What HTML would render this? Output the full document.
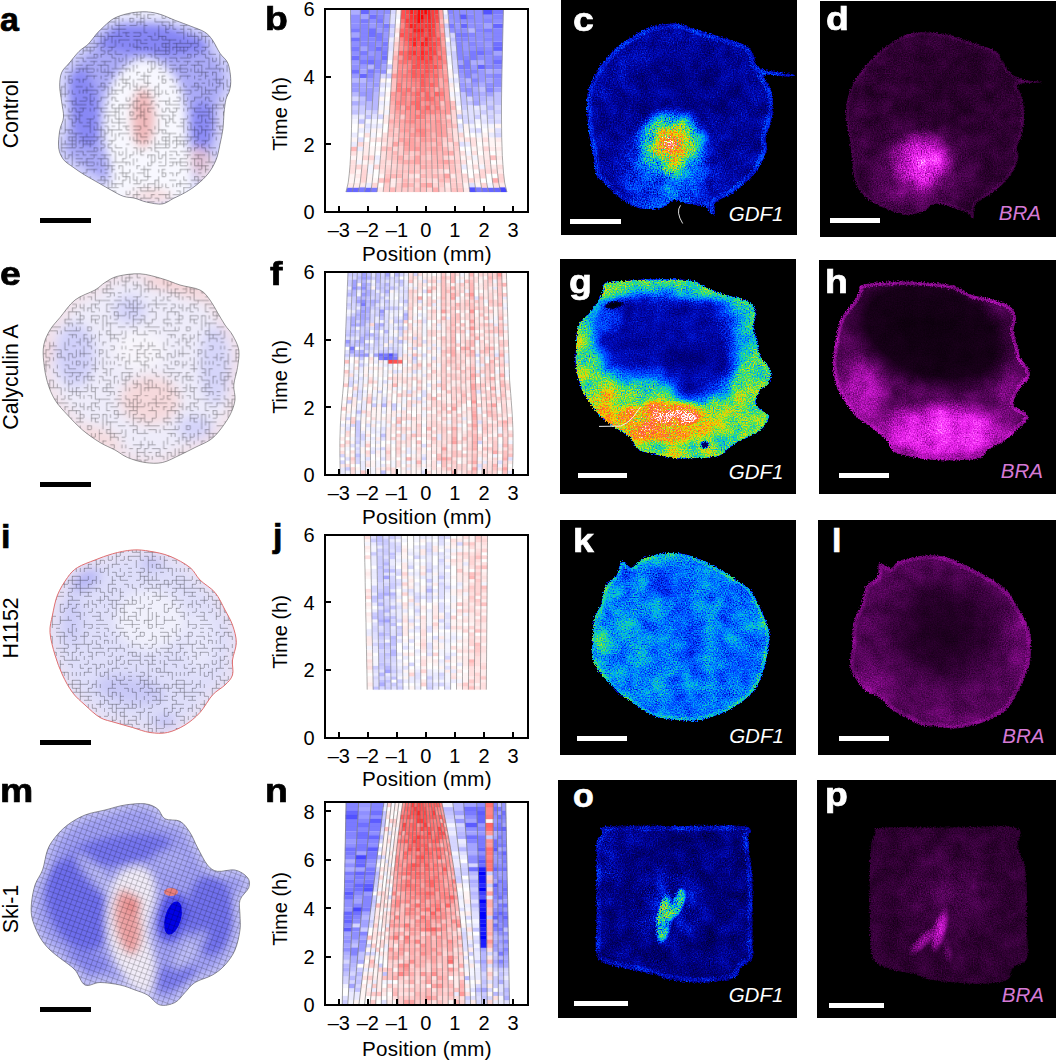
<!DOCTYPE html>
<html><head><meta charset="utf-8"><style>
html,body{margin:0;padding:0;background:#fff;}
body{width:1056px;height:1061px;position:relative;overflow:hidden;font-family:'Liberation Sans', sans-serif;}
</style></head><body>
<svg style="position:absolute;left:0;top:0" width="1056" height="1061" viewBox="0 0 1056 1061"><defs><filter id="f1" x="561" y="0" width="236" height="235" filterUnits="userSpaceOnUse" color-interpolation-filters="sRGB"><feTurbulence type="fractalNoise" baseFrequency="0.75" numOctaves="1" seed="3" result="t1"/><feTurbulence type="fractalNoise" baseFrequency="0.06" numOctaves="2" seed="10" result="t2"/><feDisplacementMap in="SourceGraphic" in2="t1" scale="5" xChannelSelector="R" yChannelSelector="G" result="sg"/><feComposite in="t1" in2="t2" operator="arithmetic" k2="0.65" k3="0.35" result="t"/><feColorMatrix in="t" values="1 0 0 0 0 1 0 0 0 0 1 0 0 0 0 0 0 0 0 1" result="n"/><feComposite in="sg" in2="n" operator="arithmetic" k1="2.4" k2="-0.200" k3="0" k4="0" result="m"/><feComponentTransfer in="m"><feFuncR type="table" tableValues="0 0 0 0 0 0 0 0.1 0.35 0.7 0.95 1 1 0.98 1 1 1"/><feFuncG type="table" tableValues="0 0 0 0.05 0.22 0.45 0.7 0.85 0.9 0.9 0.85 0.65 0.45 0.35 0.5 0.8 1"/><feFuncB type="table" tableValues="0 0.3 0.5 0.75 1 1 0.95 0.6 0.3 0.1 0 0 0.1 0.25 0.5 0.8 1"/><feFuncA type="linear" slope="0" intercept="1"/></feComponentTransfer></filter><clipPath id="c2"><path d="M660.0 25.0C665.3 24.2 672.1 23.1 678.2 23.9C684.3 24.6 689.6 27.4 696.4 29.5C703.2 31.6 712.2 34.3 719.0 36.4C725.8 38.5 732.4 40.1 737.3 42.0C742.2 43.9 745.8 45.2 748.6 47.7C751.4 50.2 753.1 54.1 754.3 56.8C755.4 59.4 753.8 61.4 755.5 63.6C757.2 65.8 758.2 68.2 764.5 70.0C770.8 71.8 789.2 73.4 793.0 74.5C796.8 75.6 791.8 76.4 787.0 76.5C782.2 76.6 767.9 74.1 764.5 75.0C761.1 75.9 765.5 78.4 766.8 81.8C768.1 85.2 771.5 90.2 772.5 95.5C773.5 100.8 773.1 108.3 772.5 113.6C771.9 118.9 770.1 123.1 769.0 127.3C767.9 131.5 766.1 135.2 765.7 138.6C765.3 142.0 767.2 144.3 766.8 147.7C766.4 151.1 765.3 154.8 763.4 159.0C761.5 163.2 758.3 168.9 755.5 172.7C752.7 176.5 750.2 178.4 746.4 181.8C742.6 185.2 737.3 190.2 732.7 193.2C728.1 196.2 722.0 198.1 719.0 200.0C716.0 201.9 715.3 202.2 714.5 204.5C713.7 206.8 714.8 212.6 714.0 214.0C713.2 215.4 711.4 214.2 710.0 213.0C708.6 211.8 709.3 208.4 705.5 206.8C701.7 205.2 692.6 204.5 687.3 203.4C682.0 202.3 677.4 199.4 673.6 200.0C669.8 200.6 668.3 205.3 664.5 206.8C660.7 208.3 655.9 209.0 651.0 209.0C646.1 209.0 640.7 209.1 635.0 206.8C629.3 204.6 621.7 199.3 616.8 195.5C611.9 191.7 608.9 187.4 605.5 184.0C602.1 180.6 598.3 179.2 596.4 175.0C594.5 170.8 595.1 165.4 594.0 159.0C592.9 152.6 590.6 144.0 589.5 136.4C588.4 128.8 587.7 120.4 587.3 113.6C586.9 106.8 586.5 100.8 587.3 95.5C588.0 90.2 589.9 86.3 591.8 81.8C593.7 77.2 596.0 72.4 598.6 68.2C601.2 64.0 604.3 60.6 607.7 56.8C611.1 53.0 614.8 48.9 619.0 45.5C623.2 42.1 628.1 39.2 632.7 36.4C637.3 33.5 641.9 30.3 646.4 28.4C650.9 26.5 654.7 25.8 660.0 25.0Z"/></clipPath><radialGradient id="r3"><stop offset="0" stop-color="#1c1c1c" stop-opacity="0.7"/><stop offset="0.5" stop-color="#1c1c1c" stop-opacity="0.42"/><stop offset="1" stop-color="#1c1c1c" stop-opacity="0"/></radialGradient><radialGradient id="r4"><stop offset="0" stop-color="#1f1f1f" stop-opacity="0.5"/><stop offset="0.5" stop-color="#1f1f1f" stop-opacity="0.3"/><stop offset="1" stop-color="#1f1f1f" stop-opacity="0"/></radialGradient><radialGradient id="r5"><stop offset="0" stop-color="#1f1f1f" stop-opacity="0.6"/><stop offset="0.5" stop-color="#1f1f1f" stop-opacity="0.36"/><stop offset="1" stop-color="#1f1f1f" stop-opacity="0"/></radialGradient><radialGradient id="r6"><stop offset="0" stop-color="#4c4c4c" stop-opacity="1"/><stop offset="0.6" stop-color="#424242" stop-opacity="0.7"/><stop offset="1" stop-color="#333333" stop-opacity="0"/></radialGradient><radialGradient id="r7"><stop offset="0" stop-color="#4c4c4c" stop-opacity="0.7"/><stop offset="0.5" stop-color="#4c4c4c" stop-opacity="0.42"/><stop offset="1" stop-color="#4c4c4c" stop-opacity="0"/></radialGradient><radialGradient id="r8"><stop offset="0" stop-color="#c7c7c7" stop-opacity="1"/><stop offset="0.3" stop-color="#a8a8a8" stop-opacity="1"/><stop offset="0.5" stop-color="#858585" stop-opacity="1"/><stop offset="0.75" stop-color="#616161" stop-opacity="0.8"/><stop offset="1" stop-color="#474747" stop-opacity="0"/></radialGradient></defs><g filter="url(#f1)"><rect x="561" y="0" width="236" height="235" fill="#000"/><path d="M660.0 25.0C665.3 24.2 672.1 23.1 678.2 23.9C684.3 24.6 689.6 27.4 696.4 29.5C703.2 31.6 712.2 34.3 719.0 36.4C725.8 38.5 732.4 40.1 737.3 42.0C742.2 43.9 745.8 45.2 748.6 47.7C751.4 50.2 753.1 54.1 754.3 56.8C755.4 59.4 753.8 61.4 755.5 63.6C757.2 65.8 758.2 68.2 764.5 70.0C770.8 71.8 789.2 73.4 793.0 74.5C796.8 75.6 791.8 76.4 787.0 76.5C782.2 76.6 767.9 74.1 764.5 75.0C761.1 75.9 765.5 78.4 766.8 81.8C768.1 85.2 771.5 90.2 772.5 95.5C773.5 100.8 773.1 108.3 772.5 113.6C771.9 118.9 770.1 123.1 769.0 127.3C767.9 131.5 766.1 135.2 765.7 138.6C765.3 142.0 767.2 144.3 766.8 147.7C766.4 151.1 765.3 154.8 763.4 159.0C761.5 163.2 758.3 168.9 755.5 172.7C752.7 176.5 750.2 178.4 746.4 181.8C742.6 185.2 737.3 190.2 732.7 193.2C728.1 196.2 722.0 198.1 719.0 200.0C716.0 201.9 715.3 202.2 714.5 204.5C713.7 206.8 714.8 212.6 714.0 214.0C713.2 215.4 711.4 214.2 710.0 213.0C708.6 211.8 709.3 208.4 705.5 206.8C701.7 205.2 692.6 204.5 687.3 203.4C682.0 202.3 677.4 199.4 673.6 200.0C669.8 200.6 668.3 205.3 664.5 206.8C660.7 208.3 655.9 209.0 651.0 209.0C646.1 209.0 640.7 209.1 635.0 206.8C629.3 204.6 621.7 199.3 616.8 195.5C611.9 191.7 608.9 187.4 605.5 184.0C602.1 180.6 598.3 179.2 596.4 175.0C594.5 170.8 595.1 165.4 594.0 159.0C592.9 152.6 590.6 144.0 589.5 136.4C588.4 128.8 587.7 120.4 587.3 113.6C586.9 106.8 586.5 100.8 587.3 95.5C588.0 90.2 589.9 86.3 591.8 81.8C593.7 77.2 596.0 72.4 598.6 68.2C601.2 64.0 604.3 60.6 607.7 56.8C611.1 53.0 614.8 48.9 619.0 45.5C623.2 42.1 628.1 39.2 632.7 36.4C637.3 33.5 641.9 30.3 646.4 28.4C650.9 26.5 654.7 25.8 660.0 25.0Z" fill="#282828"/><g clip-path="url(#c2)"><ellipse cx="690" cy="85" rx="80" ry="45" transform="rotate(-10 690 85)" fill="url(#r3)"/><ellipse cx="612" cy="120" rx="20" ry="45" fill="url(#r4)"/><ellipse cx="742" cy="135" rx="20" ry="40" fill="url(#r5)"/><ellipse cx="668" cy="175" rx="60" ry="55" fill="url(#r6)"/><ellipse cx="672" cy="192" rx="30" ry="20" fill="url(#r7)"/><ellipse cx="672" cy="145" rx="40" ry="40" fill="url(#r8)"/><path d="M660.0 25.0C665.3 24.2 672.1 23.1 678.2 23.9C684.3 24.6 689.6 27.4 696.4 29.5C703.2 31.6 712.2 34.3 719.0 36.4C725.8 38.5 732.4 40.1 737.3 42.0C742.2 43.9 745.8 45.2 748.6 47.7C751.4 50.2 753.1 54.1 754.3 56.8C755.4 59.4 753.8 61.4 755.5 63.6C757.2 65.8 758.2 68.2 764.5 70.0C770.8 71.8 789.2 73.4 793.0 74.5C796.8 75.6 791.8 76.4 787.0 76.5C782.2 76.6 767.9 74.1 764.5 75.0C761.1 75.9 765.5 78.4 766.8 81.8C768.1 85.2 771.5 90.2 772.5 95.5C773.5 100.8 773.1 108.3 772.5 113.6C771.9 118.9 770.1 123.1 769.0 127.3C767.9 131.5 766.1 135.2 765.7 138.6C765.3 142.0 767.2 144.3 766.8 147.7C766.4 151.1 765.3 154.8 763.4 159.0C761.5 163.2 758.3 168.9 755.5 172.7C752.7 176.5 750.2 178.4 746.4 181.8C742.6 185.2 737.3 190.2 732.7 193.2C728.1 196.2 722.0 198.1 719.0 200.0C716.0 201.9 715.3 202.2 714.5 204.5C713.7 206.8 714.8 212.6 714.0 214.0C713.2 215.4 711.4 214.2 710.0 213.0C708.6 211.8 709.3 208.4 705.5 206.8C701.7 205.2 692.6 204.5 687.3 203.4C682.0 202.3 677.4 199.4 673.6 200.0C669.8 200.6 668.3 205.3 664.5 206.8C660.7 208.3 655.9 209.0 651.0 209.0C646.1 209.0 640.7 209.1 635.0 206.8C629.3 204.6 621.7 199.3 616.8 195.5C611.9 191.7 608.9 187.4 605.5 184.0C602.1 180.6 598.3 179.2 596.4 175.0C594.5 170.8 595.1 165.4 594.0 159.0C592.9 152.6 590.6 144.0 589.5 136.4C588.4 128.8 587.7 120.4 587.3 113.6C586.9 106.8 586.5 100.8 587.3 95.5C588.0 90.2 589.9 86.3 591.8 81.8C593.7 77.2 596.0 72.4 598.6 68.2C601.2 64.0 604.3 60.6 607.7 56.8C611.1 53.0 614.8 48.9 619.0 45.5C623.2 42.1 628.1 39.2 632.7 36.4C637.3 33.5 641.9 30.3 646.4 28.4C650.9 26.5 654.7 25.8 660.0 25.0Z" fill="none" stroke="#424242" stroke-width="10" stroke-opacity="0.6"/></g></g><defs><filter id="f9" x="820" y="1.5" width="236" height="235.5" filterUnits="userSpaceOnUse" color-interpolation-filters="sRGB"><feTurbulence type="fractalNoise" baseFrequency="0.75" numOctaves="1" seed="4" result="t1"/><feTurbulence type="fractalNoise" baseFrequency="0.06" numOctaves="2" seed="11" result="t2"/><feDisplacementMap in="SourceGraphic" in2="t1" scale="5" xChannelSelector="R" yChannelSelector="G" result="sg"/><feComposite in="t1" in2="t2" operator="arithmetic" k2="0.65" k3="0.35" result="t"/><feColorMatrix in="t" values="1 0 0 0 0 1 0 0 0 0 1 0 0 0 0 0 0 0 0 1" result="n"/><feComposite in="sg" in2="n" operator="arithmetic" k1="2.3" k2="-0.150" k3="0" k4="0" result="m"/><feComponentTransfer in="m"><feFuncR type="table" tableValues="0 0.15 0.32 0.5 0.68 0.84 0.95 1 1 1 1"/><feFuncG type="table" tableValues="0 0 0.02 0.04 0.07 0.11 0.17 0.3 0.5 0.75 1"/><feFuncB type="table" tableValues="0 0.16 0.34 0.52 0.7 0.86 0.96 1 1 1 1"/><feFuncA type="linear" slope="0" intercept="1"/></feComponentTransfer></filter><clipPath id="c10"><path d="M913.0 32.8C921.3 31.7 936.4 32.9 944.7 34.0C953.0 35.1 956.8 37.7 962.8 39.6C968.8 41.5 975.2 43.1 980.9 45.2C986.5 47.3 992.9 49.0 996.7 52.0C1000.5 55.0 1001.2 59.9 1003.5 63.3C1005.8 66.7 1007.3 69.7 1010.3 72.4C1013.3 75.1 1016.3 77.9 1021.6 79.5C1026.9 81.1 1042.0 81.3 1042.0 82.0C1042.0 82.7 1025.8 82.8 1021.6 83.5C1017.4 84.2 1016.8 83.3 1017.0 86.0C1017.2 88.7 1021.6 93.8 1022.7 99.5C1023.9 105.2 1024.1 114.0 1023.9 120.0C1023.7 126.0 1022.8 131.2 1021.6 135.7C1020.5 140.2 1017.6 143.2 1017.0 147.0C1016.4 150.8 1018.9 154.2 1018.2 158.4C1017.5 162.6 1015.1 167.8 1012.6 172.0C1010.1 176.2 1007.3 179.5 1003.5 183.3C999.7 187.1 994.5 191.2 990.0 194.6C985.5 198.0 979.2 199.7 976.4 203.6C973.6 207.5 974.5 216.5 973.0 218.0C971.5 219.5 970.5 214.4 967.3 212.7C964.1 211.0 959.0 209.5 953.7 208.0C948.4 206.5 940.5 203.2 935.6 203.6C930.7 204.0 928.8 208.5 924.3 210.4C919.8 212.3 914.1 215.0 908.5 215.0C902.9 215.0 896.0 212.3 890.4 210.4C884.8 208.5 879.5 206.6 874.6 203.6C869.7 200.6 864.4 196.5 861.0 192.3C857.6 188.2 855.7 184.3 854.2 178.7C852.7 173.0 852.8 164.8 852.0 158.4C851.2 152.0 850.7 147.1 849.7 140.3C848.8 133.5 846.7 124.4 846.3 117.6C845.9 110.8 846.1 105.5 847.4 99.5C848.7 93.5 851.2 87.1 854.2 81.4C857.2 75.8 861.4 70.5 865.5 65.6C869.6 60.7 874.1 56.1 879.0 52.0C883.9 47.9 889.3 43.9 895.0 40.7C900.7 37.5 904.7 33.9 913.0 32.8Z"/></clipPath><radialGradient id="r11"><stop offset="0" stop-color="#161616" stop-opacity="0.6"/><stop offset="0.5" stop-color="#161616" stop-opacity="0.36"/><stop offset="1" stop-color="#161616" stop-opacity="0"/></radialGradient><radialGradient id="r12"><stop offset="0" stop-color="#6b6b6b" stop-opacity="1"/><stop offset="0.5" stop-color="#4c4c4c" stop-opacity="0.6"/><stop offset="1" stop-color="#2e2e2e" stop-opacity="0"/></radialGradient><radialGradient id="r13"><stop offset="0" stop-color="#a8a8a8" stop-opacity="1"/><stop offset="0.5" stop-color="#8a8a8a" stop-opacity="0.8"/><stop offset="1" stop-color="#666666" stop-opacity="0"/></radialGradient><radialGradient id="r14"><stop offset="0" stop-color="#4c4c4c" stop-opacity="0.5"/><stop offset="0.5" stop-color="#4c4c4c" stop-opacity="0.3"/><stop offset="1" stop-color="#4c4c4c" stop-opacity="0"/></radialGradient><radialGradient id="r15"><stop offset="0" stop-color="#333333" stop-opacity="0.5"/><stop offset="0.5" stop-color="#333333" stop-opacity="0.3"/><stop offset="1" stop-color="#333333" stop-opacity="0"/></radialGradient></defs><g filter="url(#f9)"><rect x="820" y="1.5" width="236" height="235.5" fill="#000"/><path d="M913.0 32.8C921.3 31.7 936.4 32.9 944.7 34.0C953.0 35.1 956.8 37.7 962.8 39.6C968.8 41.5 975.2 43.1 980.9 45.2C986.5 47.3 992.9 49.0 996.7 52.0C1000.5 55.0 1001.2 59.9 1003.5 63.3C1005.8 66.7 1007.3 69.7 1010.3 72.4C1013.3 75.1 1016.3 77.9 1021.6 79.5C1026.9 81.1 1042.0 81.3 1042.0 82.0C1042.0 82.7 1025.8 82.8 1021.6 83.5C1017.4 84.2 1016.8 83.3 1017.0 86.0C1017.2 88.7 1021.6 93.8 1022.7 99.5C1023.9 105.2 1024.1 114.0 1023.9 120.0C1023.7 126.0 1022.8 131.2 1021.6 135.7C1020.5 140.2 1017.6 143.2 1017.0 147.0C1016.4 150.8 1018.9 154.2 1018.2 158.4C1017.5 162.6 1015.1 167.8 1012.6 172.0C1010.1 176.2 1007.3 179.5 1003.5 183.3C999.7 187.1 994.5 191.2 990.0 194.6C985.5 198.0 979.2 199.7 976.4 203.6C973.6 207.5 974.5 216.5 973.0 218.0C971.5 219.5 970.5 214.4 967.3 212.7C964.1 211.0 959.0 209.5 953.7 208.0C948.4 206.5 940.5 203.2 935.6 203.6C930.7 204.0 928.8 208.5 924.3 210.4C919.8 212.3 914.1 215.0 908.5 215.0C902.9 215.0 896.0 212.3 890.4 210.4C884.8 208.5 879.5 206.6 874.6 203.6C869.7 200.6 864.4 196.5 861.0 192.3C857.6 188.2 855.7 184.3 854.2 178.7C852.7 173.0 852.8 164.8 852.0 158.4C851.2 152.0 850.7 147.1 849.7 140.3C848.8 133.5 846.7 124.4 846.3 117.6C845.9 110.8 846.1 105.5 847.4 99.5C848.7 93.5 851.2 87.1 854.2 81.4C857.2 75.8 861.4 70.5 865.5 65.6C869.6 60.7 874.1 56.1 879.0 52.0C883.9 47.9 889.3 43.9 895.0 40.7C900.7 37.5 904.7 33.9 913.0 32.8Z" fill="#1f1f1f"/><g clip-path="url(#c10)"><ellipse cx="950" cy="90" rx="70" ry="45" transform="rotate(-20 950 90)" fill="url(#r11)"/><ellipse cx="922" cy="168" rx="62" ry="52" fill="url(#r12)"/><ellipse cx="922" cy="162" rx="34" ry="34" fill="url(#r13)"/><ellipse cx="900" cy="195" rx="40" ry="20" fill="url(#r14)"/><ellipse cx="860" cy="140" rx="12" ry="50" fill="url(#r15)"/><path d="M913.0 32.8C921.3 31.7 936.4 32.9 944.7 34.0C953.0 35.1 956.8 37.7 962.8 39.6C968.8 41.5 975.2 43.1 980.9 45.2C986.5 47.3 992.9 49.0 996.7 52.0C1000.5 55.0 1001.2 59.9 1003.5 63.3C1005.8 66.7 1007.3 69.7 1010.3 72.4C1013.3 75.1 1016.3 77.9 1021.6 79.5C1026.9 81.1 1042.0 81.3 1042.0 82.0C1042.0 82.7 1025.8 82.8 1021.6 83.5C1017.4 84.2 1016.8 83.3 1017.0 86.0C1017.2 88.7 1021.6 93.8 1022.7 99.5C1023.9 105.2 1024.1 114.0 1023.9 120.0C1023.7 126.0 1022.8 131.2 1021.6 135.7C1020.5 140.2 1017.6 143.2 1017.0 147.0C1016.4 150.8 1018.9 154.2 1018.2 158.4C1017.5 162.6 1015.1 167.8 1012.6 172.0C1010.1 176.2 1007.3 179.5 1003.5 183.3C999.7 187.1 994.5 191.2 990.0 194.6C985.5 198.0 979.2 199.7 976.4 203.6C973.6 207.5 974.5 216.5 973.0 218.0C971.5 219.5 970.5 214.4 967.3 212.7C964.1 211.0 959.0 209.5 953.7 208.0C948.4 206.5 940.5 203.2 935.6 203.6C930.7 204.0 928.8 208.5 924.3 210.4C919.8 212.3 914.1 215.0 908.5 215.0C902.9 215.0 896.0 212.3 890.4 210.4C884.8 208.5 879.5 206.6 874.6 203.6C869.7 200.6 864.4 196.5 861.0 192.3C857.6 188.2 855.7 184.3 854.2 178.7C852.7 173.0 852.8 164.8 852.0 158.4C851.2 152.0 850.7 147.1 849.7 140.3C848.8 133.5 846.7 124.4 846.3 117.6C845.9 110.8 846.1 105.5 847.4 99.5C848.7 93.5 851.2 87.1 854.2 81.4C857.2 75.8 861.4 70.5 865.5 65.6C869.6 60.7 874.1 56.1 879.0 52.0C883.9 47.9 889.3 43.9 895.0 40.7C900.7 37.5 904.7 33.9 913.0 32.8Z" fill="none" stroke="#333333" stroke-width="6" stroke-opacity="0.5"/></g></g><defs><filter id="f16" x="560" y="259" width="236" height="235" filterUnits="userSpaceOnUse" color-interpolation-filters="sRGB"><feTurbulence type="fractalNoise" baseFrequency="0.75" numOctaves="1" seed="5" result="t1"/><feTurbulence type="fractalNoise" baseFrequency="0.06" numOctaves="2" seed="12" result="t2"/><feDisplacementMap in="SourceGraphic" in2="t1" scale="5" xChannelSelector="R" yChannelSelector="G" result="sg"/><feComposite in="t1" in2="t2" operator="arithmetic" k2="0.65" k3="0.35" result="t"/><feColorMatrix in="t" values="1 0 0 0 0 1 0 0 0 0 1 0 0 0 0 0 0 0 0 1" result="n"/><feComposite in="sg" in2="n" operator="arithmetic" k1="1.8" k2="0.100" k3="0" k4="0" result="m"/><feComponentTransfer in="m"><feFuncR type="table" tableValues="0 0 0 0 0 0 0 0.1 0.35 0.7 0.95 1 1 0.98 1 1 1"/><feFuncG type="table" tableValues="0 0 0 0.05 0.22 0.45 0.7 0.85 0.9 0.9 0.85 0.65 0.45 0.35 0.5 0.8 1"/><feFuncB type="table" tableValues="0 0.3 0.5 0.75 1 1 0.95 0.6 0.3 0.1 0 0 0.1 0.25 0.5 0.8 1"/><feFuncA type="linear" slope="0" intercept="1"/></feComponentTransfer></filter><clipPath id="c17"><path d="M605.5 283.0C609.7 281.1 619.9 281.3 628.2 280.7C636.5 280.1 644.9 279.6 655.5 279.6C666.1 279.6 683.5 279.4 691.8 280.7C700.1 282.0 700.2 285.2 705.5 287.5C710.8 289.8 717.6 292.5 723.6 294.4C729.6 296.3 736.9 297.1 741.8 299.0C746.7 300.9 750.9 302.7 753.2 305.7C755.5 308.7 755.5 313.6 755.5 317.0C755.5 320.4 752.8 321.6 753.2 326.2C753.6 330.8 756.6 339.5 757.7 344.4C758.8 349.3 758.5 352.3 760.0 355.7C761.5 359.1 764.9 361.8 766.8 364.8C768.7 367.9 771.4 370.6 771.4 374.0C771.4 377.4 768.7 382.7 766.8 385.3C764.9 387.9 761.9 386.8 760.0 389.8C758.1 392.8 754.8 399.7 755.5 403.5C756.2 407.3 762.2 410.2 764.5 412.5C766.8 414.8 769.8 414.0 769.0 417.0C768.2 420.0 764.5 426.9 760.0 430.7C755.5 434.5 746.7 437.1 741.8 439.8C736.9 442.5 734.3 444.0 730.5 446.6C726.7 449.2 724.7 453.8 719.0 455.7C713.3 457.6 704.0 457.6 696.4 458.0C688.8 458.4 681.2 458.8 673.6 458.0C666.0 457.2 657.0 455.0 651.0 453.5C645.0 452.0 640.7 451.7 637.3 449.0C633.9 446.3 633.9 440.9 630.5 437.5C627.1 434.1 621.7 431.9 616.8 428.5C611.9 425.1 605.9 421.9 601.0 417.0C596.1 412.1 590.7 404.3 587.3 399.0C583.9 393.7 582.4 390.6 580.5 385.3C578.6 380.0 576.8 373.1 576.0 367.0C575.2 360.9 575.6 355.8 576.0 349.0C576.4 342.2 576.3 331.9 578.2 326.2C580.1 320.5 584.3 318.6 587.3 314.8C590.3 311.0 593.8 307.3 596.4 303.5C599.0 299.7 601.7 295.4 603.2 292.0C604.7 288.6 601.3 284.9 605.5 283.0Z"/></clipPath><filter id="b18" x="560" y="259" width="236" height="235" filterUnits="userSpaceOnUse"><feGaussianBlur stdDeviation="7"/></filter><radialGradient id="r19"><stop offset="0" stop-color="#212121" stop-opacity="0.8"/><stop offset="0.5" stop-color="#212121" stop-opacity="0.48"/><stop offset="1" stop-color="#212121" stop-opacity="0"/></radialGradient><radialGradient id="r20"><stop offset="0" stop-color="#545454" stop-opacity="0.7"/><stop offset="0.5" stop-color="#545454" stop-opacity="0.42"/><stop offset="1" stop-color="#545454" stop-opacity="0"/></radialGradient><radialGradient id="r21"><stop offset="0" stop-color="#454545" stop-opacity="0.6"/><stop offset="0.5" stop-color="#454545" stop-opacity="0.36"/><stop offset="1" stop-color="#454545" stop-opacity="0"/></radialGradient><radialGradient id="r22"><stop offset="0" stop-color="#404040" stop-opacity="0.5"/><stop offset="0.5" stop-color="#404040" stop-opacity="0.3"/><stop offset="1" stop-color="#404040" stop-opacity="0"/></radialGradient><radialGradient id="r23"><stop offset="0" stop-color="#6b6b6b" stop-opacity="0.6"/><stop offset="0.5" stop-color="#6b6b6b" stop-opacity="0.36"/><stop offset="1" stop-color="#6b6b6b" stop-opacity="0"/></radialGradient><radialGradient id="r24"><stop offset="0" stop-color="#6b6b6b" stop-opacity="0.6"/><stop offset="0.5" stop-color="#6b6b6b" stop-opacity="0.36"/><stop offset="1" stop-color="#6b6b6b" stop-opacity="0"/></radialGradient><radialGradient id="r25"><stop offset="0" stop-color="#858585" stop-opacity="0.6"/><stop offset="0.5" stop-color="#858585" stop-opacity="0.36"/><stop offset="1" stop-color="#858585" stop-opacity="0"/></radialGradient><radialGradient id="r26"><stop offset="0" stop-color="#c7c7c7" stop-opacity="1"/><stop offset="0.7" stop-color="#b8b8b8" stop-opacity="0.9"/><stop offset="1" stop-color="#999999" stop-opacity="0"/></radialGradient><radialGradient id="r27"><stop offset="0" stop-color="#f2f2f2" stop-opacity="1"/><stop offset="0.7" stop-color="#ebebeb" stop-opacity="0.9"/><stop offset="1" stop-color="#e0e0e0" stop-opacity="0"/></radialGradient><radialGradient id="r28"><stop offset="0" stop-color="#adadad" stop-opacity="0.8"/><stop offset="0.5" stop-color="#adadad" stop-opacity="0.48"/><stop offset="1" stop-color="#adadad" stop-opacity="0"/></radialGradient><radialGradient id="r29"><stop offset="0" stop-color="#8c8c8c" stop-opacity="0.6"/><stop offset="0.5" stop-color="#8c8c8c" stop-opacity="0.36"/><stop offset="1" stop-color="#8c8c8c" stop-opacity="0"/></radialGradient><radialGradient id="r30"><stop offset="0" stop-color="#858585" stop-opacity="0.5"/><stop offset="0.5" stop-color="#858585" stop-opacity="0.3"/><stop offset="1" stop-color="#858585" stop-opacity="0"/></radialGradient><radialGradient id="r31"><stop offset="0" stop-color="#000000" stop-opacity="1"/><stop offset="0.7" stop-color="#000000" stop-opacity="0.85"/><stop offset="1" stop-color="#000000" stop-opacity="0"/></radialGradient><radialGradient id="r32"><stop offset="0" stop-color="#000000" stop-opacity="0.9"/><stop offset="0.7" stop-color="#000000" stop-opacity="0.765"/><stop offset="1" stop-color="#000000" stop-opacity="0"/></radialGradient></defs><g filter="url(#f16)"><rect x="560" y="259" width="236" height="235" fill="#000"/><path d="M605.5 283.0C609.7 281.1 619.9 281.3 628.2 280.7C636.5 280.1 644.9 279.6 655.5 279.6C666.1 279.6 683.5 279.4 691.8 280.7C700.1 282.0 700.2 285.2 705.5 287.5C710.8 289.8 717.6 292.5 723.6 294.4C729.6 296.3 736.9 297.1 741.8 299.0C746.7 300.9 750.9 302.7 753.2 305.7C755.5 308.7 755.5 313.6 755.5 317.0C755.5 320.4 752.8 321.6 753.2 326.2C753.6 330.8 756.6 339.5 757.7 344.4C758.8 349.3 758.5 352.3 760.0 355.7C761.5 359.1 764.9 361.8 766.8 364.8C768.7 367.9 771.4 370.6 771.4 374.0C771.4 377.4 768.7 382.7 766.8 385.3C764.9 387.9 761.9 386.8 760.0 389.8C758.1 392.8 754.8 399.7 755.5 403.5C756.2 407.3 762.2 410.2 764.5 412.5C766.8 414.8 769.8 414.0 769.0 417.0C768.2 420.0 764.5 426.9 760.0 430.7C755.5 434.5 746.7 437.1 741.8 439.8C736.9 442.5 734.3 444.0 730.5 446.6C726.7 449.2 724.7 453.8 719.0 455.7C713.3 457.6 704.0 457.6 696.4 458.0C688.8 458.4 681.2 458.8 673.6 458.0C666.0 457.2 657.0 455.0 651.0 453.5C645.0 452.0 640.7 451.7 637.3 449.0C633.9 446.3 633.9 440.9 630.5 437.5C627.1 434.1 621.7 431.9 616.8 428.5C611.9 425.1 605.9 421.9 601.0 417.0C596.1 412.1 590.7 404.3 587.3 399.0C583.9 393.7 582.4 390.6 580.5 385.3C578.6 380.0 576.8 373.1 576.0 367.0C575.2 360.9 575.6 355.8 576.0 349.0C576.4 342.2 576.3 331.9 578.2 326.2C580.1 320.5 584.3 318.6 587.3 314.8C590.3 311.0 593.8 307.3 596.4 303.5C599.0 299.7 601.7 295.4 603.2 292.0C604.7 288.6 601.3 284.9 605.5 283.0Z" fill="#808080"/><g clip-path="url(#c17)"><path d="M600.0 305.0C607.5 297.0 623.3 293.5 640.0 292.0C656.7 290.5 684.2 293.8 700.0 296.0C715.8 298.2 727.0 299.3 735.0 305.0C743.0 310.7 746.8 320.8 748.0 330.0C749.2 339.2 745.8 350.8 742.0 360.0C738.2 369.2 731.2 378.7 725.0 385.0C718.8 391.3 710.8 394.7 705.0 398.0C699.2 401.3 695.0 406.0 690.0 405.0C685.0 404.0 680.0 396.2 675.0 392.0C670.0 387.8 667.5 382.3 660.0 380.0C652.5 377.7 639.2 380.5 630.0 378.0C620.8 375.5 610.8 371.3 605.0 365.0C599.2 358.7 595.8 350.0 595.0 340.0C594.2 330.0 592.5 313.0 600.0 305.0Z" fill="#2b2b2b" fill-opacity="1.0" filter="url(#b18)"/><ellipse cx="690" cy="355" rx="45" ry="28" fill="url(#r19)"/><ellipse cx="612" cy="322" rx="16" ry="14" fill="url(#r20)"/><ellipse cx="725" cy="315" rx="18" ry="12" fill="url(#r21)"/><ellipse cx="650" cy="372" rx="20" ry="10" fill="url(#r22)"/><ellipse cx="740" cy="330" rx="22" ry="40" fill="url(#r23)"/><ellipse cx="700" cy="293" rx="40" ry="10" fill="url(#r24)"/><ellipse cx="612" cy="292" rx="25" ry="8" fill="url(#r25)"/><ellipse cx="662" cy="422" rx="62" ry="25" fill="url(#r26)"/><ellipse cx="677" cy="418" rx="25" ry="9" fill="url(#r27)"/><ellipse cx="600" cy="412" rx="26" ry="30" fill="url(#r28)"/><ellipse cx="680" cy="450" rx="40" ry="8" fill="url(#r29)"/><ellipse cx="750" cy="408" rx="18" ry="34" fill="url(#r30)"/><ellipse cx="614" cy="305" rx="11" ry="4" transform="rotate(-10 614 305)" fill="url(#r31)"/><ellipse cx="705" cy="445" rx="5" ry="4" fill="url(#r32)"/></g></g><defs><filter id="f33" x="819" y="260" width="237" height="234" filterUnits="userSpaceOnUse" color-interpolation-filters="sRGB"><feTurbulence type="fractalNoise" baseFrequency="0.75" numOctaves="1" seed="6" result="t1"/><feTurbulence type="fractalNoise" baseFrequency="0.06" numOctaves="2" seed="13" result="t2"/><feDisplacementMap in="SourceGraphic" in2="t1" scale="5" xChannelSelector="R" yChannelSelector="G" result="sg"/><feComposite in="t1" in2="t2" operator="arithmetic" k2="0.65" k3="0.35" result="t"/><feColorMatrix in="t" values="1 0 0 0 0 1 0 0 0 0 1 0 0 0 0 0 0 0 0 1" result="n"/><feComposite in="sg" in2="n" operator="arithmetic" k1="1.8" k2="0.100" k3="0" k4="0" result="m"/><feComponentTransfer in="m"><feFuncR type="table" tableValues="0 0.15 0.32 0.5 0.68 0.84 0.95 1 1 1 1"/><feFuncG type="table" tableValues="0 0 0.02 0.04 0.07 0.11 0.17 0.3 0.5 0.75 1"/><feFuncB type="table" tableValues="0 0.16 0.34 0.52 0.7 0.86 0.96 1 1 1 1"/><feFuncA type="linear" slope="0" intercept="1"/></feComponentTransfer></filter><clipPath id="c34"><path d="M861.5 285.3C865.7 283.6 874.7 282.5 884.2 281.9C893.7 281.3 906.9 281.3 918.3 281.9C929.7 282.5 943.7 283.2 952.4 285.3C961.1 287.4 964.1 292.1 970.5 294.4C976.9 296.7 984.5 297.1 991.0 299.0C997.5 300.9 1005.0 302.7 1009.2 305.7C1013.4 308.7 1015.2 312.8 1016.0 317.0C1016.8 321.2 1013.3 325.4 1013.7 330.7C1014.1 336.0 1017.2 344.4 1018.3 349.0C1019.4 353.6 1019.0 355.0 1020.5 358.0C1022.0 361.0 1025.9 364.0 1027.4 367.0C1028.9 370.0 1030.4 373.1 1029.6 376.2C1028.8 379.2 1025.1 382.3 1022.8 385.3C1020.5 388.3 1017.5 391.0 1016.0 394.4C1014.5 397.8 1012.2 402.7 1013.7 405.7C1015.2 408.7 1022.7 410.2 1025.0 412.5C1027.3 414.8 1028.9 416.4 1027.4 419.4C1025.9 422.4 1020.2 426.9 1016.0 430.7C1011.8 434.5 1006.9 438.9 1002.4 442.0C997.9 445.1 992.5 446.3 988.7 449.0C984.9 451.7 985.7 456.1 979.6 458.0C973.5 459.9 961.5 460.1 952.4 460.3C943.3 460.5 932.6 459.8 925.0 459.0C917.4 458.2 912.3 457.0 907.0 455.7C901.7 454.4 896.7 453.8 893.3 451.2C889.9 448.6 889.9 443.6 886.5 439.8C883.1 436.0 877.7 432.3 872.8 428.5C867.9 424.7 861.9 421.9 857.0 417.0C852.1 412.1 846.7 404.3 843.3 399.0C839.9 393.7 838.2 390.6 836.5 385.3C834.8 380.0 833.4 373.1 833.0 367.0C832.6 360.9 833.2 355.8 834.2 349.0C835.2 342.2 837.2 331.9 838.7 326.2C840.2 320.5 841.0 318.6 843.3 314.8C845.6 311.0 849.8 307.3 852.4 303.5C855.0 299.7 857.7 295.0 859.2 292.0C860.7 289.0 857.3 287.0 861.5 285.3Z"/></clipPath><radialGradient id="r35"><stop offset="0" stop-color="#0a0a0a" stop-opacity="1"/><stop offset="0.7" stop-color="#0d0d0d" stop-opacity="0.95"/><stop offset="1" stop-color="#141414" stop-opacity="0"/></radialGradient><radialGradient id="r36"><stop offset="0" stop-color="#9e9e9e" stop-opacity="1"/><stop offset="0.6" stop-color="#8f8f8f" stop-opacity="0.85"/><stop offset="1" stop-color="#737373" stop-opacity="0"/></radialGradient><radialGradient id="r37"><stop offset="0" stop-color="#808080" stop-opacity="0.8"/><stop offset="0.5" stop-color="#808080" stop-opacity="0.48"/><stop offset="1" stop-color="#808080" stop-opacity="0"/></radialGradient><radialGradient id="r38"><stop offset="0" stop-color="#6b6b6b" stop-opacity="0.6"/><stop offset="0.5" stop-color="#6b6b6b" stop-opacity="0.36"/><stop offset="1" stop-color="#6b6b6b" stop-opacity="0"/></radialGradient></defs><g filter="url(#f33)"><rect x="819" y="260" width="237" height="234" fill="#000"/><path d="M861.5 285.3C865.7 283.6 874.7 282.5 884.2 281.9C893.7 281.3 906.9 281.3 918.3 281.9C929.7 282.5 943.7 283.2 952.4 285.3C961.1 287.4 964.1 292.1 970.5 294.4C976.9 296.7 984.5 297.1 991.0 299.0C997.5 300.9 1005.0 302.7 1009.2 305.7C1013.4 308.7 1015.2 312.8 1016.0 317.0C1016.8 321.2 1013.3 325.4 1013.7 330.7C1014.1 336.0 1017.2 344.4 1018.3 349.0C1019.4 353.6 1019.0 355.0 1020.5 358.0C1022.0 361.0 1025.9 364.0 1027.4 367.0C1028.9 370.0 1030.4 373.1 1029.6 376.2C1028.8 379.2 1025.1 382.3 1022.8 385.3C1020.5 388.3 1017.5 391.0 1016.0 394.4C1014.5 397.8 1012.2 402.7 1013.7 405.7C1015.2 408.7 1022.7 410.2 1025.0 412.5C1027.3 414.8 1028.9 416.4 1027.4 419.4C1025.9 422.4 1020.2 426.9 1016.0 430.7C1011.8 434.5 1006.9 438.9 1002.4 442.0C997.9 445.1 992.5 446.3 988.7 449.0C984.9 451.7 985.7 456.1 979.6 458.0C973.5 459.9 961.5 460.1 952.4 460.3C943.3 460.5 932.6 459.8 925.0 459.0C917.4 458.2 912.3 457.0 907.0 455.7C901.7 454.4 896.7 453.8 893.3 451.2C889.9 448.6 889.9 443.6 886.5 439.8C883.1 436.0 877.7 432.3 872.8 428.5C867.9 424.7 861.9 421.9 857.0 417.0C852.1 412.1 846.7 404.3 843.3 399.0C839.9 393.7 838.2 390.6 836.5 385.3C834.8 380.0 833.4 373.1 833.0 367.0C832.6 360.9 833.2 355.8 834.2 349.0C835.2 342.2 837.2 331.9 838.7 326.2C840.2 320.5 841.0 318.6 843.3 314.8C845.6 311.0 849.8 307.3 852.4 303.5C855.0 299.7 857.7 295.0 859.2 292.0C860.7 289.0 857.3 287.0 861.5 285.3Z" fill="#333333"/><g clip-path="url(#c34)"><ellipse cx="932" cy="332" rx="95" ry="60" transform="rotate(18 932 332)" fill="url(#r35)"/><ellipse cx="945" cy="432" rx="80" ry="34" fill="url(#r36)"/><ellipse cx="862" cy="395" rx="32" ry="45" fill="url(#r37)"/><ellipse cx="1010" cy="395" rx="16" ry="36" fill="url(#r38)"/><path d="M861.5 285.3C865.7 283.6 874.7 282.5 884.2 281.9C893.7 281.3 906.9 281.3 918.3 281.9C929.7 282.5 943.7 283.2 952.4 285.3C961.1 287.4 964.1 292.1 970.5 294.4C976.9 296.7 984.5 297.1 991.0 299.0C997.5 300.9 1005.0 302.7 1009.2 305.7C1013.4 308.7 1015.2 312.8 1016.0 317.0C1016.8 321.2 1013.3 325.4 1013.7 330.7C1014.1 336.0 1017.2 344.4 1018.3 349.0C1019.4 353.6 1019.0 355.0 1020.5 358.0C1022.0 361.0 1025.9 364.0 1027.4 367.0C1028.9 370.0 1030.4 373.1 1029.6 376.2C1028.8 379.2 1025.1 382.3 1022.8 385.3C1020.5 388.3 1017.5 391.0 1016.0 394.4C1014.5 397.8 1012.2 402.7 1013.7 405.7C1015.2 408.7 1022.7 410.2 1025.0 412.5C1027.3 414.8 1028.9 416.4 1027.4 419.4C1025.9 422.4 1020.2 426.9 1016.0 430.7C1011.8 434.5 1006.9 438.9 1002.4 442.0C997.9 445.1 992.5 446.3 988.7 449.0C984.9 451.7 985.7 456.1 979.6 458.0C973.5 459.9 961.5 460.1 952.4 460.3C943.3 460.5 932.6 459.8 925.0 459.0C917.4 458.2 912.3 457.0 907.0 455.7C901.7 454.4 896.7 453.8 893.3 451.2C889.9 448.6 889.9 443.6 886.5 439.8C883.1 436.0 877.7 432.3 872.8 428.5C867.9 424.7 861.9 421.9 857.0 417.0C852.1 412.1 846.7 404.3 843.3 399.0C839.9 393.7 838.2 390.6 836.5 385.3C834.8 380.0 833.4 373.1 833.0 367.0C832.6 360.9 833.2 355.8 834.2 349.0C835.2 342.2 837.2 331.9 838.7 326.2C840.2 320.5 841.0 318.6 843.3 314.8C845.6 311.0 849.8 307.3 852.4 303.5C855.0 299.7 857.7 295.0 859.2 292.0C860.7 289.0 857.3 287.0 861.5 285.3Z" fill="none" stroke="#6b6b6b" stroke-width="7" stroke-opacity="0.65"/></g></g><defs><filter id="f39" x="560" y="520" width="236" height="235" filterUnits="userSpaceOnUse" color-interpolation-filters="sRGB"><feTurbulence type="fractalNoise" baseFrequency="0.75" numOctaves="1" seed="7" result="t1"/><feTurbulence type="fractalNoise" baseFrequency="0.06" numOctaves="2" seed="14" result="t2"/><feDisplacementMap in="SourceGraphic" in2="t1" scale="5" xChannelSelector="R" yChannelSelector="G" result="sg"/><feComposite in="t1" in2="t2" operator="arithmetic" k2="0.65" k3="0.35" result="t"/><feColorMatrix in="t" values="1 0 0 0 0 1 0 0 0 0 1 0 0 0 0 0 0 0 0 1" result="n"/><feComposite in="sg" in2="n" operator="arithmetic" k1="2.0" k2="0.000" k3="0" k4="0" result="m"/><feComponentTransfer in="m"><feFuncR type="table" tableValues="0 0 0 0 0 0 0 0.1 0.35 0.7 0.95 1 1 0.98 1 1 1"/><feFuncG type="table" tableValues="0 0 0 0.05 0.22 0.45 0.7 0.85 0.9 0.9 0.85 0.65 0.45 0.35 0.5 0.8 1"/><feFuncB type="table" tableValues="0 0.3 0.5 0.75 1 1 0.95 0.6 0.3 0.1 0 0 0.1 0.25 0.5 0.8 1"/><feFuncA type="linear" slope="0" intercept="1"/></feComponentTransfer></filter><clipPath id="c40"><path d="M648.9 556.6C653.4 555.3 660.9 553.6 667.0 553.2C673.1 552.8 679.2 553.1 685.3 554.4C691.4 555.7 697.5 558.6 703.5 561.2C709.5 563.9 716.3 567.3 721.6 570.3C726.9 573.3 730.7 576.4 735.3 579.4C739.9 582.4 745.6 585.1 749.0 588.5C752.4 591.9 753.5 595.6 755.7 599.8C758.0 604.0 760.6 609.3 762.5 613.5C764.4 617.7 765.9 621.0 767.0 624.8C768.1 628.6 769.4 631.3 769.4 636.2C769.4 641.1 768.1 648.4 767.0 654.4C765.9 660.4 764.4 666.8 762.5 672.5C760.6 678.2 758.7 684.0 755.7 688.5C752.7 693.0 748.6 696.4 744.4 699.8C740.2 703.2 735.6 706.4 730.7 709.0C725.8 711.6 720.1 713.8 714.8 715.7C709.5 717.6 704.7 719.5 699.0 720.3C693.3 721.1 686.8 720.7 680.7 720.3C674.6 719.9 667.8 719.1 662.5 718.0C657.2 716.9 653.4 715.8 648.9 713.5C644.4 711.2 639.8 707.4 635.3 704.4C630.8 701.4 626.1 699.1 621.6 695.3C617.1 691.5 612.2 686.1 608.0 681.6C603.8 677.1 599.3 672.5 596.6 668.0C593.9 663.5 592.6 659.7 592.0 654.4C591.4 649.1 592.8 642.3 593.2 636.2C593.6 630.1 593.1 623.3 594.4 618.0C595.7 612.7 599.3 609.7 601.2 604.4C603.1 599.1 603.1 591.1 605.7 586.2C608.3 581.3 614.4 579.0 617.0 574.8C619.6 570.6 619.3 562.3 621.6 561.2C623.9 560.1 627.7 568.0 630.7 568.0C633.7 568.0 636.8 563.1 639.8 561.2C642.8 559.3 644.4 557.9 648.9 556.6Z"/></clipPath><radialGradient id="r41"><stop offset="0" stop-color="#363636" stop-opacity="0.75"/><stop offset="0.5" stop-color="#363636" stop-opacity="0.45"/><stop offset="1" stop-color="#363636" stop-opacity="0"/></radialGradient><radialGradient id="r42"><stop offset="0" stop-color="#383838" stop-opacity="0.65"/><stop offset="0.5" stop-color="#383838" stop-opacity="0.39"/><stop offset="1" stop-color="#383838" stop-opacity="0"/></radialGradient><radialGradient id="r43"><stop offset="0" stop-color="#3b3b3b" stop-opacity="0.6"/><stop offset="0.5" stop-color="#3b3b3b" stop-opacity="0.36"/><stop offset="1" stop-color="#3b3b3b" stop-opacity="0"/></radialGradient><radialGradient id="r44"><stop offset="0" stop-color="#3b3b3b" stop-opacity="0.55"/><stop offset="0.5" stop-color="#3b3b3b" stop-opacity="0.33"/><stop offset="1" stop-color="#3b3b3b" stop-opacity="0"/></radialGradient><radialGradient id="r45"><stop offset="0" stop-color="#404040" stop-opacity="0.5"/><stop offset="0.5" stop-color="#404040" stop-opacity="0.3"/><stop offset="1" stop-color="#404040" stop-opacity="0"/></radialGradient><radialGradient id="r46"><stop offset="0" stop-color="#5e5e5e" stop-opacity="0.7"/><stop offset="0.5" stop-color="#5e5e5e" stop-opacity="0.42"/><stop offset="1" stop-color="#5e5e5e" stop-opacity="0"/></radialGradient><radialGradient id="r47"><stop offset="0" stop-color="#595959" stop-opacity="0.6"/><stop offset="0.5" stop-color="#595959" stop-opacity="0.36"/><stop offset="1" stop-color="#595959" stop-opacity="0"/></radialGradient><radialGradient id="r48"><stop offset="0" stop-color="#7a7a7a" stop-opacity="0.7"/><stop offset="0.5" stop-color="#7a7a7a" stop-opacity="0.42"/><stop offset="1" stop-color="#7a7a7a" stop-opacity="0"/></radialGradient><radialGradient id="r49"><stop offset="0" stop-color="#7a7a7a" stop-opacity="0.6"/><stop offset="0.5" stop-color="#7a7a7a" stop-opacity="0.36"/><stop offset="1" stop-color="#7a7a7a" stop-opacity="0"/></radialGradient></defs><g filter="url(#f39)"><rect x="560" y="520" width="236" height="235" fill="#000"/><path d="M648.9 556.6C653.4 555.3 660.9 553.6 667.0 553.2C673.1 552.8 679.2 553.1 685.3 554.4C691.4 555.7 697.5 558.6 703.5 561.2C709.5 563.9 716.3 567.3 721.6 570.3C726.9 573.3 730.7 576.4 735.3 579.4C739.9 582.4 745.6 585.1 749.0 588.5C752.4 591.9 753.5 595.6 755.7 599.8C758.0 604.0 760.6 609.3 762.5 613.5C764.4 617.7 765.9 621.0 767.0 624.8C768.1 628.6 769.4 631.3 769.4 636.2C769.4 641.1 768.1 648.4 767.0 654.4C765.9 660.4 764.4 666.8 762.5 672.5C760.6 678.2 758.7 684.0 755.7 688.5C752.7 693.0 748.6 696.4 744.4 699.8C740.2 703.2 735.6 706.4 730.7 709.0C725.8 711.6 720.1 713.8 714.8 715.7C709.5 717.6 704.7 719.5 699.0 720.3C693.3 721.1 686.8 720.7 680.7 720.3C674.6 719.9 667.8 719.1 662.5 718.0C657.2 716.9 653.4 715.8 648.9 713.5C644.4 711.2 639.8 707.4 635.3 704.4C630.8 701.4 626.1 699.1 621.6 695.3C617.1 691.5 612.2 686.1 608.0 681.6C603.8 677.1 599.3 672.5 596.6 668.0C593.9 663.5 592.6 659.7 592.0 654.4C591.4 649.1 592.8 642.3 593.2 636.2C593.6 630.1 593.1 623.3 594.4 618.0C595.7 612.7 599.3 609.7 601.2 604.4C603.1 599.1 603.1 591.1 605.7 586.2C608.3 581.3 614.4 579.0 617.0 574.8C619.6 570.6 619.3 562.3 621.6 561.2C623.9 560.1 627.7 568.0 630.7 568.0C633.7 568.0 636.8 563.1 639.8 561.2C642.8 559.3 644.4 557.9 648.9 556.6Z" fill="#525252"/><g clip-path="url(#c40)"><ellipse cx="670" cy="585" rx="30" ry="22" transform="rotate(20 670 585)" fill="url(#r41)"/><ellipse cx="692" cy="640" rx="16" ry="40" transform="rotate(-10 692 640)" fill="url(#r42)"/><ellipse cx="688" cy="700" rx="22" ry="16" fill="url(#r43)"/><ellipse cx="745" cy="665" rx="22" ry="28" fill="url(#r44)"/><ellipse cx="735" cy="600" rx="18" ry="16" fill="url(#r45)"/><ellipse cx="622" cy="640" rx="30" ry="50" fill="url(#r46)"/><ellipse cx="645" cy="700" rx="30" ry="20" fill="url(#r47)"/><ellipse cx="600" cy="640" rx="10" ry="45" fill="url(#r48)"/><ellipse cx="680" cy="556" rx="40" ry="6" fill="url(#r49)"/><path d="M648.9 556.6C653.4 555.3 660.9 553.6 667.0 553.2C673.1 552.8 679.2 553.1 685.3 554.4C691.4 555.7 697.5 558.6 703.5 561.2C709.5 563.9 716.3 567.3 721.6 570.3C726.9 573.3 730.7 576.4 735.3 579.4C739.9 582.4 745.6 585.1 749.0 588.5C752.4 591.9 753.5 595.6 755.7 599.8C758.0 604.0 760.6 609.3 762.5 613.5C764.4 617.7 765.9 621.0 767.0 624.8C768.1 628.6 769.4 631.3 769.4 636.2C769.4 641.1 768.1 648.4 767.0 654.4C765.9 660.4 764.4 666.8 762.5 672.5C760.6 678.2 758.7 684.0 755.7 688.5C752.7 693.0 748.6 696.4 744.4 699.8C740.2 703.2 735.6 706.4 730.7 709.0C725.8 711.6 720.1 713.8 714.8 715.7C709.5 717.6 704.7 719.5 699.0 720.3C693.3 721.1 686.8 720.7 680.7 720.3C674.6 719.9 667.8 719.1 662.5 718.0C657.2 716.9 653.4 715.8 648.9 713.5C644.4 711.2 639.8 707.4 635.3 704.4C630.8 701.4 626.1 699.1 621.6 695.3C617.1 691.5 612.2 686.1 608.0 681.6C603.8 677.1 599.3 672.5 596.6 668.0C593.9 663.5 592.6 659.7 592.0 654.4C591.4 649.1 592.8 642.3 593.2 636.2C593.6 630.1 593.1 623.3 594.4 618.0C595.7 612.7 599.3 609.7 601.2 604.4C603.1 599.1 603.1 591.1 605.7 586.2C608.3 581.3 614.4 579.0 617.0 574.8C619.6 570.6 619.3 562.3 621.6 561.2C623.9 560.1 627.7 568.0 630.7 568.0C633.7 568.0 636.8 563.1 639.8 561.2C642.8 559.3 644.4 557.9 648.9 556.6Z" fill="none" stroke="#737373" stroke-width="6" stroke-opacity="0.6"/></g></g><defs><filter id="f50" x="818" y="520" width="238" height="235" filterUnits="userSpaceOnUse" color-interpolation-filters="sRGB"><feTurbulence type="fractalNoise" baseFrequency="0.75" numOctaves="1" seed="8" result="t1"/><feTurbulence type="fractalNoise" baseFrequency="0.06" numOctaves="2" seed="15" result="t2"/><feDisplacementMap in="SourceGraphic" in2="t1" scale="5" xChannelSelector="R" yChannelSelector="G" result="sg"/><feComposite in="t1" in2="t2" operator="arithmetic" k2="0.65" k3="0.35" result="t"/><feColorMatrix in="t" values="1 0 0 0 0 1 0 0 0 0 1 0 0 0 0 0 0 0 0 1" result="n"/><feComposite in="sg" in2="n" operator="arithmetic" k1="1.8" k2="0.100" k3="0" k4="0" result="m"/><feComponentTransfer in="m"><feFuncR type="table" tableValues="0 0.15 0.32 0.5 0.68 0.84 0.95 1 1 1 1"/><feFuncG type="table" tableValues="0 0 0.02 0.04 0.07 0.11 0.17 0.3 0.5 0.75 1"/><feFuncB type="table" tableValues="0 0.16 0.34 0.52 0.7 0.86 0.96 1 1 1 1"/><feFuncA type="linear" slope="0" intercept="1"/></feComponentTransfer></filter><clipPath id="c51"><path d="M907.0 559.0C911.5 558.0 919.0 555.9 925.0 555.5C931.0 555.1 937.2 555.3 943.3 556.6C949.4 557.9 955.5 560.9 961.5 563.5C967.5 566.1 973.9 569.5 979.6 572.5C985.3 575.5 990.6 578.2 995.5 581.6C1000.4 585.0 1005.8 589.2 1009.2 593.0C1012.6 596.8 1013.7 600.6 1016.0 604.4C1018.3 608.2 1020.5 611.2 1022.8 615.7C1025.1 620.2 1028.3 626.7 1029.6 631.6C1030.9 636.5 1030.8 640.0 1030.8 645.3C1030.8 650.6 1030.9 657.5 1029.6 663.5C1028.3 669.5 1025.1 676.3 1022.8 681.6C1020.5 686.9 1018.6 690.7 1016.0 695.3C1013.4 699.9 1010.8 705.2 1007.0 709.0C1003.2 712.8 998.6 715.4 993.3 718.0C988.0 720.6 981.0 723.1 975.0 724.8C969.0 726.5 963.0 727.8 957.0 728.2C951.0 728.6 944.8 727.6 938.7 727.0C932.6 726.4 925.8 726.3 920.5 724.8C915.2 723.3 911.9 720.6 907.0 718.0C902.1 715.4 895.6 712.4 891.0 709.0C886.4 705.6 883.8 700.5 879.6 697.5C875.4 694.5 870.2 694.1 866.0 690.7C861.8 687.3 857.3 681.5 854.6 677.0C851.9 672.5 850.4 668.8 850.0 663.5C849.6 658.2 851.8 652.1 852.4 645.3C853.0 638.5 852.0 629.3 853.5 622.5C855.0 615.7 859.4 610.4 861.5 604.4C863.6 598.4 863.4 590.8 866.0 586.2C868.6 581.6 875.1 580.8 877.4 577.0C879.7 573.2 877.3 565.0 879.6 563.5C881.9 562.0 888.0 568.4 891.0 568.0C894.0 567.6 895.1 562.7 897.8 561.2C900.5 559.7 902.5 560.0 907.0 559.0Z"/></clipPath><radialGradient id="r52"><stop offset="0" stop-color="#121212" stop-opacity="1"/><stop offset="0.5" stop-color="#171717" stop-opacity="0.8"/><stop offset="1" stop-color="#292929" stop-opacity="0"/></radialGradient><radialGradient id="r53"><stop offset="0" stop-color="#666666" stop-opacity="0.6"/><stop offset="0.5" stop-color="#666666" stop-opacity="0.36"/><stop offset="1" stop-color="#666666" stop-opacity="0"/></radialGradient><radialGradient id="r54"><stop offset="0" stop-color="#525252" stop-opacity="0.5"/><stop offset="0.5" stop-color="#525252" stop-opacity="0.3"/><stop offset="1" stop-color="#525252" stop-opacity="0"/></radialGradient><radialGradient id="r55"><stop offset="0" stop-color="#4c4c4c" stop-opacity="0.5"/><stop offset="0.5" stop-color="#4c4c4c" stop-opacity="0.3"/><stop offset="1" stop-color="#4c4c4c" stop-opacity="0"/></radialGradient></defs><g filter="url(#f50)"><rect x="818" y="520" width="238" height="235" fill="#000"/><path d="M907.0 559.0C911.5 558.0 919.0 555.9 925.0 555.5C931.0 555.1 937.2 555.3 943.3 556.6C949.4 557.9 955.5 560.9 961.5 563.5C967.5 566.1 973.9 569.5 979.6 572.5C985.3 575.5 990.6 578.2 995.5 581.6C1000.4 585.0 1005.8 589.2 1009.2 593.0C1012.6 596.8 1013.7 600.6 1016.0 604.4C1018.3 608.2 1020.5 611.2 1022.8 615.7C1025.1 620.2 1028.3 626.7 1029.6 631.6C1030.9 636.5 1030.8 640.0 1030.8 645.3C1030.8 650.6 1030.9 657.5 1029.6 663.5C1028.3 669.5 1025.1 676.3 1022.8 681.6C1020.5 686.9 1018.6 690.7 1016.0 695.3C1013.4 699.9 1010.8 705.2 1007.0 709.0C1003.2 712.8 998.6 715.4 993.3 718.0C988.0 720.6 981.0 723.1 975.0 724.8C969.0 726.5 963.0 727.8 957.0 728.2C951.0 728.6 944.8 727.6 938.7 727.0C932.6 726.4 925.8 726.3 920.5 724.8C915.2 723.3 911.9 720.6 907.0 718.0C902.1 715.4 895.6 712.4 891.0 709.0C886.4 705.6 883.8 700.5 879.6 697.5C875.4 694.5 870.2 694.1 866.0 690.7C861.8 687.3 857.3 681.5 854.6 677.0C851.9 672.5 850.4 668.8 850.0 663.5C849.6 658.2 851.8 652.1 852.4 645.3C853.0 638.5 852.0 629.3 853.5 622.5C855.0 615.7 859.4 610.4 861.5 604.4C863.6 598.4 863.4 590.8 866.0 586.2C868.6 581.6 875.1 580.8 877.4 577.0C879.7 573.2 877.3 565.0 879.6 563.5C881.9 562.0 888.0 568.4 891.0 568.0C894.0 567.6 895.1 562.7 897.8 561.2C900.5 559.7 902.5 560.0 907.0 559.0Z" fill="#333333"/><g clip-path="url(#c51)"><ellipse cx="945" cy="630" rx="80" ry="72" fill="url(#r52)"/><ellipse cx="870" cy="690" rx="30" ry="30" fill="url(#r53)"/><ellipse cx="1018" cy="640" rx="18" ry="50" fill="url(#r54)"/><ellipse cx="950" cy="718" rx="40" ry="12" fill="url(#r55)"/><path d="M907.0 559.0C911.5 558.0 919.0 555.9 925.0 555.5C931.0 555.1 937.2 555.3 943.3 556.6C949.4 557.9 955.5 560.9 961.5 563.5C967.5 566.1 973.9 569.5 979.6 572.5C985.3 575.5 990.6 578.2 995.5 581.6C1000.4 585.0 1005.8 589.2 1009.2 593.0C1012.6 596.8 1013.7 600.6 1016.0 604.4C1018.3 608.2 1020.5 611.2 1022.8 615.7C1025.1 620.2 1028.3 626.7 1029.6 631.6C1030.9 636.5 1030.8 640.0 1030.8 645.3C1030.8 650.6 1030.9 657.5 1029.6 663.5C1028.3 669.5 1025.1 676.3 1022.8 681.6C1020.5 686.9 1018.6 690.7 1016.0 695.3C1013.4 699.9 1010.8 705.2 1007.0 709.0C1003.2 712.8 998.6 715.4 993.3 718.0C988.0 720.6 981.0 723.1 975.0 724.8C969.0 726.5 963.0 727.8 957.0 728.2C951.0 728.6 944.8 727.6 938.7 727.0C932.6 726.4 925.8 726.3 920.5 724.8C915.2 723.3 911.9 720.6 907.0 718.0C902.1 715.4 895.6 712.4 891.0 709.0C886.4 705.6 883.8 700.5 879.6 697.5C875.4 694.5 870.2 694.1 866.0 690.7C861.8 687.3 857.3 681.5 854.6 677.0C851.9 672.5 850.4 668.8 850.0 663.5C849.6 658.2 851.8 652.1 852.4 645.3C853.0 638.5 852.0 629.3 853.5 622.5C855.0 615.7 859.4 610.4 861.5 604.4C863.6 598.4 863.4 590.8 866.0 586.2C868.6 581.6 875.1 580.8 877.4 577.0C879.7 573.2 877.3 565.0 879.6 563.5C881.9 562.0 888.0 568.4 891.0 568.0C894.0 567.6 895.1 562.7 897.8 561.2C900.5 559.7 902.5 560.0 907.0 559.0Z" fill="none" stroke="#545454" stroke-width="8" stroke-opacity="0.6"/></g></g><defs><filter id="f56" x="558" y="780" width="239" height="238" filterUnits="userSpaceOnUse" color-interpolation-filters="sRGB"><feTurbulence type="fractalNoise" baseFrequency="0.75" numOctaves="1" seed="9" result="t1"/><feTurbulence type="fractalNoise" baseFrequency="0.06" numOctaves="2" seed="16" result="t2"/><feDisplacementMap in="SourceGraphic" in2="t1" scale="5" xChannelSelector="R" yChannelSelector="G" result="sg"/><feComposite in="t1" in2="t2" operator="arithmetic" k2="0.65" k3="0.35" result="t"/><feColorMatrix in="t" values="1 0 0 0 0 1 0 0 0 0 1 0 0 0 0 0 0 0 0 1" result="n"/><feComposite in="sg" in2="n" operator="arithmetic" k1="3.0" k2="-0.500" k3="0" k4="0" result="m"/><feComponentTransfer in="m"><feFuncR type="table" tableValues="0 0 0 0 0 0 0 0.1 0.35 0.7 0.95 1 1 0.98 1 1 1"/><feFuncG type="table" tableValues="0 0 0 0.05 0.22 0.45 0.7 0.85 0.9 0.9 0.85 0.65 0.45 0.35 0.5 0.8 1"/><feFuncB type="table" tableValues="0 0.3 0.5 0.75 1 1 0.95 0.6 0.3 0.1 0 0 0.1 0.25 0.5 0.8 1"/><feFuncA type="linear" slope="0" intercept="1"/></feComponentTransfer></filter><clipPath id="c57"><path d="M606.8 826.5C619.1 825.2 652.9 826.0 676.0 826.0C699.1 826.0 733.5 824.5 745.5 826.5C757.5 828.5 747.0 833.0 747.8 838.0C748.5 843.0 749.2 849.6 750.0 856.6C750.8 863.6 752.0 871.2 752.4 879.7C752.8 888.2 752.4 897.4 752.4 907.4C752.4 917.4 752.4 931.2 752.4 939.7C752.4 948.2 754.3 953.6 752.4 958.2C750.5 962.8 743.5 964.4 740.8 967.5C738.1 970.6 740.1 974.4 736.2 976.7C732.4 979.0 724.6 980.3 717.7 981.3C710.8 982.3 703.1 982.9 694.6 982.5C686.1 982.1 673.4 980.4 666.9 979.0C660.4 977.6 661.2 975.9 655.4 974.4C649.6 972.9 638.0 970.9 632.2 969.8C626.4 968.6 625.3 968.7 620.7 967.5C616.1 966.3 608.5 965.1 604.5 962.8C600.5 960.5 597.8 961.3 596.4 953.6C595.0 945.9 596.4 930.5 596.4 916.6C596.4 902.7 596.4 882.7 596.4 870.4C596.4 858.1 595.4 848.9 596.4 842.7C597.4 836.6 600.5 836.2 602.2 833.5C603.9 830.8 594.5 827.8 606.8 826.5Z"/></clipPath><radialGradient id="r58"><stop offset="0" stop-color="#333333" stop-opacity="0.9"/><stop offset="0.55" stop-color="#292929" stop-opacity="0.6"/><stop offset="0.75" stop-color="#1a1a1a" stop-opacity="0.5"/><stop offset="1" stop-color="#1f1f1f" stop-opacity="0"/></radialGradient><radialGradient id="r59"><stop offset="0" stop-color="#808080" stop-opacity="1"/><stop offset="0.7" stop-color="#757575" stop-opacity="0.9"/><stop offset="1" stop-color="#525252" stop-opacity="0"/></radialGradient><radialGradient id="r60"><stop offset="0" stop-color="#7a7a7a" stop-opacity="1"/><stop offset="0.7" stop-color="#707070" stop-opacity="0.9"/><stop offset="1" stop-color="#4c4c4c" stop-opacity="0"/></radialGradient><radialGradient id="r61"><stop offset="0" stop-color="#333333" stop-opacity="0.5"/><stop offset="0.5" stop-color="#333333" stop-opacity="0.3"/><stop offset="1" stop-color="#333333" stop-opacity="0"/></radialGradient><radialGradient id="r62"><stop offset="0" stop-color="#303030" stop-opacity="0.4"/><stop offset="0.5" stop-color="#303030" stop-opacity="0.24"/><stop offset="1" stop-color="#303030" stop-opacity="0"/></radialGradient></defs><g filter="url(#f56)"><rect x="558" y="780" width="239" height="238" fill="#000"/><path d="M606.8 826.5C619.1 825.2 652.9 826.0 676.0 826.0C699.1 826.0 733.5 824.5 745.5 826.5C757.5 828.5 747.0 833.0 747.8 838.0C748.5 843.0 749.2 849.6 750.0 856.6C750.8 863.6 752.0 871.2 752.4 879.7C752.8 888.2 752.4 897.4 752.4 907.4C752.4 917.4 752.4 931.2 752.4 939.7C752.4 948.2 754.3 953.6 752.4 958.2C750.5 962.8 743.5 964.4 740.8 967.5C738.1 970.6 740.1 974.4 736.2 976.7C732.4 979.0 724.6 980.3 717.7 981.3C710.8 982.3 703.1 982.9 694.6 982.5C686.1 982.1 673.4 980.4 666.9 979.0C660.4 977.6 661.2 975.9 655.4 974.4C649.6 972.9 638.0 970.9 632.2 969.8C626.4 968.6 625.3 968.7 620.7 967.5C616.1 966.3 608.5 965.1 604.5 962.8C600.5 960.5 597.8 961.3 596.4 953.6C595.0 945.9 596.4 930.5 596.4 916.6C596.4 902.7 596.4 882.7 596.4 870.4C596.4 858.1 595.4 848.9 596.4 842.7C597.4 836.6 600.5 836.2 602.2 833.5C603.9 830.8 594.5 827.8 606.8 826.5Z" fill="#1f1f1f"/><g clip-path="url(#c57)"><ellipse cx="670" cy="905" rx="60" ry="65" fill="url(#r58)"/><ellipse cx="665" cy="918" rx="9" ry="28" transform="rotate(10 665 918)" fill="url(#r59)"/><ellipse cx="678" cy="903" rx="7" ry="18" transform="rotate(20 678 903)" fill="url(#r60)"/><ellipse cx="610" cy="870" rx="18" ry="40" fill="url(#r61)"/><ellipse cx="630" cy="835" rx="30" ry="10" fill="url(#r62)"/><path d="M606.8 826.5C619.1 825.2 652.9 826.0 676.0 826.0C699.1 826.0 733.5 824.5 745.5 826.5C757.5 828.5 747.0 833.0 747.8 838.0C748.5 843.0 749.2 849.6 750.0 856.6C750.8 863.6 752.0 871.2 752.4 879.7C752.8 888.2 752.4 897.4 752.4 907.4C752.4 917.4 752.4 931.2 752.4 939.7C752.4 948.2 754.3 953.6 752.4 958.2C750.5 962.8 743.5 964.4 740.8 967.5C738.1 970.6 740.1 974.4 736.2 976.7C732.4 979.0 724.6 980.3 717.7 981.3C710.8 982.3 703.1 982.9 694.6 982.5C686.1 982.1 673.4 980.4 666.9 979.0C660.4 977.6 661.2 975.9 655.4 974.4C649.6 972.9 638.0 970.9 632.2 969.8C626.4 968.6 625.3 968.7 620.7 967.5C616.1 966.3 608.5 965.1 604.5 962.8C600.5 960.5 597.8 961.3 596.4 953.6C595.0 945.9 596.4 930.5 596.4 916.6C596.4 902.7 596.4 882.7 596.4 870.4C596.4 858.1 595.4 848.9 596.4 842.7C597.4 836.6 600.5 836.2 602.2 833.5C603.9 830.8 594.5 827.8 606.8 826.5Z" fill="none" stroke="#383838" stroke-width="10" stroke-opacity="0.6"/></g></g><defs><filter id="f63" x="817" y="780" width="239" height="238" filterUnits="userSpaceOnUse" color-interpolation-filters="sRGB"><feTurbulence type="fractalNoise" baseFrequency="0.75" numOctaves="1" seed="10" result="t1"/><feTurbulence type="fractalNoise" baseFrequency="0.06" numOctaves="2" seed="17" result="t2"/><feDisplacementMap in="SourceGraphic" in2="t1" scale="5" xChannelSelector="R" yChannelSelector="G" result="sg"/><feComposite in="t1" in2="t2" operator="arithmetic" k2="0.65" k3="0.35" result="t"/><feColorMatrix in="t" values="1 0 0 0 0 1 0 0 0 0 1 0 0 0 0 0 0 0 0 1" result="n"/><feComposite in="sg" in2="n" operator="arithmetic" k1="2.2" k2="-0.100" k3="0" k4="0" result="m"/><feComponentTransfer in="m"><feFuncR type="table" tableValues="0 0.15 0.32 0.5 0.68 0.84 0.95 1 1 1 1"/><feFuncG type="table" tableValues="0 0 0.02 0.04 0.07 0.11 0.17 0.3 0.5 0.75 1"/><feFuncB type="table" tableValues="0 0.16 0.34 0.52 0.7 0.86 0.96 1 1 1 1"/><feFuncA type="linear" slope="0" intercept="1"/></feComponentTransfer></filter><clipPath id="c64"><path d="M881.3 827.7C893.4 826.7 925.7 827.5 948.0 827.5C970.3 827.5 1003.7 824.4 1015.3 827.7C1026.9 831.0 1016.1 840.9 1017.6 847.3C1019.1 853.6 1023.0 858.1 1024.6 865.8C1026.1 873.5 1026.5 883.1 1026.9 893.5C1027.3 903.9 1026.9 917.4 1026.9 928.2C1026.9 939.0 1029.2 951.7 1026.9 958.2C1024.6 964.8 1016.1 964.0 1013.0 967.5C1009.9 971.0 1012.6 976.3 1008.4 979.0C1004.2 981.7 996.5 983.0 987.6 983.6C978.8 984.2 965.3 983.3 955.3 982.5C945.3 981.7 934.0 980.4 927.5 979.0C921.0 977.6 921.8 975.9 916.0 974.4C910.2 972.9 899.4 971.7 892.9 969.8C886.4 967.9 880.4 966.3 876.7 962.8C873.0 959.3 872.0 956.7 870.9 949.0C869.8 941.3 870.0 929.7 869.8 916.6C869.6 903.5 869.6 882.3 869.8 870.4C870.0 858.5 869.9 851.1 870.9 845.0C871.9 838.9 873.8 836.4 875.5 833.5C877.2 830.6 869.2 828.7 881.3 827.7Z"/></clipPath><radialGradient id="r65"><stop offset="0" stop-color="#333333" stop-opacity="0.9"/><stop offset="0.6" stop-color="#292929" stop-opacity="0.6"/><stop offset="1" stop-color="#1f1f1f" stop-opacity="0"/></radialGradient><radialGradient id="r66"><stop offset="0" stop-color="#6b6b6b" stop-opacity="1"/><stop offset="0.6" stop-color="#5c5c5c" stop-opacity="0.8"/><stop offset="1" stop-color="#424242" stop-opacity="0"/></radialGradient><radialGradient id="r67"><stop offset="0" stop-color="#616161" stop-opacity="1"/><stop offset="0.6" stop-color="#545454" stop-opacity="0.8"/><stop offset="1" stop-color="#3d3d3d" stop-opacity="0"/></radialGradient><radialGradient id="r68"><stop offset="0" stop-color="#4c4c4c" stop-opacity="0.6"/><stop offset="0.5" stop-color="#4c4c4c" stop-opacity="0.36"/><stop offset="1" stop-color="#4c4c4c" stop-opacity="0"/></radialGradient></defs><g filter="url(#f63)"><rect x="817" y="780" width="239" height="238" fill="#000"/><path d="M881.3 827.7C893.4 826.7 925.7 827.5 948.0 827.5C970.3 827.5 1003.7 824.4 1015.3 827.7C1026.9 831.0 1016.1 840.9 1017.6 847.3C1019.1 853.6 1023.0 858.1 1024.6 865.8C1026.1 873.5 1026.5 883.1 1026.9 893.5C1027.3 903.9 1026.9 917.4 1026.9 928.2C1026.9 939.0 1029.2 951.7 1026.9 958.2C1024.6 964.8 1016.1 964.0 1013.0 967.5C1009.9 971.0 1012.6 976.3 1008.4 979.0C1004.2 981.7 996.5 983.0 987.6 983.6C978.8 984.2 965.3 983.3 955.3 982.5C945.3 981.7 934.0 980.4 927.5 979.0C921.0 977.6 921.8 975.9 916.0 974.4C910.2 972.9 899.4 971.7 892.9 969.8C886.4 967.9 880.4 966.3 876.7 962.8C873.0 959.3 872.0 956.7 870.9 949.0C869.8 941.3 870.0 929.7 869.8 916.6C869.6 903.5 869.6 882.3 869.8 870.4C870.0 858.5 869.9 851.1 870.9 845.0C871.9 838.9 873.8 836.4 875.5 833.5C877.2 830.6 869.2 828.7 881.3 827.7Z" fill="#1f1f1f"/><g clip-path="url(#c64)"><ellipse cx="950" cy="895" rx="62" ry="62" fill="url(#r65)"/><ellipse cx="940" cy="930" rx="8" ry="26" transform="rotate(15 940 930)" fill="url(#r66)"/><ellipse cx="924" cy="940" rx="7" ry="22" transform="rotate(45 924 940)" fill="url(#r67)"/><ellipse cx="948" cy="950" rx="5" ry="16" transform="rotate(-10 948 950)" fill="url(#r68)"/></g></g><path d="M680.5 205.3Q675.5 212 682.7 223.5" fill="none" stroke="#ddd" stroke-width="1"/><path d="M599 426.4L620.7 426.1Q627 424 633.2 417L640.6 407" fill="none" stroke="#eee" stroke-width="1"/><defs><clipPath id="mc69"><path d="M142.8 11.8C148.0 11.8 152.7 12.2 158.2 13.7C163.7 15.1 170.1 18.4 175.6 20.5C181.1 22.6 186.3 24.4 191.1 26.3C195.9 28.2 201.1 29.8 204.6 32.0C208.1 34.2 209.7 36.2 212.3 39.8C214.9 43.3 217.4 49.4 220.0 53.3C222.6 57.2 226.0 58.8 227.8 63.0C229.6 67.2 230.4 73.9 230.7 78.4C231.0 82.9 230.5 86.5 229.7 90.0C228.9 93.5 226.8 95.8 225.9 99.7C225.0 103.6 224.5 108.4 224.0 113.2C223.5 118.0 223.7 123.5 223.0 128.7C222.3 133.9 221.1 139.0 220.0 144.2C218.9 149.3 218.1 154.8 216.2 159.6C214.3 164.4 211.7 169.0 208.5 173.2C205.3 177.4 200.8 181.5 196.9 184.7C193.0 187.9 189.2 190.2 185.3 192.5C181.4 194.8 177.6 196.4 173.7 198.3C169.8 200.2 166.6 203.4 162.1 204.0C157.6 204.6 151.1 203.0 146.6 202.1C142.1 201.2 138.9 199.3 135.0 198.3C131.1 197.3 127.3 197.6 123.4 196.3C119.5 195.0 116.0 192.8 111.8 190.5C107.6 188.2 102.8 185.4 98.3 182.8C93.8 180.2 89.0 177.7 84.8 175.1C80.6 172.5 76.8 169.9 73.2 167.3C69.7 164.7 65.9 162.8 63.5 159.6C61.1 156.4 59.3 152.8 58.7 148.0C58.1 143.2 58.9 135.8 59.7 130.6C60.5 125.4 63.2 121.9 63.5 117.1C63.8 112.3 62.2 106.8 61.6 101.6C61.0 96.4 59.7 91.0 59.7 86.2C59.7 81.4 60.0 76.5 61.6 72.6C63.2 68.7 66.4 66.5 69.3 63.0C72.2 59.5 75.8 54.6 79.0 51.4C82.2 48.2 85.8 46.6 88.7 43.7C91.6 40.8 93.8 36.9 96.4 34.0C99.0 31.1 101.2 28.9 104.1 26.3C107.0 23.7 109.9 20.6 113.8 18.5C117.7 16.4 122.5 14.8 127.3 13.7C132.1 12.6 137.7 11.8 142.8 11.8Z"/></clipPath><filter id="mf71" x="0" y="0" width="260" height="1061" filterUnits="userSpaceOnUse"><feGaussianBlur stdDeviation="5"/></filter><pattern id="mp70" width="93.60" height="93.60" patternUnits="userSpaceOnUse" patternTransform="rotate(0)"><path d="M0.00 0.30h3.60M0.30 3.60v3.60M0.00 14.70h3.60M0.30 14.40v3.60M0.30 21.60v3.60M0.00 29.10h3.60M0.30 32.40v3.60M0.00 36.30h3.60M0.30 39.60v3.60M0.00 43.50h3.60M0.00 47.10h3.60M0.30 46.80v3.60M0.00 54.30h3.60M0.30 54.00v3.60M0.00 57.90h3.60M0.00 61.50h3.60M0.30 61.20v3.60M0.30 68.40v3.60M0.00 75.90h3.60M0.30 75.60v3.60M0.00 90.30h3.60M3.60 7.50h3.60M3.90 7.20v3.60M3.90 10.80v3.60M3.60 14.70h3.60M3.60 21.90h3.60M3.90 28.80v3.60M3.90 32.40v3.60M3.60 36.30h3.60M3.60 43.50h3.60M3.90 43.20v3.60M3.90 54.00v3.60M3.60 65.10h3.60M3.90 68.40v3.60M3.60 86.70h3.60M3.90 90.00v3.60M7.20 3.90h3.60M7.50 3.60v3.60M7.20 14.70h3.60M7.50 14.40v3.60M7.20 18.30h3.60M7.20 29.10h3.60M7.50 32.40v3.60M7.20 36.30h3.60M7.50 36.00v3.60M7.50 39.60v3.60M7.20 43.50h3.60M7.20 47.10h3.60M7.50 46.80v3.60M7.20 50.70h3.60M7.20 54.30h3.60M7.50 54.00v3.60M7.20 61.50h3.60M7.20 65.10h3.60M7.50 64.80v3.60M7.50 68.40v3.60M7.20 72.30h3.60M7.50 75.60v3.60M7.20 83.10h3.60M7.50 82.80v3.60M7.20 86.70h3.60M7.20 90.30h3.60M10.80 3.90h3.60M10.80 11.10h3.60M10.80 14.70h3.60M10.80 18.30h3.60M10.80 21.90h3.60M11.10 21.60v3.60M10.80 29.10h3.60M10.80 32.70h3.60M11.10 36.00v3.60M10.80 39.90h3.60M11.10 39.60v3.60M11.10 43.20v3.60M11.10 50.40v3.60M10.80 61.50h3.60M11.10 61.20v3.60M10.80 65.10h3.60M11.10 68.40v3.60M10.80 72.30h3.60M10.80 75.90h3.60M10.80 79.50h3.60M11.10 82.80v3.60M10.80 86.70h3.60M11.10 86.40v3.60M14.40 0.30h3.60M14.70 0.00v3.60M14.70 7.20v3.60M14.40 18.30h3.60M14.40 21.90h3.60M14.70 21.60v3.60M14.70 25.20v3.60M14.70 32.40v3.60M14.40 36.30h3.60M14.70 36.00v3.60M14.40 47.10h3.60M14.40 50.70h3.60M14.70 50.40v3.60M14.40 54.30h3.60M14.40 61.50h3.60M14.70 64.80v3.60M14.70 68.40v3.60M14.40 72.30h3.60M14.70 72.00v3.60M14.40 83.10h3.60M14.70 86.40v3.60M14.70 90.00v3.60M18.00 0.30h3.60M18.00 3.90h3.60M18.30 3.60v3.60M18.00 11.10h3.60M18.30 10.80v3.60M18.00 14.70h3.60M18.00 18.30h3.60M18.00 21.90h3.60M18.30 25.20v3.60M18.00 29.10h3.60M18.00 32.70h3.60M18.00 36.30h3.60M18.30 36.00v3.60M18.30 39.60v3.60M18.00 47.10h3.60M18.30 46.80v3.60M18.30 54.00v3.60M18.00 57.90h3.60M18.00 68.70h3.60M18.00 72.30h3.60M18.30 72.00v3.60M18.00 75.90h3.60M18.30 75.60v3.60M18.30 86.40v3.60M18.00 90.30h3.60M18.30 90.00v3.60M21.60 0.30h3.60M21.90 3.60v3.60M21.60 7.50h3.60M21.60 14.70h3.60M21.90 14.40v3.60M21.60 18.30h3.60M21.90 18.00v3.60M21.90 21.60v3.60M21.60 25.50h3.60M21.60 29.10h3.60M21.60 36.30h3.60M21.90 39.60v3.60M21.90 43.20v3.60M21.90 50.40v3.60M21.60 54.30h3.60M21.90 57.60v3.60M21.90 61.20v3.60M21.90 64.80v3.60M21.60 68.70h3.60M21.90 79.20v3.60M21.90 82.80v3.60M21.60 90.30h3.60M21.90 90.00v3.60M25.20 11.10h3.60M25.50 10.80v3.60M25.20 14.70h3.60M25.50 14.40v3.60M25.50 18.00v3.60M25.50 21.60v3.60M25.20 25.50h3.60M25.50 25.20v3.60M25.20 29.10h3.60M25.50 28.80v3.60M25.50 32.40v3.60M25.20 36.30h3.60M25.20 39.90h3.60M25.50 39.60v3.60M25.20 54.30h3.60M25.50 57.60v3.60M25.20 61.50h3.60M25.20 68.70h3.60M25.20 72.30h3.60M25.50 72.00v3.60M25.20 79.50h3.60M25.50 82.80v3.60M25.20 90.30h3.60M28.80 11.10h3.60M29.10 10.80v3.60M28.80 14.70h3.60M29.10 18.00v3.60M28.80 25.50h3.60M28.80 29.10h3.60M28.80 32.70h3.60M28.80 39.90h3.60M29.10 43.20v3.60M29.10 57.60v3.60M28.80 65.10h3.60M29.10 64.80v3.60M28.80 68.70h3.60M29.10 72.00v3.60M29.10 75.60v3.60M28.80 79.50h3.60M29.10 79.20v3.60M28.80 83.10h3.60M28.80 86.70h3.60M29.10 86.40v3.60M29.10 90.00v3.60M32.70 3.60v3.60M32.40 7.50h3.60M32.40 11.10h3.60M32.40 14.70h3.60M32.40 32.70h3.60M32.70 32.40v3.60M32.40 36.30h3.60M32.40 39.90h3.60M32.40 50.70h3.60M32.70 54.00v3.60M32.70 57.60v3.60M32.70 61.20v3.60M32.40 68.70h3.60M32.70 68.40v3.60M32.40 79.50h3.60M32.70 79.20v3.60M32.40 83.10h3.60M32.70 82.80v3.60M36.30 3.60v3.60M36.00 11.10h3.60M36.30 10.80v3.60M36.00 18.30h3.60M36.30 18.00v3.60M36.00 21.90h3.60M36.00 25.50h3.60M36.30 43.20v3.60M36.00 61.50h3.60M36.30 61.20v3.60M36.30 68.40v3.60M36.30 75.60v3.60M36.30 82.80v3.60M36.30 86.40v3.60M39.90 0.00v3.60M39.60 7.50h3.60M39.90 7.20v3.60M39.90 10.80v3.60M39.60 14.70h3.60M39.90 18.00v3.60M39.60 25.50h3.60M39.60 32.70h3.60M39.60 36.30h3.60M39.60 39.90h3.60M39.90 43.20v3.60M39.60 47.10h3.60M39.60 54.30h3.60M39.90 57.60v3.60M39.90 64.80v3.60M39.90 68.40v3.60M39.90 79.20v3.60M39.90 82.80v3.60M39.60 86.70h3.60M39.60 90.30h3.60M43.20 0.30h3.60M43.50 3.60v3.60M43.20 7.50h3.60M43.50 7.20v3.60M43.50 10.80v3.60M43.20 14.70h3.60M43.50 14.40v3.60M43.20 21.90h3.60M43.50 21.60v3.60M43.20 32.70h3.60M43.20 36.30h3.60M43.20 39.90h3.60M43.50 39.60v3.60M43.50 43.20v3.60M43.20 47.10h3.60M43.50 46.80v3.60M43.50 54.00v3.60M43.50 57.60v3.60M43.50 64.80v3.60M43.20 72.30h3.60M43.50 72.00v3.60M43.20 79.50h3.60M43.50 82.80v3.60M43.50 86.40v3.60M43.20 90.30h3.60M46.80 0.30h3.60M47.10 0.00v3.60M46.80 3.90h3.60M46.80 11.10h3.60M47.10 10.80v3.60M47.10 14.40v3.60M46.80 18.30h3.60M47.10 18.00v3.60M46.80 21.90h3.60M47.10 21.60v3.60M47.10 32.40v3.60M47.10 39.60v3.60M46.80 43.50h3.60M47.10 46.80v3.60M47.10 54.00v3.60M46.80 57.90h3.60M47.10 57.60v3.60M46.80 61.50h3.60M46.80 75.90h3.60M46.80 79.50h3.60M46.80 86.70h3.60M47.10 86.40v3.60M50.40 0.30h3.60M50.40 3.90h3.60M50.70 7.20v3.60M50.40 11.10h3.60M50.70 14.40v3.60M50.70 18.00v3.60M50.70 21.60v3.60M50.40 25.50h3.60M50.70 25.20v3.60M50.70 28.80v3.60M50.40 32.70h3.60M50.40 39.90h3.60M50.40 43.50h3.60M50.40 47.10h3.60M50.70 46.80v3.60M50.70 54.00v3.60M50.70 72.00v3.60M50.40 75.90h3.60M50.70 75.60v3.60M50.70 79.20v3.60M50.40 83.10h3.60M50.40 86.70h3.60M50.70 90.00v3.60M54.00 0.30h3.60M54.30 0.00v3.60M54.00 3.90h3.60M54.00 11.10h3.60M54.00 14.70h3.60M54.30 14.40v3.60M54.00 18.30h3.60M54.00 36.30h3.60M54.30 46.80v3.60M54.00 54.30h3.60M54.00 61.50h3.60M54.30 61.20v3.60M54.30 68.40v3.60M54.00 72.30h3.60M54.00 75.90h3.60M54.30 75.60v3.60M54.30 79.20v3.60M54.00 83.10h3.60M54.30 82.80v3.60M54.00 90.30h3.60M54.30 90.00v3.60M57.60 3.90h3.60M57.60 7.50h3.60M57.90 7.20v3.60M57.60 14.70h3.60M57.90 36.00v3.60M57.60 39.90h3.60M57.90 46.80v3.60M57.90 54.00v3.60M57.60 61.50h3.60M57.90 61.20v3.60M57.90 64.80v3.60M57.60 68.70h3.60M57.90 68.40v3.60M57.60 90.30h3.60M61.20 0.30h3.60M61.50 0.00v3.60M61.20 11.10h3.60M61.50 18.00v3.60M61.20 21.90h3.60M61.50 32.40v3.60M61.20 39.90h3.60M61.50 43.20v3.60M61.50 46.80v3.60M61.20 50.70h3.60M61.50 50.40v3.60M61.20 54.30h3.60M61.50 54.00v3.60M61.20 57.90h3.60M61.50 61.20v3.60M61.50 64.80v3.60M61.20 86.70h3.60M61.50 86.40v3.60M61.50 90.00v3.60M64.80 0.30h3.60M65.10 0.00v3.60M64.80 7.50h3.60M65.10 10.80v3.60M64.80 21.90h3.60M65.10 25.20v3.60M65.10 28.80v3.60M65.10 32.40v3.60M64.80 36.30h3.60M65.10 36.00v3.60M65.10 46.80v3.60M64.80 50.70h3.60M64.80 54.30h3.60M65.10 57.60v3.60M65.10 61.20v3.60M64.80 65.10h3.60M64.80 68.70h3.60M64.80 72.30h3.60M65.10 75.60v3.60M65.10 82.80v3.60M65.10 86.40v3.60M65.10 90.00v3.60M68.40 7.50h3.60M68.70 14.40v3.60M68.40 18.30h3.60M68.40 21.90h3.60M68.70 21.60v3.60M68.40 25.50h3.60M68.40 36.30h3.60M68.70 36.00v3.60M68.40 39.90h3.60M68.40 43.50h3.60M68.70 43.20v3.60M68.40 47.10h3.60M68.40 50.70h3.60M68.40 54.30h3.60M68.40 61.50h3.60M68.70 61.20v3.60M68.40 72.30h3.60M68.40 75.90h3.60M68.70 75.60v3.60M68.40 79.50h3.60M68.70 79.20v3.60M68.40 83.10h3.60M68.70 90.00v3.60M72.00 0.30h3.60M72.00 7.50h3.60M72.30 7.20v3.60M72.00 11.10h3.60M72.00 14.70h3.60M72.30 14.40v3.60M72.00 21.90h3.60M72.30 25.20v3.60M72.00 29.10h3.60M72.30 28.80v3.60M72.00 32.70h3.60M72.30 36.00v3.60M72.00 39.90h3.60M72.00 43.50h3.60M72.30 43.20v3.60M72.00 47.10h3.60M72.30 46.80v3.60M72.00 50.70h3.60M72.30 50.40v3.60M72.00 54.30h3.60M72.30 57.60v3.60M72.30 61.20v3.60M72.30 64.80v3.60M72.30 68.40v3.60M72.30 79.20v3.60M72.30 90.00v3.60M75.90 3.60v3.60M75.90 7.20v3.60M75.60 11.10h3.60M75.90 14.40v3.60M75.60 18.30h3.60M75.90 21.60v3.60M75.60 25.50h3.60M75.90 25.20v3.60M75.60 39.90h3.60M75.90 39.60v3.60M75.90 43.20v3.60M75.90 46.80v3.60M75.90 50.40v3.60M75.60 57.90h3.60M75.60 61.50h3.60M75.60 65.10h3.60M75.60 68.70h3.60M75.60 72.30h3.60M75.60 79.50h3.60M75.60 86.70h3.60M79.20 7.50h3.60M79.20 11.10h3.60M79.20 14.70h3.60M79.20 18.30h3.60M79.50 18.00v3.60M79.20 21.90h3.60M79.50 21.60v3.60M79.50 25.20v3.60M79.20 29.10h3.60M79.20 39.90h3.60M79.20 43.50h3.60M79.20 47.10h3.60M79.50 46.80v3.60M79.20 54.30h3.60M79.20 57.90h3.60M79.20 65.10h3.60M79.20 68.70h3.60M79.50 68.40v3.60M79.50 79.20v3.60M79.20 86.70h3.60M79.50 90.00v3.60M82.80 3.90h3.60M82.80 7.50h3.60M82.80 11.10h3.60M82.80 14.70h3.60M83.10 14.40v3.60M82.80 32.70h3.60M82.80 43.50h3.60M83.10 43.20v3.60M82.80 47.10h3.60M83.10 46.80v3.60M82.80 50.70h3.60M83.10 50.40v3.60M83.10 57.60v3.60M82.80 61.50h3.60M82.80 68.70h3.60M83.10 68.40v3.60M82.80 79.50h3.60M83.10 79.20v3.60M82.80 90.30h3.60M83.10 90.00v3.60M86.70 3.60v3.60M86.40 25.50h3.60M86.40 29.10h3.60M86.40 32.70h3.60M86.70 39.60v3.60M86.40 43.50h3.60M86.40 47.10h3.60M86.70 46.80v3.60M86.40 50.70h3.60M86.40 57.90h3.60M86.40 65.10h3.60M86.70 64.80v3.60M86.40 68.70h3.60M86.70 68.40v3.60M86.40 72.30h3.60M86.40 75.90h3.60M86.70 75.60v3.60M86.70 86.40v3.60M86.40 90.30h3.60M86.70 90.00v3.60M90.00 0.30h3.60M90.30 0.00v3.60M90.30 3.60v3.60M90.00 7.50h3.60M90.30 7.20v3.60M90.00 11.10h3.60M90.30 14.40v3.60M90.00 25.50h3.60M90.30 25.20v3.60M90.30 28.80v3.60M90.30 32.40v3.60M90.30 36.00v3.60M90.00 43.50h3.60M90.00 47.10h3.60M90.30 46.80v3.60M90.00 50.70h3.60M90.30 50.40v3.60M90.00 57.90h3.60M90.00 61.50h3.60M90.00 65.10h3.60M90.00 68.70h3.60M90.00 72.30h3.60M90.00 75.90h3.60M90.30 82.80v3.60M90.00 86.70h3.60M90.00 90.30h3.60" stroke="#000" stroke-width="0.5" fill="none"/></pattern></defs><path d="M142.8 11.8C148.0 11.8 152.7 12.2 158.2 13.7C163.7 15.1 170.1 18.4 175.6 20.5C181.1 22.6 186.3 24.4 191.1 26.3C195.9 28.2 201.1 29.8 204.6 32.0C208.1 34.2 209.7 36.2 212.3 39.8C214.9 43.3 217.4 49.4 220.0 53.3C222.6 57.2 226.0 58.8 227.8 63.0C229.6 67.2 230.4 73.9 230.7 78.4C231.0 82.9 230.5 86.5 229.7 90.0C228.9 93.5 226.8 95.8 225.9 99.7C225.0 103.6 224.5 108.4 224.0 113.2C223.5 118.0 223.7 123.5 223.0 128.7C222.3 133.9 221.1 139.0 220.0 144.2C218.9 149.3 218.1 154.8 216.2 159.6C214.3 164.4 211.7 169.0 208.5 173.2C205.3 177.4 200.8 181.5 196.9 184.7C193.0 187.9 189.2 190.2 185.3 192.5C181.4 194.8 177.6 196.4 173.7 198.3C169.8 200.2 166.6 203.4 162.1 204.0C157.6 204.6 151.1 203.0 146.6 202.1C142.1 201.2 138.9 199.3 135.0 198.3C131.1 197.3 127.3 197.6 123.4 196.3C119.5 195.0 116.0 192.8 111.8 190.5C107.6 188.2 102.8 185.4 98.3 182.8C93.8 180.2 89.0 177.7 84.8 175.1C80.6 172.5 76.8 169.9 73.2 167.3C69.7 164.7 65.9 162.8 63.5 159.6C61.1 156.4 59.3 152.8 58.7 148.0C58.1 143.2 58.9 135.8 59.7 130.6C60.5 125.4 63.2 121.9 63.5 117.1C63.8 112.3 62.2 106.8 61.6 101.6C61.0 96.4 59.7 91.0 59.7 86.2C59.7 81.4 60.0 76.5 61.6 72.6C63.2 68.7 66.4 66.5 69.3 63.0C72.2 59.5 75.8 54.6 79.0 51.4C82.2 48.2 85.8 46.6 88.7 43.7C91.6 40.8 93.8 36.9 96.4 34.0C99.0 31.1 101.2 28.9 104.1 26.3C107.0 23.7 109.9 20.6 113.8 18.5C117.7 16.4 122.5 14.8 127.3 13.7C132.1 12.6 137.7 11.8 142.8 11.8Z" fill="#aaaaf7"/><g clip-path="url(#mc69)"><g filter="url(#mf71)"><ellipse cx="145" cy="14" rx="70" ry="7" fill="#fcfcff" fill-opacity="0.8"/><path d="M145.0 58.0C151.2 58.3 159.2 61.5 165.0 66.0C170.8 70.5 176.5 77.7 180.0 85.0C183.5 92.3 184.7 100.8 186.0 110.0C187.3 119.2 187.0 130.8 188.0 140.0C189.0 149.2 192.0 155.0 192.0 165.0C192.0 175.0 195.8 193.2 188.0 200.0C180.2 206.8 158.8 206.0 145.0 206.0C131.2 206.0 110.8 206.0 105.0 200.0C99.2 194.0 110.2 180.0 110.0 170.0C109.8 160.0 105.0 150.0 104.0 140.0C103.0 130.0 102.7 119.7 104.0 110.0C105.3 100.3 108.0 89.7 112.0 82.0C116.0 74.3 122.5 68.0 128.0 64.0C133.5 60.0 138.8 57.7 145.0 58.0Z" fill="#fcfcff" fill-opacity="0.95"/><ellipse cx="143" cy="118" rx="12" ry="30" fill="#eea0a0" fill-opacity="0.7"/><ellipse cx="150" cy="198" rx="25" ry="8" fill="#f5c3c3" fill-opacity="0.7"/><ellipse cx="205" cy="168" rx="12" ry="24" transform="rotate(-25 205 168)" fill="#f5c8c8" fill-opacity="0.7"/><ellipse cx="222" cy="120" rx="4" ry="22" fill="#f5e1e1" fill-opacity="0.6"/><ellipse cx="61" cy="110" rx="4" ry="40" fill="#ebebfc" fill-opacity="0.7"/><ellipse cx="150" cy="40" rx="62" ry="16" transform="rotate(3 150 40)" fill="#7d7df5" fill-opacity="0.8"/><ellipse cx="84" cy="108" rx="15" ry="40" transform="rotate(-8 84 108)" fill="#8080f5" fill-opacity="0.8"/><ellipse cx="202" cy="125" rx="13" ry="24" fill="#8282f5" fill-opacity="0.75"/><ellipse cx="95" cy="176" rx="18" ry="8" transform="rotate(25 95 176)" fill="#9696f6" fill-opacity="0.6"/><path d="M142.8 11.8C148.0 11.8 152.7 12.2 158.2 13.7C163.7 15.1 170.1 18.4 175.6 20.5C181.1 22.6 186.3 24.4 191.1 26.3C195.9 28.2 201.1 29.8 204.6 32.0C208.1 34.2 209.7 36.2 212.3 39.8C214.9 43.3 217.4 49.4 220.0 53.3C222.6 57.2 226.0 58.8 227.8 63.0C229.6 67.2 230.4 73.9 230.7 78.4C231.0 82.9 230.5 86.5 229.7 90.0C228.9 93.5 226.8 95.8 225.9 99.7C225.0 103.6 224.5 108.4 224.0 113.2C223.5 118.0 223.7 123.5 223.0 128.7C222.3 133.9 221.1 139.0 220.0 144.2C218.9 149.3 218.1 154.8 216.2 159.6C214.3 164.4 211.7 169.0 208.5 173.2C205.3 177.4 200.8 181.5 196.9 184.7C193.0 187.9 189.2 190.2 185.3 192.5C181.4 194.8 177.6 196.4 173.7 198.3C169.8 200.2 166.6 203.4 162.1 204.0C157.6 204.6 151.1 203.0 146.6 202.1C142.1 201.2 138.9 199.3 135.0 198.3C131.1 197.3 127.3 197.6 123.4 196.3C119.5 195.0 116.0 192.8 111.8 190.5C107.6 188.2 102.8 185.4 98.3 182.8C93.8 180.2 89.0 177.7 84.8 175.1C80.6 172.5 76.8 169.9 73.2 167.3C69.7 164.7 65.9 162.8 63.5 159.6C61.1 156.4 59.3 152.8 58.7 148.0C58.1 143.2 58.9 135.8 59.7 130.6C60.5 125.4 63.2 121.9 63.5 117.1C63.8 112.3 62.2 106.8 61.6 101.6C61.0 96.4 59.7 91.0 59.7 86.2C59.7 81.4 60.0 76.5 61.6 72.6C63.2 68.7 66.4 66.5 69.3 63.0C72.2 59.5 75.8 54.6 79.0 51.4C82.2 48.2 85.8 46.6 88.7 43.7C91.6 40.8 93.8 36.9 96.4 34.0C99.0 31.1 101.2 28.9 104.1 26.3C107.0 23.7 109.9 20.6 113.8 18.5C117.7 16.4 122.5 14.8 127.3 13.7C132.1 12.6 137.7 11.8 142.8 11.8Z" fill="none" stroke="#f5f5ff" stroke-opacity="0.6" stroke-width="12"/></g><rect x="0" y="0" width="260" height="1061" fill="url(#mp70)" opacity="0.62"/></g><path d="M142.8 11.8C148.0 11.8 152.7 12.2 158.2 13.7C163.7 15.1 170.1 18.4 175.6 20.5C181.1 22.6 186.3 24.4 191.1 26.3C195.9 28.2 201.1 29.8 204.6 32.0C208.1 34.2 209.7 36.2 212.3 39.8C214.9 43.3 217.4 49.4 220.0 53.3C222.6 57.2 226.0 58.8 227.8 63.0C229.6 67.2 230.4 73.9 230.7 78.4C231.0 82.9 230.5 86.5 229.7 90.0C228.9 93.5 226.8 95.8 225.9 99.7C225.0 103.6 224.5 108.4 224.0 113.2C223.5 118.0 223.7 123.5 223.0 128.7C222.3 133.9 221.1 139.0 220.0 144.2C218.9 149.3 218.1 154.8 216.2 159.6C214.3 164.4 211.7 169.0 208.5 173.2C205.3 177.4 200.8 181.5 196.9 184.7C193.0 187.9 189.2 190.2 185.3 192.5C181.4 194.8 177.6 196.4 173.7 198.3C169.8 200.2 166.6 203.4 162.1 204.0C157.6 204.6 151.1 203.0 146.6 202.1C142.1 201.2 138.9 199.3 135.0 198.3C131.1 197.3 127.3 197.6 123.4 196.3C119.5 195.0 116.0 192.8 111.8 190.5C107.6 188.2 102.8 185.4 98.3 182.8C93.8 180.2 89.0 177.7 84.8 175.1C80.6 172.5 76.8 169.9 73.2 167.3C69.7 164.7 65.9 162.8 63.5 159.6C61.1 156.4 59.3 152.8 58.7 148.0C58.1 143.2 58.9 135.8 59.7 130.6C60.5 125.4 63.2 121.9 63.5 117.1C63.8 112.3 62.2 106.8 61.6 101.6C61.0 96.4 59.7 91.0 59.7 86.2C59.7 81.4 60.0 76.5 61.6 72.6C63.2 68.7 66.4 66.5 69.3 63.0C72.2 59.5 75.8 54.6 79.0 51.4C82.2 48.2 85.8 46.6 88.7 43.7C91.6 40.8 93.8 36.9 96.4 34.0C99.0 31.1 101.2 28.9 104.1 26.3C107.0 23.7 109.9 20.6 113.8 18.5C117.7 16.4 122.5 14.8 127.3 13.7C132.1 12.6 137.7 11.8 142.8 11.8Z" fill="none" stroke="#555" stroke-width="0.6"/><defs><clipPath id="mc72"><path d="M117.5 276.3C123.3 274.9 132.5 273.4 140.0 273.8C147.5 274.2 155.8 276.9 162.5 278.8C169.2 280.7 173.8 283.1 180.0 285.0C186.2 286.9 195.0 287.5 200.0 290.0C205.0 292.5 207.1 296.2 210.0 300.0C212.9 303.8 215.0 308.3 217.5 312.5C220.0 316.7 222.5 321.2 225.0 325.0C227.5 328.8 230.2 330.8 232.5 335.0C234.8 339.2 238.0 344.6 238.8 350.0C239.6 355.4 238.3 361.7 237.5 367.5C236.7 373.3 234.2 379.6 233.8 385.0C233.4 390.4 235.6 395.0 235.0 400.0C234.4 405.0 232.5 410.0 230.0 415.0C227.5 420.0 223.3 425.8 220.0 430.0C216.7 434.2 214.2 437.1 210.0 440.0C205.8 442.9 200.0 445.0 195.0 447.5C190.0 450.0 185.4 452.5 180.0 455.0C174.6 457.5 168.3 461.2 162.5 462.5C156.7 463.8 150.8 463.3 145.0 462.5C139.2 461.7 132.5 459.6 127.5 457.5C122.5 455.4 119.6 452.5 115.0 450.0C110.4 447.5 105.4 445.8 100.0 442.5C94.6 439.2 87.9 434.6 82.5 430.0C77.1 425.4 72.1 420.0 67.5 415.0C62.9 410.0 58.3 405.4 55.0 400.0C51.7 394.6 49.4 388.8 47.5 382.5C45.6 376.2 44.4 368.8 43.8 362.5C43.1 356.2 42.7 350.4 43.8 345.0C44.8 339.6 47.3 334.6 50.0 330.0C52.7 325.4 55.8 322.5 60.0 317.5C64.2 312.5 69.2 304.6 75.0 300.0C80.8 295.4 90.0 292.9 95.0 290.0C100.0 287.1 101.2 284.8 105.0 282.5C108.8 280.2 111.7 277.8 117.5 276.3Z"/></clipPath><filter id="mf74" x="0" y="0" width="260" height="1061" filterUnits="userSpaceOnUse"><feGaussianBlur stdDeviation="6"/></filter><pattern id="mp73" width="98.80" height="98.80" patternUnits="userSpaceOnUse" patternTransform="rotate(0)"><path d="M0.00 4.10h3.80M0.30 3.80v3.80M0.30 11.40v3.80M0.30 19.00v3.80M0.30 34.20v3.80M0.00 38.30h3.80M0.30 38.00v3.80M0.30 41.80v3.80M0.00 53.50h3.80M0.30 53.20v3.80M0.00 57.30h3.80M0.30 57.00v3.80M0.30 64.60v3.80M0.00 80.10h3.80M0.30 83.60v3.80M3.80 4.10h3.80M3.80 19.30h3.80M4.10 19.00v3.80M4.10 22.80v3.80M4.10 26.60v3.80M4.10 30.40v3.80M3.80 45.90h3.80M4.10 45.60v3.80M4.10 53.20v3.80M4.10 60.80v3.80M4.10 64.60v3.80M4.10 68.40v3.80M3.80 72.50h3.80M3.80 76.30h3.80M4.10 79.80v3.80M3.80 83.90h3.80M3.80 91.50h3.80M4.10 91.20v3.80M3.80 95.30h3.80M7.60 0.30h3.80M7.60 4.10h3.80M7.60 7.90h3.80M7.90 7.60v3.80M7.90 11.40v3.80M7.60 15.50h3.80M7.90 19.00v3.80M7.90 22.80v3.80M7.60 26.90h3.80M7.90 26.60v3.80M7.60 34.50h3.80M7.90 34.20v3.80M7.60 38.30h3.80M7.90 53.20v3.80M7.90 57.00v3.80M7.60 61.10h3.80M7.90 64.60v3.80M7.90 72.20v3.80M7.90 76.00v3.80M7.60 83.90h3.80M7.60 87.70h3.80M7.90 87.40v3.80M7.60 91.50h3.80M7.90 91.20v3.80M7.60 95.30h3.80M11.40 7.90h3.80M11.40 11.70h3.80M11.70 19.00v3.80M11.40 26.90h3.80M11.70 26.60v3.80M11.70 30.40v3.80M11.70 34.20v3.80M11.40 38.30h3.80M11.70 38.00v3.80M11.40 42.10h3.80M11.70 41.80v3.80M11.40 49.70h3.80M11.40 53.50h3.80M11.70 64.60v3.80M11.40 72.50h3.80M11.70 72.20v3.80M11.70 76.00v3.80M11.70 83.60v3.80M11.70 87.40v3.80M11.40 91.50h3.80M11.40 95.30h3.80M11.70 95.00v3.80M15.20 4.10h3.80M15.20 11.70h3.80M15.20 15.50h3.80M15.50 15.20v3.80M15.20 19.30h3.80M15.20 23.10h3.80M15.20 26.90h3.80M15.20 38.30h3.80M15.50 38.00v3.80M15.20 42.10h3.80M15.50 49.40v3.80M15.20 61.10h3.80M15.50 64.60v3.80M15.20 80.10h3.80M15.50 79.80v3.80M15.50 83.60v3.80M15.50 95.00v3.80M19.00 0.30h3.80M19.00 4.10h3.80M19.00 7.90h3.80M19.30 7.60v3.80M19.30 15.20v3.80M19.00 19.30h3.80M19.30 19.00v3.80M19.00 30.70h3.80M19.00 38.30h3.80M19.30 41.80v3.80M19.30 57.00v3.80M19.30 60.80v3.80M19.00 68.70h3.80M19.30 83.60v3.80M19.00 95.30h3.80M22.80 7.90h3.80M22.80 19.30h3.80M22.80 30.70h3.80M23.10 34.20v3.80M22.80 42.10h3.80M22.80 45.90h3.80M23.10 49.40v3.80M22.80 57.30h3.80M22.80 61.10h3.80M23.10 60.80v3.80M22.80 76.30h3.80M23.10 76.00v3.80M23.10 79.80v3.80M22.80 83.90h3.80M22.80 87.70h3.80M26.90 0.00v3.80M26.60 4.10h3.80M26.90 7.60v3.80M26.60 11.70h3.80M26.90 15.20v3.80M26.60 26.90h3.80M26.90 34.20v3.80M26.90 38.00v3.80M26.90 49.40v3.80M26.60 64.90h3.80M26.90 64.60v3.80M26.90 68.40v3.80M26.60 72.50h3.80M26.60 76.30h3.80M26.60 80.10h3.80M26.90 79.80v3.80M26.60 83.90h3.80M26.90 83.60v3.80M26.90 87.40v3.80M26.90 91.20v3.80M30.70 3.80v3.80M30.40 7.90h3.80M30.70 7.60v3.80M30.40 11.70h3.80M30.40 15.50h3.80M30.70 15.20v3.80M30.70 19.00v3.80M30.40 30.70h3.80M30.40 53.50h3.80M30.70 57.00v3.80M30.70 60.80v3.80M30.70 64.60v3.80M30.40 72.50h3.80M30.40 76.30h3.80M30.70 76.00v3.80M30.40 80.10h3.80M30.70 79.80v3.80M30.70 91.20v3.80M34.20 0.30h3.80M34.20 4.10h3.80M34.50 3.80v3.80M34.50 7.60v3.80M34.20 11.70h3.80M34.50 11.40v3.80M34.20 15.50h3.80M34.20 19.30h3.80M34.50 19.00v3.80M34.20 23.10h3.80M34.50 22.80v3.80M34.50 26.60v3.80M34.20 30.70h3.80M34.20 34.50h3.80M34.50 34.20v3.80M34.50 41.80v3.80M34.20 49.70h3.80M34.20 64.90h3.80M34.50 83.60v3.80M34.20 87.70h3.80M34.20 91.50h3.80M38.00 0.30h3.80M38.30 0.00v3.80M38.30 3.80v3.80M38.00 7.90h3.80M38.30 7.60v3.80M38.00 11.70h3.80M38.30 11.40v3.80M38.30 15.20v3.80M38.00 23.10h3.80M38.00 26.90h3.80M38.30 30.40v3.80M38.30 34.20v3.80M38.00 38.30h3.80M38.00 49.70h3.80M38.00 53.50h3.80M38.30 53.20v3.80M38.00 57.30h3.80M38.30 57.00v3.80M38.00 61.10h3.80M38.30 60.80v3.80M38.00 64.90h3.80M38.30 76.00v3.80M38.00 80.10h3.80M38.30 83.60v3.80M38.00 87.70h3.80M38.30 87.40v3.80M42.10 3.80v3.80M41.80 11.70h3.80M41.80 19.30h3.80M41.80 23.10h3.80M42.10 22.80v3.80M41.80 38.30h3.80M42.10 45.60v3.80M41.80 49.70h3.80M42.10 49.40v3.80M41.80 57.30h3.80M42.10 64.60v3.80M41.80 68.70h3.80M42.10 72.20v3.80M42.10 87.40v3.80M42.10 91.20v3.80M42.10 95.00v3.80M45.60 0.30h3.80M45.90 7.60v3.80M45.90 19.00v3.80M45.90 22.80v3.80M45.60 26.90h3.80M45.60 30.70h3.80M45.90 34.20v3.80M45.60 38.30h3.80M45.90 41.80v3.80M45.60 53.50h3.80M45.90 53.20v3.80M45.90 57.00v3.80M45.60 61.10h3.80M45.60 64.90h3.80M45.90 64.60v3.80M45.60 68.70h3.80M45.90 68.40v3.80M45.90 72.20v3.80M45.90 79.80v3.80M45.90 83.60v3.80M45.60 87.70h3.80M45.60 91.50h3.80M45.90 91.20v3.80M49.40 7.90h3.80M49.70 7.60v3.80M49.40 15.50h3.80M49.40 26.90h3.80M49.70 26.60v3.80M49.40 30.70h3.80M49.40 34.50h3.80M49.70 45.60v3.80M49.40 49.70h3.80M49.70 49.40v3.80M49.40 57.30h3.80M49.70 60.80v3.80M49.70 68.40v3.80M49.40 83.90h3.80M49.70 83.60v3.80M49.70 87.40v3.80M49.40 91.50h3.80M49.70 91.20v3.80M53.20 4.10h3.80M53.20 7.90h3.80M53.50 11.40v3.80M53.20 15.50h3.80M53.20 23.10h3.80M53.50 22.80v3.80M53.20 30.70h3.80M53.20 34.50h3.80M53.50 45.60v3.80M53.20 49.70h3.80M53.20 53.50h3.80M53.50 60.80v3.80M53.50 72.20v3.80M53.20 76.30h3.80M53.50 83.60v3.80M53.50 87.40v3.80M53.20 91.50h3.80M57.30 0.00v3.80M57.30 3.80v3.80M57.00 7.90h3.80M57.30 7.60v3.80M57.00 11.70h3.80M57.30 15.20v3.80M57.30 19.00v3.80M57.00 30.70h3.80M57.30 34.20v3.80M57.00 53.50h3.80M57.00 57.30h3.80M57.30 57.00v3.80M57.00 61.10h3.80M57.30 68.40v3.80M57.30 76.00v3.80M57.00 80.10h3.80M57.30 87.40v3.80M57.00 91.50h3.80M60.80 4.10h3.80M60.80 7.90h3.80M61.10 34.20v3.80M61.10 53.20v3.80M61.10 57.00v3.80M60.80 61.10h3.80M61.10 91.20v3.80M61.10 95.00v3.80M64.90 0.00v3.80M64.60 7.90h3.80M64.60 11.70h3.80M64.90 11.40v3.80M64.60 23.10h3.80M64.90 22.80v3.80M64.60 26.90h3.80M64.90 30.40v3.80M64.60 34.50h3.80M64.90 45.60v3.80M64.90 49.40v3.80M64.60 53.50h3.80M64.90 60.80v3.80M64.60 68.70h3.80M64.90 72.20v3.80M64.60 76.30h3.80M64.90 79.80v3.80M64.90 83.60v3.80M64.90 91.20v3.80M68.40 0.30h3.80M68.70 0.00v3.80M68.40 4.10h3.80M68.40 15.50h3.80M68.70 15.20v3.80M68.70 19.00v3.80M68.40 23.10h3.80M68.40 26.90h3.80M68.70 26.60v3.80M68.40 34.50h3.80M68.40 38.30h3.80M68.70 41.80v3.80M68.70 45.60v3.80M68.40 57.30h3.80M68.70 57.00v3.80M68.70 60.80v3.80M68.70 68.40v3.80M68.40 72.50h3.80M68.40 76.30h3.80M68.40 80.10h3.80M68.70 83.60v3.80M68.40 87.70h3.80M68.70 87.40v3.80M68.70 91.20v3.80M68.40 95.30h3.80M72.20 7.90h3.80M72.20 11.70h3.80M72.50 11.40v3.80M72.20 15.50h3.80M72.50 26.60v3.80M72.20 34.50h3.80M72.20 38.30h3.80M72.50 38.00v3.80M72.20 49.70h3.80M72.50 57.00v3.80M72.20 61.10h3.80M72.50 64.60v3.80M72.20 72.50h3.80M72.20 76.30h3.80M72.50 76.00v3.80M72.50 83.60v3.80M72.50 91.20v3.80M72.20 95.30h3.80M72.50 95.00v3.80M76.00 0.30h3.80M76.30 7.60v3.80M76.00 15.50h3.80M76.30 15.20v3.80M76.00 23.10h3.80M76.00 26.90h3.80M76.30 30.40v3.80M76.00 34.50h3.80M76.30 38.00v3.80M76.00 45.90h3.80M76.30 53.20v3.80M76.30 57.00v3.80M76.00 64.90h3.80M76.30 64.60v3.80M76.00 68.70h3.80M76.00 76.30h3.80M76.00 80.10h3.80M76.30 79.80v3.80M76.00 83.90h3.80M76.00 91.50h3.80M76.30 91.20v3.80M76.00 95.30h3.80M76.30 95.00v3.80M80.10 0.00v3.80M80.10 7.60v3.80M79.80 11.70h3.80M80.10 15.20v3.80M79.80 19.30h3.80M80.10 19.00v3.80M79.80 23.10h3.80M80.10 22.80v3.80M79.80 26.90h3.80M80.10 30.40v3.80M80.10 41.80v3.80M80.10 45.60v3.80M80.10 53.20v3.80M79.80 57.30h3.80M80.10 57.00v3.80M80.10 64.60v3.80M79.80 76.30h3.80M80.10 76.00v3.80M79.80 95.30h3.80M80.10 95.00v3.80M83.90 0.00v3.80M83.90 7.60v3.80M83.90 11.40v3.80M83.90 19.00v3.80M83.60 38.30h3.80M83.90 38.00v3.80M83.60 42.10h3.80M83.90 41.80v3.80M83.90 49.40v3.80M83.90 53.20v3.80M83.60 57.30h3.80M83.90 57.00v3.80M83.90 64.60v3.80M83.60 68.70h3.80M83.90 68.40v3.80M83.60 80.10h3.80M83.90 79.80v3.80M83.90 83.60v3.80M83.60 91.50h3.80M83.60 95.30h3.80M87.40 0.30h3.80M87.40 11.70h3.80M87.70 11.40v3.80M87.40 30.70h3.80M87.70 30.40v3.80M87.40 34.50h3.80M87.70 41.80v3.80M87.40 45.90h3.80M87.70 45.60v3.80M87.40 49.70h3.80M87.40 57.30h3.80M87.70 64.60v3.80M87.40 76.30h3.80M87.70 76.00v3.80M87.40 80.10h3.80M87.70 79.80v3.80M87.40 83.90h3.80M87.70 87.40v3.80M87.70 91.20v3.80M91.50 0.00v3.80M91.20 7.90h3.80M91.50 7.60v3.80M91.50 11.40v3.80M91.20 15.50h3.80M91.20 19.30h3.80M91.50 19.00v3.80M91.20 23.10h3.80M91.50 22.80v3.80M91.50 30.40v3.80M91.50 38.00v3.80M91.20 42.10h3.80M91.50 41.80v3.80M91.50 49.40v3.80M91.50 60.80v3.80M91.20 68.70h3.80M91.20 72.50h3.80M91.20 80.10h3.80M91.50 79.80v3.80M91.20 83.90h3.80M91.50 87.40v3.80M91.20 91.50h3.80M91.50 91.20v3.80M91.20 95.30h3.80M95.30 0.00v3.80M95.00 4.10h3.80M95.00 7.90h3.80M95.30 7.60v3.80M95.00 11.70h3.80M95.00 19.30h3.80M95.00 23.10h3.80M95.30 22.80v3.80M95.00 26.90h3.80M95.30 38.00v3.80M95.30 45.60v3.80M95.30 53.20v3.80M95.30 60.80v3.80M95.30 64.60v3.80M95.30 68.40v3.80M95.00 72.50h3.80M95.30 72.20v3.80M95.00 91.50h3.80M95.30 91.20v3.80M95.30 95.00v3.80" stroke="#000" stroke-width="0.5" fill="none"/></pattern></defs><path d="M117.5 276.3C123.3 274.9 132.5 273.4 140.0 273.8C147.5 274.2 155.8 276.9 162.5 278.8C169.2 280.7 173.8 283.1 180.0 285.0C186.2 286.9 195.0 287.5 200.0 290.0C205.0 292.5 207.1 296.2 210.0 300.0C212.9 303.8 215.0 308.3 217.5 312.5C220.0 316.7 222.5 321.2 225.0 325.0C227.5 328.8 230.2 330.8 232.5 335.0C234.8 339.2 238.0 344.6 238.8 350.0C239.6 355.4 238.3 361.7 237.5 367.5C236.7 373.3 234.2 379.6 233.8 385.0C233.4 390.4 235.6 395.0 235.0 400.0C234.4 405.0 232.5 410.0 230.0 415.0C227.5 420.0 223.3 425.8 220.0 430.0C216.7 434.2 214.2 437.1 210.0 440.0C205.8 442.9 200.0 445.0 195.0 447.5C190.0 450.0 185.4 452.5 180.0 455.0C174.6 457.5 168.3 461.2 162.5 462.5C156.7 463.8 150.8 463.3 145.0 462.5C139.2 461.7 132.5 459.6 127.5 457.5C122.5 455.4 119.6 452.5 115.0 450.0C110.4 447.5 105.4 445.8 100.0 442.5C94.6 439.2 87.9 434.6 82.5 430.0C77.1 425.4 72.1 420.0 67.5 415.0C62.9 410.0 58.3 405.4 55.0 400.0C51.7 394.6 49.4 388.8 47.5 382.5C45.6 376.2 44.4 368.8 43.8 362.5C43.1 356.2 42.7 350.4 43.8 345.0C44.8 339.6 47.3 334.6 50.0 330.0C52.7 325.4 55.8 322.5 60.0 317.5C64.2 312.5 69.2 304.6 75.0 300.0C80.8 295.4 90.0 292.9 95.0 290.0C100.0 287.1 101.2 284.8 105.0 282.5C108.8 280.2 111.7 277.8 117.5 276.3Z" fill="#eeecfa"/><g clip-path="url(#mc72)"><g filter="url(#mf74)"><ellipse cx="75" cy="355" rx="20" ry="32" fill="#cdcdfa" fill-opacity="0.9"/><ellipse cx="130" cy="310" rx="16" ry="14" fill="#cdcdfa" fill-opacity="0.8"/><ellipse cx="215" cy="365" rx="15" ry="40" fill="#d0d0fa" fill-opacity="0.8"/><ellipse cx="195" cy="428" rx="18" ry="12" fill="#cdcdfa" fill-opacity="0.8"/><ellipse cx="165" cy="282" rx="20" ry="7" fill="#f6cdcd" fill-opacity="0.8"/><ellipse cx="150" cy="400" rx="30" ry="24" fill="#f8d4d4" fill-opacity="0.8"/><ellipse cx="100" cy="437" rx="22" ry="9" transform="rotate(20 100 437)" fill="#f8d7d7" fill-opacity="0.7"/><ellipse cx="48" cy="350" rx="5" ry="14" fill="#f8d2d2" fill-opacity="0.7"/><ellipse cx="140" cy="350" rx="25" ry="20" fill="#fcfafc" fill-opacity="0.7"/><ellipse cx="185" cy="288" rx="30" ry="8" transform="rotate(20 185 288)" fill="#f6cdcd" fill-opacity="0.7"/><path d="M117.5 276.3C123.3 274.9 132.5 273.4 140.0 273.8C147.5 274.2 155.8 276.9 162.5 278.8C169.2 280.7 173.8 283.1 180.0 285.0C186.2 286.9 195.0 287.5 200.0 290.0C205.0 292.5 207.1 296.2 210.0 300.0C212.9 303.8 215.0 308.3 217.5 312.5C220.0 316.7 222.5 321.2 225.0 325.0C227.5 328.8 230.2 330.8 232.5 335.0C234.8 339.2 238.0 344.6 238.8 350.0C239.6 355.4 238.3 361.7 237.5 367.5C236.7 373.3 234.2 379.6 233.8 385.0C233.4 390.4 235.6 395.0 235.0 400.0C234.4 405.0 232.5 410.0 230.0 415.0C227.5 420.0 223.3 425.8 220.0 430.0C216.7 434.2 214.2 437.1 210.0 440.0C205.8 442.9 200.0 445.0 195.0 447.5C190.0 450.0 185.4 452.5 180.0 455.0C174.6 457.5 168.3 461.2 162.5 462.5C156.7 463.8 150.8 463.3 145.0 462.5C139.2 461.7 132.5 459.6 127.5 457.5C122.5 455.4 119.6 452.5 115.0 450.0C110.4 447.5 105.4 445.8 100.0 442.5C94.6 439.2 87.9 434.6 82.5 430.0C77.1 425.4 72.1 420.0 67.5 415.0C62.9 410.0 58.3 405.4 55.0 400.0C51.7 394.6 49.4 388.8 47.5 382.5C45.6 376.2 44.4 368.8 43.8 362.5C43.1 356.2 42.7 350.4 43.8 345.0C44.8 339.6 47.3 334.6 50.0 330.0C52.7 325.4 55.8 322.5 60.0 317.5C64.2 312.5 69.2 304.6 75.0 300.0C80.8 295.4 90.0 292.9 95.0 290.0C100.0 287.1 101.2 284.8 105.0 282.5C108.8 280.2 111.7 277.8 117.5 276.3Z" fill="none" stroke="#f7d4d4" stroke-opacity="0.55" stroke-width="9"/></g><rect x="0" y="0" width="260" height="1061" fill="url(#mp73)" opacity="0.6"/></g><path d="M117.5 276.3C123.3 274.9 132.5 273.4 140.0 273.8C147.5 274.2 155.8 276.9 162.5 278.8C169.2 280.7 173.8 283.1 180.0 285.0C186.2 286.9 195.0 287.5 200.0 290.0C205.0 292.5 207.1 296.2 210.0 300.0C212.9 303.8 215.0 308.3 217.5 312.5C220.0 316.7 222.5 321.2 225.0 325.0C227.5 328.8 230.2 330.8 232.5 335.0C234.8 339.2 238.0 344.6 238.8 350.0C239.6 355.4 238.3 361.7 237.5 367.5C236.7 373.3 234.2 379.6 233.8 385.0C233.4 390.4 235.6 395.0 235.0 400.0C234.4 405.0 232.5 410.0 230.0 415.0C227.5 420.0 223.3 425.8 220.0 430.0C216.7 434.2 214.2 437.1 210.0 440.0C205.8 442.9 200.0 445.0 195.0 447.5C190.0 450.0 185.4 452.5 180.0 455.0C174.6 457.5 168.3 461.2 162.5 462.5C156.7 463.8 150.8 463.3 145.0 462.5C139.2 461.7 132.5 459.6 127.5 457.5C122.5 455.4 119.6 452.5 115.0 450.0C110.4 447.5 105.4 445.8 100.0 442.5C94.6 439.2 87.9 434.6 82.5 430.0C77.1 425.4 72.1 420.0 67.5 415.0C62.9 410.0 58.3 405.4 55.0 400.0C51.7 394.6 49.4 388.8 47.5 382.5C45.6 376.2 44.4 368.8 43.8 362.5C43.1 356.2 42.7 350.4 43.8 345.0C44.8 339.6 47.3 334.6 50.0 330.0C52.7 325.4 55.8 322.5 60.0 317.5C64.2 312.5 69.2 304.6 75.0 300.0C80.8 295.4 90.0 292.9 95.0 290.0C100.0 287.1 101.2 284.8 105.0 282.5C108.8 280.2 111.7 277.8 117.5 276.3Z" fill="none" stroke="#555" stroke-width="0.6"/><defs><clipPath id="mc75"><path d="M132.5 550.0C138.8 549.6 143.8 550.2 150.0 551.3C156.2 552.3 163.3 553.6 170.0 556.3C176.7 559.0 185.0 563.5 190.0 567.5C195.0 571.5 195.8 575.8 200.0 580.0C204.2 584.2 210.8 587.5 215.0 592.5C219.2 597.5 222.1 604.6 225.0 610.0C227.9 615.4 230.6 619.6 232.5 625.0C234.4 630.4 236.3 636.7 236.3 642.5C236.3 648.3 233.1 654.6 232.5 660.0C231.9 665.4 233.8 670.8 232.5 675.0C231.2 679.2 228.3 681.7 225.0 685.0C221.7 688.3 216.7 690.4 212.5 695.0C208.3 699.6 204.6 707.5 200.0 712.5C195.4 717.5 190.4 721.7 185.0 725.0C179.6 728.3 173.3 731.2 167.5 732.5C161.7 733.8 155.8 733.3 150.0 732.5C144.2 731.7 138.3 729.2 132.5 727.5C126.7 725.8 120.4 724.2 115.0 722.5C109.6 720.8 105.0 720.4 100.0 717.5C95.0 714.6 89.6 709.2 85.0 705.0C80.4 700.8 76.2 697.5 72.5 692.5C68.8 687.5 65.4 681.2 62.5 675.0C59.6 668.8 57.1 662.1 55.0 655.0C52.9 647.9 50.4 639.2 50.0 632.5C49.6 625.8 51.2 621.2 52.5 615.0C53.8 608.8 55.0 601.2 57.5 595.0C60.0 588.8 64.2 582.1 67.5 577.5C70.8 572.9 72.9 570.4 77.5 567.5C82.1 564.6 89.2 562.3 95.0 560.0C100.8 557.7 106.2 555.5 112.5 553.8C118.8 552.1 126.2 550.4 132.5 550.0Z"/></clipPath><filter id="mf77" x="0" y="0" width="260" height="1061" filterUnits="userSpaceOnUse"><feGaussianBlur stdDeviation="6"/></filter><pattern id="mp76" width="104.00" height="104.00" patternUnits="userSpaceOnUse" patternTransform="rotate(0)"><path d="M0.00 0.30h4.00M0.00 4.30h4.00M0.30 8.00v4.00M0.00 12.30h4.00M0.00 16.30h4.00M0.30 16.00v4.00M0.30 28.00v4.00M0.30 40.00v4.00M0.00 48.30h4.00M0.30 48.00v4.00M0.30 72.00v4.00M0.00 76.30h4.00M0.30 76.00v4.00M0.30 84.00v4.00M0.00 92.30h4.00M4.30 4.00v4.00M4.30 16.00v4.00M4.00 24.30h4.00M4.30 24.00v4.00M4.00 32.30h4.00M4.30 36.00v4.00M4.00 40.30h4.00M4.30 44.00v4.00M4.30 48.00v4.00M4.30 52.00v4.00M4.00 64.30h4.00M4.30 64.00v4.00M4.30 68.00v4.00M4.00 72.30h4.00M4.30 76.00v4.00M4.00 80.30h4.00M4.00 84.30h4.00M4.30 88.00v4.00M8.00 8.30h4.00M8.30 8.00v4.00M8.30 16.00v4.00M8.00 24.30h4.00M8.30 28.00v4.00M8.30 36.00v4.00M8.00 44.30h4.00M8.30 44.00v4.00M8.00 52.30h4.00M8.30 56.00v4.00M8.00 60.30h4.00M8.30 60.00v4.00M8.00 64.30h4.00M8.00 68.30h4.00M8.30 68.00v4.00M8.30 72.00v4.00M8.00 80.30h4.00M8.30 80.00v4.00M8.30 84.00v4.00M8.00 88.30h4.00M8.30 92.00v4.00M8.00 96.30h4.00M8.30 96.00v4.00M12.30 0.00v4.00M12.00 4.30h4.00M12.00 12.30h4.00M12.30 12.00v4.00M12.30 16.00v4.00M12.00 24.30h4.00M12.30 24.00v4.00M12.30 32.00v4.00M12.00 36.30h4.00M12.30 36.00v4.00M12.30 40.00v4.00M12.00 44.30h4.00M12.30 52.00v4.00M12.00 56.30h4.00M12.30 68.00v4.00M12.00 80.30h4.00M12.30 80.00v4.00M12.00 84.30h4.00M12.30 84.00v4.00M12.30 88.00v4.00M12.30 92.00v4.00M16.00 4.30h4.00M16.00 8.30h4.00M16.30 8.00v4.00M16.30 20.00v4.00M16.00 24.30h4.00M16.00 32.30h4.00M16.30 32.00v4.00M16.00 40.30h4.00M16.30 48.00v4.00M16.00 56.30h4.00M16.30 56.00v4.00M16.00 60.30h4.00M16.30 68.00v4.00M16.00 72.30h4.00M16.30 72.00v4.00M16.00 76.30h4.00M16.30 76.00v4.00M16.00 84.30h4.00M16.00 88.30h4.00M16.30 88.00v4.00M16.00 92.30h4.00M16.30 96.00v4.00M16.00 100.30h4.00M16.30 100.00v4.00M20.00 0.30h4.00M20.00 8.30h4.00M20.30 8.00v4.00M20.00 12.30h4.00M20.30 24.00v4.00M20.30 36.00v4.00M20.00 44.30h4.00M20.30 52.00v4.00M20.00 60.30h4.00M20.00 64.30h4.00M20.00 80.30h4.00M20.00 84.30h4.00M20.30 84.00v4.00M20.30 88.00v4.00M20.00 92.30h4.00M20.30 92.00v4.00M20.30 96.00v4.00M20.00 100.30h4.00M24.00 0.30h4.00M24.30 12.00v4.00M24.30 20.00v4.00M24.00 28.30h4.00M24.30 28.00v4.00M24.00 36.30h4.00M24.30 36.00v4.00M24.00 40.30h4.00M24.00 48.30h4.00M24.00 52.30h4.00M24.00 56.30h4.00M24.30 64.00v4.00M24.30 80.00v4.00M24.00 84.30h4.00M24.00 96.30h4.00M24.30 96.00v4.00M24.00 100.30h4.00M28.00 0.30h4.00M28.30 0.00v4.00M28.00 8.30h4.00M28.30 16.00v4.00M28.00 20.30h4.00M28.30 20.00v4.00M28.00 28.30h4.00M28.30 28.00v4.00M28.00 32.30h4.00M28.00 36.30h4.00M28.30 64.00v4.00M28.00 68.30h4.00M28.30 76.00v4.00M28.00 80.30h4.00M28.30 80.00v4.00M28.00 84.30h4.00M28.00 92.30h4.00M28.00 96.30h4.00M28.30 100.00v4.00M32.00 0.30h4.00M32.00 4.30h4.00M32.30 4.00v4.00M32.00 12.30h4.00M32.30 12.00v4.00M32.00 20.30h4.00M32.30 28.00v4.00M32.00 32.30h4.00M32.00 36.30h4.00M32.30 40.00v4.00M32.30 44.00v4.00M32.00 52.30h4.00M32.00 60.30h4.00M32.30 68.00v4.00M32.30 72.00v4.00M32.30 80.00v4.00M32.00 88.30h4.00M32.30 92.00v4.00M32.30 96.00v4.00M32.00 100.30h4.00M36.00 8.30h4.00M36.30 8.00v4.00M36.00 12.30h4.00M36.30 20.00v4.00M36.00 24.30h4.00M36.30 28.00v4.00M36.30 32.00v4.00M36.30 36.00v4.00M36.00 40.30h4.00M36.00 48.30h4.00M36.00 52.30h4.00M36.30 52.00v4.00M36.00 56.30h4.00M36.30 56.00v4.00M36.00 64.30h4.00M36.30 64.00v4.00M36.30 76.00v4.00M36.30 80.00v4.00M36.00 88.30h4.00M36.30 88.00v4.00M36.30 92.00v4.00M40.30 8.00v4.00M40.00 20.30h4.00M40.00 32.30h4.00M40.00 36.30h4.00M40.30 48.00v4.00M40.00 56.30h4.00M40.30 56.00v4.00M40.00 60.30h4.00M40.30 60.00v4.00M40.00 68.30h4.00M40.30 72.00v4.00M40.30 84.00v4.00M40.00 100.30h4.00M40.30 100.00v4.00M44.00 0.30h4.00M44.30 0.00v4.00M44.00 4.30h4.00M44.00 16.30h4.00M44.00 24.30h4.00M44.30 28.00v4.00M44.00 32.30h4.00M44.30 36.00v4.00M44.00 40.30h4.00M44.30 40.00v4.00M44.30 44.00v4.00M44.30 48.00v4.00M44.00 52.30h4.00M44.30 52.00v4.00M44.30 56.00v4.00M44.00 60.30h4.00M44.30 60.00v4.00M44.00 64.30h4.00M44.00 68.30h4.00M44.30 68.00v4.00M44.30 76.00v4.00M44.00 84.30h4.00M44.00 88.30h4.00M44.30 88.00v4.00M44.30 92.00v4.00M44.30 96.00v4.00M44.00 100.30h4.00M44.30 100.00v4.00M48.30 0.00v4.00M48.30 8.00v4.00M48.00 12.30h4.00M48.30 12.00v4.00M48.00 20.30h4.00M48.30 20.00v4.00M48.30 28.00v4.00M48.00 32.30h4.00M48.30 32.00v4.00M48.00 36.30h4.00M48.30 36.00v4.00M48.00 40.30h4.00M48.30 44.00v4.00M48.30 56.00v4.00M48.00 60.30h4.00M48.30 64.00v4.00M48.00 68.30h4.00M48.00 72.30h4.00M48.00 76.30h4.00M48.30 80.00v4.00M48.30 92.00v4.00M48.30 96.00v4.00M52.00 0.30h4.00M52.30 0.00v4.00M52.30 12.00v4.00M52.30 16.00v4.00M52.30 24.00v4.00M52.00 28.30h4.00M52.00 44.30h4.00M52.30 44.00v4.00M52.00 48.30h4.00M52.30 52.00v4.00M52.30 56.00v4.00M52.00 60.30h4.00M52.00 64.30h4.00M52.30 64.00v4.00M52.00 68.30h4.00M52.30 72.00v4.00M52.00 76.30h4.00M52.00 80.30h4.00M52.30 92.00v4.00M52.00 96.30h4.00M52.30 96.00v4.00M52.30 100.00v4.00M56.00 0.30h4.00M56.00 4.30h4.00M56.00 8.30h4.00M56.00 12.30h4.00M56.00 24.30h4.00M56.30 28.00v4.00M56.30 36.00v4.00M56.30 44.00v4.00M56.00 48.30h4.00M56.00 52.30h4.00M56.00 64.30h4.00M56.30 64.00v4.00M56.30 68.00v4.00M56.30 72.00v4.00M56.00 76.30h4.00M56.30 76.00v4.00M60.00 8.30h4.00M60.00 12.30h4.00M60.30 12.00v4.00M60.30 16.00v4.00M60.00 24.30h4.00M60.00 28.30h4.00M60.00 32.30h4.00M60.30 36.00v4.00M60.00 40.30h4.00M60.30 40.00v4.00M60.30 44.00v4.00M60.00 48.30h4.00M60.00 60.30h4.00M60.30 60.00v4.00M60.00 64.30h4.00M60.00 72.30h4.00M60.00 76.30h4.00M60.00 84.30h4.00M60.30 84.00v4.00M60.30 88.00v4.00M60.00 92.30h4.00M60.30 96.00v4.00M60.00 100.30h4.00M60.30 100.00v4.00M64.30 8.00v4.00M64.00 12.30h4.00M64.30 12.00v4.00M64.30 16.00v4.00M64.00 20.30h4.00M64.00 24.30h4.00M64.30 24.00v4.00M64.00 28.30h4.00M64.30 32.00v4.00M64.00 36.30h4.00M64.00 48.30h4.00M64.30 48.00v4.00M64.30 60.00v4.00M64.00 64.30h4.00M64.30 64.00v4.00M64.00 88.30h4.00M64.30 88.00v4.00M64.00 100.30h4.00M68.30 4.00v4.00M68.00 8.30h4.00M68.30 20.00v4.00M68.30 28.00v4.00M68.00 36.30h4.00M68.00 40.30h4.00M68.30 48.00v4.00M68.30 52.00v4.00M68.00 60.30h4.00M68.30 60.00v4.00M68.00 68.30h4.00M68.00 72.30h4.00M68.30 72.00v4.00M68.00 76.30h4.00M68.00 80.30h4.00M68.30 80.00v4.00M68.00 84.30h4.00M68.30 84.00v4.00M68.30 96.00v4.00M68.00 100.30h4.00M72.00 0.30h4.00M72.30 0.00v4.00M72.30 4.00v4.00M72.30 8.00v4.00M72.00 12.30h4.00M72.00 16.30h4.00M72.00 20.30h4.00M72.00 28.30h4.00M72.30 28.00v4.00M72.30 32.00v4.00M72.00 36.30h4.00M72.30 40.00v4.00M72.30 48.00v4.00M72.00 56.30h4.00M72.30 56.00v4.00M72.00 60.30h4.00M72.30 60.00v4.00M72.00 64.30h4.00M72.00 68.30h4.00M72.30 68.00v4.00M72.30 76.00v4.00M72.00 80.30h4.00M72.00 88.30h4.00M72.30 88.00v4.00M72.00 92.30h4.00M76.30 4.00v4.00M76.30 12.00v4.00M76.00 20.30h4.00M76.30 20.00v4.00M76.00 24.30h4.00M76.30 24.00v4.00M76.30 32.00v4.00M76.00 36.30h4.00M76.30 48.00v4.00M76.00 56.30h4.00M76.00 60.30h4.00M76.00 64.30h4.00M76.30 64.00v4.00M76.00 68.30h4.00M76.00 80.30h4.00M76.00 84.30h4.00M76.30 84.00v4.00M76.00 92.30h4.00M76.00 96.30h4.00M80.00 12.30h4.00M80.00 20.30h4.00M80.00 28.30h4.00M80.30 28.00v4.00M80.30 40.00v4.00M80.00 44.30h4.00M80.30 48.00v4.00M80.30 56.00v4.00M80.00 60.30h4.00M80.30 60.00v4.00M80.30 64.00v4.00M80.00 68.30h4.00M80.30 68.00v4.00M80.00 72.30h4.00M80.30 72.00v4.00M80.30 92.00v4.00M80.30 96.00v4.00M84.00 0.30h4.00M84.30 0.00v4.00M84.00 8.30h4.00M84.30 8.00v4.00M84.00 12.30h4.00M84.30 12.00v4.00M84.30 16.00v4.00M84.00 20.30h4.00M84.30 32.00v4.00M84.00 40.30h4.00M84.00 48.30h4.00M84.30 48.00v4.00M84.00 60.30h4.00M84.00 68.30h4.00M84.00 72.30h4.00M84.00 76.30h4.00M84.00 84.30h4.00M84.30 84.00v4.00M84.30 92.00v4.00M84.30 100.00v4.00M88.00 0.30h4.00M88.00 4.30h4.00M88.30 8.00v4.00M88.00 20.30h4.00M88.30 20.00v4.00M88.30 24.00v4.00M88.00 28.30h4.00M88.00 32.30h4.00M88.30 36.00v4.00M88.00 44.30h4.00M88.30 44.00v4.00M88.00 48.30h4.00M88.30 56.00v4.00M88.00 64.30h4.00M88.30 64.00v4.00M88.00 68.30h4.00M88.00 72.30h4.00M88.30 72.00v4.00M88.00 76.30h4.00M88.30 80.00v4.00M88.30 84.00v4.00M88.00 92.30h4.00M92.30 0.00v4.00M92.00 12.30h4.00M92.30 16.00v4.00M92.00 24.30h4.00M92.30 28.00v4.00M92.30 32.00v4.00M92.00 40.30h4.00M92.00 60.30h4.00M92.30 60.00v4.00M92.00 68.30h4.00M92.30 80.00v4.00M92.00 84.30h4.00M92.30 88.00v4.00M92.00 96.30h4.00M96.00 0.30h4.00M96.00 4.30h4.00M96.00 8.30h4.00M96.00 12.30h4.00M96.30 16.00v4.00M96.00 20.30h4.00M96.00 24.30h4.00M96.00 28.30h4.00M96.30 28.00v4.00M96.30 40.00v4.00M96.00 44.30h4.00M96.30 44.00v4.00M96.30 48.00v4.00M96.30 56.00v4.00M96.30 60.00v4.00M96.00 68.30h4.00M96.30 68.00v4.00M96.00 80.30h4.00M96.30 84.00v4.00M96.00 92.30h4.00M96.00 96.30h4.00M96.00 100.30h4.00M100.00 0.30h4.00M100.30 12.00v4.00M100.30 20.00v4.00M100.00 24.30h4.00M100.00 28.30h4.00M100.00 40.30h4.00M100.30 40.00v4.00M100.30 48.00v4.00M100.00 52.30h4.00M100.30 60.00v4.00M100.30 68.00v4.00M100.00 72.30h4.00M100.30 76.00v4.00M100.00 80.30h4.00M100.30 80.00v4.00M100.30 92.00v4.00M100.30 96.00v4.00M100.00 100.30h4.00" stroke="#000" stroke-width="0.5" fill="none"/></pattern></defs><path d="M132.5 550.0C138.8 549.6 143.8 550.2 150.0 551.3C156.2 552.3 163.3 553.6 170.0 556.3C176.7 559.0 185.0 563.5 190.0 567.5C195.0 571.5 195.8 575.8 200.0 580.0C204.2 584.2 210.8 587.5 215.0 592.5C219.2 597.5 222.1 604.6 225.0 610.0C227.9 615.4 230.6 619.6 232.5 625.0C234.4 630.4 236.3 636.7 236.3 642.5C236.3 648.3 233.1 654.6 232.5 660.0C231.9 665.4 233.8 670.8 232.5 675.0C231.2 679.2 228.3 681.7 225.0 685.0C221.7 688.3 216.7 690.4 212.5 695.0C208.3 699.6 204.6 707.5 200.0 712.5C195.4 717.5 190.4 721.7 185.0 725.0C179.6 728.3 173.3 731.2 167.5 732.5C161.7 733.8 155.8 733.3 150.0 732.5C144.2 731.7 138.3 729.2 132.5 727.5C126.7 725.8 120.4 724.2 115.0 722.5C109.6 720.8 105.0 720.4 100.0 717.5C95.0 714.6 89.6 709.2 85.0 705.0C80.4 700.8 76.2 697.5 72.5 692.5C68.8 687.5 65.4 681.2 62.5 675.0C59.6 668.8 57.1 662.1 55.0 655.0C52.9 647.9 50.4 639.2 50.0 632.5C49.6 625.8 51.2 621.2 52.5 615.0C53.8 608.8 55.0 601.2 57.5 595.0C60.0 588.8 64.2 582.1 67.5 577.5C70.8 572.9 72.9 570.4 77.5 567.5C82.1 564.6 89.2 562.3 95.0 560.0C100.8 557.7 106.2 555.5 112.5 553.8C118.8 552.1 126.2 550.4 132.5 550.0Z" fill="#dedefa"/><g clip-path="url(#mc75)"><g filter="url(#mf77)"><ellipse cx="85" cy="580" rx="16" ry="9" transform="rotate(-30 85 580)" fill="#afaff5" fill-opacity="0.9"/><ellipse cx="152" cy="563" rx="11" ry="7" fill="#b9b9f5" fill-opacity="0.8"/><ellipse cx="130" cy="690" rx="35" ry="14" transform="rotate(10 130 690)" fill="#c3c3f6" fill-opacity="0.8"/><ellipse cx="165" cy="722" rx="11" ry="7" fill="#b9b9f5" fill-opacity="0.8"/><ellipse cx="72" cy="620" rx="10" ry="25" fill="#c8c8f8" fill-opacity="0.8"/><ellipse cx="150" cy="620" rx="35" ry="30" fill="#f5f5fd" fill-opacity="0.8"/><ellipse cx="200" cy="640" rx="15" ry="30" fill="#ebebfc" fill-opacity="0.7"/><path d="M132.5 550.0C138.8 549.6 143.8 550.2 150.0 551.3C156.2 552.3 163.3 553.6 170.0 556.3C176.7 559.0 185.0 563.5 190.0 567.5C195.0 571.5 195.8 575.8 200.0 580.0C204.2 584.2 210.8 587.5 215.0 592.5C219.2 597.5 222.1 604.6 225.0 610.0C227.9 615.4 230.6 619.6 232.5 625.0C234.4 630.4 236.3 636.7 236.3 642.5C236.3 648.3 233.1 654.6 232.5 660.0C231.9 665.4 233.8 670.8 232.5 675.0C231.2 679.2 228.3 681.7 225.0 685.0C221.7 688.3 216.7 690.4 212.5 695.0C208.3 699.6 204.6 707.5 200.0 712.5C195.4 717.5 190.4 721.7 185.0 725.0C179.6 728.3 173.3 731.2 167.5 732.5C161.7 733.8 155.8 733.3 150.0 732.5C144.2 731.7 138.3 729.2 132.5 727.5C126.7 725.8 120.4 724.2 115.0 722.5C109.6 720.8 105.0 720.4 100.0 717.5C95.0 714.6 89.6 709.2 85.0 705.0C80.4 700.8 76.2 697.5 72.5 692.5C68.8 687.5 65.4 681.2 62.5 675.0C59.6 668.8 57.1 662.1 55.0 655.0C52.9 647.9 50.4 639.2 50.0 632.5C49.6 625.8 51.2 621.2 52.5 615.0C53.8 608.8 55.0 601.2 57.5 595.0C60.0 588.8 64.2 582.1 67.5 577.5C70.8 572.9 72.9 570.4 77.5 567.5C82.1 564.6 89.2 562.3 95.0 560.0C100.8 557.7 106.2 555.5 112.5 553.8C118.8 552.1 126.2 550.4 132.5 550.0Z" fill="none" stroke="#f8e6eb" stroke-opacity="0.8" stroke-width="6"/></g><rect x="0" y="0" width="260" height="1061" fill="url(#mp76)" opacity="0.58"/></g><path d="M132.5 550.0C138.8 549.6 143.8 550.2 150.0 551.3C156.2 552.3 163.3 553.6 170.0 556.3C176.7 559.0 185.0 563.5 190.0 567.5C195.0 571.5 195.8 575.8 200.0 580.0C204.2 584.2 210.8 587.5 215.0 592.5C219.2 597.5 222.1 604.6 225.0 610.0C227.9 615.4 230.6 619.6 232.5 625.0C234.4 630.4 236.3 636.7 236.3 642.5C236.3 648.3 233.1 654.6 232.5 660.0C231.9 665.4 233.8 670.8 232.5 675.0C231.2 679.2 228.3 681.7 225.0 685.0C221.7 688.3 216.7 690.4 212.5 695.0C208.3 699.6 204.6 707.5 200.0 712.5C195.4 717.5 190.4 721.7 185.0 725.0C179.6 728.3 173.3 731.2 167.5 732.5C161.7 733.8 155.8 733.3 150.0 732.5C144.2 731.7 138.3 729.2 132.5 727.5C126.7 725.8 120.4 724.2 115.0 722.5C109.6 720.8 105.0 720.4 100.0 717.5C95.0 714.6 89.6 709.2 85.0 705.0C80.4 700.8 76.2 697.5 72.5 692.5C68.8 687.5 65.4 681.2 62.5 675.0C59.6 668.8 57.1 662.1 55.0 655.0C52.9 647.9 50.4 639.2 50.0 632.5C49.6 625.8 51.2 621.2 52.5 615.0C53.8 608.8 55.0 601.2 57.5 595.0C60.0 588.8 64.2 582.1 67.5 577.5C70.8 572.9 72.9 570.4 77.5 567.5C82.1 564.6 89.2 562.3 95.0 560.0C100.8 557.7 106.2 555.5 112.5 553.8C118.8 552.1 126.2 550.4 132.5 550.0Z" fill="none" stroke="#e07070" stroke-width="1.0"/><defs><clipPath id="mc78"><path d="M145.0 803.8C150.4 804.4 154.2 806.3 157.5 808.8C160.8 811.3 161.2 816.7 165.0 818.8C168.8 820.9 175.8 819.0 180.0 821.3C184.2 823.6 187.1 828.1 190.0 832.5C192.9 836.9 194.6 842.1 197.5 847.5C200.4 852.9 204.2 861.0 207.5 865.0C210.8 869.0 212.9 870.5 217.5 871.3C222.1 872.1 230.0 869.0 235.0 870.0C240.0 871.0 245.2 874.6 247.5 877.5C249.8 880.4 250.1 883.8 248.8 887.5C247.6 891.2 241.5 895.4 240.0 900.0C238.5 904.6 240.0 910.0 240.0 915.0C240.0 920.0 240.8 924.2 240.0 930.0C239.2 935.8 237.5 944.2 235.0 950.0C232.5 955.8 228.8 960.8 225.0 965.0C221.2 969.2 217.5 972.1 212.5 975.0C207.5 977.9 199.6 979.6 195.0 982.5C190.4 985.4 188.3 989.2 185.0 992.5C181.7 995.8 179.2 1000.4 175.0 1002.5C170.8 1004.6 164.6 1006.2 160.0 1005.0C155.4 1003.8 151.7 997.5 147.5 995.0C143.3 992.5 139.6 991.7 135.0 990.0C130.4 988.3 125.8 986.2 120.0 985.0C114.2 983.8 105.8 982.5 100.0 982.5C94.2 982.5 89.2 987.1 85.0 985.0C80.8 982.9 78.8 974.2 75.0 970.0C71.2 965.8 66.7 963.3 62.5 960.0C58.3 956.7 53.8 953.8 50.0 950.0C46.2 946.2 42.9 942.5 40.0 937.5C37.1 932.5 34.0 925.4 32.5 920.0C31.1 914.6 30.9 910.8 31.3 905.0C31.7 899.2 33.1 890.8 35.0 885.0C36.9 879.2 40.4 875.8 42.5 870.0C44.6 864.2 45.4 855.4 47.5 850.0C49.6 844.6 51.7 841.7 55.0 837.5C58.3 833.3 62.5 828.8 67.5 825.0C72.5 821.2 78.8 817.5 85.0 815.0C91.2 812.5 98.3 811.7 105.0 810.0C111.7 808.3 118.3 806.0 125.0 805.0C131.7 804.0 139.6 803.2 145.0 803.8Z"/></clipPath><filter id="mf80" x="0" y="0" width="260" height="1061" filterUnits="userSpaceOnUse"><feGaussianBlur stdDeviation="4"/></filter><pattern id="mp79" width="5.0" height="5.0" patternUnits="userSpaceOnUse" patternTransform="rotate(20)"><path d="M0 0.2H5.0M0.2 0V5.0" stroke="#000" stroke-width="0.45" fill="none"/></pattern></defs><path d="M145.0 803.8C150.4 804.4 154.2 806.3 157.5 808.8C160.8 811.3 161.2 816.7 165.0 818.8C168.8 820.9 175.8 819.0 180.0 821.3C184.2 823.6 187.1 828.1 190.0 832.5C192.9 836.9 194.6 842.1 197.5 847.5C200.4 852.9 204.2 861.0 207.5 865.0C210.8 869.0 212.9 870.5 217.5 871.3C222.1 872.1 230.0 869.0 235.0 870.0C240.0 871.0 245.2 874.6 247.5 877.5C249.8 880.4 250.1 883.8 248.8 887.5C247.6 891.2 241.5 895.4 240.0 900.0C238.5 904.6 240.0 910.0 240.0 915.0C240.0 920.0 240.8 924.2 240.0 930.0C239.2 935.8 237.5 944.2 235.0 950.0C232.5 955.8 228.8 960.8 225.0 965.0C221.2 969.2 217.5 972.1 212.5 975.0C207.5 977.9 199.6 979.6 195.0 982.5C190.4 985.4 188.3 989.2 185.0 992.5C181.7 995.8 179.2 1000.4 175.0 1002.5C170.8 1004.6 164.6 1006.2 160.0 1005.0C155.4 1003.8 151.7 997.5 147.5 995.0C143.3 992.5 139.6 991.7 135.0 990.0C130.4 988.3 125.8 986.2 120.0 985.0C114.2 983.8 105.8 982.5 100.0 982.5C94.2 982.5 89.2 987.1 85.0 985.0C80.8 982.9 78.8 974.2 75.0 970.0C71.2 965.8 66.7 963.3 62.5 960.0C58.3 956.7 53.8 953.8 50.0 950.0C46.2 946.2 42.9 942.5 40.0 937.5C37.1 932.5 34.0 925.4 32.5 920.0C31.1 914.6 30.9 910.8 31.3 905.0C31.7 899.2 33.1 890.8 35.0 885.0C36.9 879.2 40.4 875.8 42.5 870.0C44.6 864.2 45.4 855.4 47.5 850.0C49.6 844.6 51.7 841.7 55.0 837.5C58.3 833.3 62.5 828.8 67.5 825.0C72.5 821.2 78.8 817.5 85.0 815.0C91.2 812.5 98.3 811.7 105.0 810.0C111.7 808.3 118.3 806.0 125.0 805.0C131.7 804.0 139.6 803.2 145.0 803.8Z" fill="#a0a0f5"/><g clip-path="url(#mc78)"><g filter="url(#mf80)"><ellipse cx="78" cy="905" rx="30" ry="48" transform="rotate(-20 78 905)" fill="#6464ec" fill-opacity="0.85"/><ellipse cx="120" cy="850" rx="52" ry="15" transform="rotate(-8 120 850)" fill="#6969ee" fill-opacity="0.8"/><ellipse cx="210" cy="915" rx="24" ry="40" fill="#6969ec" fill-opacity="0.85"/><ellipse cx="170" cy="978" rx="28" ry="12" transform="rotate(-10 170 978)" fill="#7373ee" fill-opacity="0.8"/><ellipse cx="85" cy="962" rx="24" ry="10" transform="rotate(10 85 962)" fill="#7d7df0" fill-opacity="0.75"/><ellipse cx="170" cy="860" rx="18" ry="12" fill="#afaff6" fill-opacity="0.6"/><path d="M118.0 874.0C123.0 868.7 132.3 866.0 138.0 866.0C143.7 866.0 149.0 869.2 152.0 874.0C155.0 878.8 156.3 885.7 156.0 895.0C155.7 904.3 150.0 918.3 150.0 930.0C150.0 941.7 155.7 954.7 156.0 965.0C156.3 975.3 155.0 987.8 152.0 992.0C149.0 996.2 143.7 994.0 138.0 990.0C132.3 986.0 123.2 977.2 118.0 968.0C112.8 958.8 108.7 946.7 107.0 935.0C105.3 923.3 106.2 908.2 108.0 898.0C109.8 887.8 113.0 879.3 118.0 874.0Z" fill="#faf4f8" fill-opacity="0.9"/><ellipse cx="128" cy="922" rx="13" ry="33" transform="rotate(-8 128 922)" fill="#ec9494" fill-opacity="0.85"/><ellipse cx="134" cy="905" rx="7" ry="10" fill="#e68282" fill-opacity="0.8"/><ellipse cx="172" cy="917" rx="15" ry="25" transform="rotate(10 172 917)" fill="#4646ee" fill-opacity="0.85"/><ellipse cx="95" cy="875" rx="8" ry="30" transform="rotate(-40 95 875)" fill="#d2d2fa" fill-opacity="0.6"/><ellipse cx="190" cy="950" rx="8" ry="25" transform="rotate(40 190 950)" fill="#d2d2fa" fill-opacity="0.6"/><path d="M145.0 803.8C150.4 804.4 154.2 806.3 157.5 808.8C160.8 811.3 161.2 816.7 165.0 818.8C168.8 820.9 175.8 819.0 180.0 821.3C184.2 823.6 187.1 828.1 190.0 832.5C192.9 836.9 194.6 842.1 197.5 847.5C200.4 852.9 204.2 861.0 207.5 865.0C210.8 869.0 212.9 870.5 217.5 871.3C222.1 872.1 230.0 869.0 235.0 870.0C240.0 871.0 245.2 874.6 247.5 877.5C249.8 880.4 250.1 883.8 248.8 887.5C247.6 891.2 241.5 895.4 240.0 900.0C238.5 904.6 240.0 910.0 240.0 915.0C240.0 920.0 240.8 924.2 240.0 930.0C239.2 935.8 237.5 944.2 235.0 950.0C232.5 955.8 228.8 960.8 225.0 965.0C221.2 969.2 217.5 972.1 212.5 975.0C207.5 977.9 199.6 979.6 195.0 982.5C190.4 985.4 188.3 989.2 185.0 992.5C181.7 995.8 179.2 1000.4 175.0 1002.5C170.8 1004.6 164.6 1006.2 160.0 1005.0C155.4 1003.8 151.7 997.5 147.5 995.0C143.3 992.5 139.6 991.7 135.0 990.0C130.4 988.3 125.8 986.2 120.0 985.0C114.2 983.8 105.8 982.5 100.0 982.5C94.2 982.5 89.2 987.1 85.0 985.0C80.8 982.9 78.8 974.2 75.0 970.0C71.2 965.8 66.7 963.3 62.5 960.0C58.3 956.7 53.8 953.8 50.0 950.0C46.2 946.2 42.9 942.5 40.0 937.5C37.1 932.5 34.0 925.4 32.5 920.0C31.1 914.6 30.9 910.8 31.3 905.0C31.7 899.2 33.1 890.8 35.0 885.0C36.9 879.2 40.4 875.8 42.5 870.0C44.6 864.2 45.4 855.4 47.5 850.0C49.6 844.6 51.7 841.7 55.0 837.5C58.3 833.3 62.5 828.8 67.5 825.0C72.5 821.2 78.8 817.5 85.0 815.0C91.2 812.5 98.3 811.7 105.0 810.0C111.7 808.3 118.3 806.0 125.0 805.0C131.7 804.0 139.6 803.2 145.0 803.8Z" fill="none" stroke="#eeecfc" stroke-opacity="0.55" stroke-width="9"/></g><ellipse cx="173" cy="918" rx="8" ry="17" transform="rotate(15 173 918)" fill="#0000e6"/><ellipse cx="171" cy="892" rx="7" ry="4" fill="#e88080"/><rect x="0" y="0" width="260" height="1061" fill="url(#mp79)" opacity="0.6"/></g><path d="M145.0 803.8C150.4 804.4 154.2 806.3 157.5 808.8C160.8 811.3 161.2 816.7 165.0 818.8C168.8 820.9 175.8 819.0 180.0 821.3C184.2 823.6 187.1 828.1 190.0 832.5C192.9 836.9 194.6 842.1 197.5 847.5C200.4 852.9 204.2 861.0 207.5 865.0C210.8 869.0 212.9 870.5 217.5 871.3C222.1 872.1 230.0 869.0 235.0 870.0C240.0 871.0 245.2 874.6 247.5 877.5C249.8 880.4 250.1 883.8 248.8 887.5C247.6 891.2 241.5 895.4 240.0 900.0C238.5 904.6 240.0 910.0 240.0 915.0C240.0 920.0 240.8 924.2 240.0 930.0C239.2 935.8 237.5 944.2 235.0 950.0C232.5 955.8 228.8 960.8 225.0 965.0C221.2 969.2 217.5 972.1 212.5 975.0C207.5 977.9 199.6 979.6 195.0 982.5C190.4 985.4 188.3 989.2 185.0 992.5C181.7 995.8 179.2 1000.4 175.0 1002.5C170.8 1004.6 164.6 1006.2 160.0 1005.0C155.4 1003.8 151.7 997.5 147.5 995.0C143.3 992.5 139.6 991.7 135.0 990.0C130.4 988.3 125.8 986.2 120.0 985.0C114.2 983.8 105.8 982.5 100.0 982.5C94.2 982.5 89.2 987.1 85.0 985.0C80.8 982.9 78.8 974.2 75.0 970.0C71.2 965.8 66.7 963.3 62.5 960.0C58.3 956.7 53.8 953.8 50.0 950.0C46.2 946.2 42.9 942.5 40.0 937.5C37.1 932.5 34.0 925.4 32.5 920.0C31.1 914.6 30.9 910.8 31.3 905.0C31.7 899.2 33.1 890.8 35.0 885.0C36.9 879.2 40.4 875.8 42.5 870.0C44.6 864.2 45.4 855.4 47.5 850.0C49.6 844.6 51.7 841.7 55.0 837.5C58.3 833.3 62.5 828.8 67.5 825.0C72.5 821.2 78.8 817.5 85.0 815.0C91.2 812.5 98.3 811.7 105.0 810.0C111.7 808.3 118.3 806.0 125.0 805.0C131.7 804.0 139.6 803.2 145.0 803.8Z" fill="none" stroke="#555" stroke-width="0.6"/></svg><div style="position:absolute;left:0px;top:2.2px;font:bold 34px 'Liberation Sans', sans-serif;line-height:1;color:#000;-webkit-text-stroke:0.7px #000;white-space:nowrap">a</div><div style="position:absolute;left:264.5px;top:0.7px;font:bold 34px 'Liberation Sans', sans-serif;line-height:1;color:#000;-webkit-text-stroke:0.7px #000;transform:scaleX(1.1);transform-origin:0 0;white-space:nowrap">b</div><div style="position:absolute;left:573px;top:1.9px;font:bold 34px 'Liberation Sans', sans-serif;line-height:1;color:#fff;-webkit-text-stroke:0.7px #fff;transform:scaleX(1.1);transform-origin:0 0;white-space:nowrap">c</div><div style="position:absolute;left:826px;top:0.7px;font:bold 34px 'Liberation Sans', sans-serif;line-height:1;color:#fff;-webkit-text-stroke:0.7px #fff;transform:scaleX(1.1);transform-origin:0 0;white-space:nowrap">d</div><div style="position:absolute;left:0px;top:256.2px;font:bold 34px 'Liberation Sans', sans-serif;line-height:1;color:#000;-webkit-text-stroke:0.7px #000;transform:scaleX(1.1);transform-origin:0 0;white-space:nowrap">e</div><div style="position:absolute;left:270px;top:255.7px;font:bold 34px 'Liberation Sans', sans-serif;line-height:1;color:#000;-webkit-text-stroke:0.7px #000;transform:scaleX(1.1);transform-origin:0 0;white-space:nowrap">f</div><div style="position:absolute;left:569px;top:264.2px;font:bold 34px 'Liberation Sans', sans-serif;line-height:1;color:#fff;-webkit-text-stroke:0.7px #fff;transform:scaleX(1.1);transform-origin:0 0;white-space:nowrap">g</div><div style="position:absolute;left:825px;top:264.2px;font:bold 34px 'Liberation Sans', sans-serif;line-height:1;color:#fff;-webkit-text-stroke:0.7px #fff;transform:scaleX(1.1);transform-origin:0 0;white-space:nowrap">h</div><div style="position:absolute;left:1px;top:518.7px;font:bold 34px 'Liberation Sans', sans-serif;line-height:1;color:#000;-webkit-text-stroke:0.7px #000;white-space:nowrap">i</div><div style="position:absolute;left:273px;top:518.2px;font:bold 34px 'Liberation Sans', sans-serif;line-height:1;color:#000;-webkit-text-stroke:0.7px #000;white-space:nowrap">j</div><div style="position:absolute;left:573px;top:523.2px;font:bold 34px 'Liberation Sans', sans-serif;line-height:1;color:#fff;-webkit-text-stroke:0.7px #fff;transform:scaleX(1.1);transform-origin:0 0;white-space:nowrap">k</div><div style="position:absolute;left:832px;top:523.2px;font:bold 34px 'Liberation Sans', sans-serif;line-height:1;color:#fff;-webkit-text-stroke:0.7px #fff;white-space:nowrap">l</div><div style="position:absolute;left:0px;top:773.2px;font:bold 34px 'Liberation Sans', sans-serif;line-height:1;color:#000;-webkit-text-stroke:0.7px #000;transform:scaleX(1.1);transform-origin:0 0;white-space:nowrap">m</div><div style="position:absolute;left:264.5px;top:773.2px;font:bold 34px 'Liberation Sans', sans-serif;line-height:1;color:#000;-webkit-text-stroke:0.7px #000;transform:scaleX(1.1);transform-origin:0 0;white-space:nowrap">n</div><div style="position:absolute;left:573px;top:778.2px;font:bold 34px 'Liberation Sans', sans-serif;line-height:1;color:#fff;-webkit-text-stroke:0.7px #fff;white-space:nowrap">o</div><div style="position:absolute;left:825px;top:777.2px;font:bold 34px 'Liberation Sans', sans-serif;line-height:1;color:#fff;-webkit-text-stroke:0.7px #fff;transform:scaleX(1.1);transform-origin:0 0;white-space:nowrap">p</div><div style="position:absolute;left:18.8px;top:114.3px;transform-origin:0 0;transform:rotate(-90deg) translate(-50%,0);font:21.3px 'Liberation Sans', sans-serif;line-height:1;white-space:nowrap;color:#000"><span style="position:relative;top:-18.0px">Control</span></div><div style="position:absolute;left:18.8px;top:376.9px;transform-origin:0 0;transform:rotate(-90deg) translate(-50%,0);font:21.3px 'Liberation Sans', sans-serif;line-height:1;white-space:nowrap;color:#000"><span style="position:relative;top:-18.0px">Calyculin A</span></div><div style="position:absolute;left:18.8px;top:627.5px;transform-origin:0 0;transform:rotate(-90deg) translate(-50%,0);font:21.3px 'Liberation Sans', sans-serif;line-height:1;white-space:nowrap;color:#000"><span style="position:relative;top:-18.0px">H1152</span></div><div style="position:absolute;left:18.8px;top:908.5px;transform-origin:0 0;transform:rotate(-90deg) translate(-50%,0);font:21.3px 'Liberation Sans', sans-serif;line-height:1;white-space:nowrap;color:#000"><span style="position:relative;top:-18.0px">Ski-1</span></div><div style="position:absolute;left:40px;top:217.5px;width:51px;height:5.0px;background:#000;"></div><div style="position:absolute;left:40px;top:482px;width:51px;height:5px;background:#000;"></div><div style="position:absolute;left:40px;top:740px;width:51px;height:5px;background:#000;"></div><div style="position:absolute;left:40px;top:1007px;width:51px;height:5px;background:#000;"></div><div style="position:absolute;left:570px;top:218.6px;width:51px;height:5.0px;background:#fff;"></div><div style="position:absolute;left:830px;top:218px;width:50px;height:5px;background:#fff;"></div><div style="position:absolute;left:578px;top:473px;width:49px;height:5px;background:#fff;"></div><div style="position:absolute;left:839px;top:473px;width:50px;height:5px;background:#fff;"></div><div style="position:absolute;left:577px;top:736px;width:50px;height:5px;background:#fff;"></div><div style="position:absolute;left:839px;top:736px;width:50px;height:5px;background:#fff;"></div><div style="position:absolute;left:574px;top:1001px;width:54px;height:4.600000000000023px;background:#fff;"></div><div style="position:absolute;left:829.3px;top:1003px;width:54.700000000000045px;height:5px;background:#fff;"></div><div style="position:absolute;right:272.5px;top:204.2px;font:italic 20.5px 'Liberation Sans', sans-serif;line-height:1;color:#fff;white-space:nowrap">GDF1</div><div style="position:absolute;right:15.0px;top:203.2px;font:italic 20.5px 'Liberation Sans', sans-serif;line-height:1;color:#d57ad5;white-space:nowrap">BRA</div><div style="position:absolute;right:272.5px;top:461.6px;font:italic 20.5px 'Liberation Sans', sans-serif;line-height:1;color:#fff;white-space:nowrap">GDF1</div><div style="position:absolute;right:13.0px;top:461.1px;font:italic 20.5px 'Liberation Sans', sans-serif;line-height:1;color:#d57ad5;white-space:nowrap">BRA</div><div style="position:absolute;right:272.2px;top:725.6px;font:italic 20.5px 'Liberation Sans', sans-serif;line-height:1;color:#fff;white-space:nowrap">GDF1</div><div style="position:absolute;right:11.6px;top:725.6px;font:italic 20.5px 'Liberation Sans', sans-serif;line-height:1;color:#d57ad5;white-space:nowrap">BRA</div><div style="position:absolute;right:272.7px;top:985.2px;font:italic 20.5px 'Liberation Sans', sans-serif;line-height:1;color:#fff;white-space:nowrap">GDF1</div><div style="position:absolute;right:12.0px;top:985.0px;font:italic 20.5px 'Liberation Sans', sans-serif;line-height:1;color:#d57ad5;white-space:nowrap">BRA</div><svg style="position:absolute;left:0;top:0" width="1056" height="1061" viewBox="0 0 1056 1061"><path fill="#6666ff" stroke="#6666ff" stroke-width="0.3" d="M346 191.9h6.2l1.3 -4.5h-6zM352.2 191.9h6.2l1.1 -4.5h-6zM359.5 78.2h7.4l.2 -4.5h-7.5zM360.3 14.5h8.8l.2 -4.5h-8.9zM364.6 191.9h6.2l.8 -4.5h-6zM460.9 28.2h6.8l-.3 -4.5h-6.8zM488.4 191.9h6.2l-1.1 -4.5h-6zM477.6 69.1h7.5l-.2 -4.5h-7.6zM494.5 191.9h6.2l-1.3 -4.5h-6zM493 50.9h9.4l.1 -4.5h-9.6zM492.7 28.2h10.2l.1 -4.5h-10.4z"/><path fill="#ffebeb" stroke="#ffebeb" stroke-width="0.3" d="M347.5 187.4h6l.7 -4.5h-5.9zM353.5 187.4h6l.7 -4.5h-6zM354.8 178.3h5.9l.5 -4.5h-5.9zM359.5 187.4h6l.6 -4.5h-6zM362.8 155.5h6l.4 -4.5h-6zM363.2 151h6l.4 -4.5h-6zM363.5 146.4h6l.3 -4.5h-6.1zM368 164.6h5.9l.4 -4.5h-5.9zM369.9 141.9h5.9l.3 -4.5h-6zM377 191.9h6.2l.5 -4.5h-6.1zM381.3 146.4h5.7l.3 -4.5h-5.7zM383 123.7h5.7l.3 -4.5h-5.7zM383.3 119.1h5.7l.3 -4.5h-5.7zM389.8 187.4h6.1l.3 -4.5h-6zM390.1 182.8h6l.3 -4.5h-6zM414.3 178.3h6l0 -4.5h-5.9zM444.8 187.4h6.1l-.3 -4.5h-6zM443.9 173.7h5.9l-.3 -4.5h-5.9zM450.2 178.3h6l-.4 -4.5h-5.9zM448.9 87.3h5.3l-.4 -4.5h-5.3zM444 23.6h5l-.4 -4.5h-5zM463.6 191.9h6.2l-.6 -4.5h-6.1zM458.9 141.9h5.8l-.4 -4.5h-5.7zM456.5 114.6h5.7l-.4 -4.5h-5.6zM466.3 160.1h5.9l-.4 -4.5h-5.9zM474.7 182.8h6l-.6 -4.5h-6zM478.6 164.6h6l-.4 -4.5h-6zM478.2 160.1h6l-.4 -4.5h-6zM484.2 160.1h6.1l-.4 -4.5h-6.1zM483.7 155.5h6.1l-.4 -4.5h-6.2zM491.1 169.2h6l-.4 -4.5h-6.1zM489.5 151h6.3l-.3 -4.5h-6.3zM499.4 187.4h6l-.8 -4.5h-6zM497.6 173.7h6l-.4 -4.5h-6.1zM496.4 160.1h6.2l-.2 -4.5h-6.3zM495.8 151h6.4l-.2 -4.5h-6.5zM495.2 141.9h6.6l-.1 -4.5h-6.7z"/><path fill="#fff5f5" stroke="#fff5f5" stroke-width="0.3" d="M348.2 182.8h5.9l.6 -4.5h-5.9zM348.8 178.3h5.9l.5 -4.5h-6zM350.4 160.1h6.1l.3 -4.5h-6.1zM351.2 141.9h6.4l.2 -4.5h-6.5zM354.2 182.8h6l.6 -4.5h-5.9zM355.3 173.7h5.9l.5 -4.5h-6zM356.4 160.1h6l.4 -4.5h-6.1zM356.8 155.5h6.1l.3 -4.5h-6.1zM358.2 128.2h6.4l.2 -4.5h-6.5zM362.1 164.6h5.9l.4 -4.5h-6zM366.1 182.8h6l.5 -4.5h-6zM366.7 178.3h6l.5 -4.5h-5.9zM368.8 155.5h5.9l.4 -4.5h-5.9zM369.2 151h5.9l.4 -4.5h-5.9zM370.5 132.8h6l.3 -4.5h-6zM372.1 182.8h6l.4 -4.5h-6zM375.1 151h5.8l.4 -4.5h-5.8zM376.5 132.8h5.8l.3 -4.5h-5.8zM377.8 114.6h5.9l.3 -4.5h-5.9zM378.7 101h5.9l.3 -4.5h-5.9zM379.9 82.8h6l.3 -4.5h-6zM378.6 178.3h6l.4 -4.5h-5.9zM384 110h5.6l.3 -4.5h-5.6zM384.9 96.4h5.6l.3 -4.5h-5.6zM394.4 37.3h5.1l.3 -4.5h-5.1zM395 28.2h5.1l.3 -4.5h-5.1zM395.9 14.5h5l.3 -4.5h-5zM450 101h5.4l-.4 -4.5h-5.4zM449.3 91.9h5.3l-.4 -4.5h-5.3zM448.2 78.2h5.3l-.4 -4.5h-5.2zM447.8 73.7h5.2l-.4 -4.5h-5.2zM463.1 187.4h6.1l-.5 -4.5h-6zM460.5 160.1h5.8l-.4 -4.5h-5.8zM467.2 169.2h5.9l-.5 -4.5h-5.9zM463.8 132.8h5.9l-.4 -4.5h-5.9zM463.4 128.2h5.9l-.4 -4.5h-5.9zM475.2 187.4h6.1l-.6 -4.5h-6zM472.7 164.6h5.9l-.5 -4.5h-5.9zM471.3 151h6l-.4 -4.5h-6zM477.3 151h6l-.4 -4.5h-6.1zM476.4 141.9h6.1l-.4 -4.5h-6.1zM482.9 146.4h6.2l-.3 -4.5h-6.3zM482.2 137.3h6.3l-.3 -4.5h-6.4zM489.1 146.4h6.3l-.2 -4.5h-6.4zM488.8 141.9h6.4l-.2 -4.5h-6.5zM488.2 132.8h6.6l-.2 -4.5h-6.7zM496.7 164.6h6.1l-.3 -4.5h-6.2zM496.1 155.5h6.3l-.2 -4.5h-6.4zM495.5 146.4h6.5l-.1 -4.5h-6.6zM494.6 128.2h6.9l0 -4.5h-7.1z"/><path fill="#ffe0e0" stroke="#ffe0e0" stroke-width="0.3" d="M349.3 173.7h6l.4 -4.5h-6zM349.7 169.2h6l.4 -4.5h-6zM350.1 164.6h6l.4 -4.5h-6.1zM350.6 155.5h6.1l.3 -4.5h-6.2zM361.7 169.2h5.9l.4 -4.5h-5.9zM364.1 137.3h6.1l.3 -4.5h-6.2zM375.8 141.9h5.8l.3 -4.5h-5.8zM379 173.7h5.9l.4 -4.5h-5.9zM380.2 160.1h5.8l.3 -4.5h-5.8zM380.6 155.5h5.8l.3 -4.5h-5.8zM382 137.3h5.7l.3 -4.5h-5.7zM385.6 164.6h5.8l.3 -4.5h-5.8zM394.1 41.8h5.1l.3 -4.5h-5.1zM394.7 32.7h5.1l.3 -4.5h-5.1zM408.4 178.3h6l.1 -4.5h-5.9zM432.4 182.8h6l-.2 -4.5h-6zM445 191.9h6.2l-.4 -4.5h-6.1zM448.9 160.1h5.8l-.4 -4.5h-5.7zM447.9 146.4h5.6l-.4 -4.5h-5.6zM453.2 141.9h5.7l-.4 -4.5h-5.6zM452.8 137.3h5.6l-.4 -4.5h-5.6zM452.5 132.8h5.6l-.4 -4.5h-5.6zM462.6 182.8h6l-.5 -4.5h-6zM460.9 164.6h5.9l-.4 -4.5h-5.8zM460.1 155.5h5.8l-.4 -4.5h-5.8zM464.6 141.9h5.9l-.4 -4.5h-5.9zM474.1 178.3h6l-.5 -4.5h-6zM473.2 169.2h6l-.5 -4.5h-5.9zM471.8 155.5h5.9l-.4 -4.5h-6zM470.9 146.4h6l-.4 -4.5h-6zM470.5 141.9h6l-.4 -4.5h-6zM485.1 169.2h6l-.4 -4.5h-6zM484.6 164.6h6l-.4 -4.5h-6.1zM482.6 141.9h6.3l-.3 -4.5h-6.3zM493.4 187.4h6l-.7 -4.5h-6zM497.1 169.2h6.1l-.3 -4.5h-6.1z"/><path fill="#ffb8b8" stroke="#ffb8b8" stroke-width="0.3" d="M350.9 151h6.2l.3 -4.5h-6.3zM386.7 151h5.7l.3 -4.5h-5.7zM388 132.8h5.6l.3 -4.5h-5.6zM389.3 114.6h5.5l.3 -4.5h-5.4zM389.6 110h5.4l.3 -4.5h-5.4zM389.4 191.9h6.2l.3 -4.5h-6.1zM390.5 178.3h6l.3 -4.5h-5.9zM392.1 155.5h5.7l.3 -4.5h-5.7zM393.9 128.2h5.4l.3 -4.5h-5.4zM396.4 178.3h6l.2 -4.5h-5.9zM397.3 164.6h5.8l.2 -4.5h-5.7zM398.8 137.3h5.5l.2 -4.5h-5.4zM402.2 182.8h6l.1 -4.5h-6zM403.5 155.5h5.6l.1 -4.5h-5.6zM408.1 187.4h6.1l.1 -4.5h-6zM408.5 173.7h5.9l.1 -4.5h-5.8zM415 141.9h5.4l0 -4.5h-5.3zM420.3 178.3h6l-.1 -4.5h-5.9zM420.3 164.6h5.8l-.1 -4.5h-5.7zM426.2 169.2h5.8l-.1 -4.5h-5.8zM426.1 164.6h5.8l-.1 -4.5h-5.7zM425.8 146.4h5.5l-.1 -4.5h-5.4zM432.3 178.3h6l-.2 -4.5h-5.9zM432 169.2h5.8l-.2 -4.5h-5.8zM431.9 164.6h5.8l-.2 -4.5h-5.7zM431.7 160.1h5.7l-.2 -4.5h-5.6zM431 137.3h5.4l-.2 -4.5h-5.3zM438.4 182.8h6l-.3 -4.5h-6zM437.8 169.2h5.8l-.3 -4.5h-5.8zM437.4 160.1h5.7l-.3 -4.5h-5.7zM437.2 155.5h5.7l-.3 -4.5h-5.6zM442.6 151h5.6l-.3 -4.5h-5.6zM449.2 164.6h5.8l-.4 -4.5h-5.8zM447.6 141.9h5.6l-.4 -4.5h-5.5zM446.7 128.2h5.5l-.4 -4.5h-5.4zM439.5 23.6h4.5l-.4 -4.5h-4.5zM450.7 110h5.4l-.4 -4.5h-5.4z"/><path fill="#ebebff" stroke="#ebebff" stroke-width="0.3" d="M351 146.4h6.3l.2 -4.5h-6.4zM351.3 137.3h6.5l.2 -4.5h-6.6zM351.7 119.1h6.9l.1 -4.5h-7zM357.1 151h6.1l.3 -4.5h-6.2zM358 132.8h6.3l.3 -4.5h-6.4zM358.5 119.1h6.6l.2 -4.5h-6.6zM364.4 132.8h6.2l.3 -4.5h-6.2zM365.5 187.4h6l.5 -4.5h-6zM370.8 128.2h6l.3 -4.5h-6zM374.3 160.1h5.9l.4 -4.5h-5.8zM376.8 128.2h5.8l.3 -4.5h-5.8zM378.4 105.5h5.9l.3 -4.5h-5.9zM385.5 87.3h5.6l.3 -4.5h-5.6zM387.3 60h5.6l.3 -4.5h-5.6zM387.6 55.5h5.6l.3 -4.5h-5.6zM388.5 41.8h5.6l.3 -4.5h-5.6zM448.6 82.8h5.3l-.4 -4.5h-5.3zM446.1 50.9h5.1l-.4 -4.5h-5.1zM461.3 169.2h5.9l-.5 -4.5h-5.9zM458.1 132.8h5.7l-.4 -4.5h-5.7zM455.7 105.5h5.6l-.4 -4.5h-5.6zM455 96.4h5.6l-.4 -4.5h-5.6zM465 146.4h5.9l-.4 -4.5h-5.9zM473.8 110h6.4l-.3 -4.5h-6.5zM480.8 119.1h6.6l-.2 -4.5h-6.7zM488.5 137.3h6.5l-.2 -4.5h-6.6z"/><path fill="#f5f5ff" stroke="#f5f5ff" stroke-width="0.3" d="M351.6 123.7h6.8l.2 -4.5h-6.9zM356.1 164.6h6l.4 -4.5h-6zM364.9 123.7h6.3l.3 -4.5h-6.3zM367.1 173.7h5.9l.4 -4.5h-5.9zM367.6 169.2h5.9l.4 -4.5h-5.9zM370.2 137.3h6l.3 -4.5h-6zM371.1 123.7h6l.3 -4.5h-6.1zM373.9 164.6h5.9l.4 -4.5h-5.9zM378.1 110h5.9l.3 -4.5h-5.9zM379.3 91.9h5.9l.3 -4.5h-5.9zM383.6 114.6h5.7l.3 -4.5h-5.6zM384.3 105.5h5.6l.3 -4.5h-5.6zM386.4 73.7h5.6l.3 -4.5h-5.6zM395.6 19.1h5.1l.3 -4.5h-5zM449.6 96.4h5.4l-.4 -4.5h-5.3zM447.1 64.6h5.2l-.4 -4.5h-5.2zM446.8 60h5.2l-.4 -4.5h-5.1zM443.3 14.5h4.9l-.4 -4.5h-4.9zM455.4 101h5.6l-.4 -4.5h-5.6zM454.2 87.3h5.6l-.4 -4.5h-5.6zM453.5 78.2h5.6l-.4 -4.5h-5.6zM465.9 155.5h5.9l-.4 -4.5h-5.9zM472.2 160.1h5.9l-.4 -4.5h-5.9zM469.2 128.2h6l-.4 -4.5h-6.1zM479.1 169.2h6l-.5 -4.5h-6zM476 137.3h6.1l-.4 -4.5h-6.2zM474.9 123.7h6.3l-.3 -4.5h-6.3zM487.4 187.4h6l-.7 -4.5h-6zM481.5 128.2h6.4l-.3 -4.5h-6.5zM487.9 128.2h6.7l-.2 -4.5h-6.8z"/><path fill="#c2c2ff" stroke="#c2c2ff" stroke-width="0.3" d="M351.7 114.6h7l.1 -4.5h-7.1zM358.4 123.7h6.5l.2 -4.5h-6.6zM359.1 101h6.9l.2 -4.5h-7zM365.1 119.1h6.3l.3 -4.5h-6.4zM389.4 28.2h5.6l.3 -4.5h-5.6zM450.5 41.8h5.5l-.4 -4.5h-5.5zM461.4 105.5h5.9l-.4 -4.5h-5.9zM461 101h5.9l-.4 -4.5h-5.9zM460.6 96.4h5.9l-.4 -4.5h-5.9zM467.3 105.5h6.2l-.4 -4.5h-6.2zM479.9 105.5h6.8l-.2 -4.5h-6.9zM479 91.9h7.1l-.2 -4.5h-7.1zM486.5 101h7.3l-.1 -4.5h-7.4zM493.9 105.5h7.6l0 -4.5h-7.7zM493.8 101h7.7l0 -4.5h-7.9zM493.7 96.4h7.9l.1 -4.5h-8z"/><path fill="#ccccff" stroke="#ccccff" stroke-width="0.3" d="M351.7 110h7.1l.1 -4.5h-7.2zM358.7 114.6h6.6l.2 -4.5h-6.7zM358.8 110h6.7l.2 -4.5h-6.8zM371.7 114.6h6.1l.3 -4.5h-6.1zM386.1 78.2h5.6l.3 -4.5h-5.6zM386.7 69.1h5.6l.3 -4.5h-5.6zM388.8 37.3h5.6l.3 -4.5h-5.6zM444.3 28.2h5l-.4 -4.5h-5zM456.9 119.1h5.7l-.4 -4.5h-5.7zM452 60h5.6l-.4 -4.5h-5.5zM451.6 55.5h5.5l-.4 -4.5h-5.5zM461.8 110h5.9l-.4 -4.5h-5.9zM474.5 119.1h6.3l-.3 -4.5h-6.4zM480.5 114.6h6.7l-.2 -4.5h-6.7zM487.4 119.1h6.9l-.1 -4.5h-7zM486.7 105.5h7.2l-.1 -4.5h-7.3zM494.1 114.6h7.3l0 -4.5h-7.5z"/><path fill="#adadff" stroke="#adadff" stroke-width="0.3" d="M351.7 105.5h7.2l.1 -4.5h-7.3zM350.5 14.5h9.8l.1 -4.5h-9.9zM373 91.9h6.3l.3 -4.5h-6.3zM473.1 101h6.5l-.3 -4.5h-6.6zM472.4 91.9h6.6l-.3 -4.5h-6.7zM470.3 64.6h7l-.3 -4.5h-7.1zM479.3 96.4h7l-.2 -4.5h-7.1zM478.7 87.3h7.1l-.2 -4.5h-7.2zM477.3 64.6h7.6l-.2 -4.5h-7.7zM485.3 73.7h8l-.1 -4.5h-8.1z"/><path fill="#d6d6ff" stroke="#d6d6ff" stroke-width="0.3" d="M351.7 101h7.3l.1 -4.5h-7.4zM365.3 114.6h6.4l.3 -4.5h-6.4zM377.5 119.1h5.8l.3 -4.5h-5.9zM380.1 78.2h6l.3 -4.5h-6zM389.1 32.7h5.6l.3 -4.5h-5.6zM390.3 14.5h5.6l.3 -4.5h-5.6zM453.1 73.7h5.6l-.4 -4.5h-5.6zM452.7 69.1h5.6l-.4 -4.5h-5.6zM452.3 64.6h5.6l-.4 -4.5h-5.6zM450.8 46.4h5.5l-.4 -4.5h-5.5zM450.1 37.3h5.5l-.4 -4.5h-5.5zM463 123.7h5.9l-.4 -4.5h-5.9zM462.6 119.1h5.9l-.4 -4.5h-5.9zM468.8 123.7h6.1l-.4 -4.5h-6.1zM466.9 101h6.2l-.4 -4.5h-6.2zM475.7 132.8h6.2l-.3 -4.5h-6.2zM487.7 123.7h6.8l-.2 -4.5h-6.9zM487.2 114.6h7l-.1 -4.5h-7.1zM495 137.3h6.7l-.1 -4.5h-6.8zM494.4 123.7h7.1l0 -4.5h-7.2zM494 110h7.5l0 -4.5h-7.6z"/><path fill="#b8b8ff" stroke="#b8b8ff" stroke-width="0.3" d="M351.7 96.4h7.4l.1 -4.5h-7.6zM351.6 82.8h7.8l.1 -4.5h-7.9zM358.9 105.5h6.8l.2 -4.5h-6.9zM359.4 82.8h7.3l.2 -4.5h-7.4zM365.5 110h6.4l.3 -4.5h-6.5zM365.8 105.5h6.5l.3 -4.5h-6.5zM367.2 69.1h7l.2 -4.5h-7.1zM372 110h6.1l.3 -4.5h-6.2zM372.2 105.5h6.2l.3 -4.5h-6.2zM372.5 101h6.2l.3 -4.5h-6.2zM372.8 96.4h6.2l.3 -4.5h-6.3zM465.4 82.8h6.3l-.3 -4.5h-6.4zM468 32.7h7.4l-.3 -4.5h-7.5zM479.6 101h6.9l-.2 -4.5h-7zM486.9 110h7.1l-.1 -4.5h-7.2z"/><path fill="#9999ff" stroke="#9999ff" stroke-width="0.3" d="M351.7 91.9h7.6l.1 -4.5h-7.7zM351.7 87.3h7.7l.1 -4.5h-7.8zM351.6 78.2h7.9l.1 -4.5h-8.1zM351.4 64.6h8.3l.1 -4.5h-8.5zM359.2 96.4h7l.2 -4.5h-7.1zM359.7 69.1h7.6l.2 -4.5h-7.7zM366 101h6.5l.3 -4.5h-6.6zM366.2 96.4h6.6l.3 -4.5h-6.7zM366.3 91.9h6.7l.3 -4.5h-6.7zM366.7 82.8h6.8l.2 -4.5h-6.9zM367.7 55.5h7.2l.2 -4.5h-7.3zM368.7 28.2h7.6l.2 -4.5h-7.7zM373.3 87.3h6.3l.3 -4.5h-6.4zM376.1 32.7h6.8l.3 -4.5h-6.9zM382.7 37.3h6.2l.3 -4.5h-6.2zM449 23.6h5.5l-.4 -4.5h-5.5zM460.2 91.9h5.9l-.4 -4.5h-5.9zM459.8 87.3h5.9l-.4 -4.5h-5.9zM459 78.2h5.9l-.4 -4.5h-6zM454.9 28.2h6.1l-.4 -4.5h-6.1zM466.5 96.4h6.2l-.3 -4.5h-6.3zM462.8 50.9h6.6l-.3 -4.5h-6.6zM462.4 46.4h6.6l-.3 -4.5h-6.6zM472 87.3h6.7l-.3 -4.5h-6.8zM470.7 69.1h6.9l-.3 -4.5h-7zM478.4 82.8h7.2l-.2 -4.5h-7.3zM478.1 78.2h7.3l-.2 -4.5h-7.4zM477.9 73.7h7.4l-.2 -4.5h-7.5zM484.2 46.4h8.7l0 -4.5h-8.8z"/><path fill="#7070ff" stroke="#7070ff" stroke-width="0.3" d="M351.5 73.7h8.1l.1 -4.5h-8.2zM351.3 60h8.5l.1 -4.5h-8.6zM351 41.8h9l.1 -4.5h-9.1zM367.4 64.6h7.1l.2 -4.5h-7.1zM368.4 37.3h7.5l.2 -4.5h-7.6zM368.5 32.7h7.6l.2 -4.5h-7.6zM369 19.1h7.8l.2 -4.5h-7.9zM375.2 50.9h6.7l.3 -4.5h-6.7zM381.3 60h6.1l.3 -4.5h-6.1zM482.2 191.9h6.2l-1 -4.5h-6.1zM476.8 55.5h7.8l-.2 -4.5h-7.9zM493.1 64.6h8.9l.1 -4.5h-9.1zM492.9 46.4h9.6l.1 -4.5h-9.7z"/><path fill="#8f8fff" stroke="#8f8fff" stroke-width="0.3" d="M351.5 69.1h8.2l.1 -4.5h-8.3zM351.3 55.5h8.6l.1 -4.5h-8.7zM351.1 46.4h8.9l.1 -4.5h-9zM350.8 28.2h9.4l.1 -4.5h-9.5zM350.7 23.6h9.5l.1 -4.5h-9.7zM350.6 19.1h9.7l.1 -4.5h-9.8zM359.8 60h7.8l.2 -4.5h-7.9zM368.8 23.6h7.7l.2 -4.5h-7.8zM369.1 14.5h7.9l.2 -4.5h-7.9zM374 73.7h6.4l.3 -4.5h-6.5zM374.7 60h6.6l.3 -4.5h-6.6zM374.9 55.5h6.6l.3 -4.5h-6.7zM375.4 46.4h6.7l.3 -4.5h-6.8zM376.3 28.2h6.9l.3 -4.5h-6.9zM377 14.5h7l.3 -4.5h-7.1zM380.4 73.7h6l.3 -4.5h-6zM381 64.6h6l.3 -4.5h-6.1zM382.4 41.8h6.1l.3 -4.5h-6.2zM382.9 32.7h6.2l.3 -4.5h-6.2zM384 14.5h6.3l.3 -4.5h-6.3zM449.7 32.7h5.5l-.4 -4.5h-5.5zM448.6 19.1h5.5l-.4 -4.5h-5.5zM458.7 73.7h6l-.4 -4.5h-6zM455.2 32.7h6.1l-.4 -4.5h-6.1zM454.5 23.6h6.1l-.4 -4.5h-6.1zM454.1 19.1h6.1l-.4 -4.5h-6.1zM453.7 14.5h6.1l-.4 -4.5h-6.2zM466.1 91.9h6.3l-.3 -4.5h-6.3zM463.1 55.5h6.5l-.3 -4.5h-6.6zM461.3 32.7h6.7l-.3 -4.5h-6.8zM460.6 23.6h6.8l-.3 -4.5h-6.8zM459.8 14.5h6.9l-.3 -4.5h-6.9zM469.3 50.9h7.2l-.3 -4.5h-7.2zM468.7 41.8h7.3l-.3 -4.5h-7.4zM467.7 28.2h7.5l-.3 -4.5h-7.6zM467.4 23.6h7.6l-.3 -4.5h-7.6zM466.7 14.5h7.7l-.3 -4.5h-7.8zM477.1 60h7.7l-.2 -4.5h-7.8zM476.3 46.4h8l-.2 -4.5h-8zM476 41.8h8l-.2 -4.5h-8.1zM475.7 37.3h8.1l-.2 -4.5h-8.2zM475.2 28.2h8.3l-.2 -4.5h-8.4zM474.9 23.6h8.4l-.2 -4.5h-8.5zM474.7 19.1h8.5l-.2 -4.5h-8.6zM474.4 14.5h8.6l-.2 -4.5h-8.7zM485.9 87.3h7.6l-.1 -4.5h-7.8zM485.5 78.2h7.9l-.1 -4.5h-8zM484.9 64.6h8.2l-.1 -4.5h-8.4zM484.7 60h8.4l-.1 -4.5h-8.5zM484.4 50.9h8.6l0 -4.5h-8.7zM483.9 37.3h9l0 -4.5h-9.1zM483.2 19.1h9.5l0 -4.5h-9.6zM493.5 87.3h8.2l.1 -4.5h-8.3zM493.4 82.8h8.3l.1 -4.5h-8.5zM492.7 23.6h10.4l.1 -4.5h-10.5z"/><path fill="#7a7aff" stroke="#7a7aff" stroke-width="0.3" d="M351.2 50.9h8.7l.1 -4.5h-8.9zM350.9 32.7h9.3l.1 -4.5h-9.4zM359.7 64.6h7.7l.2 -4.5h-7.8zM359.9 55.5h7.9l.2 -4.5h-8zM360.2 23.6h8.6l.2 -4.5h-8.7zM358.4 191.9h6.2l.9 -4.5h-6zM367.1 73.7h6.9l.2 -4.5h-7zM375.6 41.8h6.8l.3 -4.5h-6.8zM375.9 37.3h6.8l.3 -4.5h-6.8zM376.5 23.6h6.9l.3 -4.5h-7zM370.8 191.9h6.2l.6 -4.5h-6.1zM381.5 55.5h6.1l.3 -4.5h-6.1zM382.1 46.4h6.1l.3 -4.5h-6.1zM383.2 28.2h6.2l.3 -4.5h-6.2zM449.3 28.2h5.5l-.4 -4.5h-5.5zM458.3 69.1h6l-.4 -4.5h-6zM455.6 37.3h6.1l-.4 -4.5h-6.1zM476 191.9h6.2l-.9 -4.5h-6.1zM464.2 69.1h6.4l-.3 -4.5h-6.5zM463.9 64.6h6.5l-.3 -4.5h-6.5zM461.7 37.3h6.7l-.3 -4.5h-6.7zM470 60h7.1l-.3 -4.5h-7.1zM469.7 55.5h7.1l-.3 -4.5h-7.2zM483.7 32.7h9.1l0 -4.5h-9.2zM492.6 14.5h10.7l.1 -4.5h-10.8z"/><path fill="#a3a3ff" stroke="#a3a3ff" stroke-width="0.3" d="M351 37.3h9.1l.1 -4.5h-9.3zM359.3 91.9h7.1l.2 -4.5h-7.2zM359.4 87.3h7.2l.2 -4.5h-7.3zM359.6 73.7h7.5l.2 -4.5h-7.6zM359.9 50.9h8l.2 -4.5h-8.1zM360.3 19.1h8.7l.2 -4.5h-8.8zM366.5 87.3h6.7l.2 -4.5h-6.8zM373.5 82.8h6.4l.3 -4.5h-6.4zM373.8 78.2h6.4l.3 -4.5h-6.4zM380.7 69.1h6l.3 -4.5h-6zM383.5 23.6h6.2l.3 -4.5h-6.3zM383.8 19.1h6.3l.3 -4.5h-6.3zM459.4 82.8h5.9l-.4 -4.5h-5.9zM457.9 64.6h6l-.4 -4.5h-6zM465.7 87.3h6.3l-.3 -4.5h-6.3zM473.4 105.5h6.5l-.3 -4.5h-6.5zM472.7 96.4h6.6l-.3 -4.5h-6.6zM471.3 78.2h6.8l-.3 -4.5h-6.9zM486.3 96.4h7.4l-.1 -4.5h-7.5zM485.7 82.8h7.8l-.1 -4.5h-7.9zM483.5 28.2h9.2l0 -4.5h-9.3zM493.6 91.9h8l.1 -4.5h-8.2zM493.3 73.7h8.6l.1 -4.5h-8.8zM493 55.5h9.3l.1 -4.5h-9.4z"/><path fill="#ffd6d6" stroke="#ffd6d6" stroke-width="0.3" d="M355.7 169.2h6l.4 -4.5h-6zM357.3 146.4h6.2l.3 -4.5h-6.2zM360.2 182.8h6l.5 -4.5h-5.9zM360.7 178.3h5.9l.5 -4.5h-5.9zM361.2 173.7h5.9l.5 -4.5h-5.9zM362.5 160.1h6l.4 -4.5h-6zM368.4 160.1h5.9l.4 -4.5h-5.9zM371.6 187.4h6.1l.5 -4.5h-6zM373.5 169.2h5.9l.4 -4.5h-5.9zM379.4 169.2h5.9l.4 -4.5h-5.8zM379.8 164.6h5.8l.4 -4.5h-5.8zM381.6 141.9h5.7l.3 -4.5h-5.7zM385.3 169.2h5.9l.3 -4.5h-5.8zM387 146.4h5.7l.3 -4.5h-5.6zM387.4 141.9h5.6l.3 -4.5h-5.6zM393.5 50.9h5.2l.3 -4.5h-5.2zM391.1 169.2h5.9l.3 -4.5h-5.8zM392.4 151h5.7l.3 -4.5h-5.6zM396.2 182.8h6l.2 -4.5h-6zM414.2 187.4h6.1l0 -4.5h-6zM426.5 191.9h6.2l-.1 -4.5h-6.1zM426.4 182.8h6l-.1 -4.5h-6zM432.5 187.4h6.1l-.2 -4.5h-6zM438.9 191.9h6.2l-.3 -4.5h-6.1zM438 173.7h5.9l-.3 -4.5h-5.8zM443.1 160.1h5.7l-.3 -4.5h-5.7zM442.4 146.4h5.6l-.3 -4.5h-5.5zM448.2 151h5.7l-.4 -4.5h-5.6zM446 119.1h5.4l-.4 -4.5h-5.3zM456.6 182.8h6l-.4 -4.5h-6zM456.2 178.3h6l-.4 -4.5h-5.9zM455.4 169.2h5.9l-.4 -4.5h-5.8zM454.7 160.1h5.8l-.4 -4.5h-5.8zM454.3 155.5h5.8l-.4 -4.5h-5.7zM451.7 123.7h5.5l-.4 -4.5h-5.5zM451.4 119.1h5.5l-.4 -4.5h-5.5zM451 114.6h5.5l-.4 -4.5h-5.4zM462.2 178.3h6l-.5 -4.5h-5.9zM458.5 137.3h5.7l-.4 -4.5h-5.7zM468.6 182.8h6l-.5 -4.5h-6zM481.3 187.4h6.1l-.7 -4.5h-6zM480.1 178.3h6l-.5 -4.5h-6zM479.6 173.7h6l-.5 -4.5h-6zM485.6 173.7h6l-.5 -4.5h-6zM483.3 151h6.2l-.3 -4.5h-6.2zM491.6 173.7h6l-.4 -4.5h-6zM498.7 182.8h6l-.6 -4.5h-6zM498.1 178.3h6l-.5 -4.5h-6z"/><path fill="#e0e0ff" stroke="#e0e0ff" stroke-width="0.3" d="M357.6 141.9h6.2l.3 -4.5h-6.3zM364.6 128.2h6.2l.3 -4.5h-6.3zM371.4 119.1h6.1l.3 -4.5h-6.1zM379 96.4h5.9l.3 -4.5h-5.9zM379.6 87.3h5.9l.3 -4.5h-6zM387.9 50.9h5.6l.3 -4.5h-5.6zM388.2 46.4h5.6l.3 -4.5h-5.6zM389.7 23.6h5.6l.3 -4.5h-5.6zM390 19.1h5.6l.3 -4.5h-5.6zM446.4 55.5h5.1l-.4 -4.5h-5.1zM445.7 46.4h5.1l-.4 -4.5h-5.1zM445 37.3h5l-.4 -4.5h-5zM444.7 32.7h5l-.4 -4.5h-5zM443.6 19.1h5l-.4 -4.5h-4.9zM459.3 146.4h5.8l-.4 -4.5h-5.8zM457.7 128.2h5.7l-.4 -4.5h-5.7zM453.8 82.8h5.6l-.4 -4.5h-5.6zM451.2 50.9h5.5l-.4 -4.5h-5.5zM469.2 187.4h6.1l-.6 -4.5h-6zM462.2 114.6h5.9l-.4 -4.5h-5.9zM469.6 132.8h6l-.4 -4.5h-6zM468.4 119.1h6.1l-.4 -4.5h-6.1zM468 114.6h6.1l-.4 -4.5h-6.1zM467.6 110h6.1l-.4 -4.5h-6.2zM474.1 114.6h6.4l-.3 -4.5h-6.4zM481.2 123.7h6.5l-.3 -4.5h-6.6zM480.2 110h6.7l-.2 -4.5h-6.8zM494.8 132.8h6.8l-.1 -4.5h-6.9zM494.3 119.1h7.2l0 -4.5h-7.3z"/><path fill="#8585ff" stroke="#8585ff" stroke-width="0.3" d="M360 46.4h8.1l.2 -4.5h-8.2zM360 41.8h8.2l.2 -4.5h-8.3zM360.1 37.3h8.3l.2 -4.5h-8.4zM360.1 32.7h8.4l.2 -4.5h-8.5zM360.2 28.2h8.5l.2 -4.5h-8.6zM366.9 78.2h6.9l.2 -4.5h-6.9zM367.6 60h7.1l.2 -4.5h-7.2zM367.9 50.9h7.3l.2 -4.5h-7.4zM368 46.4h7.4l.2 -4.5h-7.4zM368.2 41.8h7.4l.2 -4.5h-7.5zM374.2 69.1h6.5l.3 -4.5h-6.5zM374.5 64.6h6.5l.3 -4.5h-6.6zM376.8 19.1h7l.3 -4.5h-7zM381.8 50.9h6.1l.3 -4.5h-6.1zM448.2 14.5h5.5l-.4 -4.5h-5.5zM457.5 60h6l-.4 -4.5h-6zM457.1 55.5h6l-.4 -4.5h-6zM456.8 50.9h6l-.4 -4.5h-6zM456.4 46.4h6l-.4 -4.5h-6zM456 41.8h6l-.4 -4.5h-6.1zM465 78.2h6.4l-.3 -4.5h-6.4zM464.6 73.7h6.4l-.3 -4.5h-6.4zM463.5 60h6.5l-.3 -4.5h-6.5zM462 41.8h6.6l-.3 -4.5h-6.7zM471.7 82.8h6.8l-.3 -4.5h-6.8zM471 73.7h6.9l-.3 -4.5h-6.9zM469 46.4h7.2l-.3 -4.5h-7.3zM468.4 37.3h7.4l-.3 -4.5h-7.4zM467 19.1h7.6l-.3 -4.5h-7.7zM476.5 50.9h7.9l-.2 -4.5h-8zM475.5 32.7h8.2l-.2 -4.5h-8.3zM486.1 91.9h7.5l-.1 -4.5h-7.6zM485.1 69.1h8.1l-.1 -4.5h-8.2zM484.6 55.5h8.5l-.1 -4.5h-8.6zM484 41.8h8.8l0 -4.5h-9zM483.4 23.6h9.3l0 -4.5h-9.5zM493.3 78.2h8.5l.1 -4.5h-8.6zM493.2 69.1h8.8l.1 -4.5h-8.9zM493.1 60h9.1l.1 -4.5h-9.3zM492.9 41.8h9.7l.1 -4.5h-9.9zM492.8 37.3h9.9l.1 -4.5h-10zM492.8 32.7h10l.1 -4.5h-10.2zM492.6 19.1h10.5l.1 -4.5h-10.7z"/><path fill="#ffc2c2" stroke="#ffc2c2" stroke-width="0.3" d="M378.1 182.8h6l.4 -4.5h-6zM380.9 151h5.8l.3 -4.5h-5.7zM384.5 178.3h6l.3 -4.5h-5.9zM387.7 137.3h5.6l.3 -4.5h-5.6zM388.3 128.2h5.6l.3 -4.5h-5.5zM390.8 91.9h5.4l.3 -4.5h-5.3zM391.1 87.3h5.3l.3 -4.5h-5.3zM391.4 82.8h5.3l.3 -4.5h-5.3zM392 73.7h5.3l.3 -4.5h-5.3zM392.3 69.1h5.3l.3 -4.5h-5.2zM392.6 64.6h5.2l.3 -4.5h-5.2zM393.2 55.5h5.2l.3 -4.5h-5.2zM391.8 160.1h5.7l.3 -4.5h-5.7zM393.3 137.3h5.5l.3 -4.5h-5.5zM396.7 173.7h5.9l.2 -4.5h-5.8zM398.3 146.4h5.6l.2 -4.5h-5.5zM402.6 173.7h5.9l.1 -4.5h-5.8zM408.7 169.2h5.8l.1 -4.5h-5.8zM409 160.1h5.7l.1 -4.5h-5.6zM414.1 191.9h6.2l0 -4.5h-6.1zM414.3 182.8h6l0 -4.5h-6zM414.4 173.7h5.9l0 -4.5h-5.8zM414.7 155.5h5.6l0 -4.5h-5.5zM420.3 191.9h6.2l-.1 -4.5h-6.1zM420.3 160.1h5.7l-.1 -4.5h-5.6zM426.3 178.3h6l-.1 -4.5h-5.9zM426.2 173.7h5.9l-.1 -4.5h-5.8zM426 155.5h5.6l-.1 -4.5h-5.6zM431.3 146.4h5.5l-.2 -4.5h-5.4zM438.2 178.3h6l-.3 -4.5h-5.9zM444.5 182.8h6l-.3 -4.5h-6zM443.7 169.2h5.9l-.3 -4.5h-5.8zM440 105.5h5.1l-.3 -4.5h-5zM451.2 191.9h6.2l-.4 -4.5h-6.1zM449.9 173.7h5.9l-.4 -4.5h-5.9zM449.5 169.2h5.9l-.4 -4.5h-5.8zM447.3 137.3h5.5l-.4 -4.5h-5.5zM457.4 191.9h6.2l-.5 -4.5h-6.1zM453.6 146.4h5.7l-.4 -4.5h-5.7zM452.1 128.2h5.6l-.4 -4.5h-5.5zM450.3 105.5h5.4l-.4 -4.5h-5.4zM490.2 160.1h6.1l-.3 -4.5h-6.2z"/><path fill="#ffcccc" stroke="#ffcccc" stroke-width="0.3" d="M383.2 191.9h6.2l.4 -4.5h-6.1zM383.7 187.4h6.1l.4 -4.5h-6zM384.9 173.7h5.9l.3 -4.5h-5.9zM386 160.1h5.8l.3 -4.5h-5.7zM386.3 155.5h5.7l.3 -4.5h-5.7zM389 119.1h5.5l.3 -4.5h-5.5zM393.8 46.4h5.2l.3 -4.5h-5.1zM390.8 173.7h5.9l.3 -4.5h-5.9zM391.5 164.6h5.8l.3 -4.5h-5.7zM393 141.9h5.6l.3 -4.5h-5.5zM393.6 132.8h5.5l.3 -4.5h-5.4zM395.5 191.9h6.2l.2 -4.5h-6.1zM395.9 187.4h6.1l.2 -4.5h-6zM397 169.2h5.8l.2 -4.5h-5.8zM397.8 155.5h5.7l.2 -4.5h-5.6zM398 151h5.6l.2 -4.5h-5.6zM399.8 119.1h5.2l.2 -4.5h-5.2zM401.7 191.9h6.2l.2 -4.5h-6.1zM402.4 178.3h6l.1 -4.5h-5.9zM402.8 169.2h5.8l.1 -4.5h-5.8zM403.2 160.1h5.7l.1 -4.5h-5.6zM407.9 191.9h6.2l.1 -4.5h-6.1zM408.2 182.8h6l.1 -4.5h-6zM409.1 155.5h5.6l.1 -4.5h-5.6zM414.5 169.2h5.8l0 -4.5h-5.8zM420.3 182.8h6l-.1 -4.5h-6zM420.3 173.7h5.9l-.1 -4.5h-5.8zM426 160.1h5.7l-.1 -4.5h-5.6zM432.1 173.7h5.9l-.2 -4.5h-5.8zM438.6 187.4h6.1l-.3 -4.5h-6zM442.1 141.9h5.5l-.3 -4.5h-5.5zM450.9 187.4h6.1l-.4 -4.5h-6zM450.5 182.8h6l-.4 -4.5h-6zM447 132.8h5.5l-.4 -4.5h-5.5zM457 187.4h6.1l-.5 -4.5h-6zM455.8 173.7h5.9l-.4 -4.5h-5.9zM455 164.6h5.8l-.4 -4.5h-5.8zM453.9 151h5.7l-.4 -4.5h-5.7z"/><path fill="#ffadad" stroke="#ffadad" stroke-width="0.3" d="M384.1 182.8h6l.3 -4.5h-6zM388.7 123.7h5.5l.3 -4.5h-5.5zM389.9 105.5h5.4l.3 -4.5h-5.4zM392.9 60h5.2l.3 -4.5h-5.2zM394.2 123.7h5.4l.3 -4.5h-5.4zM394.5 119.1h5.4l.3 -4.5h-5.3zM397.5 160.1h5.7l.2 -4.5h-5.7zM399.3 128.2h5.3l.2 -4.5h-5.3zM400.3 110h5.1l.2 -4.5h-5.1zM402 187.4h6.1l.1 -4.5h-6zM403 164.6h5.8l.1 -4.5h-5.7zM404.3 137.3h5.4l.1 -4.5h-5.3zM408.8 164.6h5.8l.1 -4.5h-5.7zM409.8 132.8h5.3l.1 -4.5h-5.2zM414.9 146.4h5.5l0 -4.5h-5.4zM420.3 187.4h6.1l-.1 -4.5h-6zM420.3 169.2h5.8l-.1 -4.5h-5.8zM420.3 155.5h5.6l-.1 -4.5h-5.5zM420.4 151h5.5l-.1 -4.5h-5.5zM420.4 146.4h5.5l-.1 -4.5h-5.4zM425.9 151h5.6l-.1 -4.5h-5.5zM425.6 128.2h5.2l-.1 -4.5h-5.1zM432.7 191.9h6.2l-.2 -4.5h-6.1zM431.6 155.5h5.6l-.2 -4.5h-5.6zM430.5 119.1h5.1l-.2 -4.5h-5zM437.6 164.6h5.8l-.3 -4.5h-5.7zM437 151h5.6l-.3 -4.5h-5.5zM436.6 141.9h5.5l-.3 -4.5h-5.4zM434.4 91.9h4.8l-.3 -4.5h-4.7zM442.9 155.5h5.7l-.3 -4.5h-5.6zM441 123.7h5.3l-.3 -4.5h-5.3zM440.8 119.1h5.3l-.3 -4.5h-5.2zM440.2 110h5.1l-.3 -4.5h-5.1zM438.9 87.3h4.9l-.3 -4.5h-4.8zM438.7 82.8h4.8l-.3 -4.5h-4.8zM448.6 155.5h5.7l-.4 -4.5h-5.7zM446.3 123.7h5.4l-.4 -4.5h-5.4zM440.1 32.7h4.6l-.4 -4.5h-4.6zM492.7 182.8h6l-.6 -4.5h-6z"/><path fill="#ffa3a3" stroke="#ffa3a3" stroke-width="0.3" d="M390.2 101h5.4l.3 -4.5h-5.4zM392.7 146.4h5.6l.3 -4.5h-5.6zM394.8 114.6h5.3l.3 -4.5h-5.3zM398.6 141.9h5.5l.2 -4.5h-5.5zM399.1 132.8h5.4l.2 -4.5h-5.3zM399.6 123.7h5.3l.2 -4.5h-5.2zM403.7 151h5.6l.1 -4.5h-5.5zM404.1 141.9h5.5l.1 -4.5h-5.4zM404.7 128.2h5.3l.1 -4.5h-5.2zM409.2 151h5.6l.1 -4.5h-5.5zM409.4 146.4h5.5l.1 -4.5h-5.4zM409.5 141.9h5.4l.1 -4.5h-5.4zM410 128.2h5.2l.1 -4.5h-5.2zM414.6 164.6h5.8l0 -4.5h-5.7zM414.7 160.1h5.7l0 -4.5h-5.6zM426.4 187.4h6.1l-.1 -4.5h-6zM425.8 141.9h5.4l-.1 -4.5h-5.3zM425.7 137.3h5.3l-.1 -4.5h-5.3zM425.4 119.1h5.1l-.1 -4.5h-5zM431.5 151h5.6l-.2 -4.5h-5.5zM431.2 141.9h5.4l-.2 -4.5h-5.4zM430.9 132.8h5.3l-.2 -4.5h-5.2zM430.8 128.2h5.2l-.2 -4.5h-5.2zM430.6 123.7h5.2l-.2 -4.5h-5.1zM436.8 146.4h5.5l-.3 -4.5h-5.5zM435.6 119.1h5.2l-.3 -4.5h-5.1zM444.2 178.3h6l-.3 -4.5h-5.9zM443.4 164.6h5.8l-.3 -4.5h-5.7zM441.8 137.3h5.5l-.3 -4.5h-5.4zM441.6 132.8h5.4l-.3 -4.5h-5.4zM441.3 128.2h5.4l-.3 -4.5h-5.3zM444.8 101h5.2l-.4 -4.5h-5.2zM444.4 96.4h5.2l-.4 -4.5h-5.1zM444.1 91.9h5.1l-.4 -4.5h-5.1zM443.8 87.3h5.1l-.4 -4.5h-5zM442.9 73.7h5l-.4 -4.5h-4.9zM442.6 69.1h4.9l-.4 -4.5h-4.9zM441 46.4h4.7l-.4 -4.5h-4.7zM439.1 19.1h4.5l-.4 -4.5h-4.5zM438.8 14.5h4.5l-.4 -4.5h-4.4z"/><path fill="#ff9999" stroke="#ff9999" stroke-width="0.3" d="M390.5 96.4h5.4l.3 -4.5h-5.4zM391.7 78.2h5.3l.3 -4.5h-5.3zM395.6 101h5.2l.2 -4.5h-5.2zM395.9 96.4h5.2l.2 -4.5h-5.1zM398.2 60h4.9l.2 -4.5h-4.9zM398.7 50.9h4.8l.2 -4.5h-4.8zM400.1 114.6h5.2l.2 -4.5h-5.1zM401.6 87.3h4.9l.2 -4.5h-4.9zM403.9 146.4h5.5l.1 -4.5h-5.5zM404.5 132.8h5.3l.1 -4.5h-5.3zM405.1 119.1h5.2l.1 -4.5h-5.1zM405.3 114.6h5.1l.1 -4.5h-5zM405.9 101h4.9l.1 -4.5h-4.9zM409.7 137.3h5.4l.1 -4.5h-5.3zM411.1 91.9h4.7l.1 -4.5h-4.6zM414.8 151h5.5l0 -4.5h-5.5zM415 137.3h5.3l0 -4.5h-5.3zM415.2 128.2h5.2l0 -4.5h-5.1zM415.3 123.7h5.1l0 -4.5h-5.1zM415.4 114.6h5l0 -4.5h-4.9zM420.4 141.9h5.4l-.1 -4.5h-5.3zM420.4 128.2h5.2l-.1 -4.5h-5.1zM420.4 123.7h5.1l-.1 -4.5h-5zM420.4 105.5h4.8l-.1 -4.5h-4.8zM425.6 132.8h5.3l-.1 -4.5h-5.2zM425.5 123.7h5.1l-.1 -4.5h-5.1zM430.2 110h5l-.2 -4.5h-4.9zM436.4 137.3h5.4l-.3 -4.5h-5.3zM436.2 132.8h5.3l-.3 -4.5h-5.3zM436 128.2h5.3l-.3 -4.5h-5.2zM440.5 114.6h5.2l-.3 -4.5h-5.1zM445.7 114.6h5.3l-.4 -4.5h-5.3zM445.4 110h5.3l-.4 -4.5h-5.2zM445.1 105.5h5.2l-.4 -4.5h-5.2zM443.2 78.2h5l-.4 -4.5h-5zM440.7 41.8h4.7l-.4 -4.5h-4.7zM439.8 28.2h4.6l-.4 -4.5h-4.5z"/><path fill="#ff8f8f" stroke="#ff8f8f" stroke-width="0.3" d="M395.1 110h5.3l.2 -4.5h-5.2zM396.8 82.8h5.1l.2 -4.5h-5zM397.6 69.1h5l.2 -4.5h-4.9zM399 46.4h4.8l.2 -4.5h-4.8zM401.8 82.8h4.9l.2 -4.5h-4.8zM402.3 73.7h4.8l.2 -4.5h-4.7zM402.6 69.1h4.7l.2 -4.5h-4.7zM404.9 123.7h5.2l.1 -4.5h-5.2zM405.7 105.5h5l.1 -4.5h-4.9zM406.1 96.4h4.9l.1 -4.5h-4.8zM406.5 87.3h4.7l.1 -4.5h-4.7zM410.2 119.1h5.1l.1 -4.5h-5zM410.4 114.6h5l.1 -4.5h-5zM410.5 110h5l.1 -4.5h-4.9zM410.8 101h4.8l.1 -4.5h-4.8zM420.4 96.4h4.7l-.1 -4.5h-4.6zM425.3 105.5h4.9l-.1 -4.5h-4.8zM429.8 96.4h4.8l-.2 -4.5h-4.7zM435.8 123.7h5.2l-.3 -4.5h-5.2zM435.4 114.6h5.1l-.3 -4.5h-5zM434.8 101h4.9l-.3 -4.5h-4.9zM439.7 101h5l-.3 -4.5h-5zM439.2 91.9h4.9l-.3 -4.5h-4.9zM438.4 78.2h4.8l-.3 -4.5h-4.7zM438.1 73.7h4.7l-.3 -4.5h-4.7zM443.5 82.8h5l-.4 -4.5h-5zM441.9 60h4.8l-.4 -4.5h-4.8zM441.3 50.9h4.8l-.4 -4.5h-4.7zM440.4 37.3h4.7l-.4 -4.5h-4.6z"/><path fill="#ff8585" stroke="#ff8585" stroke-width="0.3" d="M395.3 105.5h5.2l.2 -4.5h-5.2zM397 78.2h5l.2 -4.5h-5zM397.3 73.7h5l.2 -4.5h-5zM399.3 41.8h4.8l.2 -4.5h-4.7zM400.1 28.2h4.6l.2 -4.5h-4.6zM400.6 105.5h5.1l.2 -4.5h-5zM400.8 101h5l.2 -4.5h-5zM401.3 91.9h5l.2 -4.5h-4.9zM403.5 50.9h4.5l.2 -4.5h-4.5zM406.7 82.8h4.7l.1 -4.5h-4.6zM407.3 69.1h4.5l.1 -4.5h-4.5zM410.1 123.7h5.2l.1 -4.5h-5.1zM411.2 87.3h4.6l.1 -4.5h-4.6zM415.1 132.8h5.3l0 -4.5h-5.2zM415.9 87.3h4.6l0 -4.5h-4.5zM420.4 137.3h5.3l-.1 -4.5h-5.3zM420.4 132.8h5.3l-.1 -4.5h-5.2zM420.4 119.1h5l-.1 -4.5h-5zM420.4 110h4.9l-.1 -4.5h-4.8zM425.4 114.6h5l-.1 -4.5h-4.9zM430.4 114.6h5l-.2 -4.5h-5zM430.1 105.5h4.9l-.2 -4.5h-4.8zM429.7 91.9h4.7l-.2 -4.5h-4.6zM429.4 82.8h4.6l-.2 -4.5h-4.5zM435 105.5h5l-.3 -4.5h-4.9zM437.1 55.5h4.5l-.3 -4.5h-4.5zM442.3 64.6h4.9l-.4 -4.5h-4.8zM441.6 55.5h4.8l-.4 -4.5h-4.8z"/><path fill="#ff7a7a" stroke="#ff7a7a" stroke-width="0.3" d="M396.2 91.9h5.1l.2 -4.5h-5.1zM396.5 87.3h5.1l.2 -4.5h-5.1zM397.9 64.6h4.9l.2 -4.5h-4.9zM401.1 96.4h5l.2 -4.5h-5zM402.1 78.2h4.8l.2 -4.5h-4.8zM405.5 110h5l.1 -4.5h-5zM406.9 78.2h4.6l.1 -4.5h-4.6zM407.5 64.6h4.5l.1 -4.5h-4.4zM410.9 96.4h4.8l.1 -4.5h-4.7zM411.4 82.8h4.6l.1 -4.5h-4.5zM415.3 119.1h5.1l0 -4.5h-5zM415.8 91.9h4.6l0 -4.5h-4.6zM415.9 82.8h4.5l0 -4.5h-4.4zM420.4 114.6h5l-.1 -4.5h-4.9zM420.4 101h4.8l-.1 -4.5h-4.7zM425.1 91.9h4.6l-.1 -4.5h-4.6zM435.2 110h5l-.3 -4.5h-5zM434.2 87.3h4.7l-.3 -4.5h-4.7zM434 82.8h4.7l-.3 -4.5h-4.6zM433.6 73.7h4.6l-.3 -4.5h-4.5zM439.5 96.4h5l-.3 -4.5h-4.9zM437.6 64.6h4.6l-.3 -4.5h-4.6zM436.1 37.3h4.3l-.3 -4.5h-4.3z"/><path fill="#ff6666" stroke="#ff6666" stroke-width="0.3" d="M398.4 55.5h4.9l.2 -4.5h-4.8zM399.8 32.7h4.7l.2 -4.5h-4.6zM403.1 60h4.6l.2 -4.5h-4.6zM403.3 55.5h4.6l.2 -4.5h-4.5zM415.5 110h4.9l0 -4.5h-4.9zM415.6 105.5h4.9l0 -4.5h-4.8zM415.7 96.4h4.7l0 -4.5h-4.6zM416 78.2h4.4l0 -4.5h-4.4zM416.1 73.7h4.4l0 -4.5h-4.3zM420.4 91.9h4.6l-.1 -4.5h-4.6zM420.5 73.7h4.3l-.1 -4.5h-4.3zM425.3 110h4.9l-.1 -4.5h-4.9zM425.2 101h4.8l-.1 -4.5h-4.7zM425.1 96.4h4.7l-.1 -4.5h-4.6zM429.6 87.3h4.6l-.2 -4.5h-4.6zM429.2 73.7h4.4l-.2 -4.5h-4.4zM434.6 96.4h4.9l-.3 -4.5h-4.8zM433.8 78.2h4.6l-.3 -4.5h-4.6z"/><path fill="#ff5252" stroke="#ff5252" stroke-width="0.3" d="M399.6 37.3h4.7l.2 -4.5h-4.7zM400.7 19.1h4.6l.2 -4.5h-4.5zM401 14.5h4.5l.2 -4.5h-4.5zM404.8 28.2h4.3l.2 -4.5h-4.2zM405.3 19.1h4.2l.2 -4.5h-4.1zM407.7 60h4.4l.1 -4.5h-4.3zM408.3 46.4h4.2l.1 -4.5h-4.2zM411.8 69.1h4.4l.1 -4.5h-4.3zM416.2 69.1h4.3l0 -4.5h-4.2zM416.2 64.6h4.2l0 -4.5h-4.2zM416.4 55.5h4.1l0 -4.5h-4zM416.5 46.4h3.9l0 -4.5h-3.9zM420.5 78.2h4.4l-.1 -4.5h-4.3zM420.5 64.6h4.2l-.1 -4.5h-4.1zM420.5 41.8h3.8l-.1 -4.5h-3.8zM424.8 73.7h4.4l-.1 -4.5h-4.3zM424.7 69.1h4.3l-.1 -4.5h-4.2zM424.6 60h4.1l-.1 -4.5h-4.1zM424.3 37.3h3.8l-.1 -4.5h-3.7zM428.9 64.6h4.3l-.2 -4.5h-4.2zM433.4 69.1h4.5l-.3 -4.5h-4.4zM432.6 50.9h4.3l-.3 -4.5h-4.2zM436.3 41.8h4.4l-.3 -4.5h-4.3zM435.3 23.6h4.2l-.3 -4.5h-4.1z"/><path fill="#ff7070" stroke="#ff7070" stroke-width="0.3" d="M400.4 23.6h4.6l.2 -4.5h-4.6zM402.8 64.6h4.7l.2 -4.5h-4.6zM403.8 46.4h4.5l.2 -4.5h-4.4zM406.3 91.9h4.8l.1 -4.5h-4.7zM407.1 73.7h4.6l.1 -4.5h-4.5zM410.7 105.5h4.9l.1 -4.5h-4.8zM415.6 101h4.8l0 -4.5h-4.7zM425 87.3h4.6l-.1 -4.5h-4.5zM424.9 82.8h4.5l-.1 -4.5h-4.4zM430 101h4.8l-.2 -4.5h-4.8zM429.3 78.2h4.5l-.2 -4.5h-4.4zM433.2 64.6h4.4l-.3 -4.5h-4.4zM433 60h4.4l-.3 -4.5h-4.3zM437.9 69.1h4.7l-.3 -4.5h-4.6zM436.8 50.9h4.5l-.3 -4.5h-4.4zM435.8 32.7h4.3l-.3 -4.5h-4.2zM435.5 28.2h4.2l-.3 -4.5h-4.2z"/><path fill="#ff5c5c" stroke="#ff5c5c" stroke-width="0.3" d="M404 41.8h4.4l.2 -4.5h-4.4zM404.3 37.3h4.4l.2 -4.5h-4.3zM404.5 32.7h4.3l.2 -4.5h-4.3zM408.1 50.9h4.3l.1 -4.5h-4.2zM408.9 32.7h4.1l.1 -4.5h-4zM411.5 78.2h4.5l.1 -4.5h-4.4zM411.6 73.7h4.4l.1 -4.5h-4.4zM411.9 64.6h4.3l.1 -4.5h-4.3zM412.1 60h4.3l.1 -4.5h-4.2zM412.4 50.9h4.1l.1 -4.5h-4.1zM416.5 50.9h4l0 -4.5h-3.9zM420.4 87.3h4.6l-.1 -4.5h-4.5zM420.4 82.8h4.5l-.1 -4.5h-4.4zM420.5 69.1h4.3l-.1 -4.5h-4.2zM424.9 78.2h4.4l-.1 -4.5h-4.4zM424.5 50.9h4l-.1 -4.5h-3.9zM429 69.1h4.4l-.2 -4.5h-4.3zM432.2 41.8h4.1l-.3 -4.5h-4.1zM437.4 60h4.6l-.3 -4.5h-4.5zM436.6 46.4h4.4l-.3 -4.5h-4.4z"/><path fill="#ff3d3d" stroke="#ff3d3d" stroke-width="0.3" d="M405 23.6h4.2l.2 -4.5h-4.2zM408.5 41.8h4.2l.1 -4.5h-4.1zM409.2 23.6h3.9l.1 -4.5h-3.9zM416.6 41.8h3.9l0 -4.5h-3.8zM416.7 37.3h3.8l0 -4.5h-3.7zM416.9 28.2h3.7l0 -4.5h-3.6zM420.5 50.9h4l-.1 -4.5h-3.9zM420.5 37.3h3.8l-.1 -4.5h-3.7zM420.5 28.2h3.6l-.1 -4.5h-3.6zM424.5 55.5h4.1l-.1 -4.5h-4zM424.1 23.6h3.6l-.1 -4.5h-3.5zM428.8 60h4.2l-.2 -4.5h-4.2zM428.5 50.9h4.1l-.2 -4.5h-4zM428.2 41.8h4l-.2 -4.5h-3.9zM431.6 28.2h4l-.3 -4.5h-3.9zM431.4 23.6h3.9l-.3 -4.5h-3.8zM431.2 19.1h3.8l-.3 -4.5h-3.8zM431 14.5h3.8l-.3 -4.5h-3.7zM434.8 14.5h4.1l-.3 -4.5h-4z"/><path fill="#ff4747" stroke="#ff4747" stroke-width="0.3" d="M405.5 14.5h4.1l.2 -4.5h-4.1zM407.9 55.5h4.3l.1 -4.5h-4.3zM408.7 37.3h4.1l.1 -4.5h-4.1zM412.8 37.3h3.9l.1 -4.5h-3.9zM416.3 60h4.2l0 -4.5h-4.1zM424.7 64.6h4.2l-.1 -4.5h-4.1zM424.2 32.7h3.7l-.1 -4.5h-3.7zM428.6 55.5h4.2l-.2 -4.5h-4.1zM428.3 46.4h4l-.2 -4.5h-4zM432.8 55.5h4.3l-.3 -4.5h-4.3zM432.4 46.4h4.2l-.3 -4.5h-4.1zM432 37.3h4.1l-.3 -4.5h-4zM431.8 32.7h4l-.3 -4.5h-4zM435 19.1h4.1l-.3 -4.5h-4.1z"/><path fill="#ff1f1f" stroke="#ff1f1f" stroke-width="0.3" d="M409.1 28.2h4l.1 -4.5h-3.9zM409.6 14.5h3.8l.1 -4.5h-3.8zM412.5 46.4h4.1l.1 -4.5h-4zM412.9 32.7h3.9l.1 -4.5h-3.8zM416.8 32.7h3.7l0 -4.5h-3.7zM420.5 46.4h3.9l-.1 -4.5h-3.8zM420.5 32.7h3.7l-.1 -4.5h-3.6zM424.3 41.8h3.9l-.1 -4.5h-3.8zM427.5 19.1h3.6l-.2 -4.5h-3.6zM427.4 14.5h3.6l-.2 -4.5h-3.5z"/><path fill="#ff3333" stroke="#ff3333" stroke-width="0.3" d="M409.4 19.1h3.9l.1 -4.5h-3.8zM412.2 55.5h4.2l.1 -4.5h-4.1zM413.2 23.6h3.7l.1 -4.5h-3.7zM413.5 14.5h3.6l.1 -4.5h-3.5zM420.5 60h4.1l-.1 -4.5h-4.1zM424.1 28.2h3.7l-.1 -4.5h-3.6zM424 19.1h3.5l-.1 -4.5h-3.4zM428.1 37.3h3.9l-.2 -4.5h-3.8zM427.8 28.2h3.8l-.2 -4.5h-3.7z"/><path fill="#ff2929" stroke="#ff2929" stroke-width="0.3" d="M412.6 41.8h4l.1 -4.5h-3.9zM413.1 28.2h3.8l.1 -4.5h-3.7zM413.3 19.1h3.7l.1 -4.5h-3.6zM420.5 55.5h4.1l-.1 -4.5h-4zM420.5 23.6h3.6l-.1 -4.5h-3.5zM424.4 46.4h3.9l-.1 -4.5h-3.9zM427.9 32.7h3.8l-.2 -4.5h-3.8zM427.7 23.6h3.7l-.2 -4.5h-3.6z"/><path fill="#ff0a0a" stroke="#ff0a0a" stroke-width="0.3" d="M416.9 23.6h3.6l0 -4.5h-3.5zM417 19.1h3.5l0 -4.5h-3.5zM417.1 14.5h3.5l0 -4.5h-3.4z"/><path fill="#ff0000" stroke="#ff0000" stroke-width="0.3" d="M420.5 19.1h3.5l-.1 -4.5h-3.4zM424 14.5h3.4l-.1 -4.5h-3.4z"/><path fill="#ff1414" stroke="#ff1414" stroke-width="0.3" d="M420.5 14.5h3.4l-.1 -4.5h-3.3z"/><path fill="#5252ff" stroke="#5252ff" stroke-width="0.3" d="M469.8 191.9h6.2l-.7 -4.5h-6.1zM483 14.5h9.6l0 -4.5h-9.7z"/><path fill="#5c5cff" stroke="#5c5cff" stroke-width="0.3" d="M460.2 19.1h6.8l-.3 -4.5h-6.9z"/><path fill="#4747ff" stroke="#4747ff" stroke-width="0.3" d="M500.7 191.9h6.2l-1.5 -4.5h-6z"/><path fill="none" stroke="#8a8a8a" stroke-width="0.7" d="M346.0 191.9L348.2 182.8L349.3 173.7L350.1 164.6L350.6 155.5L351.0 146.4L351.3 137.3L351.5 128.2L351.7 119.1L351.7 110.0L351.7 101.0L351.7 91.9L351.6 82.8L351.5 73.7L351.4 64.6L351.3 55.5L351.1 46.4L351.0 37.3L350.8 28.2L350.6 19.1L350.5 10.0M352.2 191.9L354.2 182.8L355.3 173.7L356.1 164.6L356.8 155.5L357.3 146.4L357.8 137.3L358.2 128.2L358.5 119.1L358.8 110.0L359.1 101.0L359.3 91.9L359.4 82.8L359.6 73.7L359.7 64.6L359.9 55.5L360.0 46.4L360.1 37.3L360.2 28.2L360.3 19.1L360.4 10.0M358.4 191.9L360.2 182.8L361.2 173.7L362.1 164.6L362.8 155.5L363.5 146.4L364.1 137.3L364.6 128.2L365.1 119.1L365.5 110.0L366.0 101.0L366.3 91.9L366.7 82.8L367.1 73.7L367.4 64.6L367.7 55.5L368.0 46.4L368.4 37.3L368.7 28.2L369.0 19.1L369.3 10.0M364.6 191.9L366.1 182.8L367.1 173.7L368.0 164.6L368.8 155.5L369.5 146.4L370.2 137.3L370.8 128.2L371.4 119.1L372.0 110.0L372.5 101.0L373.0 91.9L373.5 82.8L374.0 73.7L374.5 64.6L374.9 55.5L375.4 46.4L375.9 37.3L376.3 28.2L376.8 19.1L377.2 10.0M370.8 191.9L372.1 182.8L373.1 173.7L373.9 164.6L374.7 155.5L375.4 146.4L376.2 137.3L376.8 128.2L377.5 119.1L378.1 110.0L378.7 101.0L379.3 91.9L379.9 82.8L380.4 73.7L381.0 64.6L381.5 55.5L382.1 46.4L382.7 37.3L383.2 28.2L383.8 19.1L384.3 10.0M377.0 191.9L378.1 182.8L379.0 173.7L379.8 164.6L380.6 155.5L381.3 146.4L382.0 137.3L382.7 128.2L383.3 119.1L384.0 110.0L384.6 101.0L385.2 91.9L385.8 82.8L386.4 73.7L387.0 64.6L387.6 55.5L388.2 46.4L388.8 37.3L389.4 28.2L390.0 19.1L390.6 10.0M383.2 191.9L384.1 182.8L384.9 173.7L385.6 164.6L386.3 155.5L387.0 146.4L387.7 137.3L388.3 128.2L389.0 119.1L389.6 110.0L390.2 101.0L390.8 91.9L391.4 82.8L392.0 73.7L392.6 64.6L393.2 55.5L393.8 46.4L394.4 37.3L395.0 28.2L395.6 19.1L396.2 10.0M389.4 191.9L390.1 182.8L390.8 173.7L391.5 164.6L392.1 155.5L392.7 146.4L393.3 137.3L393.9 128.2L394.5 119.1L395.1 110.0L395.6 101.0L396.2 91.9L396.8 82.8L397.3 73.7L397.9 64.6L398.4 55.5L399.0 46.4L399.6 37.3L400.1 28.2L400.7 19.1L401.2 10.0M395.5 191.9L396.2 182.8L396.7 173.7L397.3 164.6L397.8 155.5L398.3 146.4L398.8 137.3L399.3 128.2L399.8 119.1L400.3 110.0L400.8 101.0L401.3 91.9L401.8 82.8L402.3 73.7L402.8 64.6L403.3 55.5L403.8 46.4L404.3 37.3L404.8 28.2L405.3 19.1L405.7 10.0M401.7 191.9L402.2 182.8L402.6 173.7L403.0 164.6L403.5 155.5L403.9 146.4L404.3 137.3L404.7 128.2L405.1 119.1L405.5 110.0L405.9 101.0L406.3 91.9L406.7 82.8L407.1 73.7L407.5 64.6L407.9 55.5L408.3 46.4L408.7 37.3L409.1 28.2L409.4 19.1L409.8 10.0M407.9 191.9L408.2 182.8L408.5 173.7L408.8 164.6L409.1 155.5L409.4 146.4L409.7 137.3L410.0 128.2L410.2 119.1L410.5 110.0L410.8 101.0L411.1 91.9L411.4 82.8L411.6 73.7L411.9 64.6L412.2 55.5L412.5 46.4L412.8 37.3L413.1 28.2L413.3 19.1L413.6 10.0M414.1 191.9L414.3 182.8L414.4 173.7L414.6 164.6L414.7 155.5L414.9 146.4L415.0 137.3L415.2 128.2L415.3 119.1L415.5 110.0L415.6 101.0L415.8 91.9L415.9 82.8L416.1 73.7L416.2 64.6L416.4 55.5L416.5 46.4L416.7 37.3L416.9 28.2L417.0 19.1L417.2 10.0M420.3 191.9L420.3 182.8L420.3 173.7L420.3 164.6L420.3 155.5L420.4 146.4L420.4 137.3L420.4 128.2L420.4 119.1L420.4 110.0L420.4 101.0L420.4 91.9L420.4 82.8L420.5 73.7L420.5 64.6L420.5 55.5L420.5 46.4L420.5 37.3L420.5 28.2L420.5 19.1L420.5 10.0M426.5 191.9L426.4 182.8L426.2 173.7L426.1 164.6L426.0 155.5L425.8 146.4L425.7 137.3L425.6 128.2L425.4 119.1L425.3 110.0L425.2 101.0L425.1 91.9L424.9 82.8L424.8 73.7L424.7 64.6L424.5 55.5L424.4 46.4L424.3 37.3L424.1 28.2L424.0 19.1L423.9 10.0M432.7 191.9L432.4 182.8L432.1 173.7L431.9 164.6L431.6 155.5L431.3 146.4L431.0 137.3L430.8 128.2L430.5 119.1L430.2 110.0L430.0 101.0L429.7 91.9L429.4 82.8L429.2 73.7L428.9 64.6L428.6 55.5L428.3 46.4L428.1 37.3L427.8 28.2L427.5 19.1L427.3 10.0M438.9 191.9L438.4 182.8L438.0 173.7L437.6 164.6L437.2 155.5L436.8 146.4L436.4 137.3L436.0 128.2L435.6 119.1L435.2 110.0L434.8 101.0L434.4 91.9L434.0 82.8L433.6 73.7L433.2 64.6L432.8 55.5L432.4 46.4L432.0 37.3L431.6 28.2L431.2 19.1L430.8 10.0M445.0 191.9L444.5 182.8L443.9 173.7L443.4 164.6L442.9 155.5L442.4 146.4L441.8 137.3L441.3 128.2L440.8 119.1L440.2 110.0L439.7 101.0L439.2 91.9L438.7 82.8L438.1 73.7L437.6 64.6L437.1 55.5L436.6 46.4L436.1 37.3L435.5 28.2L435.0 19.1L434.5 10.0M451.2 191.9L450.5 182.8L449.9 173.7L449.2 164.6L448.6 155.5L447.9 146.4L447.3 137.3L446.7 128.2L446.0 119.1L445.4 110.0L444.8 101.0L444.1 91.9L443.5 82.8L442.9 73.7L442.3 64.6L441.6 55.5L441.0 46.4L440.4 37.3L439.8 28.2L439.1 19.1L438.5 10.0M457.4 191.9L456.6 182.8L455.8 173.7L455.0 164.6L454.3 155.5L453.6 146.4L452.8 137.3L452.1 128.2L451.4 119.1L450.7 110.0L450.0 101.0L449.3 91.9L448.6 82.8L447.8 73.7L447.1 64.6L446.4 55.5L445.7 46.4L445.0 37.3L444.3 28.2L443.6 19.1L442.9 10.0M463.6 191.9L462.6 182.8L461.7 173.7L460.9 164.6L460.1 155.5L459.3 146.4L458.5 137.3L457.7 128.2L456.9 119.1L456.1 110.0L455.4 101.0L454.6 91.9L453.8 82.8L453.1 73.7L452.3 64.6L451.6 55.5L450.8 46.4L450.1 37.3L449.3 28.2L448.6 19.1L447.8 10.0M469.8 191.9L468.6 182.8L467.7 173.7L466.8 164.6L465.9 155.5L465.0 146.4L464.2 137.3L463.4 128.2L462.6 119.1L461.8 110.0L461.0 101.0L460.2 91.9L459.4 82.8L458.7 73.7L457.9 64.6L457.1 55.5L456.4 46.4L455.6 37.3L454.9 28.2L454.1 19.1L453.3 10.0M476.0 191.9L474.7 182.8L473.6 173.7L472.7 164.6L471.8 155.5L470.9 146.4L470.1 137.3L469.2 128.2L468.4 119.1L467.6 110.0L466.9 101.0L466.1 91.9L465.4 82.8L464.6 73.7L463.9 64.6L463.1 55.5L462.4 46.4L461.7 37.3L460.9 28.2L460.2 19.1L459.5 10.0M482.2 191.9L480.7 182.8L479.6 173.7L478.6 164.6L477.7 155.5L476.9 146.4L476.0 137.3L475.3 128.2L474.5 119.1L473.8 110.0L473.1 101.0L472.4 91.9L471.7 82.8L471.0 73.7L470.3 64.6L469.7 55.5L469.0 46.4L468.4 37.3L467.7 28.2L467.0 19.1L466.4 10.0M488.4 191.9L486.7 182.8L485.6 173.7L484.6 164.6L483.7 155.5L482.9 146.4L482.2 137.3L481.5 128.2L480.8 119.1L480.2 110.0L479.6 101.0L479.0 91.9L478.4 82.8L477.9 73.7L477.3 64.6L476.8 55.5L476.3 46.4L475.7 37.3L475.2 28.2L474.7 19.1L474.1 10.0M494.5 191.9L492.7 182.8L491.6 173.7L490.7 164.6L489.9 155.5L489.1 146.4L488.5 137.3L487.9 128.2L487.4 119.1L486.9 110.0L486.5 101.0L486.1 91.9L485.7 82.8L485.3 73.7L484.9 64.6L484.6 55.5L484.2 46.4L483.9 37.3L483.5 28.2L483.2 19.1L482.8 10.0M500.7 191.9L498.7 182.8L497.6 173.7L496.7 164.6L496.1 155.5L495.5 146.4L495.0 137.3L494.6 128.2L494.3 119.1L494.0 110.0L493.8 101.0L493.6 91.9L493.4 82.8L493.3 73.7L493.1 64.6L493.0 55.5L492.9 46.4L492.8 37.3L492.7 28.2L492.6 19.1L492.6 10.0M506.9 191.9L504.7 182.8L503.6 173.7L502.9 164.6L502.3 155.5L502.0 146.4L501.7 137.3L501.6 128.2L501.5 119.1L501.5 110.0L501.5 101.0L501.6 91.9L501.7 82.8L501.9 73.7L502.1 64.6L502.3 55.5L502.5 46.4L502.7 37.3L502.9 28.2L503.2 19.1L503.4 10.0"/><path fill="#ebebff" stroke="#ebebff" stroke-width="0.3" d="M340.2 474h5.1l-.1 -3.4h-5.1zM340.2 470.6h5.1l-.1 -3.3h-5.1zM340.3 427.1h5.1l.1 -3.4h-5.1zM344.6 360.1h4.8l.1 -3.4h-4.8zM346.3 316.5h4.7l.1 -3.3h-4.7zM347.3 289.8h4.7l.1 -3.4h-4.7zM345.4 427.1h5.1l.1 -3.4h-5.1zM349 373.5h4.9l.1 -3.4h-4.9zM351.2 313.2h4.7l.1 -3.4h-4.7zM352.6 393.6h4.9l.3 -3.4h-4.9zM353.7 376.9h4.9l.1 -3.4h-4.9zM355 340h4.8l.1 -3.4h-4.8zM356 309.9h4.7l.1 -3.4h-4.7zM356.6 293.1h4.7l.1 -3.4h-4.7zM355.2 447.2h5.1l0 -3.3h-5.1zM355.9 417.1h5l.2 -3.4h-5zM356.3 410.4h5l.2 -3.4h-5zM356.5 407h5l.2 -3.4h-5zM357.8 390.2h4.9l.3 -3.4h-4.9zM358 386.9h4.9l.3 -3.3h-4.9zM358.3 383.6h4.9l.1 -3.4h-4.9zM358.7 373.5h4.9l.1 -3.4h-4.9zM358.8 370.1h4.9l.1 -3.3h-4.8zM359 363.4h4.8l.1 -3.3h-4.8zM360.4 470.6h5.1l0 -3.3h-5.1zM360.4 467.3h5.1l0 -3.4h-5.1zM360.3 463.9h5.1l0 -3.3h-5.1zM360.2 447.2h5.1l0 -3.3h-5.1zM360.3 443.9h5.1l0 -3.4h-5.1zM360.4 433.8h5.1l.1 -3.4h-5.1zM361.3 410.4h5l.2 -3.4h-5zM361.5 407h5l.2 -3.4h-5zM361.7 403.6h5l.2 -3.3h-5zM362.4 393.6h4.9l.2 -3.4h-4.9zM363.7 366.8h4.8l.1 -3.4h-4.8zM370.9 286.4h4.7l.1 -3.4h-4.7zM370.4 450.6h5.1l0 -3.4h-5.1zM370.5 440.5h5.1l0 -3.4h-5.1zM370.6 433.8h5.1l.1 -3.4h-5.1zM370.6 430.4h5.1l.1 -3.3h-5.1zM373.5 363.4h4.8l.1 -3.3h-4.8zM374.6 323.2h4.8l.1 -3.4h-4.8zM374.7 319.9h4.8l.1 -3.4h-4.7zM375.4 293.1h4.7l.1 -3.4h-4.7zM375.5 450.6h5.1l0 -3.4h-5.1zM375.5 443.9h5.1l0 -3.4h-5.1zM375.7 433.8h5.1l.1 -3.4h-5.1zM375.9 423.8h5.1l.1 -3.4h-5.1zM379 336.6h4.8l.1 -3.4h-4.8zM379.8 306.5h4.7l.1 -3.4h-4.7zM380 296.5h4.7l.1 -3.4h-4.7zM380.7 467.3h5.1l0 -3.4h-5.1zM380.7 433.8h5.1l.1 -3.4h-5.1zM381.3 413.7h5l.1 -3.3h-5zM383.1 366.8h4.8l.1 -3.4h-4.8zM384.3 313.2h4.7l.1 -3.4h-4.7zM384.6 299.8h4.7l.1 -3.3h-4.7zM388 366.8h4.8l.1 -3.4h-4.8zM388.7 330h4.8l.1 -3.4h-4.8zM388.8 326.6h4.8l.1 -3.4h-4.8zM388.9 319.9h4.8l.1 -3.4h-4.7zM389.1 313.2h4.7l.1 -3.4h-4.7zM389.2 306.5h4.7l.1 -3.4h-4.7zM389.3 303.1h4.7l.1 -3.4h-4.7zM393.8 316.5h4.7l.1 -3.3h-4.7zM393.8 313.2h4.7l.1 -3.4h-4.7zM393.9 306.5h4.7l.1 -3.4h-4.7zM394 303.1h4.7l.1 -3.4h-4.7zM394.2 293.1h4.7l.1 -3.4h-4.7zM394.3 286.4h4.7l.1 -3.4h-4.7zM396.1 427.1h5.1l.1 -3.4h-5.1zM397.6 373.5h4.9l0 -3.4h-4.9zM398 346.7h4.8l0 -3.3h-4.8zM398.5 319.9h4.8l0 -3.4h-4.7zM398.8 296.5h4.7l0 -3.4h-4.7zM398.9 289.8h4.7l0 -3.4h-4.7zM401 440.5h5.1l0 -3.4h-5.1zM401.1 437.1h5.1l0 -3.3h-5.1zM401.5 410.4h5l.1 -3.4h-5zM402.9 343.4h4.8l0 -3.4h-4.8zM403.7 286.4h4.7l0 -3.4h-4.7zM403.7 283h4.7l0 -3.3h-4.7zM403.8 276.4h4.7l0 -3.4h-4.7zM406.1 470.6h5.1l0 -3.3h-5.1zM406.1 453.9h5.1l0 -3.3h-5.1zM406.1 450.6h5.1l0 -3.4h-5.1zM407.5 356.8h4.8l0 -3.4h-4.8zM411.3 433.8h5.1l0 -3.4h-5.1zM411.6 407h5l0 -3.4h-5zM411.7 400.3h5l0 -3.4h-5zM413 289.8h4.7l0 -3.4h-4.7zM417.5 316.5h4.7l0 -3.3h-4.7zM421.3 457.2h5.1l0 -3.4h-5.1zM421.6 403.6h5l0 -3.3h-5zM421.9 376.9h4.9l0 -3.4h-4.9zM422.2 319.9h4.8l0 -3.4h-4.7zM426.7 386.9h4.9l0 -3.3h-4.9zM426.9 350.1h4.8l0 -3.4h-4.8zM431.7 346.7h4.8l0 -3.3h-4.8zM431.8 306.5h4.7l0 -3.4h-4.7zM436.5 463.9h5.1l0 -3.3h-5.1zM436.7 440.5h5.1l0 -3.4h-5.1zM436.7 437.1h5.1l0 -3.3h-5.1zM436.5 383.6h4.9l0 -3.4h-4.9zM436.5 350.1h4.8l0 -3.4h-4.8zM436.5 326.6h4.8l0 -3.4h-4.8zM436.5 283h4.7l0 -3.3h-4.7zM446 319.9h4.8l0 -3.4h-4.7zM462 420.4h5.1l-.1 -3.3h-5zM477.1 470.6h5.1l.1 -3.3h-5.1zM475.4 373.5h4.9l-.1 -3.4h-4.9zM475.2 363.4h4.8l-.1 -3.3h-4.8zM482.3 463.9h5.1l.1 -3.3h-5.1zM480.1 366.8h4.8l-.1 -3.4h-4.8zM493.7 326.6h4.8l-.1 -3.4h-4.8zM492.8 289.8h4.7l-.1 -3.4h-4.7zM507.4 474h5.1l.1 -3.4h-5.1zM504.3 363.4h4.8l-.1 -3.3h-4.8zM502.8 309.9h4.7l-.1 -3.4h-4.7zM502.5 299.8h4.7l-.1 -3.3h-4.7z"/><path fill="#ffebeb" stroke="#ffebeb" stroke-width="0.3" d="M340.1 467.3h5.1l-.1 -3.4h-5.1zM339.9 440.5h5.1l.1 -3.4h-5.1zM340.6 420.4h5.1l.2 -3.3h-5zM344 376.9h4.9l.1 -3.4h-4.9zM345 447.2h5.1l0 -3.3h-5.1zM346.1 413.7h5l.2 -3.3h-5zM351.5 407h5l.2 -3.4h-5zM351.8 403.6h5l.2 -3.3h-5zM352 400.3h5l.2 -3.4h-5zM362 400.3h5l.2 -3.4h-5zM362.9 386.9h4.9l.2 -3.3h-4.9zM363.4 376.9h4.9l.1 -3.4h-4.9zM365.6 474h5.1l0 -3.4h-5.1zM365.4 463.9h5.1l0 -3.3h-5.1zM365.4 443.9h5.1l0 -3.4h-5.1zM365.8 423.8h5.1l.1 -3.4h-5.1zM368.5 370.1h4.9l.1 -3.3h-4.8zM368.7 363.4h4.8l.1 -3.3h-4.8zM370.7 427.1h5.1l.1 -3.4h-5.1zM371.4 410.4h5l.2 -3.4h-5zM372.5 390.2h4.9l.2 -3.4h-4.9zM373.4 370.1h4.9l.1 -3.3h-4.8zM375.7 470.6h5.1l0 -3.3h-5.1zM375.5 453.9h5.1l0 -3.3h-5.1zM375.6 440.5h5.1l0 -3.4h-5.1zM376.6 407h5l.1 -3.4h-5zM378.2 370.1h4.9l.1 -3.3h-4.8zM378.4 363.4h4.8l.1 -3.3h-4.8zM380.7 470.6h5.1l0 -3.3h-5.1zM381.1 420.4h5.1l.1 -3.3h-5zM385.8 467.3h5.1l0 -3.4h-5.1zM385.7 447.2h5.1l0 -3.3h-5.1zM385.8 440.5h5.1l0 -3.4h-5.1zM385.8 437.1h5.1l0 -3.3h-5.1zM385.8 433.8h5.1l.1 -3.4h-5.1zM385.9 430.4h5.1l.1 -3.3h-5.1zM386.1 420.4h5.1l.1 -3.3h-5zM386.2 417.1h5l.1 -3.4h-5zM386.6 407h5l.1 -3.4h-5zM387 396.9h5l.1 -3.3h-4.9zM387.3 390.2h4.9l.1 -3.4h-4.9zM387.5 386.9h4.9l.1 -3.3h-4.9zM387.9 373.5h4.9l.1 -3.4h-4.9zM388.5 343.4h4.8l.1 -3.4h-4.8zM390.9 433.8h5.1l0 -3.4h-5.1zM391 430.4h5.1l.1 -3.3h-5.1zM391.3 417.1h5l.1 -3.4h-5zM391.4 413.7h5l.1 -3.3h-5zM392.1 393.6h4.9l.1 -3.4h-4.9zM392.7 376.9h4.9l.1 -3.4h-4.9zM395.9 440.5h5.1l0 -3.4h-5.1zM396.4 413.7h5l.1 -3.3h-5zM396.7 403.6h5l.1 -3.3h-5zM397.4 383.6h4.9l.1 -3.4h-4.9zM397.5 376.9h4.9l0 -3.4h-4.9zM398.1 340h4.8l0 -3.4h-4.8zM401 470.6h5.1l0 -3.3h-5.1zM401 453.9h5.1l0 -3.3h-5.1zM401.4 417.1h5l.1 -3.4h-5zM402.4 373.5h4.9l0 -3.4h-4.9zM402.5 370.1h4.9l0 -3.3h-4.8zM402.6 360.1h4.8l0 -3.4h-4.8zM403 336.6h4.8l0 -3.4h-4.8zM406.1 474h5.1l0 -3.4h-5.1zM406.5 410.4h5l.1 -3.4h-5zM407 390.2h4.9l.1 -3.4h-4.9zM407.2 383.6h4.9l0 -3.4h-4.9zM407.3 373.5h4.9l0 -3.4h-4.9zM407.5 360.1h4.8l0 -3.4h-4.8zM407.7 343.4h4.8l0 -3.4h-4.8zM407.8 333.3h4.8l0 -3.3h-4.8zM408.3 289.8h4.7l0 -3.4h-4.7zM411.1 460.6h5.1l0 -3.4h-5.1zM411.2 440.5h5.1l0 -3.4h-5.1zM411.3 430.4h5.1l0 -3.3h-5.1zM411.3 427.1h5.1l0 -3.4h-5.1zM411.4 423.8h5.1l0 -3.4h-5.1zM411.8 396.9h5l0 -3.3h-4.9zM412.6 333.3h4.8l0 -3.3h-4.8zM412.7 323.2h4.8l0 -3.4h-4.8zM412.9 306.5h4.7l0 -3.4h-4.7zM413 296.5h4.7l0 -3.4h-4.7zM416.2 470.6h5.1l0 -3.3h-5.1zM416.2 457.2h5.1l0 -3.4h-5.1zM416.3 447.2h5.1l0 -3.3h-5.1zM416.4 423.8h5.1l0 -3.4h-5.1zM416.8 393.6h4.9l0 -3.4h-4.9zM416.9 386.9h4.9l0 -3.3h-4.9zM417 380.2h4.9l0 -3.3h-4.9zM417.1 363.4h4.8l0 -3.3h-4.8zM417.4 333.3h4.8l0 -3.3h-4.8zM417.4 326.6h4.8l0 -3.4h-4.8zM417.7 293.1h4.7l0 -3.4h-4.7zM417.8 283h4.7l0 -3.3h-4.7zM421.4 437.1h5.1l0 -3.3h-5.1zM422.3 306.5h4.7l0 -3.4h-4.7zM422.4 286.4h4.7l0 -3.4h-4.7zM422.5 279.7h4.7l0 -3.4h-4.7zM426.4 467.3h5.1l0 -3.4h-5.1zM426.4 460.6h5.1l0 -3.4h-5.1zM426.4 457.2h5.1l0 -3.4h-5.1zM426.4 453.9h5.1l0 -3.3h-5.1zM426.5 433.8h5.1l0 -3.4h-5.1zM426.6 420.4h5.1l0 -3.3h-5zM426.6 407h5l0 -3.4h-5zM426.8 370.1h4.9l0 -3.3h-4.8zM426.9 346.7h4.8l0 -3.3h-4.8zM426.9 340h4.8l0 -3.4h-4.8zM427 316.5h4.7l0 -3.3h-4.7zM427.1 279.7h4.7l0 -3.4h-4.7zM431.5 460.6h5.1l0 -3.4h-5.1zM431.5 450.6h5.1l0 -3.4h-5.1zM431.5 447.2h5.1l0 -3.3h-5.1zM431.6 410.4h5l0 -3.4h-5zM431.6 380.2h4.9l0 -3.3h-4.9zM431.6 376.9h4.9l0 -3.4h-4.9zM431.6 370.1h4.9l0 -3.3h-4.8zM431.7 343.4h4.8l0 -3.4h-4.8zM431.7 330h4.8l0 -3.4h-4.8zM431.8 309.9h4.7l0 -3.4h-4.7zM431.8 293.1h4.7l0 -3.4h-4.7zM431.8 286.4h4.7l0 -3.4h-4.7zM436.5 474h5.1l0 -3.4h-5.1zM436.5 470.6h5.1l0 -3.3h-5.1zM436.6 453.9h5.1l0 -3.3h-5.1zM436.6 450.6h5.1l0 -3.4h-5.1zM436.6 410.4h5l0 -3.4h-5zM436.5 373.5h4.9l0 -3.4h-4.9zM436.5 363.4h4.8l0 -3.3h-4.8zM436.5 360.1h4.8l0 -3.4h-4.8zM436.5 299.8h4.7l0 -3.3h-4.7zM436.5 286.4h4.7l0 -3.4h-4.7zM436.5 279.7h4.7l0 -3.4h-4.7zM441.5 474h5.1l0 -3.4h-5.1zM441.7 423.8h5.1l0 -3.4h-5.1zM441.7 417.1h5l0 -3.4h-5zM441.6 400.3h5l-.1 -3.4h-5zM441.5 393.6h4.9l-.1 -3.4h-4.9zM441.3 333.3h4.8l0 -3.3h-4.8zM441.3 330h4.8l0 -3.4h-4.8zM441.3 326.6h4.8l0 -3.4h-4.8zM441.2 316.5h4.7l0 -3.3h-4.7zM446.6 474h5.1l0 -3.4h-5.1zM446.7 467.3h5.1l0 -3.4h-5.1zM446.8 457.2h5.1l0 -3.4h-5.1zM446.8 450.6h5.1l0 -3.4h-5.1zM446.8 427.1h5.1l0 -3.4h-5.1zM446.8 420.4h5.1l0 -3.3h-5zM446.3 386.9h4.9l-.1 -3.3h-4.9zM446.2 380.2h4.9l0 -3.3h-4.9zM446.2 373.5h4.9l0 -3.4h-4.9zM446.1 346.7h4.8l0 -3.3h-4.8zM446 309.9h4.7l0 -3.4h-4.7zM451.2 386.9h4.9l-.1 -3.3h-4.9zM451.1 383.6h4.9l0 -3.4h-4.9zM456.7 474h5.1l.1 -3.4h-5.1zM457 433.8h5.1l0 -3.4h-5.1zM456.9 420.4h5.1l-.1 -3.3h-5zM456.4 396.9h5l-.1 -3.3h-4.9zM456 383.6h4.9l-.1 -3.4h-4.9zM455.9 373.5h4.9l0 -3.4h-4.9zM455.8 353.4h4.8l0 -3.3h-4.8zM461.9 463.9h5.1l0 -3.3h-5.1zM462 460.6h5.1l0 -3.4h-5.1zM462.1 433.8h5.1l0 -3.4h-5.1zM462 423.8h5.1l-.1 -3.4h-5.1zM461.9 417.1h5l-.1 -3.4h-5zM461 386.9h4.9l-.1 -3.3h-4.9zM460.8 370.1h4.9l0 -3.3h-4.8zM460.5 346.7h4.8l0 -3.3h-4.8zM460.4 330h4.8l0 -3.4h-4.8zM460.1 299.8h4.7l0 -3.3h-4.7zM459.9 279.7h4.7l0 -3.4h-4.7zM466.9 470.6h5.1l.1 -3.3h-5.1zM467.2 430.4h5.1l0 -3.3h-5.1zM467 420.4h5.1l-.1 -3.3h-5zM466.9 417.1h5l-.1 -3.4h-5zM466.9 413.7h5l-.1 -3.3h-5zM465.9 386.9h4.9l-.2 -3.3h-4.9zM465.8 383.6h4.9l-.1 -3.4h-4.9zM465.6 366.8h4.8l0 -3.4h-4.8zM465.5 360.1h4.8l0 -3.4h-4.8zM465.3 340h4.8l0 -3.4h-4.8zM464.8 299.8h4.7l0 -3.3h-4.7zM464.6 286.4h4.7l0 -3.4h-4.7zM470.2 350.1h4.8l-.1 -3.4h-4.8zM477.2 463.9h5.1l.1 -3.3h-5.1zM477.3 457.2h5.1l0 -3.4h-5.1zM477.3 427.1h5.1l-.1 -3.4h-5.1zM476.4 400.3h5l-.2 -3.4h-5zM475 350.1h4.8l-.1 -3.4h-4.8zM474.6 323.2h4.8l-.1 -3.4h-4.8zM474.3 306.5h4.7l-.1 -3.4h-4.7zM474 289.8h4.7l-.1 -3.4h-4.7zM482.3 460.6h5.1l.1 -3.4h-5.1zM482.4 453.9h5.1l0 -3.3h-5.1zM482.5 447.2h5.1l0 -3.3h-5.1zM481.8 410.4h5l-.2 -3.4h-5zM479.9 356.8h4.8l-.1 -3.4h-4.8zM479.3 323.2h4.8l-.1 -3.4h-4.8zM479.3 319.9h4.8l-.1 -3.4h-4.7zM478.7 289.8h4.7l-.1 -3.4h-4.7zM478.7 286.4h4.7l-.1 -3.4h-4.7zM478.5 279.7h4.7l-.1 -3.4h-4.7zM487.4 460.6h5.1l.1 -3.4h-5.1zM487.2 420.4h5.1l-.1 -3.3h-5zM486.5 403.6h5l-.2 -3.3h-5zM484.4 336.6h4.8l-.1 -3.4h-4.8zM483.6 296.5h4.7l-.1 -3.4h-4.7zM483.5 293.1h4.7l-.1 -3.4h-4.7zM492.6 433.8h5.1l-.1 -3.4h-5.1zM492.4 423.8h5.1l-.1 -3.4h-5.1zM489.4 346.7h4.8l-.1 -3.3h-4.8zM489.2 336.6h4.8l-.1 -3.4h-4.8zM488.8 319.9h4.8l-.1 -3.4h-4.7zM488.7 316.5h4.7l-.1 -3.3h-4.7zM488.1 289.8h4.7l-.1 -3.4h-4.7zM495.6 390.2h4.9l-.3 -3.4h-4.9zM495 380.2h4.9l-.1 -3.3h-4.9zM494.9 376.9h4.9l-.1 -3.4h-4.9zM494.3 350.1h4.8l-.1 -3.4h-4.8zM494.1 343.4h4.8l-.1 -3.4h-4.8zM494 340h4.8l-.1 -3.4h-4.8zM493 296.5h4.7l-.1 -3.4h-4.7zM492.7 286.4h4.7l-.1 -3.4h-4.7zM502.4 420.4h5.1l-.2 -3.3h-5zM507.7 463.9h5.1l.1 -3.3h-5.1zM507.7 427.1h5.1l-.1 -3.4h-5.1zM507.1 413.7h5l-.2 -3.3h-5zM506.9 410.4h5l-.2 -3.4h-5zM504.9 383.6h4.9l-.2 -3.4h-4.9zM504.4 366.8h4.8l-.1 -3.4h-4.8zM504 353.4h4.8l-.1 -3.3h-4.8zM503 316.5h4.7l-.1 -3.3h-4.7zM501.9 279.7h4.7l-.1 -3.4h-4.7zM501.8 276.4h4.7l-.1 -3.4h-4.7z"/><path fill="#d6d6ff" stroke="#d6d6ff" stroke-width="0.3" d="M340 463.9h5.1l-.1 -3.3h-5.1zM339.9 457.2h5.1l0 -3.4h-5.1zM345.8 330h4.8l.1 -3.4h-4.8zM345.9 326.6h4.8l.1 -3.4h-4.8zM346 323.2h4.8l.1 -3.4h-4.8zM346.5 309.9h4.7l.1 -3.4h-4.7zM347.7 279.7h4.7l.1 -3.4h-4.7zM345.7 420.4h5.1l.2 -3.3h-5zM348.2 386.9h4.9l.3 -3.3h-4.9zM348.5 383.6h4.9l.2 -3.4h-4.9zM351.3 309.9h4.7l.1 -3.4h-4.7zM351.4 306.5h4.7l.1 -3.4h-4.7zM352.4 279.7h4.7l.1 -3.4h-4.7zM350.4 427.1h5.1l.1 -3.4h-5.1zM355.1 336.6h4.8l.1 -3.4h-4.8zM355.5 323.2h4.8l.1 -3.4h-4.8zM355.3 463.9h5.1l0 -3.3h-5.1zM355.2 460.6h5.1l0 -3.4h-5.1zM355.2 450.6h5.1l0 -3.4h-5.1zM355.2 440.5h5.1l0 -3.4h-5.1zM357.5 393.6h4.9l.2 -3.4h-4.9zM360.3 440.5h5.1l0 -3.4h-5.1zM360.3 437.1h5.1l.1 -3.3h-5.1zM365 326.6h4.8l.1 -3.4h-4.8zM369.1 350.1h4.8l.1 -3.4h-4.8zM369.8 323.2h4.8l.1 -3.4h-4.8zM369.9 319.9h4.8l.1 -3.4h-4.7zM370 316.5h4.7l.1 -3.3h-4.7zM370.5 299.8h4.7l.1 -3.3h-4.7zM373.9 350.1h4.8l.1 -3.4h-4.8zM374.3 333.3h4.8l.1 -3.3h-4.8zM374.9 313.2h4.7l.1 -3.4h-4.7zM377.3 393.6h4.9l.2 -3.4h-4.9zM378.8 346.7h4.8l.1 -3.3h-4.8zM378.9 340h4.8l.1 -3.4h-4.8zM379.2 330h4.8l.1 -3.4h-4.8zM379.7 309.9h4.7l.1 -3.4h-4.7zM380.3 283h4.7l.1 -3.3h-4.7zM380.5 276.4h4.7l.1 -3.4h-4.7zM380.6 450.6h5.1l0 -3.4h-5.1zM383.5 350.1h4.8l.1 -3.4h-4.8zM383.7 343.4h4.8l.1 -3.4h-4.8zM383.7 340h4.8l.1 -3.4h-4.8zM384.1 323.2h4.8l.1 -3.4h-4.8zM384.5 306.5h4.7l.1 -3.4h-4.7zM389.8 279.7h4.7l.1 -3.4h-4.7zM391.5 410.4h5l.1 -3.4h-5zM393.1 350.1h4.8l.1 -3.4h-4.8zM393.3 343.4h4.8l.1 -3.4h-4.8zM393.3 340h4.8l.1 -3.4h-4.8zM393.7 319.9h4.8l.1 -3.4h-4.7zM394.2 289.8h4.7l.1 -3.4h-4.7zM394.4 279.7h4.7l.1 -3.4h-4.7zM398.2 336.6h4.8l0 -3.4h-4.8zM398.2 333.3h4.8l0 -3.3h-4.8zM399.2 276.4h4.7l0 -3.4h-4.7zM403.3 313.2h4.7l0 -3.4h-4.7zM403.6 293.1h4.7l0 -3.4h-4.7zM412.4 350.1h4.8l0 -3.4h-4.8zM412.5 340h4.8l0 -3.4h-4.8zM413.2 276.4h4.7l0 -3.4h-4.7zM421.3 460.6h5.1l0 -3.4h-5.1zM477.4 443.9h5.1l0 -3.4h-5.1zM475.1 356.8h4.8l-.1 -3.4h-4.8z"/><path fill="#ffe0e0" stroke="#ffe0e0" stroke-width="0.3" d="M339.9 453.9h5.1l0 -3.3h-5.1zM345.2 467.3h5.1l-.1 -3.4h-5.1zM345.1 437.1h5.1l.1 -3.3h-5.1zM348.8 376.9h4.9l.1 -3.4h-4.9zM350.4 474h5.1l-.1 -3.4h-5.1zM350.2 463.9h5.1l0 -3.3h-5.1zM350.1 453.9h5.1l0 -3.3h-5.1zM353.9 370.1h4.9l.1 -3.3h-4.8zM354.2 363.4h4.8l.1 -3.3h-4.8zM365.5 467.3h5.1l0 -3.4h-5.1zM365.4 457.2h5.1l0 -3.4h-5.1zM365.4 437.1h5.1l.1 -3.3h-5.1zM366 417.1h5l.1 -3.4h-5zM366.2 413.7h5l.2 -3.3h-5zM367.2 396.9h5l.2 -3.3h-4.9zM368.2 380.2h4.9l.1 -3.3h-4.9zM368.8 360.1h4.8l.1 -3.4h-4.8zM371 420.4h5.1l.1 -3.3h-5zM373 383.6h4.9l.1 -3.4h-4.9zM385.7 460.6h5.1l0 -3.4h-5.1zM385.7 457.2h5.1l0 -3.4h-5.1zM385.7 450.6h5.1l0 -3.4h-5.1zM386 423.8h5.1l.1 -3.4h-5.1zM386.7 403.6h5l.1 -3.3h-5zM390.9 474h5.1l0 -3.4h-5.1zM390.9 470.6h5.1l0 -3.3h-5.1zM391 427.1h5.1l.1 -3.4h-5.1zM392.5 383.6h4.9l.1 -3.4h-4.9zM395.9 467.3h5.1l0 -3.4h-5.1zM395.9 463.9h5.1l0 -3.3h-5.1zM395.9 457.2h5.1l0 -3.4h-5.1zM395.9 447.2h5.1l0 -3.3h-5.1zM397.5 380.2h4.9l0 -3.3h-4.9zM397.8 360.1h4.8l0 -3.4h-4.8zM401 443.9h5.1l0 -3.4h-5.1zM401.1 433.8h5.1l0 -3.4h-5.1zM401.4 413.7h5l.1 -3.3h-5zM401.9 396.9h5l.1 -3.3h-4.9zM402 393.6h4.9l.1 -3.4h-4.9zM402.3 380.2h4.9l0 -3.3h-4.9zM402.7 356.8h4.8l0 -3.4h-4.8zM406.1 467.3h5.1l0 -3.4h-5.1zM406.1 447.2h5.1l0 -3.3h-5.1zM406.1 443.9h5.1l0 -3.4h-5.1zM406.1 437.1h5.1l0 -3.3h-5.1zM406.4 417.1h5l0 -3.4h-5zM407.1 386.9h4.9l.1 -3.3h-4.9zM407.2 380.2h4.9l0 -3.3h-4.9zM407.3 370.1h4.9l0 -3.3h-4.8zM407.4 363.4h4.8l0 -3.3h-4.8zM407.6 350.1h4.8l0 -3.4h-4.8zM407.7 340h4.8l0 -3.4h-4.8zM408 316.5h4.7l0 -3.3h-4.7zM408 313.2h4.7l0 -3.4h-4.7zM408.2 303.1h4.7l0 -3.4h-4.7zM408.5 276.4h4.7l0 -3.4h-4.7zM411.7 403.6h5l0 -3.3h-5zM411.9 393.6h4.9l0 -3.4h-4.9zM412.2 370.1h4.9l0 -3.3h-4.8zM412.2 366.8h4.8l0 -3.4h-4.8zM412.4 346.7h4.8l0 -3.3h-4.8zM412.5 336.6h4.8l0 -3.4h-4.8zM412.9 303.1h4.7l0 -3.4h-4.7zM412.9 299.8h4.7l0 -3.3h-4.7zM413.1 279.7h4.7l0 -3.4h-4.7zM416.2 467.3h5.1l0 -3.4h-5.1zM416.2 460.6h5.1l0 -3.4h-5.1zM416.2 453.9h5.1l0 -3.3h-5.1zM416.5 420.4h5.1l0 -3.3h-5zM416.5 417.1h5l0 -3.4h-5zM417.1 370.1h4.9l0 -3.3h-4.8zM417.2 356.8h4.8l0 -3.4h-4.8zM417.3 343.4h4.8l0 -3.4h-4.8zM417.3 336.6h4.8l0 -3.4h-4.8zM417.4 330h4.8l0 -3.4h-4.8zM417.7 289.8h4.7l0 -3.4h-4.7zM417.7 286.4h4.7l0 -3.4h-4.7zM417.8 276.4h4.7l0 -3.4h-4.7zM421.6 410.4h5l0 -3.4h-5zM426.3 474h5.1l0 -3.4h-5.1zM426.5 440.5h5.1l0 -3.4h-5.1zM426.5 427.1h5.1l0 -3.4h-5.1zM426.6 423.8h5.1l0 -3.4h-5.1zM426.6 417.1h5l0 -3.4h-5zM426.7 380.2h4.9l0 -3.3h-4.9zM426.8 353.4h4.8l0 -3.3h-4.8zM426.9 343.4h4.8l0 -3.4h-4.8zM427 319.9h4.8l0 -3.4h-4.7zM427 313.2h4.7l0 -3.4h-4.7zM431.4 470.6h5.1l0 -3.3h-5.1zM431.4 467.3h5.1l0 -3.4h-5.1zM431.5 463.9h5.1l0 -3.3h-5.1zM431.5 453.9h5.1l0 -3.3h-5.1zM431.6 420.4h5.1l0 -3.3h-5zM431.6 417.1h5l0 -3.4h-5zM431.6 390.2h4.9l0 -3.4h-4.9zM431.6 386.9h4.9l0 -3.3h-4.9zM431.6 363.4h4.8l0 -3.3h-4.8zM431.7 350.1h4.8l0 -3.4h-4.8zM431.7 326.6h4.8l0 -3.4h-4.8zM431.7 319.9h4.8l0 -3.4h-4.7zM431.7 316.5h4.7l0 -3.3h-4.7zM431.8 279.7h4.7l0 -3.4h-4.7zM436.6 447.2h5.1l0 -3.3h-5.1zM436.7 443.9h5.1l0 -3.4h-5.1zM436.7 433.8h5.1l0 -3.4h-5.1zM436.7 423.8h5.1l0 -3.4h-5.1zM436.7 417.1h5l0 -3.4h-5zM436.5 376.9h4.9l0 -3.4h-4.9zM436.5 340h4.8l0 -3.4h-4.8zM436.5 333.3h4.8l0 -3.3h-4.8zM436.5 323.2h4.8l0 -3.4h-4.8zM441.7 443.9h5.1l0 -3.4h-5.1zM441.8 427.1h5.1l0 -3.4h-5.1zM441.7 413.7h5l0 -3.3h-5zM441.6 403.6h5l-.1 -3.3h-5zM441.5 396.9h5l-.1 -3.3h-4.9zM441.3 360.1h4.8l0 -3.4h-4.8zM441.3 350.1h4.8l0 -3.4h-4.8zM441.2 323.2h4.8l0 -3.4h-4.8zM446.8 453.9h5.1l0 -3.3h-5.1zM446.8 440.5h5.1l0 -3.4h-5.1zM446.9 437.1h5.1l0 -3.3h-5.1zM446.1 340h4.8l0 -3.4h-4.8zM446.1 336.6h4.8l0 -3.4h-4.8zM446 326.6h4.8l0 -3.4h-4.8zM446 323.2h4.8l0 -3.4h-4.8zM445.9 303.1h4.7l0 -3.4h-4.7zM445.9 299.8h4.7l0 -3.3h-4.7zM445.9 296.5h4.7l0 -3.4h-4.7zM445.9 286.4h4.7l0 -3.4h-4.7zM451.8 460.6h5.1l0 -3.4h-5.1zM451.8 417.1h5l-.1 -3.4h-5zM451.8 413.7h5l-.1 -3.3h-5zM451.6 403.6h5l-.1 -3.3h-5zM451.1 373.5h4.9l0 -3.4h-4.9zM450.6 303.1h4.7l0 -3.4h-4.7zM457 430.4h5.1l0 -3.3h-5.1zM456.5 400.3h5l-.1 -3.4h-5zM456.1 386.9h4.9l-.1 -3.3h-4.9zM455.8 363.4h4.8l0 -3.3h-4.8zM455.3 289.8h4.7l0 -3.4h-4.7zM455.2 286.4h4.7l0 -3.4h-4.7zM455.2 276.4h4.7l0 -3.4h-4.7zM461.8 474h5.1l.1 -3.4h-5.1zM462.1 443.9h5.1l0 -3.4h-5.1zM462.1 437.1h5.1l0 -3.3h-5.1zM461.8 413.7h5l-.1 -3.3h-5zM461.1 390.2h4.9l-.1 -3.4h-4.9zM460.8 376.9h4.9l0 -3.4h-4.9zM460.7 366.8h4.8l0 -3.4h-4.8zM460.7 360.1h4.8l0 -3.4h-4.8zM460.6 356.8h4.8l0 -3.4h-4.8zM460.5 340h4.8l0 -3.4h-4.8zM460.4 336.6h4.8l0 -3.4h-4.8zM460.3 319.9h4.8l0 -3.4h-4.7zM460.2 313.2h4.7l0 -3.4h-4.7zM460.1 303.1h4.7l0 -3.4h-4.7zM460 289.8h4.7l0 -3.4h-4.7zM467.1 460.6h5.1l0 -3.4h-5.1zM467.1 453.9h5.1l0 -3.3h-5.1zM467.2 440.5h5.1l0 -3.4h-5.1zM466.2 393.6h4.9l-.1 -3.4h-4.9zM466.1 390.2h4.9l-.2 -3.4h-4.9zM465.7 376.9h4.9l0 -3.4h-4.9zM465.7 373.5h4.9l0 -3.4h-4.9zM465.1 330h4.8l0 -3.4h-4.8zM464.7 289.8h4.7l0 -3.4h-4.7zM477.3 453.9h5.1l0 -3.3h-5.1zM477.4 437.1h5.1l0 -3.3h-5.1zM477.1 420.4h5.1l-.1 -3.3h-5zM477 417.1h5l-.1 -3.4h-5zM474.8 336.6h4.8l-.1 -3.4h-4.8zM474.6 326.6h4.8l-.1 -3.4h-4.8zM474.5 319.9h4.8l-.1 -3.4h-4.7zM473.9 283h4.7l-.1 -3.3h-4.7zM473.9 279.7h4.7l-.1 -3.4h-4.7zM482.2 467.3h5.1l.1 -3.4h-5.1zM482.5 443.9h5.1l0 -3.4h-5.1zM482.5 437.1h5.1l0 -3.3h-5.1zM482.2 420.4h5.1l-.1 -3.3h-5zM481.7 407h5l-.2 -3.4h-5zM481.5 403.6h5l-.2 -3.3h-5zM480.8 390.2h4.9l-.2 -3.4h-4.9zM480.5 383.6h4.9l-.1 -3.4h-4.9zM480.4 380.2h4.9l-.1 -3.3h-4.9zM480.2 370.1h4.9l-.1 -3.3h-4.8zM479.8 350.1h4.8l-.1 -3.4h-4.8zM479.8 346.7h4.8l-.1 -3.3h-4.8zM479.5 330h4.8l-.1 -3.4h-4.8zM479.2 313.2h4.7l-.1 -3.4h-4.7zM478.9 296.5h4.7l-.1 -3.4h-4.7zM487.2 470.6h5.1l.1 -3.3h-5.1zM487.3 467.3h5.1l.1 -3.4h-5.1zM487.3 463.9h5.1l.1 -3.3h-5.1zM487.5 453.9h5.1l0 -3.3h-5.1zM487.6 443.9h5.1l0 -3.4h-5.1zM487.5 430.4h5.1l-.1 -3.3h-5.1zM485.6 386.9h4.9l-.2 -3.3h-4.9zM484.8 356.8h4.8l-.1 -3.4h-4.8zM484.2 330h4.8l-.1 -3.4h-4.8zM483.6 299.8h4.7l-.1 -3.3h-4.7zM483.2 276.4h4.7l-.1 -3.4h-4.7zM492.4 463.9h5.1l.1 -3.3h-5.1zM492.6 430.4h5.1l-.1 -3.3h-5.1zM491.5 403.6h5l-.2 -3.3h-5zM491.3 400.3h5l-.2 -3.4h-5zM490.9 393.6h4.9l-.2 -3.4h-4.9zM490.5 386.9h4.9l-.2 -3.3h-4.9zM489.7 360.1h4.8l-.1 -3.4h-4.8zM489.5 353.4h4.8l-.1 -3.3h-4.8zM489.2 340h4.8l-.1 -3.4h-4.8zM489 330h4.8l-.1 -3.4h-4.8zM488.2 293.1h4.7l-.1 -3.4h-4.7zM497.3 470.6h5.1l.1 -3.3h-5.1zM497.7 453.9h5.1l0 -3.3h-5.1zM496.5 403.6h5l-.2 -3.3h-5zM492.9 293.1h4.7l-.1 -3.4h-4.7zM502.8 450.6h5.1l0 -3.4h-5.1zM502.8 437.1h5.1l0 -3.3h-5.1zM502.3 417.1h5l-.2 -3.4h-5zM501.5 403.6h5l-.2 -3.3h-5zM499.9 380.2h4.9l-.1 -3.3h-4.9zM499.6 370.1h4.9l-.1 -3.3h-4.8zM499.3 360.1h4.8l-.1 -3.4h-4.8zM499.1 350.1h4.8l-.1 -3.4h-4.8zM498.4 323.2h4.8l-.1 -3.4h-4.8zM498 309.9h4.7l-.1 -3.4h-4.7zM507.9 453.9h5.1l0 -3.3h-5.1zM507.9 433.8h5.1l-.1 -3.4h-5.1zM506.2 400.3h5l-.3 -3.4h-5zM503.4 333.3h4.8l-.1 -3.3h-4.8zM503.2 326.6h4.8l-.1 -3.4h-4.8z"/><path fill="#fff5f5" stroke="#fff5f5" stroke-width="0.3" d="M339.9 450.6h5.1l0 -3.4h-5.1zM340.2 430.4h5.1l.1 -3.3h-5.1zM340.8 417.1h5l.2 -3.4h-5zM341.5 407h5l.3 -3.4h-5zM342.1 400.3h5l.3 -3.4h-5zM343.7 383.6h4.9l.2 -3.4h-4.9zM343.8 380.2h4.9l.1 -3.3h-4.9zM345 457.2h5.1l0 -3.4h-5.1zM345.5 423.8h5.1l.2 -3.4h-5.1zM346.3 410.4h5l.2 -3.4h-5zM346.5 407h5l.2 -3.4h-5zM347.6 393.6h4.9l.3 -3.4h-4.9zM350.1 457.2h5.1l0 -3.4h-5.1zM350.1 443.9h5.1l0 -3.4h-5.1zM350.2 437.1h5.1l.1 -3.3h-5.1zM350.3 430.4h5.1l.1 -3.3h-5.1zM351.3 410.4h5l.2 -3.4h-5zM353.1 386.9h4.9l.3 -3.3h-4.9zM354.3 360.1h4.8l.1 -3.4h-4.8zM356.8 286.4h4.7l.1 -3.4h-4.7zM355.4 470.6h5.1l0 -3.3h-5.1zM360.3 453.9h5.1l0 -3.3h-5.1zM360.2 450.6h5.1l0 -3.4h-5.1zM360.5 430.4h5.1l.1 -3.3h-5.1zM360.7 423.8h5.1l.1 -3.4h-5.1zM360.8 420.4h5.1l.1 -3.3h-5zM363.5 373.5h4.9l.1 -3.4h-4.9zM363.6 370.1h4.9l.1 -3.3h-4.8zM365.5 433.8h5.1l.1 -3.4h-5.1zM366.4 410.4h5l.2 -3.4h-5zM366.5 407h5l.2 -3.4h-5zM367.4 393.6h4.9l.2 -3.4h-4.9zM367.8 386.9h4.9l.2 -3.3h-4.9zM368.3 376.9h4.9l.1 -3.4h-4.9zM370.8 289.8h4.7l.1 -3.4h-4.7zM370.5 467.3h5.1l0 -3.4h-5.1zM370.5 463.9h5.1l0 -3.3h-5.1zM371.1 417.1h5l.1 -3.4h-5zM371.2 413.7h5l.1 -3.3h-5zM375.7 474h5.1l0 -3.4h-5.1zM375.5 457.2h5.1l0 -3.4h-5.1zM375.5 447.2h5.1l0 -3.3h-5.1zM376 420.4h5.1l.1 -3.3h-5zM376.1 417.1h5l.1 -3.4h-5zM376.3 413.7h5l.1 -3.3h-5zM376.4 410.4h5l.1 -3.4h-5zM376.9 400.3h5l.2 -3.4h-5zM377.1 396.9h5l.2 -3.3h-4.9zM377.5 390.2h4.9l.2 -3.4h-4.9zM378 376.9h4.9l.1 -3.4h-4.9zM378.1 373.5h4.9l.1 -3.4h-4.9zM382.6 386.9h4.9l.2 -3.3h-4.9zM383.6 346.7h4.8l.1 -3.3h-4.8zM385.8 474h5.1l0 -3.4h-5.1zM386.3 413.7h5l.1 -3.3h-5zM386.4 410.4h5l.1 -3.4h-5zM386.8 400.3h5l.1 -3.4h-5zM388.9 323.2h4.8l.1 -3.4h-4.8zM389.5 293.1h4.7l.1 -3.4h-4.7zM390.8 460.6h5.1l0 -3.4h-5.1zM390.8 450.6h5.1l0 -3.4h-5.1zM392.8 370.1h4.9l.1 -3.3h-4.8zM393.5 333.3h4.8l.1 -3.3h-4.8zM396.8 400.3h5l.1 -3.4h-5zM397.3 386.9h4.9l.1 -3.3h-4.9zM397.7 366.8h4.8l0 -3.4h-4.8zM401 474h5.1l0 -3.4h-5.1zM401 460.6h5.1l0 -3.4h-5.1zM401 447.2h5.1l0 -3.3h-5.1zM401.2 427.1h5.1l0 -3.4h-5.1zM401.6 407h5l.1 -3.4h-5zM402.2 386.9h4.9l.1 -3.3h-4.9zM402.4 376.9h4.9l0 -3.4h-4.9zM406.2 433.8h5.1l0 -3.4h-5.1zM406.2 427.1h5.1l0 -3.4h-5.1zM407.6 353.4h4.8l0 -3.3h-4.8zM411.1 474h5.1l0 -3.4h-5.1zM411.1 470.6h5.1l0 -3.3h-5.1zM411.1 467.3h5.1l0 -3.4h-5.1zM411.1 457.2h5.1l0 -3.4h-5.1zM411.2 450.6h5.1l0 -3.4h-5.1zM411.2 443.9h5.1l0 -3.4h-5.1zM411.5 410.4h5l0 -3.4h-5zM412.1 376.9h4.9l0 -3.4h-4.9zM412.4 353.4h4.8l0 -3.3h-4.8zM412.6 330h4.8l0 -3.4h-4.8zM412.7 316.5h4.7l0 -3.3h-4.7zM413.1 286.4h4.7l0 -3.4h-4.7zM413.1 283h4.7l0 -3.3h-4.7zM416.2 474h5.1l0 -3.4h-5.1zM416.5 413.7h5l0 -3.3h-5zM416.6 410.4h5l0 -3.4h-5zM416.6 407h5l0 -3.4h-5zM417 376.9h4.9l0 -3.4h-4.9zM417.6 306.5h4.7l0 -3.4h-4.7zM421.3 467.3h5.1l0 -3.4h-5.1zM421.3 453.9h5.1l0 -3.3h-5.1zM421.3 450.6h5.1l0 -3.4h-5.1zM421.5 420.4h5.1l0 -3.3h-5zM421.7 400.3h5l0 -3.4h-5zM421.8 390.2h4.9l0 -3.4h-4.9zM421.8 383.6h4.9l0 -3.4h-4.9zM421.9 380.2h4.9l0 -3.3h-4.9zM421.9 373.5h4.9l0 -3.4h-4.9zM422.1 346.7h4.8l0 -3.3h-4.8zM422.3 303.1h4.7l0 -3.4h-4.7zM422.5 276.4h4.7l0 -3.4h-4.7zM426.4 470.6h5.1l0 -3.3h-5.1zM426.4 463.9h5.1l0 -3.3h-5.1zM426.5 443.9h5.1l0 -3.4h-5.1zM426.6 403.6h5l0 -3.3h-5zM426.7 393.6h4.9l0 -3.4h-4.9zM426.8 363.4h4.8l0 -3.3h-4.8zM426.8 360.1h4.8l0 -3.4h-4.8zM426.9 330h4.8l0 -3.4h-4.8zM427.2 276.4h4.7l0 -3.4h-4.7zM431.4 474h5.1l0 -3.4h-5.1zM431.6 437.1h5.1l0 -3.3h-5.1zM431.6 430.4h5.1l0 -3.3h-5.1zM431.6 413.7h5l0 -3.3h-5zM431.6 393.6h4.9l0 -3.4h-4.9zM431.6 383.6h4.9l0 -3.4h-4.9zM431.6 366.8h4.8l0 -3.4h-4.8zM431.7 356.8h4.8l0 -3.4h-4.8zM431.7 353.4h4.8l0 -3.3h-4.8zM431.8 296.5h4.7l0 -3.4h-4.7zM436.7 420.4h5.1l0 -3.3h-5zM436.5 380.2h4.9l0 -3.3h-4.9zM436.5 370.1h4.9l0 -3.3h-4.8zM436.5 356.8h4.8l0 -3.4h-4.8zM436.5 346.7h4.8l0 -3.3h-4.8zM436.5 343.4h4.8l0 -3.4h-4.8zM436.5 336.6h4.8l0 -3.4h-4.8zM436.5 313.2h4.7l0 -3.4h-4.7zM436.5 306.5h4.7l0 -3.4h-4.7zM436.5 293.1h4.7l0 -3.4h-4.7zM436.5 289.8h4.7l0 -3.4h-4.7zM436.5 276.4h4.7l0 -3.4h-4.7zM441.3 336.6h4.8l0 -3.4h-4.8zM446.8 447.2h5.1l0 -3.3h-5.1zM446.6 403.6h5l-.1 -3.3h-5zM446.5 400.3h5l-.1 -3.4h-5zM446.5 396.9h5l-.1 -3.3h-4.9zM446.4 390.2h4.9l-.1 -3.4h-4.9zM446.1 356.8h4.8l0 -3.4h-4.8zM446 316.5h4.7l0 -3.3h-4.7zM445.9 283h4.7l0 -3.3h-4.7zM445.8 276.4h4.7l0 -3.4h-4.7zM450.5 286.4h4.7l0 -3.4h-4.7zM456.9 460.6h5.1l0 -3.4h-5.1zM457 440.5h5.1l0 -3.4h-5.1zM457 437.1h5.1l0 -3.3h-5.1zM456.7 410.4h5l-.1 -3.4h-5zM455.6 326.6h4.8l0 -3.4h-4.8zM455.4 303.1h4.7l0 -3.4h-4.7zM455.2 279.7h4.7l0 -3.4h-4.7zM462.1 447.2h5.1l0 -3.3h-5.1zM462.1 430.4h5.1l0 -3.3h-5.1zM461.8 410.4h5l-.1 -3.4h-5zM461.7 407h5l-.1 -3.4h-5zM460.2 316.5h4.7l0 -3.3h-4.7zM467 467.3h5.1l.1 -3.4h-5.1zM466.3 396.9h5l-.1 -3.3h-4.9zM465.5 363.4h4.8l0 -3.3h-4.8zM465.1 326.6h4.8l0 -3.4h-4.8zM465.1 323.2h4.8l0 -3.4h-4.8zM464.9 313.2h4.7l0 -3.4h-4.7zM464.5 279.7h4.7l0 -3.4h-4.7zM464.5 276.4h4.7l0 -3.4h-4.7zM477 474h5.1l.1 -3.4h-5.1zM477.4 450.6h5.1l0 -3.4h-5.1zM476.2 396.9h5l-.2 -3.3h-4.9zM475.3 370.1h4.9l-.1 -3.3h-4.8zM474.5 316.5h4.7l-.1 -3.3h-4.7zM474 286.4h4.7l-.1 -3.4h-4.7zM473.8 276.4h4.7l-.1 -3.4h-4.7zM482.5 440.5h5.1l0 -3.4h-5.1zM481.2 396.9h5l-.2 -3.3h-4.9zM479.6 340h4.8l-.1 -3.4h-4.8zM479.5 333.3h4.8l-.1 -3.3h-4.8zM478.6 283h4.7l-.1 -3.3h-4.7zM487.5 457.2h5.1l.1 -3.4h-5.1zM487.6 447.2h5.1l0 -3.3h-5.1zM487.6 437.1h5.1l0 -3.3h-5.1zM487.3 423.8h5.1l-.1 -3.4h-5.1zM484.5 343.4h4.8l-.1 -3.4h-4.8zM484.1 323.2h4.8l-.1 -3.4h-4.8zM484 316.5h4.7l-.1 -3.3h-4.7zM483.2 279.7h4.7l-.1 -3.4h-4.7zM492.7 437.1h5.1l0 -3.3h-5.1zM490 376.9h4.9l-.1 -3.4h-4.9zM488.6 309.9h4.7l-.1 -3.4h-4.7zM497.6 460.6h5.1l.1 -3.4h-5.1zM497.7 450.6h5.1l0 -3.4h-5.1zM497.4 420.4h5.1l-.1 -3.3h-5zM497.1 413.7h5l-.2 -3.3h-5zM496.7 407h5l-.2 -3.4h-5zM496.1 396.9h5l-.2 -3.3h-4.9zM495.4 386.9h4.9l-.3 -3.3h-4.9zM494.6 363.4h4.8l-.1 -3.3h-4.8zM493.6 323.2h4.8l-.1 -3.4h-4.8zM493.5 316.5h4.7l-.1 -3.3h-4.7zM493.4 313.2h4.7l-.1 -3.4h-4.7zM493.3 309.9h4.7l-.1 -3.4h-4.7zM493.1 299.8h4.7l-.1 -3.3h-4.7zM498.8 340h4.8l-.1 -3.4h-4.8zM507.5 470.6h5.1l.1 -3.3h-5.1zM507.9 440.5h5.1l0 -3.4h-5.1zM506.7 407h5l-.2 -3.4h-5zM506.5 403.6h5l-.3 -3.3h-5zM506 396.9h5l-.3 -3.3h-4.9zM505.7 393.6h4.9l-.3 -3.4h-4.9zM503.6 340h4.8l-.1 -3.4h-4.8zM503.5 336.6h4.8l-.1 -3.4h-4.8zM502.9 313.2h4.7l-.1 -3.4h-4.7zM502.6 303.1h4.7l-.1 -3.4h-4.7zM502.2 289.8h4.7l-.1 -3.4h-4.7zM502 283h4.7l-.1 -3.3h-4.7z"/><path fill="#ffd6d6" stroke="#ffd6d6" stroke-width="0.3" d="M339.9 447.2h5.1l0 -3.3h-5.1zM345 443.9h5.1l0 -3.4h-5.1zM345.2 433.8h5.1l.1 -3.4h-5.1zM347 400.3h5l.3 -3.4h-5zM350.3 470.6h5.1l-.1 -3.3h-5.1zM350.7 420.4h5.1l.2 -3.3h-5zM352.8 390.2h4.9l.3 -3.4h-4.9zM361.2 413.7h5l.2 -3.3h-5zM365.3 453.9h5.1l0 -3.3h-5.1zM369.7 326.6h4.8l.1 -3.4h-4.8zM385.8 470.6h5.1l0 -3.3h-5.1zM387.7 380.2h4.9l.1 -3.3h-4.9zM390.8 440.5h5.1l0 -3.4h-5.1zM392.6 380.2h4.9l.1 -3.3h-4.9zM395.9 453.9h5.1l0 -3.3h-5.1zM395.9 443.9h5.1l0 -3.4h-5.1zM396 430.4h5.1l0 -3.3h-5.1zM401.1 430.4h5.1l0 -3.3h-5.1zM401.3 420.4h5.1l.1 -3.3h-5zM402.3 383.6h4.9l.1 -3.4h-4.9zM402.9 340h4.8l0 -3.4h-4.8zM403 333.3h4.8l0 -3.3h-4.8zM406.1 440.5h5.1l0 -3.4h-5.1zM406.2 430.4h5.1l0 -3.3h-5.1zM406.3 420.4h5.1l0 -3.3h-5zM406.6 407h5l.1 -3.4h-5zM406.7 403.6h5l.1 -3.3h-5zM407.8 330h4.8l0 -3.4h-4.8zM407.9 326.6h4.8l0 -3.4h-4.8zM408 319.9h4.8l0 -3.4h-4.7zM408.1 306.5h4.7l0 -3.4h-4.7zM408.2 299.8h4.7l0 -3.3h-4.7zM408.2 296.5h4.7l0 -3.4h-4.7zM408.5 279.7h4.7l0 -3.4h-4.7zM411.4 420.4h5.1l0 -3.3h-5zM412.1 380.2h4.9l0 -3.3h-4.9zM412.5 343.4h4.8l0 -3.4h-4.8zM413 293.1h4.7l0 -3.4h-4.7zM416.3 450.6h5.1l0 -3.4h-5.1zM416.3 433.8h5.1l0 -3.4h-5.1zM416.4 430.4h5.1l0 -3.3h-5.1zM416.7 403.6h5l0 -3.3h-5zM417.3 340h4.8l0 -3.4h-4.8zM417.4 323.2h4.8l0 -3.4h-4.8zM417.6 309.9h4.7l0 -3.4h-4.7zM426.5 447.2h5.1l0 -3.3h-5.1zM426.5 437.1h5.1l0 -3.3h-5.1zM426.6 410.4h5l0 -3.4h-5zM426.6 400.3h5l0 -3.4h-5zM426.7 396.9h5l0 -3.3h-4.9zM426.7 376.9h4.9l0 -3.4h-4.9zM426.9 336.6h4.8l0 -3.4h-4.8zM426.9 333.3h4.8l0 -3.3h-4.8zM427 303.1h4.7l0 -3.4h-4.7zM427.1 299.8h4.7l0 -3.3h-4.7zM427.1 289.8h4.7l0 -3.4h-4.7zM427.1 283h4.7l0 -3.3h-4.7zM431.6 443.9h5.1l0 -3.4h-5.1zM431.6 433.8h5.1l0 -3.4h-5.1zM431.6 427.1h5.1l0 -3.4h-5.1zM431.6 423.8h5.1l0 -3.4h-5.1zM431.6 407h5l0 -3.4h-5zM431.6 403.6h5l0 -3.3h-5zM431.7 336.6h4.8l0 -3.4h-4.8zM431.7 333.3h4.8l0 -3.3h-4.8zM431.8 303.1h4.7l0 -3.4h-4.7zM436.7 430.4h5.1l0 -3.3h-5.1zM436.7 427.1h5.1l0 -3.4h-5.1zM436.6 407h5l0 -3.4h-5zM436.6 403.6h5l0 -3.3h-5zM436.6 396.9h5l0 -3.3h-4.9zM441.6 470.6h5.1l0 -3.3h-5.1zM441.7 457.2h5.1l0 -3.4h-5.1zM441.7 447.2h5.1l0 -3.3h-5.1zM441.8 440.5h5.1l0 -3.4h-5.1zM441.8 437.1h5.1l0 -3.3h-5.1zM441.3 376.9h4.9l0 -3.4h-4.9zM441.3 363.4h4.8l0 -3.3h-4.8zM441.3 346.7h4.8l0 -3.3h-4.8zM446.7 463.9h5.1l0 -3.3h-5.1zM446.8 443.9h5.1l0 -3.4h-5.1zM446.8 430.4h5.1l0 -3.3h-5.1zM446.6 407h5l-.1 -3.4h-5zM446.3 383.6h4.9l0 -3.4h-4.9zM446.2 366.8h4.8l0 -3.4h-4.8zM446.2 360.1h4.8l0 -3.4h-4.8zM446.1 343.4h4.8l0 -3.4h-4.8zM446 333.3h4.8l0 -3.3h-4.8zM446 313.2h4.7l0 -3.4h-4.7zM445.9 306.5h4.7l0 -3.4h-4.7zM445.9 289.8h4.7l0 -3.4h-4.7zM445.8 279.7h4.7l0 -3.4h-4.7zM451.7 470.6h5.1l0 -3.3h-5.1zM451.7 467.3h5.1l0 -3.4h-5.1zM451.9 450.6h5.1l0 -3.4h-5.1zM451.9 447.2h5.1l0 -3.3h-5.1zM451.9 427.1h5.1l0 -3.4h-5.1zM451.5 396.9h5l-.1 -3.3h-4.9zM451.4 393.6h4.9l-.1 -3.4h-4.9zM451 366.8h4.8l0 -3.4h-4.8zM450.7 313.2h4.7l0 -3.4h-4.7zM450.7 306.5h4.7l0 -3.4h-4.7zM450.6 293.1h4.7l0 -3.4h-4.7zM456.8 470.6h5.1l0 -3.3h-5.1zM456.8 467.3h5.1l0 -3.4h-5.1zM457 453.9h5.1l0 -3.3h-5.1zM457 443.9h5.1l0 -3.4h-5.1zM456.9 423.8h5.1l-.1 -3.4h-5.1zM456.7 407h5l-.1 -3.4h-5zM456 376.9h4.9l0 -3.4h-4.9zM455.8 360.1h4.8l0 -3.4h-4.8zM455.8 356.8h4.8l0 -3.4h-4.8zM455.6 333.3h4.8l0 -3.3h-4.8zM455.3 293.1h4.7l0 -3.4h-4.7zM461.8 470.6h5.1l.1 -3.3h-5.1zM461.9 467.3h5.1l.1 -3.4h-5.1zM462.1 450.6h5.1l0 -3.4h-5.1zM460.9 380.2h4.9l0 -3.3h-4.9zM460.5 343.4h4.8l0 -3.4h-4.8zM460.2 309.9h4.7l0 -3.4h-4.7zM460.1 306.5h4.7l0 -3.4h-4.7zM460 293.1h4.7l0 -3.4h-4.7zM467.1 457.2h5.1l0 -3.4h-5.1zM467.2 447.2h5.1l0 -3.3h-5.1zM467.2 443.9h5.1l0 -3.4h-5.1zM466.8 410.4h5l-.1 -3.4h-5zM466.4 400.3h5l-.1 -3.4h-5zM465.4 353.4h4.8l0 -3.3h-4.8zM465 319.9h4.8l0 -3.4h-4.7zM465 316.5h4.7l0 -3.3h-4.7zM464.9 309.9h4.7l0 -3.4h-4.7zM472 467.3h5.1l.1 -3.4h-5.1zM472.2 453.9h5.1l0 -3.3h-5.1zM470.4 363.4h4.8l-.1 -3.3h-4.8zM470.3 360.1h4.8l-.1 -3.4h-4.8zM470 340h4.8l-.1 -3.4h-4.8zM469.5 303.1h4.7l-.1 -3.4h-4.7zM469.2 279.7h4.7l-.1 -3.4h-4.7zM475.9 390.2h4.9l-.2 -3.4h-4.9zM474.7 330h4.8l-.1 -3.4h-4.8zM482 474h5.1l.1 -3.4h-5.1zM482.1 470.6h5.1l.1 -3.3h-5.1zM482.4 457.2h5.1l0 -3.4h-5.1zM482.3 423.8h5.1l-.1 -3.4h-5.1zM482 413.7h5l-.1 -3.3h-5zM480.1 363.4h4.8l-.1 -3.3h-4.8zM480 360.1h4.8l-.1 -3.4h-4.8zM479.7 343.4h4.8l-.1 -3.4h-4.8zM479.6 336.6h4.8l-.1 -3.4h-4.8zM479 306.5h4.7l-.1 -3.4h-4.7zM479 303.1h4.7l-.1 -3.4h-4.7zM478.5 276.4h4.7l-.1 -3.4h-4.7zM487.1 474h5.1l.1 -3.4h-5.1zM487.6 440.5h5.1l0 -3.4h-5.1zM487.5 433.8h5.1l-.1 -3.4h-5.1zM486.9 410.4h5l-.2 -3.4h-5zM486.2 396.9h5l-.2 -3.3h-4.9zM486 393.6h4.9l-.2 -3.4h-4.9zM485.3 383.6h4.9l-.1 -3.4h-4.9zM485.2 376.9h4.9l-.1 -3.4h-4.9zM485.1 373.5h4.9l-.1 -3.4h-4.9zM484.6 346.7h4.8l-.1 -3.3h-4.8zM484.4 340h4.8l-.1 -3.4h-4.8zM483.9 313.2h4.7l-.1 -3.4h-4.7zM483.8 309.9h4.7l-.1 -3.4h-4.7zM483.4 289.8h4.7l-.1 -3.4h-4.7zM483.4 286.4h4.7l-.1 -3.4h-4.7zM483.3 283h4.7l-.1 -3.3h-4.7zM492.2 474h5.1l.1 -3.4h-5.1zM492.5 460.6h5.1l.1 -3.4h-5.1zM492.7 440.5h5.1l0 -3.4h-5.1zM492.5 427.1h5.1l-.1 -3.4h-5.1zM491.9 410.4h5l-.2 -3.4h-5zM490.2 383.6h4.9l-.1 -3.4h-4.9zM489.3 343.4h4.8l-.1 -3.4h-4.8zM488.3 299.8h4.7l-.1 -3.3h-4.7zM488.3 296.5h4.7l-.1 -3.4h-4.7zM488 286.4h4.7l-.1 -3.4h-4.7zM497.6 427.1h5.1l-.1 -3.4h-5.1zM497.2 417.1h5l-.2 -3.4h-5zM494.7 366.8h4.8l-.1 -3.4h-4.8zM493.2 306.5h4.7l-.1 -3.4h-4.7zM493.1 303.1h4.7l-.1 -3.4h-4.7zM492.6 279.7h4.7l-.1 -3.4h-4.7zM492.5 276.4h4.7l-.1 -3.4h-4.7zM502.6 463.9h5.1l.1 -3.3h-5.1zM502.8 433.8h5.1l-.1 -3.4h-5.1zM502.1 413.7h5l-.2 -3.3h-5zM501.9 410.4h5l-.2 -3.4h-5zM501.7 407h5l-.2 -3.4h-5zM501.3 400.3h5l-.3 -3.4h-5zM500.5 390.2h4.9l-.3 -3.4h-4.9zM499.7 373.5h4.9l-.1 -3.4h-4.9zM499.4 363.4h4.8l-.1 -3.3h-4.8zM498.1 313.2h4.7l-.1 -3.4h-4.7zM507.9 447.2h5.1l0 -3.3h-5.1zM507.6 423.8h5.1l-.1 -3.4h-5.1zM507.5 420.4h5.1l-.2 -3.3h-5zM505.5 390.2h4.9l-.3 -3.4h-4.9zM505.2 386.9h4.9l-.3 -3.3h-4.9zM503.8 346.7h4.8l-.1 -3.3h-4.8zM503.7 343.4h4.8l-.1 -3.4h-4.8z"/><path fill="#f5f5ff" stroke="#f5f5ff" stroke-width="0.3" d="M340.1 433.8h5.1l.1 -3.4h-5.1zM344.4 366.8h4.8l.1 -3.4h-4.8zM346.4 313.2h4.7l.1 -3.4h-4.7zM345.3 474h5.1l-.1 -3.4h-5.1zM345 450.6h5.1l0 -3.4h-5.1zM345.9 417.1h5l.2 -3.4h-5zM349.1 370.1h4.9l.1 -3.3h-4.8zM349.2 366.8h4.8l.1 -3.4h-4.8zM350.1 440.5h5.1l.1 -3.4h-5.1zM351.1 413.7h5l.2 -3.3h-5zM353.6 380.2h4.9l.1 -3.3h-4.9zM353.8 373.5h4.9l.1 -3.4h-4.9zM355.3 330h4.8l.1 -3.4h-4.8zM356.5 296.5h4.7l.1 -3.4h-4.7zM355.4 474h5.1l-.1 -3.4h-5.1zM355.8 420.4h5.1l.2 -3.3h-5zM358.6 376.9h4.9l.1 -3.4h-4.9zM360.3 460.6h5.1l0 -3.4h-5.1zM360.3 457.2h5.1l0 -3.4h-5.1zM361 417.1h5l.2 -3.4h-5zM362.2 396.9h5l.2 -3.3h-4.9zM363.2 383.6h4.9l.1 -3.4h-4.9zM363.3 380.2h4.9l.1 -3.3h-4.9zM364.5 343.4h4.8l.1 -3.4h-4.8zM365.5 470.6h5.1l0 -3.3h-5.1zM365.4 440.5h5.1l0 -3.4h-5.1zM365.6 430.4h5.1l.1 -3.3h-5.1zM368.4 373.5h4.9l.1 -3.4h-4.9zM368.9 356.8h4.8l.1 -3.4h-4.8zM371 283h4.7l.1 -3.3h-4.7zM370.6 474h5.1l0 -3.4h-5.1zM370.6 470.6h5.1l0 -3.3h-5.1zM370.4 443.9h5.1l0 -3.4h-5.1zM370.8 423.8h5.1l.1 -3.4h-5.1zM371.7 403.6h5l.2 -3.3h-5zM372.1 396.9h5l.2 -3.3h-4.9zM372.3 393.6h4.9l.2 -3.4h-4.9zM373.1 380.2h4.9l.1 -3.3h-4.9zM373.6 360.1h4.8l.1 -3.4h-4.8zM375.6 467.3h5.1l0 -3.4h-5.1zM375.6 463.9h5.1l0 -3.3h-5.1zM375.6 437.1h5.1l0 -3.3h-5.1zM375.7 430.4h5.1l.1 -3.3h-5.1zM376.7 403.6h5l.2 -3.3h-5zM377.7 386.9h4.9l.2 -3.3h-4.9zM377.9 383.6h4.9l.1 -3.4h-4.9zM378.3 366.8h4.8l.1 -3.4h-4.8zM379.4 323.2h4.8l.1 -3.4h-4.8zM380.6 457.2h5.1l0 -3.4h-5.1zM380.6 453.9h5.1l0 -3.3h-5.1zM380.9 427.1h5.1l.1 -3.4h-5.1zM381 423.8h5.1l.1 -3.4h-5.1zM381.4 410.4h5l.1 -3.4h-5zM382 396.9h5l.2 -3.3h-4.9zM382.4 390.2h4.9l.2 -3.4h-4.9zM382.9 376.9h4.9l.1 -3.4h-4.9zM383 373.5h4.9l.1 -3.4h-4.9zM383.2 363.4h4.8l.1 -3.3h-4.8zM386 427.1h5.1l.1 -3.4h-5.1zM387.6 383.6h4.9l.1 -3.4h-4.9zM387.9 370.1h4.9l.1 -3.3h-4.8zM388.6 336.6h4.8l.1 -3.4h-4.8zM388.7 333.3h4.8l.1 -3.3h-4.8zM389 316.5h4.7l.1 -3.3h-4.7zM389.4 299.8h4.7l.1 -3.3h-4.7zM389.4 296.5h4.7l.1 -3.4h-4.7zM389.8 276.4h4.7l.1 -3.4h-4.7zM390.8 467.3h5.1l0 -3.4h-5.1zM390.8 463.9h5.1l0 -3.3h-5.1zM390.8 443.9h5.1l0 -3.4h-5.1zM391.2 420.4h5.1l.1 -3.3h-5zM392.2 390.2h4.9l.1 -3.4h-4.9zM393.4 336.6h4.8l.1 -3.4h-4.8zM393.6 326.6h4.8l.1 -3.4h-4.8zM394.1 296.5h4.7l.1 -3.4h-4.7zM396.3 417.1h5l.1 -3.4h-5zM396.6 407h5l.1 -3.4h-5zM397.1 390.2h4.9l.1 -3.4h-4.9zM398.6 313.2h4.7l0 -3.4h-4.7zM401 463.9h5.1l0 -3.3h-5.1zM401 457.2h5.1l0 -3.4h-5.1zM401.7 403.6h5l.1 -3.3h-5zM401.8 400.3h5l.1 -3.4h-5zM402.5 366.8h4.8l0 -3.4h-4.8zM402.7 353.4h4.8l0 -3.3h-4.8zM403.3 309.9h4.7l0 -3.4h-4.7zM403.8 279.7h4.7l0 -3.4h-4.7zM406.1 463.9h5.1l0 -3.3h-5.1zM406.3 423.8h5.1l0 -3.4h-5.1zM407.3 376.9h4.9l0 -3.4h-4.9zM407.6 346.7h4.8l0 -3.3h-4.8zM408.4 286.4h4.7l0 -3.4h-4.7zM411.1 463.9h5.1l0 -3.3h-5.1zM411.2 453.9h5.1l0 -3.3h-5.1zM411.9 390.2h4.9l0 -3.4h-4.9zM412.6 326.6h4.8l0 -3.4h-4.8zM412.7 319.9h4.8l0 -3.4h-4.7zM417 373.5h4.9l0 -3.4h-4.9zM417.2 353.4h4.8l0 -3.3h-4.8zM417.8 279.7h4.7l0 -3.4h-4.7zM421.3 470.6h5.1l0 -3.3h-5.1zM421.3 463.9h5.1l0 -3.3h-5.1zM421.5 427.1h5.1l0 -3.4h-5.1zM421.5 417.1h5l0 -3.4h-5zM421.6 413.7h5l0 -3.3h-5zM421.6 407h5l0 -3.4h-5zM421.9 370.1h4.9l0 -3.3h-4.8zM422 360.1h4.8l0 -3.4h-4.8zM422.1 336.6h4.8l0 -3.4h-4.8zM422.1 333.3h4.8l0 -3.3h-4.8zM422.2 330h4.8l0 -3.4h-4.8zM422.2 326.6h4.8l0 -3.4h-4.8zM422.2 316.5h4.7l0 -3.3h-4.7zM422.3 309.9h4.7l0 -3.4h-4.7zM436.5 390.2h4.9l0 -3.4h-4.9zM436.5 366.8h4.8l0 -3.4h-4.8zM436.5 353.4h4.8l0 -3.3h-4.8zM436.5 330h4.8l0 -3.4h-4.8zM436.5 309.9h4.7l0 -3.4h-4.7zM436.5 303.1h4.7l0 -3.4h-4.7zM446.8 423.8h5.1l0 -3.4h-5.1zM457 427.1h5.1l0 -3.4h-5.1zM455.7 343.4h4.8l0 -3.4h-4.8zM455.3 299.8h4.7l0 -3.3h-4.7zM455.2 283h4.7l0 -3.3h-4.7zM459.9 283h4.7l0 -3.3h-4.7zM459.8 276.4h4.7l0 -3.4h-4.7zM465.2 333.3h4.8l0 -3.3h-4.8zM464.7 293.1h4.7l0 -3.4h-4.7zM477.2 460.6h5.1l.1 -3.4h-5.1zM477.3 430.4h5.1l-.1 -3.3h-5.1zM476.9 413.7h5l-.1 -3.3h-5zM476.8 410.4h5l-.1 -3.4h-5zM475.3 366.8h4.8l-.1 -3.4h-4.8zM475.1 353.4h4.8l-.1 -3.3h-4.8zM474.9 343.4h4.8l-.1 -3.4h-4.8zM480.3 376.9h4.9l-.1 -3.4h-4.9zM484.8 360.1h4.8l-.1 -3.4h-4.8zM483.7 303.1h4.7l-.1 -3.4h-4.7zM492.5 457.2h5.1l.1 -3.4h-5.1zM488.9 323.2h4.8l-.1 -3.4h-4.8zM497.4 467.3h5.1l.1 -3.4h-5.1zM497.8 447.2h5.1l0 -3.3h-5.1zM497.7 433.8h5.1l-.1 -3.4h-5.1zM497.6 430.4h5.1l-.1 -3.3h-5.1zM495.8 393.6h4.9l-.3 -3.4h-4.9zM494.8 373.5h4.9l-.1 -3.4h-4.9zM494.3 353.4h4.8l-.1 -3.3h-4.8zM493.9 336.6h4.8l-.1 -3.4h-4.8zM493.5 319.9h4.8l-.1 -3.4h-4.7zM492.6 283h4.7l-.1 -3.3h-4.7zM508 443.9h5.1l0 -3.4h-5.1zM504.6 376.9h4.9l-.1 -3.4h-4.9zM504.6 373.5h4.9l-.1 -3.4h-4.9zM504.2 360.1h4.8l-.1 -3.4h-4.8zM504.1 356.8h4.8l-.1 -3.4h-4.8zM503.3 330h4.8l-.1 -3.4h-4.8zM503.1 323.2h4.8l-.1 -3.4h-4.8zM502.7 306.5h4.7l-.1 -3.4h-4.7z"/><path fill="#ffcccc" stroke="#ffcccc" stroke-width="0.3" d="M341.3 410.4h5l.2 -3.4h-5zM343.3 386.9h4.9l.3 -3.3h-4.9zM344.1 373.5h4.9l.1 -3.4h-4.9zM350.1 460.6h5.1l0 -3.4h-5.1zM350.6 423.8h5.1l.1 -3.4h-5.1zM360.5 474h5.1l0 -3.4h-5.1zM365.3 447.2h5.1l0 -3.3h-5.1zM366.9 400.3h5l.2 -3.4h-5zM368.1 383.6h4.9l.1 -3.4h-4.9zM385.7 453.9h5.1l0 -3.3h-5.1zM395.9 450.6h5.1l0 -3.4h-5.1zM396 437.1h5.1l0 -3.3h-5.1zM396.2 420.4h5.1l.1 -3.3h-5zM396.9 396.9h5l.1 -3.3h-4.9zM403.2 323.2h4.8l0 -3.4h-4.8zM406.8 396.9h5l.1 -3.3h-4.9zM408.1 309.9h4.7l0 -3.4h-4.7zM408.3 293.1h4.7l0 -3.4h-4.7zM416.3 437.1h5.1l0 -3.3h-5.1zM416.4 427.1h5.1l0 -3.4h-5.1zM416.8 390.2h4.9l0 -3.4h-4.9zM416.9 383.6h4.9l0 -3.4h-4.9zM417.2 346.7h4.8l0 -3.3h-4.8zM426.8 366.8h4.8l0 -3.4h-4.8zM427 306.5h4.7l0 -3.4h-4.7zM431.6 373.5h4.9l0 -3.4h-4.9zM431.7 313.2h4.7l0 -3.4h-4.7zM431.8 283h4.7l0 -3.3h-4.7zM436.7 413.7h5l0 -3.3h-5zM436.5 386.9h4.9l0 -3.3h-4.9zM441.7 453.9h5.1l0 -3.3h-5.1zM441.8 433.8h5.1l0 -3.4h-5.1zM441.8 430.4h5.1l0 -3.3h-5.1zM441.7 420.4h5.1l0 -3.3h-5zM441.6 407h5l0 -3.4h-5zM441.4 383.6h4.9l0 -3.4h-4.9zM441.4 380.2h4.9l0 -3.3h-4.9zM441.3 373.5h4.9l0 -3.4h-4.9zM441.3 370.1h4.9l0 -3.3h-4.8zM441.3 366.8h4.8l0 -3.4h-4.8zM441.3 356.8h4.8l0 -3.4h-4.8zM441.3 343.4h4.8l0 -3.4h-4.8zM441.2 309.9h4.7l0 -3.4h-4.7zM441.2 303.1h4.7l0 -3.4h-4.7zM441.2 276.4h4.7l0 -3.4h-4.7zM446.2 376.9h4.9l0 -3.4h-4.9zM446.1 350.1h4.8l0 -3.4h-4.8zM446 330h4.8l0 -3.4h-4.8zM451.8 463.9h5.1l0 -3.3h-5.1zM451.9 423.8h5.1l0 -3.4h-5.1zM451.8 420.4h5.1l0 -3.3h-5zM451.5 400.3h5l-.1 -3.4h-5zM451.3 390.2h4.9l-.1 -3.4h-4.9zM451.1 380.2h4.9l0 -3.3h-4.9zM451.1 376.9h4.9l0 -3.4h-4.9zM451 370.1h4.9l0 -3.3h-4.8zM451 360.1h4.8l0 -3.4h-4.8zM450.9 346.7h4.8l0 -3.3h-4.8zM450.8 330h4.8l0 -3.4h-4.8zM450.7 316.5h4.7l0 -3.3h-4.7zM456.9 457.2h5.1l0 -3.4h-5.1zM456.9 417.1h5l-.1 -3.4h-5zM456.6 403.6h5l-.1 -3.3h-5zM456.3 393.6h4.9l-.1 -3.4h-4.9zM456.2 390.2h4.9l-.1 -3.4h-4.9zM456 380.2h4.9l0 -3.3h-4.9zM455.9 366.8h4.8l0 -3.4h-4.8zM455.7 346.7h4.8l0 -3.3h-4.8zM455.6 330h4.8l0 -3.4h-4.8zM455.5 323.2h4.8l0 -3.4h-4.8zM455.4 309.9h4.7l0 -3.4h-4.7zM455.3 296.5h4.7l0 -3.4h-4.7zM462 457.2h5.1l0 -3.4h-5.1zM461.6 403.6h5l-.1 -3.3h-5zM461.5 400.3h5l-.1 -3.4h-5zM461.3 393.6h4.9l-.1 -3.4h-4.9zM460.9 383.6h4.9l-.1 -3.4h-4.9zM460.7 363.4h4.8l0 -3.3h-4.8zM460.6 353.4h4.8l0 -3.3h-4.8zM459.9 286.4h4.7l0 -3.4h-4.7zM466.9 474h5.1l.1 -3.4h-5.1zM467 463.9h5.1l.1 -3.3h-5.1zM467.2 450.6h5.1l0 -3.4h-5.1zM467.2 437.1h5.1l0 -3.3h-5.1zM467.2 433.8h5.1l0 -3.4h-5.1zM467.1 427.1h5.1l-.1 -3.4h-5.1zM465.7 380.2h4.9l0 -3.3h-4.9zM465.6 370.1h4.9l0 -3.3h-4.8zM465.3 346.7h4.8l0 -3.3h-4.8zM465.3 343.4h4.8l0 -3.4h-4.8zM464.8 303.1h4.7l0 -3.4h-4.7zM464.7 296.5h4.7l0 -3.4h-4.7zM472.3 433.8h5.1l0 -3.4h-5.1zM471.7 407h5l-.1 -3.4h-5zM470.4 366.8h4.8l-.1 -3.4h-4.8zM470 333.3h4.8l-.1 -3.3h-4.8zM469.9 326.6h4.8l-.1 -3.4h-4.8zM469.8 319.9h4.8l-.1 -3.4h-4.7zM469.7 316.5h4.7l-.1 -3.3h-4.7zM477.4 440.5h5.1l0 -3.4h-5.1zM476.7 407h5l-.2 -3.4h-5zM475.7 386.9h4.9l-.2 -3.3h-4.9zM475.4 376.9h4.9l-.1 -3.4h-4.9zM474.4 309.9h4.7l-.1 -3.4h-4.7zM474.3 303.1h4.7l-.1 -3.4h-4.7zM482.4 433.8h5.1l0 -3.4h-5.1zM482.3 427.1h5.1l-.1 -3.4h-5.1zM481.4 400.3h5l-.2 -3.4h-5zM481 393.6h4.9l-.2 -3.4h-4.9zM480.2 373.5h4.9l-.1 -3.4h-4.9zM479.4 326.6h4.8l-.1 -3.4h-4.8zM479.1 309.9h4.7l-.1 -3.4h-4.7zM487.5 450.6h5.1l0 -3.4h-5.1zM487.4 427.1h5.1l-.1 -3.4h-5.1zM486.3 400.3h5l-.2 -3.4h-5zM485.2 380.2h4.9l-.1 -3.3h-4.9zM485 370.1h4.9l-.1 -3.3h-4.8zM484.3 333.3h4.8l-.1 -3.3h-4.8zM492.6 450.6h5.1l0 -3.4h-5.1zM492.7 447.2h5.1l0 -3.3h-5.1zM492.7 443.9h5.1l0 -3.4h-5.1zM492.3 420.4h5.1l-.1 -3.3h-5zM492 413.7h5l-.2 -3.3h-5zM489.9 370.1h4.9l-.1 -3.3h-4.8zM489.8 366.8h4.8l-.1 -3.4h-4.8zM489.6 356.8h4.8l-.1 -3.4h-4.8zM488.9 326.6h4.8l-.1 -3.4h-4.8zM488.6 313.2h4.7l-.1 -3.4h-4.7zM488.5 306.5h4.7l-.1 -3.4h-4.7zM488 283h4.7l-.1 -3.3h-4.7zM487.8 276.4h4.7l-.1 -3.4h-4.7zM497.5 423.8h5.1l-.1 -3.4h-5.1zM496.3 400.3h5l-.2 -3.4h-5zM494.5 360.1h4.8l-.1 -3.4h-4.8zM493.9 333.3h4.8l-.1 -3.3h-4.8zM493.8 330h4.8l-.1 -3.4h-4.8zM502.5 467.3h5.1l.1 -3.4h-5.1zM502.9 443.9h5.1l0 -3.4h-5.1zM502.9 440.5h5.1l0 -3.4h-5.1zM502.7 430.4h5.1l-.1 -3.3h-5.1zM500.8 393.6h4.9l-.3 -3.4h-4.9zM499.2 353.4h4.8l-.1 -3.3h-4.8zM498.9 343.4h4.8l-.1 -3.4h-4.8zM498.7 336.6h4.8l-.1 -3.4h-4.8zM498.6 330h4.8l-.1 -3.4h-4.8zM498.2 316.5h4.7l-.1 -3.3h-4.7zM497.9 303.1h4.7l-.1 -3.4h-4.7zM497.8 299.8h4.7l-.1 -3.3h-4.7zM497.6 293.1h4.7l-.1 -3.4h-4.7zM497.5 289.8h4.7l-.1 -3.4h-4.7zM497.3 283h4.7l-.1 -3.3h-4.7zM507.9 450.6h5.1l0 -3.4h-5.1zM507.9 437.1h5.1l-.1 -3.3h-5.1zM502.4 296.5h4.7l-.1 -3.4h-4.7z"/><path fill="#ffc2c2" stroke="#ffc2c2" stroke-width="0.3" d="M344.5 363.4h4.8l.1 -3.3h-4.8zM366.7 403.6h5l.2 -3.3h-5zM408.4 283h4.7l0 -3.3h-4.7zM411.2 437.1h5.1l0 -3.3h-5.1zM412.3 356.8h4.8l0 -3.4h-4.8zM416.3 443.9h5.1l0 -3.4h-5.1zM417.1 366.8h4.8l0 -3.4h-4.8zM431.6 440.5h5.1l0 -3.4h-5.1zM431.8 289.8h4.7l0 -3.4h-4.7zM436.6 457.2h5.1l0 -3.4h-5.1zM441.6 467.3h5.1l0 -3.4h-5.1zM441.6 463.9h5.1l0 -3.3h-5.1zM441.7 410.4h5l0 -3.4h-5zM441.5 390.2h4.9l-.1 -3.4h-4.9zM441.4 386.9h4.9l-.1 -3.3h-4.9zM441.3 353.4h4.8l0 -3.3h-4.8zM441.3 340h4.8l0 -3.4h-4.8zM441.2 306.5h4.7l0 -3.4h-4.7zM441.2 296.5h4.7l0 -3.4h-4.7zM441.2 293.1h4.7l0 -3.4h-4.7zM441.2 289.8h4.7l0 -3.4h-4.7zM441.2 286.4h4.7l0 -3.4h-4.7zM441.2 283h4.7l0 -3.3h-4.7zM446.6 470.6h5.1l0 -3.3h-5.1zM446.7 413.7h5l-.1 -3.3h-5zM446.4 393.6h4.9l-.1 -3.4h-4.9zM446.2 363.4h4.8l0 -3.3h-4.8zM446.1 353.4h4.8l0 -3.3h-4.8zM445.9 293.1h4.7l0 -3.4h-4.7zM451.8 457.2h5.1l0 -3.4h-5.1zM451.9 453.9h5.1l0 -3.3h-5.1zM451.9 437.1h5.1l0 -3.3h-5.1zM451.9 433.8h5.1l0 -3.4h-5.1zM451.7 407h5l-.1 -3.4h-5zM451 363.4h4.8l0 -3.3h-4.8zM450.8 336.6h4.8l0 -3.4h-4.8zM450.8 323.2h4.8l0 -3.4h-4.8zM450.7 319.9h4.8l0 -3.4h-4.7zM450.7 309.9h4.7l0 -3.4h-4.7zM450.5 276.4h4.7l0 -3.4h-4.7zM455.9 370.1h4.9l0 -3.3h-4.8zM455.5 319.9h4.8l0 -3.4h-4.7zM455.5 316.5h4.7l0 -3.3h-4.7zM462.1 440.5h5.1l0 -3.4h-5.1zM460.8 373.5h4.9l0 -3.4h-4.9zM460.4 333.3h4.8l0 -3.3h-4.8zM460.3 326.6h4.8l0 -3.4h-4.8zM465.5 356.8h4.8l0 -3.4h-4.8zM464.9 306.5h4.7l0 -3.4h-4.7zM464.6 283h4.7l0 -3.3h-4.7zM471.9 474h5.1l.1 -3.4h-5.1zM472.1 460.6h5.1l.1 -3.4h-5.1zM472.2 457.2h5.1l0 -3.4h-5.1zM470.7 383.6h4.9l-.1 -3.4h-4.9zM470.5 373.5h4.9l-.1 -3.4h-4.9zM469.6 309.9h4.7l-.1 -3.4h-4.7zM469.6 306.5h4.7l-.1 -3.4h-4.7zM469.2 283h4.7l-.1 -3.3h-4.7zM482.5 450.6h5.1l0 -3.4h-5.1zM482.4 430.4h5.1l-.1 -3.3h-5.1zM480.6 386.9h4.9l-.2 -3.3h-4.9zM479.9 353.4h4.8l-.1 -3.3h-4.8zM479.2 316.5h4.7l-.1 -3.3h-4.7zM478.9 299.8h4.7l-.1 -3.3h-4.7zM487.1 417.1h5l-.1 -3.4h-5zM486.7 407h5l-.2 -3.4h-5zM485 366.8h4.8l-.1 -3.4h-4.8zM484.7 353.4h4.8l-.1 -3.3h-4.8zM484.2 326.6h4.8l-.1 -3.4h-4.8zM484 319.9h4.8l-.1 -3.4h-4.7zM492.3 470.6h5.1l.1 -3.3h-5.1zM492.2 417.1h5l-.2 -3.4h-5zM491.1 396.9h5l-.2 -3.3h-4.9zM490 373.5h4.9l-.1 -3.4h-4.9zM489.1 333.3h4.8l-.1 -3.3h-4.8zM488.4 303.1h4.7l-.1 -3.4h-4.7zM497.7 437.1h5.1l0 -3.3h-5.1zM502.3 474h5.1l.1 -3.4h-5.1zM502.7 457.2h5.1l.1 -3.4h-5.1zM502.8 453.9h5.1l0 -3.3h-5.1zM502.6 427.1h5.1l-.1 -3.4h-5.1zM501 396.9h5l-.3 -3.3h-4.9zM500 383.6h4.9l-.1 -3.4h-4.9zM499.5 366.8h4.8l-.1 -3.4h-4.8zM499 346.7h4.8l-.1 -3.3h-4.8zM498.5 326.6h4.8l-.1 -3.4h-4.8zM497.7 296.5h4.7l-.1 -3.4h-4.7zM497.4 286.4h4.7l-.1 -3.4h-4.7zM507.8 457.2h5.1l.1 -3.4h-5.1z"/><path fill="#ccccff" stroke="#ccccff" stroke-width="0.3" d="M344.7 356.8h4.8l.1 -3.4h-4.8zM345.6 333.3h4.8l.1 -3.3h-4.8zM346.2 319.9h4.8l.1 -3.4h-4.7zM346.7 306.5h4.7l.1 -3.4h-4.7zM347.2 293.1h4.7l.1 -3.4h-4.7zM347.4 286.4h4.7l.1 -3.4h-4.7zM347.6 283h4.7l.1 -3.3h-4.7zM347.8 276.4h4.7l.1 -3.4h-4.7zM345.2 470.6h5.1l-.1 -3.3h-5.1zM346.8 403.6h5l.3 -3.3h-5zM349.6 356.8h4.8l.1 -3.4h-4.8zM350.1 343.4h4.8l.1 -3.4h-4.8zM350.5 330h4.8l.1 -3.4h-4.8zM351 316.5h4.7l.1 -3.3h-4.7zM351.5 303.1h4.7l.1 -3.4h-4.7zM351.6 299.8h4.7l.1 -3.3h-4.7zM352.5 276.4h4.7l.1 -3.4h-4.7zM355.2 333.3h4.8l.1 -3.3h-4.8zM356.1 306.5h4.7l.1 -3.4h-4.7zM356.9 283h4.7l.1 -3.3h-4.7zM357.2 276.4h4.7l.1 -3.4h-4.7zM355.2 443.9h5.1l0 -3.4h-5.1zM355.3 437.1h5.1l.1 -3.3h-5.1zM355.3 433.8h5.1l.1 -3.4h-5.1zM355.4 430.4h5.1l.1 -3.3h-5.1zM355.5 427.1h5.1l.1 -3.4h-5.1zM355.6 423.8h5.1l.1 -3.4h-5.1zM358.9 366.8h4.8l.1 -3.4h-4.8zM359.1 360.1h4.8l.1 -3.4h-4.8zM360 333.3h4.8l.1 -3.3h-4.8zM360.1 330h4.8l.1 -3.4h-4.8zM364.9 330h4.8l.1 -3.4h-4.8zM370.2 309.9h4.7l.1 -3.4h-4.7zM370.6 296.5h4.7l.1 -3.4h-4.7zM370.7 293.1h4.7l.1 -3.4h-4.7zM371.1 279.7h4.7l.1 -3.4h-4.7zM371.6 407h5l.2 -3.4h-5zM374 346.7h4.8l.1 -3.3h-4.8zM374.1 343.4h4.8l.1 -3.4h-4.8zM374.8 316.5h4.7l.1 -3.3h-4.7zM374.9 309.9h4.7l.1 -3.4h-4.7zM375.2 299.8h4.7l.1 -3.3h-4.7zM375.3 296.5h4.7l.1 -3.4h-4.7zM375.6 286.4h4.7l.1 -3.4h-4.7zM378.6 353.4h4.8l.1 -3.3h-4.8zM379.9 299.8h4.7l.1 -3.3h-4.7zM380.1 293.1h4.7l.1 -3.4h-4.7zM380.2 286.4h4.7l.1 -3.4h-4.7zM380.4 279.7h4.7l.1 -3.4h-4.7zM383.4 353.4h4.8l.1 -3.3h-4.8zM384.7 296.5h4.7l.1 -3.4h-4.7zM384.9 289.8h4.7l.1 -3.4h-4.7zM388.3 350.1h4.8l.1 -3.4h-4.8zM389.1 309.9h4.7l.1 -3.4h-4.7zM391.6 407h5l.1 -3.4h-5zM393.1 353.4h4.8l.1 -3.3h-4.8zM393.6 323.2h4.8l.1 -3.4h-4.8zM393.9 309.9h4.7l.1 -3.4h-4.7zM394.4 283h4.7l.1 -3.3h-4.7zM398.4 323.2h4.8l0 -3.4h-4.8zM399 286.4h4.7l0 -3.4h-4.7zM412.3 360.1h4.8l0 -3.4h-4.8z"/><path fill="#e0e0ff" stroke="#e0e0ff" stroke-width="0.3" d="M344.9 353.4h4.8l.1 -3.3h-4.8zM345.4 340h4.8l.1 -3.4h-4.8zM346.8 303.1h4.7l.1 -3.4h-4.7zM346.9 299.8h4.7l.1 -3.3h-4.7zM345.1 460.6h5.1l0 -3.4h-5.1zM345.2 430.4h5.1l.1 -3.3h-5.1zM348.7 380.2h4.9l.1 -3.3h-4.9zM350.2 340h4.8l.1 -3.4h-4.8zM350.1 447.2h5.1l0 -3.3h-5.1zM352.3 396.9h5l.3 -3.3h-4.9zM353.4 383.6h4.9l.2 -3.4h-4.9zM355.2 453.9h5.1l0 -3.3h-5.1zM357 400.3h5l.2 -3.4h-5zM357.2 396.9h5l.2 -3.3h-4.9zM358.5 380.2h4.9l.1 -3.3h-4.9zM359.4 350.1h4.8l.1 -3.4h-4.8zM364.2 353.4h4.8l.1 -3.3h-4.8zM366.3 283h4.7l.1 -3.3h-4.7zM365.4 460.6h5.1l0 -3.4h-5.1zM365.7 427.1h5.1l.1 -3.4h-5.1zM369 353.4h4.8l.1 -3.3h-4.8zM369.2 346.7h4.8l.1 -3.3h-4.8zM369.4 340h4.8l.1 -3.4h-4.8zM369.6 330h4.8l.1 -3.4h-4.8zM370.1 313.2h4.7l.1 -3.4h-4.7zM371.2 276.4h4.7l.1 -3.4h-4.7zM370.4 453.9h5.1l0 -3.3h-5.1zM371.9 400.3h5l.2 -3.4h-5zM373.8 353.4h4.8l.1 -3.3h-4.8zM375 306.5h4.7l.1 -3.4h-4.7zM378.7 350.1h4.8l.1 -3.4h-4.8zM378.9 343.4h4.8l.1 -3.4h-4.8zM379.8 303.1h4.7l.1 -3.4h-4.7zM380.6 460.6h5.1l0 -3.4h-5.1zM380.7 440.5h5.1l0 -3.4h-5.1zM380.8 430.4h5.1l.1 -3.3h-5.1zM381.7 403.6h5l.1 -3.3h-5zM381.9 400.3h5l.1 -3.4h-5zM382.7 383.6h4.9l.1 -3.4h-4.9zM383.8 336.6h4.8l.1 -3.4h-4.8zM384 330h4.8l.1 -3.4h-4.8zM384 326.6h4.8l.1 -3.4h-4.8zM384.2 319.9h4.8l.1 -3.4h-4.7zM384.3 316.5h4.7l.1 -3.3h-4.7zM385 283h4.7l.1 -3.3h-4.7zM388.3 353.4h4.8l.1 -3.3h-4.8zM388.4 346.7h4.8l.1 -3.3h-4.8zM388.5 340h4.8l.1 -3.4h-4.8zM389.6 286.4h4.7l.1 -3.4h-4.7zM389.7 283h4.7l.1 -3.3h-4.7zM392.7 373.5h4.9l.1 -3.4h-4.9zM393.2 346.7h4.8l.1 -3.3h-4.8zM393.5 330h4.8l.1 -3.4h-4.8zM397.9 356.8h4.8l0 -3.4h-4.8zM397.9 353.4h4.8l0 -3.3h-4.8zM398 350.1h4.8l0 -3.4h-4.8zM398.3 326.6h4.8l0 -3.4h-4.8zM398.6 309.9h4.7l0 -3.4h-4.7zM398.7 303.1h4.7l0 -3.4h-4.7zM398.8 299.8h4.7l0 -3.3h-4.7zM398.9 293.1h4.7l0 -3.4h-4.7zM403.1 330h4.8l0 -3.4h-4.8zM403.4 306.5h4.7l0 -3.4h-4.7zM403.5 299.8h4.7l0 -3.3h-4.7zM403.5 296.5h4.7l0 -3.4h-4.7zM403.6 289.8h4.7l0 -3.4h-4.7zM406.9 393.6h4.9l.1 -3.4h-4.9zM412.2 373.5h4.9l0 -3.4h-4.9zM412.3 363.4h4.8l0 -3.3h-4.8zM416.7 400.3h5l0 -3.4h-5zM417.6 303.1h4.7l0 -3.4h-4.7zM421.3 474h5.1l0 -3.4h-5.1zM421.4 447.2h5.1l0 -3.3h-5.1zM421.7 396.9h5l0 -3.3h-4.9zM421.7 393.6h4.9l0 -3.4h-4.9zM422 356.8h4.8l0 -3.4h-4.8zM422.1 343.4h4.8l0 -3.4h-4.8zM422.2 323.2h4.8l0 -3.4h-4.8zM422.4 293.1h4.7l0 -3.4h-4.7zM422.5 283h4.7l0 -3.3h-4.7zM431.6 360.1h4.8l0 -3.4h-4.8zM477.1 467.3h5.1l.1 -3.4h-5.1zM477.2 423.8h5.1l-.1 -3.4h-5.1zM476.1 393.6h4.9l-.2 -3.4h-4.9zM474.2 299.8h4.7l-.1 -3.3h-4.7zM497.5 463.9h5.1l.1 -3.3h-5.1zM494.4 356.8h4.8l-.1 -3.4h-4.8zM507.7 460.6h5.1l.1 -3.4h-5.1z"/><path fill="#b8b8ff" stroke="#b8b8ff" stroke-width="0.3" d="M345.1 346.7h4.8l.1 -3.3h-4.8zM347.1 296.5h4.7l.1 -3.4h-4.7zM350.4 333.3h4.8l.1 -3.3h-4.8zM351.8 296.5h4.7l.1 -3.4h-4.7zM351.9 293.1h4.7l.1 -3.4h-4.7zM354.9 343.4h4.8l.1 -3.4h-4.8zM355.7 319.9h4.8l.1 -3.4h-4.7zM356.4 299.8h4.7l.1 -3.3h-4.7zM356.7 289.8h4.7l.1 -3.4h-4.7zM357 279.7h4.7l.1 -3.4h-4.7zM361.1 299.8h4.7l.1 -3.3h-4.7zM361.3 293.1h4.7l.1 -3.4h-4.7zM361.6 283h4.7l.1 -3.3h-4.7zM364.4 346.7h4.8l.1 -3.3h-4.8zM365.3 316.5h4.7l.1 -3.3h-4.7zM365.7 303.1h4.7l.1 -3.4h-4.7zM366.2 286.4h4.7l.1 -3.4h-4.7zM369.5 336.6h4.8l.1 -3.4h-4.8zM370.3 306.5h4.7l.1 -3.4h-4.7zM374.2 340h4.8l.1 -3.4h-4.8zM374.4 330h4.8l.1 -3.4h-4.8zM374.5 326.6h4.8l.1 -3.4h-4.8zM375.1 303.1h4.7l.1 -3.4h-4.7zM375.7 283h4.7l.1 -3.3h-4.7zM375.7 279.7h4.7l.1 -3.4h-4.7zM375.8 276.4h4.7l.1 -3.4h-4.7zM381.6 407h5l.1 -3.4h-5zM383.9 333.3h4.8l.1 -3.3h-4.8zM384.9 286.4h4.7l.1 -3.4h-4.7zM394.5 276.4h4.7l.1 -3.4h-4.7zM403.2 319.9h4.8l0 -3.4h-4.7z"/><path fill="#9999ff" stroke="#9999ff" stroke-width="0.3" d="M345.3 343.4h4.8l.1 -3.4h-4.8zM359.2 356.8h4.8l.1 -3.4h-4.8zM360.6 313.2h4.7l.1 -3.4h-4.7zM361.2 296.5h4.7l.1 -3.4h-4.7zM361.7 279.7h4.7l.1 -3.4h-4.7zM364.1 356.8h4.8l.1 -3.4h-4.8zM379.6 313.2h4.7l.1 -3.4h-4.7z"/><path fill="#c2c2ff" stroke="#c2c2ff" stroke-width="0.3" d="M345.5 336.6h4.8l.1 -3.4h-4.8zM349.9 346.7h4.8l.1 -3.3h-4.8zM350.3 336.6h4.8l.1 -3.4h-4.8zM354.5 353.4h4.8l.1 -3.3h-4.8zM354.7 346.7h4.8l.1 -3.3h-4.8zM355.9 313.2h4.7l.1 -3.4h-4.7zM355.2 457.2h5.1l0 -3.4h-5.1zM356.1 413.7h5l.2 -3.3h-5zM359.5 346.7h4.8l.1 -3.3h-4.8zM359.9 336.6h4.8l.1 -3.4h-4.8zM364.3 350.1h4.8l.1 -3.4h-4.8zM364.6 340h4.8l.1 -3.4h-4.8zM364.8 333.3h4.8l.1 -3.3h-4.8zM365.1 323.2h4.8l.1 -3.4h-4.8zM365.6 306.5h4.7l.1 -3.4h-4.7zM365.8 299.8h4.7l.1 -3.3h-4.7zM366.1 289.8h4.7l.1 -3.4h-4.7zM366.5 276.4h4.7l.1 -3.4h-4.7zM374.2 336.6h4.8l.1 -3.4h-4.8zM375.5 289.8h4.7l.1 -3.4h-4.7zM379.4 319.9h4.8l.1 -3.4h-4.7zM380.2 289.8h4.7l.1 -3.4h-4.7zM380.8 474h5.1l0 -3.4h-5.1zM380.7 437.1h5.1l0 -3.3h-5.1zM384.4 309.9h4.7l.1 -3.4h-4.7zM384.6 303.1h4.7l.1 -3.4h-4.7zM385.1 279.7h4.7l.1 -3.4h-4.7zM389.6 289.8h4.7l.1 -3.4h-4.7zM398.1 343.4h4.8l0 -3.4h-4.8zM398.3 330h4.8l0 -3.4h-4.8zM399.1 283h4.7l0 -3.3h-4.7zM403.4 303.1h4.7l0 -3.4h-4.7z"/><path fill="#a3a3ff" stroke="#a3a3ff" stroke-width="0.3" d="M349.7 353.4h4.8l.1 -3.3h-4.8zM350.7 326.6h4.8l.1 -3.4h-4.8zM352.1 286.4h4.7l.1 -3.4h-4.7zM352.3 283h4.7l.1 -3.3h-4.7zM356.2 303.1h4.7l.1 -3.4h-4.7zM360.4 319.9h4.8l.1 -3.4h-4.7zM360.5 316.5h4.7l.1 -3.3h-4.7zM361.5 286.4h4.7l.1 -3.4h-4.7zM361.8 276.4h4.7l.1 -3.4h-4.7zM373.7 356.8h4.8l.1 -3.4h-4.8zM385.2 276.4h4.7l.1 -3.4h-4.7z"/><path fill="#7a7aff" stroke="#7a7aff" stroke-width="0.3" d="M349.8 350.1h4.8l.1 -3.4h-4.8zM360.9 306.5h4.7l.1 -3.4h-4.7zM383.4 356.8h4.8l.1 -3.4h-4.8zM393 360.1h4.8l.1 -3.4h-4.8z"/><path fill="#adadff" stroke="#adadff" stroke-width="0.3" d="M350.8 323.2h4.8l.1 -3.4h-4.8zM350.9 319.9h4.8l.1 -3.4h-4.7zM354.4 356.8h4.8l.1 -3.4h-4.8zM355.4 326.6h4.8l.1 -3.4h-4.8zM355.8 316.5h4.7l.1 -3.3h-4.7zM359.3 353.4h4.8l.1 -3.3h-4.8zM359.7 343.4h4.8l.1 -3.4h-4.8zM359.8 340h4.8l.1 -3.4h-4.8zM360.2 326.6h4.8l.1 -3.4h-4.8zM360.3 323.2h4.8l.1 -3.4h-4.8zM360.7 309.9h4.7l.1 -3.4h-4.7zM364.7 336.6h4.8l.1 -3.4h-4.8zM365.2 319.9h4.8l.1 -3.4h-4.7zM365.4 313.2h4.7l.1 -3.4h-4.7zM365.5 309.9h4.7l.1 -3.4h-4.7zM365.9 296.5h4.7l.1 -3.4h-4.7zM366 293.1h4.7l.1 -3.4h-4.7zM366.4 279.7h4.7l.1 -3.4h-4.7zM370.4 303.1h4.7l.1 -3.4h-4.7zM379.3 326.6h4.8l.1 -3.4h-4.8zM379.5 316.5h4.7l.1 -3.3h-4.7zM384.8 293.1h4.7l.1 -3.4h-4.7zM403.3 316.5h4.7l0 -3.3h-4.7z"/><path fill="#8f8fff" stroke="#8f8fff" stroke-width="0.3" d="M352 289.8h4.7l.1 -3.4h-4.7zM361 303.1h4.7l.1 -3.4h-4.7zM361.4 289.8h4.7l.1 -3.4h-4.7zM393 356.8h4.8l.1 -3.4h-4.8z"/><path fill="#8585ff" stroke="#8585ff" stroke-width="0.3" d="M378.5 360.1h4.8l.1 -3.4h-4.8z"/><path fill="#7070ff" stroke="#7070ff" stroke-width="0.3" d="M378.5 356.8h4.8l.1 -3.4h-4.8z"/><path fill="#6666ff" stroke="#6666ff" stroke-width="0.3" d="M383.3 360.1h4.8l.1 -3.4h-4.8zM388.1 360.1h4.8l.1 -3.4h-4.8z"/><path fill="#ff4747" stroke="#ff4747" stroke-width="0.3" d="M388.1 363.4h4.8l.1 -3.3h-4.8z"/><path fill="#5252ff" stroke="#5252ff" stroke-width="0.3" d="M388.2 356.8h4.8l.1 -3.4h-4.8z"/><path fill="#ffb8b8" stroke="#ffb8b8" stroke-width="0.3" d="M392.4 386.9h4.9l.1 -3.3h-4.9zM396.2 423.8h5.1l.1 -3.4h-5.1zM406.1 460.6h5.1l0 -3.4h-5.1zM416.2 463.9h5.1l0 -3.3h-5.1zM426.5 430.4h5.1l0 -3.3h-5.1zM431.6 400.3h5l0 -3.4h-5zM436.6 460.6h5.1l0 -3.4h-5.1zM441.2 319.9h4.8l0 -3.4h-4.7zM441.2 299.8h4.7l0 -3.3h-4.7zM441.2 279.7h4.7l0 -3.4h-4.7zM446.7 460.6h5.1l0 -3.4h-5.1zM450.9 350.1h4.8l0 -3.4h-4.8zM450.9 343.4h4.8l0 -3.4h-4.8zM450.9 340h4.8l0 -3.4h-4.8zM450.8 333.3h4.8l0 -3.3h-4.8zM450.8 326.6h4.8l0 -3.4h-4.8zM450.5 283h4.7l0 -3.3h-4.7zM450.5 279.7h4.7l0 -3.4h-4.7zM455.4 306.5h4.7l0 -3.4h-4.7zM461.4 396.9h5l-.1 -3.3h-4.9zM472.3 447.2h5.1l0 -3.3h-5.1zM472.3 440.5h5.1l0 -3.4h-5.1zM472.3 437.1h5.1l0 -3.3h-5.1zM472.2 430.4h5.1l-.1 -3.3h-5.1zM472.1 423.8h5.1l-.1 -3.4h-5.1zM471.8 410.4h5l-.1 -3.4h-5zM471.4 400.3h5l-.2 -3.4h-5zM471.3 396.9h5l-.2 -3.3h-4.9zM471.1 393.6h4.9l-.2 -3.4h-4.9zM470.6 380.2h4.9l-.1 -3.3h-4.9zM470.5 370.1h4.9l-.1 -3.3h-4.8zM470.3 356.8h4.8l-.1 -3.4h-4.8zM470.1 346.7h4.8l-.1 -3.3h-4.8zM470.1 343.4h4.8l-.1 -3.4h-4.8zM470 336.6h4.8l-.1 -3.4h-4.8zM469.5 299.8h4.7l-.1 -3.3h-4.7zM469.4 293.1h4.7l-.1 -3.4h-4.7zM469.3 289.8h4.7l-.1 -3.4h-4.7zM469.3 286.4h4.7l-.1 -3.4h-4.7zM469.2 276.4h4.7l-.1 -3.4h-4.7zM474.8 340h4.8l-.1 -3.4h-4.8zM487 413.7h5l-.2 -3.3h-5zM484.6 350.1h4.8l-.1 -3.4h-4.8zM492.3 467.3h5.1l.1 -3.4h-5.1zM489.7 363.4h4.8l-.1 -3.3h-4.8zM489.4 350.1h4.8l-.1 -3.4h-4.8zM487.9 279.7h4.7l-.1 -3.4h-4.7zM502.8 447.2h5.1l0 -3.3h-5.1zM500.3 386.9h4.9l-.3 -3.3h-4.9zM498.6 333.3h4.8l-.1 -3.3h-4.8zM498.3 319.9h4.8l-.1 -3.4h-4.7zM497.9 306.5h4.7l-.1 -3.4h-4.7zM497.2 279.7h4.7l-.1 -3.4h-4.7zM502.1 286.4h4.7l-.1 -3.4h-4.7z"/><path fill="#ff5252" stroke="#ff5252" stroke-width="0.3" d="M392.9 363.4h4.8l.1 -3.3h-4.8z"/><path fill="#ff6666" stroke="#ff6666" stroke-width="0.3" d="M397.7 363.4h4.8l0 -3.3h-4.8z"/><path fill="#ffadad" stroke="#ffadad" stroke-width="0.3" d="M417.6 299.8h4.7l0 -3.3h-4.7zM427.1 293.1h4.7l0 -3.4h-4.7zM451.7 474h5.1l0 -3.4h-5.1zM451.9 440.5h5.1l0 -3.4h-5.1zM451.9 430.4h5.1l0 -3.3h-5.1zM451 356.8h4.8l0 -3.4h-4.8zM450.9 353.4h4.8l0 -3.3h-4.8zM450.6 296.5h4.7l0 -3.4h-4.7zM450.6 289.8h4.7l0 -3.4h-4.7zM460.6 350.1h4.8l0 -3.4h-4.8zM465.4 350.1h4.8l0 -3.4h-4.8zM472.1 463.9h5.1l.1 -3.3h-5.1zM472.3 450.6h5.1l0 -3.4h-5.1zM472.3 443.9h5.1l0 -3.4h-5.1zM472.1 420.4h5.1l-.1 -3.3h-5zM471.9 413.7h5l-.1 -3.3h-5zM470.2 353.4h4.8l-.1 -3.3h-4.8zM492.6 453.9h5.1l0 -3.3h-5.1zM490.7 390.2h4.9l-.2 -3.4h-4.9zM490.1 380.2h4.9l-.1 -3.3h-4.9zM502.7 460.6h5.1l.1 -3.4h-5.1zM502.5 423.8h5.1l-.1 -3.4h-5.1zM499.8 376.9h4.9l-.1 -3.4h-4.9zM499.3 356.8h4.8l-.1 -3.4h-4.8z"/><path fill="#ffa3a3" stroke="#ffa3a3" stroke-width="0.3" d="M441.6 460.6h5.1l0 -3.4h-5.1zM441.7 450.6h5.1l0 -3.4h-5.1zM441.2 313.2h4.7l0 -3.4h-4.7zM451.9 443.9h5.1l0 -3.4h-5.1zM451.7 410.4h5l-.1 -3.4h-5zM450.6 299.8h4.7l0 -3.3h-4.7zM472 470.6h5.1l.1 -3.3h-5.1zM472.2 427.1h5.1l-.1 -3.4h-5.1zM472 417.1h5l-.1 -3.4h-5zM471 390.2h4.9l-.2 -3.4h-4.9zM470.8 386.9h4.9l-.2 -3.3h-4.9zM470.6 376.9h4.9l-.1 -3.4h-4.9zM469.8 323.2h4.8l-.1 -3.4h-4.8zM491.7 407h5l-.2 -3.4h-5zM502.4 470.6h5.1l.1 -3.3h-5.1z"/><path fill="#ff9999" stroke="#ff9999" stroke-width="0.3" d="M471.6 403.6h5l-.1 -3.3h-5zM469.9 330h4.8l-.1 -3.4h-4.8zM469.7 313.2h4.7l-.1 -3.4h-4.7zM469.4 296.5h4.7l-.1 -3.4h-4.7zM497.2 276.4h4.7l-.1 -3.4h-4.7z"/><path fill="none" stroke="#8a8a8a" stroke-width="0.7" d="M340.2 474.0L340.1 467.3L340.0 460.6L339.9 453.9L339.9 447.2L339.9 440.5L340.1 433.8L340.3 427.1L340.6 420.4L341.0 413.7L341.5 407.0L342.1 400.3L342.7 393.6L343.3 386.9L343.8 380.2L344.1 373.5L344.4 366.8L344.6 360.1L344.9 353.4L345.1 346.7L345.4 340.0L345.6 333.3L345.9 326.6L346.2 319.9L346.4 313.2L346.7 306.5L346.9 299.8L347.2 293.1L347.4 286.4L347.7 279.7L348.0 273.0M345.3 474.0L345.2 467.3L345.1 460.6L345.0 453.9L345.0 447.2L345.0 440.5L345.2 433.8L345.4 427.1L345.7 420.4L346.1 413.7L346.5 407.0L347.0 400.3L347.6 393.6L348.2 386.9L348.7 380.2L349.0 373.5L349.2 366.8L349.4 360.1L349.7 353.4L349.9 346.7L350.2 340.0L350.4 333.3L350.7 326.6L350.9 319.9L351.2 313.2L351.4 306.5L351.6 299.8L351.9 293.1L352.1 286.4L352.4 279.7L352.6 273.0M350.4 474.0L350.2 467.3L350.1 460.6L350.1 453.9L350.1 447.2L350.1 440.5L350.2 433.8L350.4 427.1L350.7 420.4L351.1 413.7L351.5 407.0L352.0 400.3L352.6 393.6L353.1 386.9L353.6 380.2L353.8 373.5L354.0 366.8L354.3 360.1L354.5 353.4L354.7 346.7L355.0 340.0L355.2 333.3L355.4 326.6L355.7 319.9L355.9 313.2L356.1 306.5L356.4 299.8L356.6 293.1L356.8 286.4L357.0 279.7L357.3 273.0M355.4 474.0L355.3 467.3L355.2 460.6L355.2 453.9L355.2 447.2L355.2 440.5L355.3 433.8L355.5 427.1L355.8 420.4L356.1 413.7L356.5 407.0L357.0 400.3L357.5 393.6L358.0 386.9L358.5 380.2L358.7 373.5L358.9 366.8L359.1 360.1L359.3 353.4L359.5 346.7L359.8 340.0L360.0 333.3L360.2 326.6L360.4 319.9L360.6 313.2L360.9 306.5L361.1 299.8L361.3 293.1L361.5 286.4L361.7 279.7L361.9 273.0M360.5 474.0L360.4 467.3L360.3 460.6L360.3 453.9L360.2 447.2L360.3 440.5L360.4 433.8L360.6 427.1L360.8 420.4L361.2 413.7L361.5 407.0L362.0 400.3L362.4 393.6L362.9 386.9L363.3 380.2L363.5 373.5L363.7 366.8L364.0 360.1L364.2 353.4L364.4 346.7L364.6 340.0L364.8 333.3L365.0 326.6L365.2 319.9L365.4 313.2L365.6 306.5L365.8 299.8L366.0 293.1L366.2 286.4L366.4 279.7L366.6 273.0M365.6 474.0L365.5 467.3L365.4 460.6L365.3 453.9L365.3 447.2L365.4 440.5L365.5 433.8L365.7 427.1L365.9 420.4L366.2 413.7L366.5 407.0L366.9 400.3L367.4 393.6L367.8 386.9L368.2 380.2L368.4 373.5L368.6 366.8L368.8 360.1L369.0 353.4L369.2 346.7L369.4 340.0L369.5 333.3L369.7 326.6L369.9 319.9L370.1 313.2L370.3 306.5L370.5 299.8L370.7 293.1L370.9 286.4L371.1 279.7L371.3 273.0M370.6 474.0L370.5 467.3L370.5 460.6L370.4 453.9L370.4 447.2L370.5 440.5L370.6 433.8L370.7 427.1L371.0 420.4L371.2 413.7L371.6 407.0L371.9 400.3L372.3 393.6L372.8 386.9L373.1 380.2L373.3 373.5L373.4 366.8L373.6 360.1L373.8 353.4L374.0 346.7L374.2 340.0L374.3 333.3L374.5 326.6L374.7 319.9L374.9 313.2L375.0 306.5L375.2 299.8L375.4 293.1L375.6 286.4L375.7 279.7L375.9 273.0M375.7 474.0L375.6 467.3L375.6 460.6L375.5 453.9L375.5 447.2L375.6 440.5L375.7 433.8L375.8 427.1L376.0 420.4L376.3 413.7L376.6 407.0L376.9 400.3L377.3 393.6L377.7 386.9L378.0 380.2L378.1 373.5L378.3 366.8L378.5 360.1L378.6 353.4L378.8 346.7L378.9 340.0L379.1 333.3L379.3 326.6L379.4 319.9L379.6 313.2L379.8 306.5L379.9 299.8L380.1 293.1L380.2 286.4L380.4 279.7L380.6 273.0M380.8 474.0L380.7 467.3L380.6 460.6L380.6 453.9L380.6 447.2L380.7 440.5L380.7 433.8L380.9 427.1L381.1 420.4L381.3 413.7L381.6 407.0L381.9 400.3L382.2 393.6L382.6 386.9L382.8 380.2L383.0 373.5L383.1 366.8L383.3 360.1L383.4 353.4L383.6 346.7L383.7 340.0L383.9 333.3L384.0 326.6L384.2 319.9L384.3 313.2L384.5 306.5L384.6 299.8L384.8 293.1L384.9 286.4L385.1 279.7L385.2 273.0M385.8 474.0L385.8 467.3L385.7 460.6L385.7 453.9L385.7 447.2L385.8 440.5L385.8 433.8L386.0 427.1L386.1 420.4L386.3 413.7L386.6 407.0L386.8 400.3L387.1 393.6L387.5 386.9L387.7 380.2L387.9 373.5L388.0 366.8L388.1 360.1L388.3 353.4L388.4 346.7L388.5 340.0L388.7 333.3L388.8 326.6L388.9 319.9L389.1 313.2L389.2 306.5L389.4 299.8L389.5 293.1L389.6 286.4L389.8 279.7L389.9 273.0M390.9 474.0L390.8 467.3L390.8 460.6L390.8 453.9L390.8 447.2L390.8 440.5L390.9 433.8L391.0 427.1L391.2 420.4L391.4 413.7L391.6 407.0L391.8 400.3L392.1 393.6L392.4 386.9L392.6 380.2L392.7 373.5L392.8 366.8L393.0 360.1L393.1 353.4L393.2 346.7L393.3 340.0L393.5 333.3L393.6 326.6L393.7 319.9L393.8 313.2L393.9 306.5L394.1 299.8L394.2 293.1L394.3 286.4L394.4 279.7L394.6 273.0M395.9 474.0L395.9 467.3L395.9 460.6L395.9 453.9L395.9 447.2L395.9 440.5L396.0 433.8L396.1 427.1L396.2 420.4L396.4 413.7L396.6 407.0L396.8 400.3L397.0 393.6L397.3 386.9L397.5 380.2L397.6 373.5L397.7 366.8L397.8 360.1L397.9 353.4L398.0 346.7L398.1 340.0L398.2 333.3L398.3 326.6L398.5 319.9L398.6 313.2L398.7 306.5L398.8 299.8L398.9 293.1L399.0 286.4L399.1 279.7L399.2 273.0M401.0 474.0L401.0 467.3L401.0 460.6L401.0 453.9L401.0 447.2L401.0 440.5L401.1 433.8L401.2 427.1L401.3 420.4L401.4 413.7L401.6 407.0L401.8 400.3L402.0 393.6L402.2 386.9L402.3 380.2L402.4 373.5L402.5 366.8L402.6 360.1L402.7 353.4L402.8 346.7L402.9 340.0L403.0 333.3L403.1 326.6L403.2 319.9L403.3 313.2L403.4 306.5L403.5 299.8L403.6 293.1L403.7 286.4L403.8 279.7L403.9 273.0M406.1 474.0L406.1 467.3L406.1 460.6L406.1 453.9L406.1 447.2L406.1 440.5L406.2 433.8L406.2 427.1L406.3 420.4L406.5 413.7L406.6 407.0L406.7 400.3L406.9 393.6L407.1 386.9L407.2 380.2L407.3 373.5L407.4 366.8L407.5 360.1L407.6 353.4L407.6 346.7L407.7 340.0L407.8 333.3L407.9 326.6L408.0 319.9L408.0 313.2L408.1 306.5L408.2 299.8L408.3 293.1L408.4 286.4L408.5 279.7L408.5 273.0M411.1 474.0L411.1 467.3L411.1 460.6L411.2 453.9L411.2 447.2L411.2 440.5L411.3 433.8L411.3 427.1L411.4 420.4L411.5 413.7L411.6 407.0L411.7 400.3L411.9 393.6L412.0 386.9L412.1 380.2L412.2 373.5L412.2 366.8L412.3 360.1L412.4 353.4L412.4 346.7L412.5 340.0L412.6 333.3L412.6 326.6L412.7 319.9L412.8 313.2L412.9 306.5L412.9 299.8L413.0 293.1L413.1 286.4L413.1 279.7L413.2 273.0M416.2 474.0L416.2 467.3L416.2 460.6L416.2 453.9L416.3 447.2L416.3 440.5L416.3 433.8L416.4 427.1L416.5 420.4L416.5 413.7L416.6 407.0L416.7 400.3L416.8 393.6L416.9 386.9L417.0 380.2L417.0 373.5L417.1 366.8L417.1 360.1L417.2 353.4L417.2 346.7L417.3 340.0L417.4 333.3L417.4 326.6L417.5 319.9L417.5 313.2L417.6 306.5L417.6 299.8L417.7 293.1L417.7 286.4L417.8 279.7L417.9 273.0M421.3 474.0L421.3 467.3L421.3 460.6L421.3 453.9L421.4 447.2L421.4 440.5L421.4 433.8L421.5 427.1L421.5 420.4L421.6 413.7L421.6 407.0L421.7 400.3L421.7 393.6L421.8 386.9L421.9 380.2L421.9 373.5L421.9 366.8L422.0 360.1L422.0 353.4L422.1 346.7L422.1 340.0L422.1 333.3L422.2 326.6L422.2 319.9L422.3 313.2L422.3 306.5L422.3 299.8L422.4 293.1L422.4 286.4L422.5 279.7L422.5 273.0M426.3 474.0L426.4 467.3L426.4 460.6L426.4 453.9L426.5 447.2L426.5 440.5L426.5 433.8L426.5 427.1L426.6 420.4L426.6 413.7L426.6 407.0L426.6 400.3L426.7 393.6L426.7 386.9L426.7 380.2L426.8 373.5L426.8 366.8L426.8 360.1L426.8 353.4L426.9 346.7L426.9 340.0L426.9 333.3L426.9 326.6L427.0 319.9L427.0 313.2L427.0 306.5L427.1 299.8L427.1 293.1L427.1 286.4L427.1 279.7L427.2 273.0M431.4 474.0L431.4 467.3L431.5 460.6L431.5 453.9L431.5 447.2L431.6 440.5L431.6 433.8L431.6 427.1L431.6 420.4L431.6 413.7L431.6 407.0L431.6 400.3L431.6 393.6L431.6 386.9L431.6 380.2L431.6 373.5L431.6 366.8L431.6 360.1L431.7 353.4L431.7 346.7L431.7 340.0L431.7 333.3L431.7 326.6L431.7 319.9L431.7 313.2L431.8 306.5L431.8 299.8L431.8 293.1L431.8 286.4L431.8 279.7L431.8 273.0M436.5 474.0L436.5 467.3L436.6 460.6L436.6 453.9L436.6 447.2L436.7 440.5L436.7 433.8L436.7 427.1L436.7 420.4L436.7 413.7L436.6 407.0L436.6 400.3L436.6 393.6L436.5 386.9L436.5 380.2L436.5 373.5L436.5 366.8L436.5 360.1L436.5 353.4L436.5 346.7L436.5 340.0L436.5 333.3L436.5 326.6L436.5 319.9L436.5 313.2L436.5 306.5L436.5 299.8L436.5 293.1L436.5 286.4L436.5 279.7L436.5 273.0M441.5 474.0L441.6 467.3L441.6 460.6L441.7 453.9L441.7 447.2L441.8 440.5L441.8 433.8L441.8 427.1L441.7 420.4L441.7 413.7L441.6 407.0L441.6 400.3L441.5 393.6L441.4 386.9L441.4 380.2L441.3 373.5L441.3 366.8L441.3 360.1L441.3 353.4L441.3 346.7L441.3 340.0L441.3 333.3L441.3 326.6L441.2 319.9L441.2 313.2L441.2 306.5L441.2 299.8L441.2 293.1L441.2 286.4L441.2 279.7L441.2 273.0M446.6 474.0L446.7 467.3L446.7 460.6L446.8 453.9L446.8 447.2L446.8 440.5L446.9 433.8L446.8 427.1L446.8 420.4L446.7 413.7L446.6 407.0L446.5 400.3L446.4 393.6L446.3 386.9L446.2 380.2L446.2 373.5L446.2 366.8L446.2 360.1L446.1 353.4L446.1 346.7L446.1 340.0L446.0 333.3L446.0 326.6L446.0 319.9L446.0 313.2L445.9 306.5L445.9 299.8L445.9 293.1L445.9 286.4L445.8 279.7L445.8 273.0M451.7 474.0L451.7 467.3L451.8 460.6L451.9 453.9L451.9 447.2L451.9 440.5L451.9 433.8L451.9 427.1L451.8 420.4L451.8 413.7L451.7 407.0L451.5 400.3L451.4 393.6L451.2 386.9L451.1 380.2L451.1 373.5L451.0 366.8L451.0 360.1L450.9 353.4L450.9 346.7L450.9 340.0L450.8 333.3L450.8 326.6L450.7 319.9L450.7 313.2L450.7 306.5L450.6 299.8L450.6 293.1L450.5 286.4L450.5 279.7L450.5 273.0M456.7 474.0L456.8 467.3L456.9 460.6L457.0 453.9L457.0 447.2L457.0 440.5L457.0 433.8L457.0 427.1L456.9 420.4L456.8 413.7L456.7 407.0L456.5 400.3L456.3 393.6L456.1 386.9L456.0 380.2L455.9 373.5L455.9 366.8L455.8 360.1L455.8 353.4L455.7 346.7L455.7 340.0L455.6 333.3L455.6 326.6L455.5 319.9L455.4 313.2L455.4 306.5L455.3 299.8L455.3 293.1L455.2 286.4L455.2 279.7L455.1 273.0M461.8 474.0L461.9 467.3L462.0 460.6L462.1 453.9L462.1 447.2L462.1 440.5L462.1 433.8L462.1 427.1L462.0 420.4L461.8 413.7L461.7 407.0L461.5 400.3L461.3 393.6L461.0 386.9L460.9 380.2L460.8 373.5L460.7 366.8L460.7 360.1L460.6 353.4L460.5 346.7L460.5 340.0L460.4 333.3L460.3 326.6L460.3 319.9L460.2 313.2L460.1 306.5L460.1 299.8L460.0 293.1L459.9 286.4L459.9 279.7L459.8 273.0M466.9 474.0L467.0 467.3L467.1 460.6L467.1 453.9L467.2 447.2L467.2 440.5L467.2 433.8L467.1 427.1L467.0 420.4L466.9 413.7L466.7 407.0L466.4 400.3L466.2 393.6L465.9 386.9L465.7 380.2L465.7 373.5L465.6 366.8L465.5 360.1L465.4 353.4L465.3 346.7L465.3 340.0L465.2 333.3L465.1 326.6L465.0 319.9L464.9 313.2L464.9 306.5L464.8 299.8L464.7 293.1L464.6 286.4L464.5 279.7L464.4 273.0M471.9 474.0L472.0 467.3L472.1 460.6L472.2 453.9L472.3 447.2L472.3 440.5L472.3 433.8L472.2 427.1L472.1 420.4L471.9 413.7L471.7 407.0L471.4 400.3L471.1 393.6L470.8 386.9L470.6 380.2L470.5 373.5L470.4 366.8L470.3 360.1L470.2 353.4L470.1 346.7L470.0 340.0L470.0 333.3L469.9 326.6L469.8 319.9L469.7 313.2L469.6 306.5L469.5 299.8L469.4 293.1L469.3 286.4L469.2 279.7L469.1 273.0M477.0 474.0L477.1 467.3L477.2 460.6L477.3 453.9L477.4 447.2L477.4 440.5L477.4 433.8L477.3 427.1L477.1 420.4L476.9 413.7L476.7 407.0L476.4 400.3L476.1 393.6L475.7 386.9L475.5 380.2L475.4 373.5L475.3 366.8L475.2 360.1L475.1 353.4L474.9 346.7L474.8 340.0L474.7 333.3L474.6 326.6L474.5 319.9L474.4 313.2L474.3 306.5L474.2 299.8L474.1 293.1L474.0 286.4L473.9 279.7L473.8 273.0M482.0 474.0L482.2 467.3L482.3 460.6L482.4 453.9L482.5 447.2L482.5 440.5L482.4 433.8L482.3 427.1L482.2 420.4L482.0 413.7L481.7 407.0L481.4 400.3L481.0 393.6L480.6 386.9L480.4 380.2L480.2 373.5L480.1 366.8L480.0 360.1L479.9 353.4L479.8 346.7L479.6 340.0L479.5 333.3L479.4 326.6L479.3 319.9L479.2 313.2L479.0 306.5L478.9 299.8L478.8 293.1L478.7 286.4L478.5 279.7L478.4 273.0M487.1 474.0L487.3 467.3L487.4 460.6L487.5 453.9L487.6 447.2L487.6 440.5L487.5 433.8L487.4 427.1L487.2 420.4L487.0 413.7L486.7 407.0L486.3 400.3L486.0 393.6L485.6 386.9L485.2 380.2L485.1 373.5L485.0 366.8L484.8 360.1L484.7 353.4L484.6 346.7L484.4 340.0L484.3 333.3L484.2 326.6L484.0 319.9L483.9 313.2L483.8 306.5L483.6 299.8L483.5 293.1L483.4 286.4L483.2 279.7L483.1 273.0M492.2 474.0L492.3 467.3L492.5 460.6L492.6 453.9L492.7 447.2L492.7 440.5L492.6 433.8L492.5 427.1L492.3 420.4L492.0 413.7L491.7 407.0L491.3 400.3L490.9 393.6L490.5 386.9L490.1 380.2L490.0 373.5L489.8 366.8L489.7 360.1L489.5 353.4L489.4 346.7L489.2 340.0L489.1 333.3L488.9 326.6L488.8 319.9L488.6 313.2L488.5 306.5L488.3 299.8L488.2 293.1L488.0 286.4L487.9 279.7L487.7 273.0M497.2 474.0L497.4 467.3L497.6 460.6L497.7 453.9L497.8 447.2L497.8 440.5L497.7 433.8L497.6 427.1L497.4 420.4L497.1 413.7L496.7 407.0L496.3 400.3L495.8 393.6L495.4 386.9L495.0 380.2L494.8 373.5L494.7 366.8L494.5 360.1L494.3 353.4L494.2 346.7L494.0 340.0L493.9 333.3L493.7 326.6L493.5 319.9L493.4 313.2L493.2 306.5L493.1 299.8L492.9 293.1L492.7 286.4L492.6 279.7L492.4 273.0M502.3 474.0L502.5 467.3L502.7 460.6L502.8 453.9L502.8 447.2L502.9 440.5L502.8 433.8L502.6 427.1L502.4 420.4L502.1 413.7L501.7 407.0L501.3 400.3L500.8 393.6L500.3 386.9L499.9 380.2L499.7 373.5L499.5 366.8L499.3 360.1L499.2 353.4L499.0 346.7L498.8 340.0L498.6 333.3L498.5 326.6L498.3 319.9L498.1 313.2L497.9 306.5L497.8 299.8L497.6 293.1L497.4 286.4L497.2 279.7L497.1 273.0M507.4 474.0L507.6 467.3L507.7 460.6L507.9 453.9L507.9 447.2L507.9 440.5L507.9 433.8L507.7 427.1L507.5 420.4L507.1 413.7L506.7 407.0L506.2 400.3L505.7 393.6L505.2 386.9L504.7 380.2L504.6 373.5L504.4 366.8L504.2 360.1L504.0 353.4L503.8 346.7L503.6 340.0L503.4 333.3L503.2 326.6L503.0 319.9L502.9 313.2L502.7 306.5L502.5 299.8L502.3 293.1L502.1 286.4L501.9 279.7L501.7 273.0M512.4 474.0L512.6 467.3L512.8 460.6L513.0 453.9L513.0 447.2L513.0 440.5L513.0 433.8L512.8 427.1L512.5 420.4L512.2 413.7L511.7 407.0L511.2 400.3L510.7 393.6L510.1 386.9L509.6 380.2L509.4 373.5L509.2 366.8L509.0 360.1L508.8 353.4L508.6 346.7L508.4 340.0L508.2 333.3L508.0 326.6L507.8 319.9L507.6 313.2L507.4 306.5L507.2 299.8L507.0 293.1L506.8 286.4L506.6 279.7L506.4 273.0"/><path fill="#fff5f5" stroke="#fff5f5" stroke-width="0.3" d="M367.2 689.6h6l-.1 -3.4h-6zM367.1 682.9h6l-.1 -3.4h-6zM367 679.5h6l-.1 -3.3h-6zM366.9 672.9h6l-.1 -3.4h-6zM366.7 659.5h6l-.1 -3.4h-6zM366.5 652.8h6l-.1 -3.4h-6zM366 622.6h6l-.1 -3.4h-6zM365.9 619.2h6l-.1 -3.4h-6.1zM365.7 609.2h6.1l-.1 -3.4h-6.1zM365.1 579.1h6.1l-.1 -3.4h-6.1zM365 572.4h6.1l-.1 -3.4h-6.1zM364.6 552.2h6.1l-.1 -3.4h-6.1zM364.4 542.2h6.2l-.1 -3.4h-6.2zM395.9 602.5h6.1l0 -3.4h-6.1zM402.8 679.5h6l0 -3.3h-6zM402.8 672.9h6l0 -3.4h-6zM402.7 666.1h6l0 -3.4h-6zM402.4 642.7h6l0 -3.4h-6zM402.3 626h6l0 -3.4h-6zM402.2 615.9h6.1l0 -3.4h-6.1zM401.9 589.1h6.1l0 -3.4h-6.1zM401.7 572.4h6.1l0 -3.4h-6.1zM401.5 559h6.1l0 -3.4h-6.1zM401.5 555.6h6.1l0 -3.4h-6.1zM401.4 548.9h6.1l0 -3.3h-6.1zM408.9 689.6h6l0 -3.4h-6zM408.8 672.9h6l0 -3.4h-6zM408.4 639.4h6l0 -3.4h-6zM408.3 629.3h6l0 -3.3h-6zM408.1 599.1h6.1l0 -3.3h-6.1zM407.9 585.8h6.1l0 -3.4h-6.1zM407.9 579.1h6.1l0 -3.4h-6.1zM414.5 646h6l0 -3.3h-6zM414.3 619.2h6l0 -3.4h-6.1zM420.7 676.2h6l0 -3.4h-6zM420.7 669.5h6l0 -3.4h-6zM420.3 612.5h6.1l0 -3.3h-6.1zM420.2 592.5h6.1l0 -3.4h-6.1zM420.1 589.1h6.1l0 -3.4h-6.1zM420 572.4h6.1l0 -3.4h-6.1zM419.8 542.2h6.2l0 -3.4h-6.2zM426.6 662.8h6l0 -3.3h-6zM426.6 659.5h6l0 -3.4h-6zM432.6 666.1h6l0 -3.4h-6zM432.5 646h6l0 -3.3h-6zM432.5 632.6h6l0 -3.4h-6zM432.4 622.6h6l0 -3.4h-6zM432.4 605.9h6.1l0 -3.4h-6.1zM432.3 595.8h6.1l0 -3.4h-6.1zM432.3 575.7h6.1l0 -3.4h-6.1zM438.6 669.5h6l0 -3.4h-6zM438.6 649.4h6l0 -3.4h-6zM438.6 646h6l0 -3.3h-6zM438.5 615.9h6.1l0 -3.4h-6.1zM444.5 562.3h6.1l0 -3.4h-6.1zM444.4 548.9h6.1l0 -3.3h-6.1zM450.6 662.8h6l0 -3.3h-6zM450.6 659.5h6l0 -3.4h-6zM450.6 632.6h6l0 -3.4h-6zM450.6 626h6l0 -3.4h-6zM450.6 622.6h6l0 -3.4h-6zM450.6 609.2h6.1l0 -3.4h-6.1zM450.6 605.9h6.1l0 -3.4h-6.1zM450.6 595.8h6.1l0 -3.4h-6.1zM450.6 592.5h6.1l0 -3.4h-6.1zM450.6 579.1h6.1l0 -3.4h-6.1zM450.6 548.9h6.1l0 -3.3h-6.1zM456.5 689.6h6l0 -3.4h-6zM456.6 679.5h6l0 -3.3h-6zM456.6 662.8h6l0 -3.3h-6zM456.6 649.4h6l0 -3.4h-6zM456.6 632.6h6l0 -3.4h-6zM456.6 626h6l0 -3.4h-6zM456.7 599.1h6.1l0 -3.3h-6.1zM456.7 548.9h6.1l0 -3.3h-6.1zM456.7 538.9h6.2l0 -3.4h-6.2zM462.5 682.9h6l0 -3.4h-6zM462.5 679.5h6l0 -3.3h-6zM462.5 676.2h6l0 -3.4h-6zM462.5 669.5h6l0 -3.4h-6zM462.6 656.1h6l0 -3.4h-6zM462.6 646h6l0 -3.3h-6zM462.6 639.4h6l0 -3.4h-6zM462.7 599.1h6.1l0 -3.3h-6.1zM462.8 585.8h6.1l0 -3.4h-6.1zM462.8 572.4h6.1l0 -3.4h-6.1zM462.8 569h6.1l0 -3.4h-6.1zM462.8 562.3h6.1l0 -3.4h-6.1zM462.9 552.2h6.1l0 -3.4h-6.1zM462.9 548.9h6.1l0 -3.3h-6.1zM462.9 542.2h6.2l0 -3.4h-6.2zM468.6 649.4h6l0 -3.4h-6zM468.7 632.6h6l0 -3.4h-6zM468.7 626h6l0 -3.4h-6zM468.9 582.4h6.1l0 -3.3h-6.1zM469 552.2h6.1l0 -3.4h-6.1zM469 542.2h6.2l0 -3.4h-6.2zM469 538.9h6.2l0 -3.4h-6.2zM474.4 686.2h6l0 -3.4h-6zM474.8 619.2h6l0 -3.4h-6.1zM474.8 609.2h6.1l0 -3.4h-6.1zM474.9 599.1h6.1l0 -3.3h-6.1zM480.6 646h6l0 -3.3h-6zM480.7 636h6l0 -3.4h-6zM480.8 615.9h6.1l0 -3.4h-6.1zM480.9 609.2h6.1l0 -3.4h-6.1zM481.1 572.4h6.1l0 -3.4h-6.1z"/><path fill="#ffebeb" stroke="#ffebeb" stroke-width="0.3" d="M367.2 686.2h6l-.1 -3.4h-6zM366.8 666.1h6l-.1 -3.4h-6zM366.6 656.1h6l-.1 -3.4h-6zM366.4 646h6l-.1 -3.3h-6zM366.3 642.7h6l-.1 -3.4h-6zM366.3 639.4h6l-.1 -3.4h-6zM365.8 615.9h6.1l-.1 -3.4h-6.1zM365.6 605.9h6.1l-.1 -3.4h-6.1zM365.5 595.8h6.1l-.1 -3.4h-6.1zM365.1 575.7h6.1l-.1 -3.4h-6.1zM364.6 548.9h6.1l-.1 -3.3h-6.1zM402.6 656.1h6l0 -3.4h-6zM402.4 636h6l0 -3.4h-6zM402.3 632.6h6l0 -3.4h-6zM402.3 629.3h6l0 -3.3h-6zM402.2 619.2h6l0 -3.4h-6.1zM402.1 609.2h6.1l0 -3.4h-6.1zM401.8 579.1h6.1l0 -3.4h-6.1zM401.6 569h6.1l0 -3.4h-6.1zM401.6 565.6h6.1l0 -3.3h-6.1zM401.5 552.2h6.1l0 -3.4h-6.1zM408.6 656.1h6l0 -3.4h-6zM408.3 626h6l0 -3.4h-6zM408 589.1h6.1l0 -3.4h-6.1zM407.9 582.4h6.1l0 -3.3h-6.1zM414.2 605.9h6.1l0 -3.4h-6.1zM420.8 682.9h6l0 -3.4h-6zM420.6 659.5h6l0 -3.4h-6zM420.6 652.8h6l0 -3.4h-6zM420.5 639.4h6l0 -3.4h-6zM420.4 629.3h6l0 -3.3h-6zM420.4 626h6l0 -3.4h-6zM420.4 622.6h6l0 -3.4h-6zM420.3 609.2h6.1l0 -3.4h-6.1zM420 569h6.1l0 -3.4h-6.1zM419.9 555.6h6.1l0 -3.4h-6.1zM419.9 552.2h6.1l0 -3.4h-6.1zM432.6 662.8h6l0 -3.3h-6zM432.6 649.4h6l0 -3.4h-6zM432.5 642.7h6l0 -3.4h-6zM432.5 629.3h6l0 -3.3h-6zM432.4 615.9h6.1l0 -3.4h-6.1zM432.4 612.5h6.1l0 -3.3h-6.1zM432.4 609.2h6.1l0 -3.4h-6.1zM432.3 585.8h6.1l0 -3.4h-6.1zM432.2 552.2h6.1l0 -3.4h-6.1zM432.1 548.9h6.1l0 -3.3h-6.1zM438.5 639.4h6l0 -3.4h-6zM438.5 619.2h6l0 -3.4h-6.1zM444.6 672.9h6l0 -3.4h-6zM450.6 676.2h6l0 -3.4h-6zM450.6 669.5h6l0 -3.4h-6zM450.6 565.6h6.1l0 -3.3h-6.1zM450.6 555.6h6.1l0 -3.4h-6.1zM450.6 545.6h6.1l0 -3.4h-6.2zM456.5 686.2h6l0 -3.4h-6zM456.6 672.9h6l0 -3.4h-6zM456.6 659.5h6l0 -3.4h-6zM456.6 642.7h6l0 -3.4h-6zM456.6 622.6h6l0 -3.4h-6zM456.6 615.9h6.1l0 -3.4h-6.1zM456.7 595.8h6.1l0 -3.4h-6.1zM456.7 582.4h6.1l0 -3.3h-6.1zM456.7 579.1h6.1l0 -3.4h-6.1zM456.7 575.7h6.1l0 -3.4h-6.1zM456.7 569h6.1l0 -3.4h-6.1zM456.7 565.6h6.1l0 -3.3h-6.1zM456.7 559h6.1l0 -3.4h-6.1zM456.7 542.2h6.2l0 -3.4h-6.2zM462.6 666.1h6l0 -3.4h-6zM462.6 662.8h6l0 -3.3h-6zM462.6 659.5h6l0 -3.4h-6zM462.6 649.4h6l0 -3.4h-6zM462.6 642.7h6l0 -3.4h-6zM462.7 629.3h6l0 -3.3h-6zM462.7 619.2h6l0 -3.4h-6.1zM462.7 609.2h6.1l0 -3.4h-6.1zM462.7 602.5h6.1l0 -3.4h-6.1zM462.8 589.1h6.1l0 -3.4h-6.1zM462.8 582.4h6.1l0 -3.3h-6.1zM462.8 579.1h6.1l0 -3.4h-6.1zM468.5 679.5h6l0 -3.3h-6zM468.6 659.5h6l0 -3.4h-6zM468.6 656.1h6l0 -3.4h-6zM468.7 622.6h6l0 -3.4h-6zM468.7 619.2h6l0 -3.4h-6.1zM468.7 615.9h6.1l0 -3.4h-6.1zM468.8 605.9h6.1l0 -3.4h-6.1zM474.5 672.9h6l0 -3.4h-6zM474.5 669.5h6l0 -3.4h-6zM474.6 642.7h6l0 -3.4h-6zM474.7 629.3h6l0 -3.3h-6zM475.1 565.6h6.1l0 -3.3h-6.1zM475.2 548.9h6.1l0 -3.3h-6.1zM475.2 545.6h6.1l0 -3.4h-6.2zM480.4 682.9h6l0 -3.4h-6zM480.4 676.2h6l0 -3.4h-6zM480.5 672.9h6l0 -3.4h-6zM480.5 662.8h6l0 -3.3h-6zM480.6 659.5h6l0 -3.4h-6zM480.6 656.1h6l0 -3.4h-6zM480.8 629.3h6l0 -3.3h-6zM480.8 626h6l0 -3.4h-6zM480.9 602.5h6.1l0 -3.4h-6.1zM481 595.8h6.1l0 -3.4h-6.1zM481.1 582.4h6.1l0 -3.3h-6.1zM481.1 575.7h6.1l0 -3.4h-6.1zM481.3 548.9h6.1l0 -3.3h-6.1z"/><path fill="#ffe0e0" stroke="#ffe0e0" stroke-width="0.3" d="M366.9 669.5h6l-.1 -3.4h-6zM366.7 662.8h6l-.1 -3.3h-6zM365.4 592.5h6.1l-.1 -3.4h-6.1zM364.8 559h6.1l-.1 -3.4h-6.1zM364.4 538.9h6.2l-.1 -3.4h-6.2zM402.2 622.6h6l0 -3.4h-6zM402 605.9h6.1l0 -3.4h-6.1zM408.1 602.5h6.1l0 -3.4h-6.1zM420.7 666.1h6l0 -3.4h-6zM420.6 662.8h6l0 -3.3h-6zM420.5 649.4h6l0 -3.4h-6zM420.5 642.7h6l0 -3.4h-6zM420.5 636h6l0 -3.4h-6zM420.4 632.6h6l0 -3.4h-6zM420.3 619.2h6l0 -3.4h-6.1zM420 575.7h6.1l0 -3.4h-6.1zM432.4 619.2h6l0 -3.4h-6.1zM444.6 662.8h6l0 -3.3h-6zM450.6 679.5h6l0 -3.3h-6zM450.6 649.4h6l0 -3.4h-6zM450.6 629.3h6l0 -3.3h-6zM450.6 562.3h6.1l0 -3.4h-6.1zM450.6 542.2h6.2l0 -3.4h-6.2zM456.6 652.8h6l0 -3.4h-6zM456.6 629.3h6l0 -3.3h-6zM456.7 592.5h6.1l0 -3.4h-6.1zM456.7 562.3h6.1l0 -3.4h-6.1zM462.5 689.6h6l0 -3.4h-6zM462.6 652.8h6l0 -3.4h-6zM462.7 622.6h6l0 -3.4h-6zM462.7 605.9h6.1l0 -3.4h-6.1zM462.7 592.5h6.1l0 -3.4h-6.1zM462.8 575.7h6.1l0 -3.4h-6.1zM462.8 559h6.1l0 -3.4h-6.1zM462.9 538.9h6.2l0 -3.4h-6.2zM468.5 686.2h6l0 -3.4h-6zM468.5 676.2h6l0 -3.4h-6zM468.5 672.9h6l0 -3.4h-6zM468.5 669.5h6l0 -3.4h-6zM468.6 639.4h6l0 -3.4h-6zM468.8 609.2h6.1l0 -3.4h-6.1zM468.8 595.8h6.1l0 -3.4h-6.1zM468.9 585.8h6.1l0 -3.4h-6.1zM468.9 569h6.1l0 -3.4h-6.1zM469 555.6h6.1l0 -3.4h-6.1zM469 548.9h6.1l0 -3.3h-6.1zM474.4 689.6h6l0 -3.4h-6zM474.4 682.9h6l0 -3.4h-6zM474.5 679.5h6l0 -3.3h-6zM474.5 666.1h6l0 -3.4h-6zM474.5 662.8h6l0 -3.3h-6zM474.6 659.5h6l0 -3.4h-6zM474.7 639.4h6l0 -3.4h-6zM474.7 626h6l0 -3.4h-6zM474.8 612.5h6.1l0 -3.3h-6.1zM475 579.1h6.1l0 -3.4h-6.1zM475 572.4h6.1l0 -3.4h-6.1zM475.1 562.3h6.1l0 -3.4h-6.1zM475.1 552.2h6.1l0 -3.4h-6.1zM480.3 689.6h6l0 -3.4h-6zM480.4 686.2h6l0 -3.4h-6zM480.5 666.1h6l0 -3.4h-6zM480.6 652.8h6l0 -3.4h-6zM480.6 649.4h6l0 -3.4h-6zM480.7 642.7h6l0 -3.4h-6zM480.7 639.4h6l0 -3.4h-6zM480.9 612.5h6.1l0 -3.3h-6.1zM481.1 579.1h6.1l0 -3.4h-6.1zM481.2 565.6h6.1l0 -3.3h-6.1zM481.3 545.6h6.1l0 -3.4h-6.2zM481.4 538.9h6.2l0 -3.4h-6.2z"/><path fill="#f5f5ff" stroke="#f5f5ff" stroke-width="0.3" d="M366.5 649.4h6l-.1 -3.4h-6zM364.5 545.6h6.1l-.1 -3.4h-6.2zM372.8 666.1h6l-.1 -3.4h-6zM372.7 662.8h6l-.1 -3.3h-6zM372.7 659.5h6l-.1 -3.4h-6zM372 622.6h6l-.1 -3.4h-6zM371.4 585.8h6.1l-.1 -3.4h-6.1zM371.3 582.4h6.1l-.1 -3.3h-6.1zM370.8 552.2h6.1l-.1 -3.4h-6.1zM370.7 548.9h6.1l-.1 -3.3h-6.1zM384.4 642.7h6l0 -3.4h-6zM396.9 679.5h6l0 -3.3h-6zM396.7 666.1h6l0 -3.4h-6zM396.4 639.4h6l0 -3.4h-6zM395.9 595.8h6.1l0 -3.4h-6.1zM395.5 565.6h6.1l0 -3.3h-6.1zM395.4 559h6.1l0 -3.4h-6.1zM395.2 542.2h6.2l0 -3.4h-6.2zM403 689.6h6l0 -3.4h-6zM402.8 676.2h6l0 -3.4h-6zM402.5 646h6l0 -3.3h-6zM401.8 582.4h6.1l0 -3.3h-6.1zM401.6 562.3h6.1l0 -3.4h-6.1zM401.4 542.2h6.2l0 -3.4h-6.2zM408.5 649.4h6l0 -3.4h-6zM408.2 619.2h6l0 -3.4h-6.1zM408.1 609.2h6.1l0 -3.4h-6.1zM407.7 562.3h6.1l0 -3.4h-6.1zM407.6 552.2h6.1l0 -3.4h-6.1zM414.8 686.2h6l0 -3.4h-6zM414.7 669.5h6l0 -3.4h-6zM414.6 662.8h6l0 -3.3h-6zM414.6 656.1h6l0 -3.4h-6zM414.5 639.4h6l0 -3.4h-6zM414.1 592.5h6.1l0 -3.4h-6.1zM414 589.1h6.1l0 -3.4h-6.1zM414 579.1h6.1l0 -3.4h-6.1zM413.9 572.4h6.1l0 -3.4h-6.1zM413.9 565.6h6.1l0 -3.3h-6.1zM413.7 552.2h6.1l0 -3.4h-6.1zM413.7 542.2h6.2l0 -3.4h-6.2zM413.6 538.9h6.2l0 -3.4h-6.2zM420.2 595.8h6.1l0 -3.4h-6.1zM420 565.6h6.1l0 -3.3h-6.1zM426.5 642.7h6l0 -3.4h-6zM426.5 639.4h6l0 -3.4h-6zM426.4 626h6l0 -3.4h-6zM426.4 622.6h6l0 -3.4h-6zM426.4 619.2h6l0 -3.4h-6.1zM426.4 615.9h6.1l0 -3.4h-6.1zM426 542.2h6.2l0 -3.4h-6.2zM432.7 682.9h6l0 -3.4h-6zM432.7 672.9h6l0 -3.4h-6zM432.3 582.4h6.1l0 -3.3h-6.1zM432.3 579.1h6.1l0 -3.4h-6.1zM432.2 572.4h6.1l0 -3.4h-6.1zM432.1 545.6h6.1l0 -3.4h-6.2zM432.1 538.9h6.2l0 -3.4h-6.2zM438.7 682.9h6l0 -3.4h-6zM438.6 672.9h6l0 -3.4h-6zM438.6 666.1h6l0 -3.4h-6zM438.6 656.1h6l0 -3.4h-6zM438.6 652.8h6l0 -3.4h-6zM438.5 636h6l0 -3.4h-6zM438.5 626h6l0 -3.4h-6zM438.4 602.5h6.1l0 -3.4h-6.1zM438.3 548.9h6.1l0 -3.3h-6.1zM444.6 682.9h6l0 -3.4h-6zM444.6 679.5h6l0 -3.3h-6zM444.6 676.2h6l0 -3.4h-6zM444.6 666.1h6l0 -3.4h-6zM444.6 652.8h6l0 -3.4h-6zM444.6 649.4h6l0 -3.4h-6zM444.6 646h6l0 -3.3h-6zM444.6 639.4h6l0 -3.4h-6zM444.6 636h6l0 -3.4h-6zM444.5 612.5h6.1l0 -3.3h-6.1zM444.5 605.9h6.1l0 -3.4h-6.1zM444.5 599.1h6.1l0 -3.3h-6.1zM444.5 595.8h6.1l0 -3.4h-6.1zM444.5 582.4h6.1l0 -3.3h-6.1zM444.5 565.6h6.1l0 -3.3h-6.1zM444.4 555.6h6.1l0 -3.4h-6.1zM444.4 545.6h6.1l0 -3.4h-6.2zM450.6 642.7h6l0 -3.4h-6zM450.6 636h6l0 -3.4h-6zM450.6 612.5h6.1l0 -3.3h-6.1zM450.6 602.5h6.1l0 -3.4h-6.1zM450.6 599.1h6.1l0 -3.3h-6.1zM450.6 589.1h6.1l0 -3.4h-6.1zM450.6 552.2h6.1l0 -3.4h-6.1zM456.5 682.9h6l0 -3.4h-6zM456.6 639.4h6l0 -3.4h-6zM456.7 589.1h6.1l0 -3.4h-6.1zM456.7 552.2h6.1l0 -3.4h-6.1zM462.7 615.9h6.1l0 -3.4h-6.1zM462.7 595.8h6.1l0 -3.4h-6.1zM481 585.8h6.1l0 -3.4h-6.1z"/><path fill="#ebebff" stroke="#ebebff" stroke-width="0.3" d="M366.2 636h6l-.1 -3.4h-6zM366.2 632.6h6l-.1 -3.4h-6zM373 676.2h6l-.1 -3.4h-6zM372.5 652.8h6l-.1 -3.4h-6zM372.5 649.4h6l-.1 -3.4h-6zM372.4 642.7h6l-.1 -3.4h-6zM371.8 612.5h6.1l-.1 -3.3h-6.1zM371.7 605.9h6.1l-.1 -3.4h-6.1zM371.5 595.8h6.1l-.1 -3.4h-6.1zM371.2 579.1h6.1l-.1 -3.4h-6.1zM371.2 575.7h6.1l-.1 -3.4h-6.1zM371.1 572.4h6.1l-.1 -3.4h-6.1zM371 565.6h6.1l-.1 -3.3h-6.1zM370.9 562.3h6.1l-.1 -3.4h-6.1zM370.9 559h6.1l-.1 -3.4h-6.1zM370.7 545.6h6.1l-.1 -3.4h-6.2zM376.9 548.9h6.1l0 -3.3h-6.1zM384.9 676.2h6l0 -3.4h-6zM390.2 629.3h6l0 -3.3h-6zM390 612.5h6.1l0 -3.3h-6.1zM389.9 605.9h6.1l0 -3.4h-6.1zM389.7 592.5h6.1l0 -3.4h-6.1zM389.5 575.7h6.1l0 -3.4h-6.1zM389.4 565.6h6.1l0 -3.3h-6.1zM389.3 562.3h6.1l0 -3.4h-6.1zM389.1 542.2h6.2l0 -3.4h-6.2zM396.8 676.2h6l0 -3.4h-6zM396.8 669.5h6l0 -3.4h-6zM396.7 662.8h6l0 -3.3h-6zM396.6 656.1h6l0 -3.4h-6zM396.1 619.2h6l0 -3.4h-6.1zM396.1 615.9h6.1l0 -3.4h-6.1zM396.1 612.5h6.1l0 -3.3h-6.1zM396 605.9h6.1l0 -3.4h-6.1zM395.9 599.1h6.1l0 -3.3h-6.1zM395.8 589.1h6.1l0 -3.4h-6.1zM395.5 562.3h6.1l0 -3.4h-6.1zM395.4 555.6h6.1l0 -3.4h-6.1zM402.9 682.9h6l0 -3.4h-6zM402.6 659.5h6l0 -3.4h-6zM402.1 612.5h6.1l0 -3.3h-6.1zM401.9 592.5h6.1l0 -3.4h-6.1zM408.8 682.9h6l0 -3.4h-6zM408.8 679.5h6l0 -3.3h-6zM408.4 632.6h6l0 -3.4h-6zM408.1 605.9h6.1l0 -3.4h-6.1zM408 595.8h6.1l0 -3.4h-6.1zM407.8 575.7h6.1l0 -3.4h-6.1zM407.7 565.6h6.1l0 -3.3h-6.1zM407.6 555.6h6.1l0 -3.4h-6.1zM414.9 689.6h6l0 -3.4h-6zM414.8 682.9h6l0 -3.4h-6zM414.7 672.9h6l0 -3.4h-6zM414.6 652.8h6l0 -3.4h-6zM414.4 632.6h6l0 -3.4h-6zM414.3 622.6h6l0 -3.4h-6zM414.3 615.9h6.1l0 -3.4h-6.1zM414.2 609.2h6.1l0 -3.4h-6.1zM414 585.8h6.1l0 -3.4h-6.1zM413.9 575.7h6.1l0 -3.4h-6.1zM413.8 555.6h6.1l0 -3.4h-6.1zM413.7 548.9h6.1l0 -3.3h-6.1zM420.1 579.1h6.1l0 -3.4h-6.1zM419.9 559h6.1l0 -3.4h-6.1zM419.9 548.9h6.1l0 -3.3h-6.1zM419.8 538.9h6.2l0 -3.4h-6.2zM426.7 676.2h6l0 -3.4h-6zM426.7 672.9h6l0 -3.4h-6zM426.6 652.8h6l0 -3.4h-6zM426.4 612.5h6.1l0 -3.3h-6.1zM426.2 585.8h6.1l0 -3.4h-6.1zM426.2 579.1h6.1l0 -3.4h-6.1zM426.1 575.7h6.1l0 -3.4h-6.1zM426.1 562.3h6.1l0 -3.4h-6.1zM426.1 559h6.1l0 -3.4h-6.1zM425.9 538.9h6.2l0 -3.4h-6.2zM432.7 689.6h6l0 -3.4h-6zM432.7 679.5h6l0 -3.3h-6zM432.7 676.2h6l0 -3.4h-6zM432.4 599.1h6.1l0 -3.3h-6.1zM432.3 592.5h6.1l0 -3.4h-6.1zM432.2 569h6.1l0 -3.4h-6.1zM432.2 555.6h6.1l0 -3.4h-6.1zM438.6 662.8h6l0 -3.3h-6zM438.5 642.7h6l0 -3.4h-6zM438.5 629.3h6l0 -3.3h-6zM438.4 582.4h6.1l0 -3.3h-6.1zM438.4 572.4h6.1l0 -3.4h-6.1zM438.3 569h6.1l0 -3.4h-6.1zM438.3 559h6.1l0 -3.4h-6.1zM444.6 686.2h6l0 -3.4h-6zM444.6 656.1h6l0 -3.4h-6zM444.6 642.7h6l0 -3.4h-6zM444.5 622.6h6l0 -3.4h-6zM444.5 609.2h6.1l0 -3.4h-6.1zM444.5 592.5h6.1l0 -3.4h-6.1zM444.5 585.8h6.1l0 -3.4h-6.1zM444.5 579.1h6.1l0 -3.4h-6.1zM444.5 575.7h6.1l0 -3.4h-6.1zM444.4 559h6.1l0 -3.4h-6.1zM444.4 552.2h6.1l0 -3.4h-6.1zM450.6 682.9h6l0 -3.4h-6zM450.6 672.9h6l0 -3.4h-6zM450.6 656.1h6l0 -3.4h-6zM450.6 639.4h6l0 -3.4h-6zM456.6 666.1h6l0 -3.4h-6zM456.7 585.8h6.1l0 -3.4h-6.1zM462.8 565.6h6.1l0 -3.3h-6.1z"/><path fill="#ffd6d6" stroke="#ffd6d6" stroke-width="0.3" d="M365.5 599.1h6.1l-.1 -3.3h-6.1zM401.9 595.8h6.1l0 -3.4h-6.1zM401.8 585.8h6.1l0 -3.4h-6.1zM401.7 575.7h6.1l0 -3.4h-6.1zM408.8 676.2h6l0 -3.4h-6zM420.8 686.2h6l0 -3.4h-6zM420.7 672.9h6l0 -3.4h-6zM420.5 646h6l0 -3.3h-6zM432.6 656.1h6l0 -3.4h-6zM432.5 626h6l0 -3.4h-6zM450.6 619.2h6l0 -3.4h-6.1zM456.6 612.5h6.1l0 -3.3h-6.1zM456.7 555.6h6.1l0 -3.4h-6.1zM462.6 632.6h6l0 -3.4h-6zM462.7 612.5h6.1l0 -3.3h-6.1zM462.8 555.6h6.1l0 -3.4h-6.1zM462.9 545.6h6.1l0 -3.4h-6.2zM468.6 652.8h6l0 -3.4h-6zM468.6 646h6l0 -3.3h-6zM468.6 642.7h6l0 -3.4h-6zM468.7 636h6l0 -3.4h-6zM468.7 629.3h6l0 -3.3h-6zM468.8 612.5h6.1l0 -3.3h-6.1zM468.8 602.5h6.1l0 -3.4h-6.1zM468.8 592.5h6.1l0 -3.4h-6.1zM468.9 565.6h6.1l0 -3.3h-6.1zM469 562.3h6.1l0 -3.4h-6.1zM469 559h6.1l0 -3.4h-6.1zM474.5 676.2h6l0 -3.4h-6zM474.6 656.1h6l0 -3.4h-6zM474.8 622.6h6l0 -3.4h-6zM474.8 615.9h6.1l0 -3.4h-6.1zM474.8 605.9h6.1l0 -3.4h-6.1zM474.9 592.5h6.1l0 -3.4h-6.1zM474.9 589.1h6.1l0 -3.4h-6.1zM475 585.8h6.1l0 -3.4h-6.1zM475.1 555.6h6.1l0 -3.4h-6.1zM475.2 542.2h6.2l0 -3.4h-6.2zM480.5 669.5h6l0 -3.4h-6zM480.7 632.6h6l0 -3.4h-6zM480.8 622.6h6l0 -3.4h-6zM480.8 619.2h6l0 -3.4h-6.1zM481 599.1h6.1l0 -3.3h-6.1zM481 592.5h6.1l0 -3.4h-6.1zM481.2 559h6.1l0 -3.4h-6.1zM481.3 552.2h6.1l0 -3.4h-6.1zM481.3 542.2h6.2l0 -3.4h-6.2z"/><path fill="#c2c2ff" stroke="#c2c2ff" stroke-width="0.3" d="M373.2 689.6h6l-.1 -3.4h-6zM372 619.2h6l-.1 -3.4h-6.1zM371.6 599.1h6.1l-.1 -3.3h-6.1zM379 682.9h6l0 -3.4h-6zM378.8 666.1h6l0 -3.4h-6zM378.5 649.4h6l0 -3.4h-6zM378.4 646h6l0 -3.3h-6zM378.1 626h6l0 -3.4h-6zM378 619.2h6l0 -3.4h-6.1zM377.9 615.9h6.1l0 -3.4h-6.1zM377.9 612.5h6.1l0 -3.3h-6.1zM377.2 569h6.1l0 -3.4h-6.1zM376.7 542.2h6.2l0 -3.4h-6.2zM376.7 538.9h6.2l0 -3.4h-6.2zM385 682.9h6l0 -3.4h-6zM384.6 656.1h6l0 -3.4h-6zM384.4 646h6l0 -3.3h-6zM384.3 636h6l0 -3.4h-6zM384 619.2h6l0 -3.4h-6.1zM383.6 592.5h6.1l0 -3.4h-6.1zM383.6 589.1h6.1l0 -3.4h-6.1zM390.9 679.5h6l0 -3.3h-6zM390.5 646h6l0 -3.3h-6zM390.4 642.7h6l0 -3.4h-6zM390.2 626h6l0 -3.4h-6zM390.1 619.2h6l0 -3.4h-6.1zM390 609.2h6.1l0 -3.4h-6.1zM389.5 572.4h6.1l0 -3.4h-6.1zM389.2 555.6h6.1l0 -3.4h-6.1z"/><path fill="#e0e0ff" stroke="#e0e0ff" stroke-width="0.3" d="M373.1 686.2h6l-.1 -3.4h-6zM373.1 682.9h6l-.1 -3.4h-6zM372.9 672.9h6l-.1 -3.4h-6zM372.3 639.4h6l-.1 -3.4h-6zM372.2 636h6l-.1 -3.4h-6zM372.1 626h6l-.1 -3.4h-6zM370.5 538.9h6.2l-.1 -3.4h-6.2zM378.9 672.9h6l0 -3.4h-6zM378.2 629.3h6l0 -3.3h-6zM377.8 609.2h6.1l0 -3.4h-6.1zM384 615.9h6.1l0 -3.4h-6.1zM383.7 599.1h6.1l0 -3.3h-6.1zM383.5 582.4h6.1l0 -3.3h-6.1zM383.4 575.7h6.1l0 -3.4h-6.1zM383.1 559h6.1l0 -3.4h-6.1zM382.8 538.9h6.2l0 -3.4h-6.2zM391.1 689.6h6l0 -3.4h-6zM390.9 676.2h6l0 -3.4h-6zM390.7 666.1h6l0 -3.4h-6zM390.3 636h6l0 -3.4h-6zM390.3 632.6h6l0 -3.4h-6zM390.1 615.9h6.1l0 -3.4h-6.1zM389.9 602.5h6.1l0 -3.4h-6.1zM389.4 569h6.1l0 -3.4h-6.1zM389.2 552.2h6.1l0 -3.4h-6.1zM397 686.2h6l0 -3.4h-6zM396.8 672.9h6l0 -3.4h-6zM396.4 642.7h6l0 -3.4h-6zM396 609.2h6.1l0 -3.4h-6.1zM395.7 582.4h6.1l0 -3.3h-6.1zM395.6 572.4h6.1l0 -3.4h-6.1zM395.2 545.6h6.1l0 -3.4h-6.2zM395.2 538.9h6.2l0 -3.4h-6.2zM402.7 669.5h6l0 -3.4h-6zM402.5 649.4h6l0 -3.4h-6zM408.5 642.7h6l0 -3.4h-6zM408.3 622.6h6l0 -3.4h-6zM408 592.5h6.1l0 -3.4h-6.1zM414.8 679.5h6l0 -3.3h-6zM414.8 676.2h6l0 -3.4h-6zM414.4 629.3h6l0 -3.3h-6zM414.2 602.5h6.1l0 -3.4h-6.1zM414.1 595.8h6.1l0 -3.4h-6.1zM420.2 599.1h6.1l0 -3.3h-6.1zM426.7 682.9h6l0 -3.4h-6zM426.6 656.1h6l0 -3.4h-6zM426.6 649.4h6l0 -3.4h-6zM426.5 646h6l0 -3.3h-6zM426.5 632.6h6l0 -3.4h-6zM426.4 629.3h6l0 -3.3h-6zM426.3 602.5h6.1l0 -3.4h-6.1zM426.3 595.8h6.1l0 -3.4h-6.1zM426.1 569h6.1l0 -3.4h-6.1zM426.1 565.6h6.1l0 -3.3h-6.1zM426 555.6h6.1l0 -3.4h-6.1zM426 548.9h6.1l0 -3.3h-6.1zM426 545.6h6.1l0 -3.4h-6.2zM432.7 686.2h6l0 -3.4h-6zM432.5 639.4h6l0 -3.4h-6zM438.6 679.5h6l0 -3.3h-6zM438.5 612.5h6.1l0 -3.3h-6.1zM438.5 609.2h6.1l0 -3.4h-6.1zM438.4 605.9h6.1l0 -3.4h-6.1zM438.4 599.1h6.1l0 -3.3h-6.1zM438.4 595.8h6.1l0 -3.4h-6.1zM438.4 592.5h6.1l0 -3.4h-6.1zM438.4 589.1h6.1l0 -3.4h-6.1zM438.4 575.7h6.1l0 -3.4h-6.1zM438.3 565.6h6.1l0 -3.3h-6.1zM438.3 555.6h6.1l0 -3.4h-6.1zM438.3 545.6h6.1l0 -3.4h-6.2zM438.3 542.2h6.2l0 -3.4h-6.2zM444.6 689.6h6l0 -3.4h-6zM444.6 669.5h6l0 -3.4h-6zM444.5 626h6l0 -3.4h-6zM444.5 619.2h6l0 -3.4h-6.1zM444.5 615.9h6.1l0 -3.4h-6.1zM444.5 569h6.1l0 -3.4h-6.1zM444.4 538.9h6.2l0 -3.4h-6.2z"/><path fill="#d6d6ff" stroke="#d6d6ff" stroke-width="0.3" d="M373 679.5h6l-.1 -3.3h-6zM372.4 646h6l-.1 -3.3h-6zM372.2 632.6h6l-.1 -3.4h-6zM372.1 629.3h6l-.1 -3.3h-6zM371.5 592.5h6.1l-.1 -3.4h-6.1zM371.4 589.1h6.1l-.1 -3.4h-6.1zM379.1 689.6h6l0 -3.4h-6zM379 679.5h6l0 -3.3h-6zM378.5 652.8h6l0 -3.4h-6zM378.4 642.7h6l0 -3.4h-6zM378.2 632.6h6l0 -3.4h-6zM377.7 602.5h6.1l0 -3.4h-6.1zM377.5 589.1h6.1l0 -3.4h-6.1zM377.5 585.8h6.1l0 -3.4h-6.1zM377 555.6h6.1l0 -3.4h-6.1zM385 686.2h6l0 -3.4h-6zM384.9 679.5h6l0 -3.3h-6zM384.7 662.8h6l0 -3.3h-6zM384.5 652.8h6l0 -3.4h-6zM384.3 639.4h6l0 -3.4h-6zM383.8 605.9h6.1l0 -3.4h-6.1zM383.8 602.5h6.1l0 -3.4h-6.1zM383.5 585.8h6.1l0 -3.4h-6.1zM383.3 569h6.1l0 -3.4h-6.1zM383 548.9h6.1l0 -3.3h-6.1zM390.8 669.5h6l0 -3.4h-6zM390.7 662.8h6l0 -3.3h-6zM390.6 659.5h6l0 -3.4h-6zM390.5 649.4h6l0 -3.4h-6zM390.1 622.6h6l0 -3.4h-6zM389.6 582.4h6.1l0 -3.3h-6.1zM389.6 579.1h6.1l0 -3.4h-6.1zM389.1 548.9h6.1l0 -3.3h-6.1zM389.1 545.6h6.1l0 -3.4h-6.2zM396.3 632.6h6l0 -3.4h-6zM396.2 622.6h6l0 -3.4h-6zM395.7 585.8h6.1l0 -3.4h-6.1zM395.6 575.7h6.1l0 -3.4h-6.1zM395.3 552.2h6.1l0 -3.4h-6.1zM395.3 548.9h6.1l0 -3.3h-6.1zM408.7 666.1h6l0 -3.4h-6zM407.8 569h6.1l0 -3.4h-6.1zM414.2 612.5h6.1l0 -3.3h-6.1zM414.1 599.1h6.1l0 -3.3h-6.1zM413.8 559h6.1l0 -3.4h-6.1zM426.8 686.2h6l0 -3.4h-6zM426.3 599.1h6.1l0 -3.3h-6.1zM426.2 589.1h6.1l0 -3.4h-6.1zM426 552.2h6.1l0 -3.4h-6.1zM438.7 686.2h6l0 -3.4h-6zM438.6 676.2h6l0 -3.4h-6zM438.5 622.6h6l0 -3.4h-6zM438.4 585.8h6.1l0 -3.4h-6.1zM438.3 562.3h6.1l0 -3.4h-6.1zM438.3 538.9h6.2l0 -3.4h-6.2zM444.6 659.5h6l0 -3.4h-6zM444.5 629.3h6l0 -3.3h-6zM444.5 589.1h6.1l0 -3.4h-6.1zM456.7 545.6h6.1l0 -3.4h-6.2z"/><path fill="#ccccff" stroke="#ccccff" stroke-width="0.3" d="M372.8 669.5h6l-.1 -3.4h-6zM371.9 615.9h6.1l-.1 -3.4h-6.1zM371.7 602.5h6.1l-.1 -3.4h-6.1zM370.8 555.6h6.1l-.1 -3.4h-6.1zM370.6 542.2h6.2l-.1 -3.4h-6.2zM378.8 669.5h6l0 -3.4h-6zM378.7 662.8h6l0 -3.3h-6zM378.7 659.5h6l0 -3.4h-6zM378.6 656.1h6l0 -3.4h-6zM378.3 639.4h6l0 -3.4h-6zM377.6 592.5h6.1l0 -3.4h-6.1zM377.4 582.4h6.1l0 -3.3h-6.1zM377.3 579.1h6.1l0 -3.4h-6.1zM377.3 575.7h6.1l0 -3.4h-6.1zM377.2 572.4h6.1l0 -3.4h-6.1zM377.1 565.6h6.1l0 -3.3h-6.1zM377.1 562.3h6.1l0 -3.4h-6.1zM377 559h6.1l0 -3.4h-6.1zM376.9 552.2h6.1l0 -3.4h-6.1zM376.8 545.6h6.1l0 -3.4h-6.2zM385.1 689.6h6l0 -3.4h-6zM384.7 666.1h6l0 -3.4h-6zM384.6 659.5h6l0 -3.4h-6zM384.5 649.4h6l0 -3.4h-6zM384.2 632.6h6l0 -3.4h-6zM384.2 629.3h6l0 -3.3h-6zM384.1 626h6l0 -3.4h-6zM383.9 609.2h6.1l0 -3.4h-6.1zM383.2 562.3h6.1l0 -3.4h-6.1zM383.1 555.6h6.1l0 -3.4h-6.1zM383 552.2h6.1l0 -3.4h-6.1zM382.9 545.6h6.1l0 -3.4h-6.2zM382.9 542.2h6.2l0 -3.4h-6.2zM391 686.2h6l0 -3.4h-6zM390.8 672.9h6l0 -3.4h-6zM389.8 599.1h6.1l0 -3.3h-6.1zM389.7 589.1h6.1l0 -3.4h-6.1zM389.6 585.8h6.1l0 -3.4h-6.1zM389.3 559h6.1l0 -3.4h-6.1zM389 538.9h6.2l0 -3.4h-6.2zM397 689.6h6l0 -3.4h-6zM396.9 682.9h6l0 -3.4h-6zM396.4 636h6l0 -3.4h-6zM396.3 629.3h6l0 -3.3h-6zM426.8 689.6h6l0 -3.4h-6zM426.7 679.5h6l0 -3.3h-6zM426.2 582.4h6.1l0 -3.3h-6.1zM426.1 572.4h6.1l0 -3.4h-6.1zM438.4 579.1h6.1l0 -3.4h-6.1z"/><path fill="#adadff" stroke="#adadff" stroke-width="0.3" d="M379.1 686.2h6l0 -3.4h-6zM378.1 622.6h6l0 -3.4h-6zM383.7 595.8h6.1l0 -3.4h-6.1z"/><path fill="#b8b8ff" stroke="#b8b8ff" stroke-width="0.3" d="M378.9 676.2h6l0 -3.4h-6zM378.3 636h6l0 -3.4h-6zM377.8 605.9h6.1l0 -3.4h-6.1zM377.7 599.1h6.1l0 -3.3h-6.1zM377.6 595.8h6.1l0 -3.4h-6.1zM384.8 669.5h6l0 -3.4h-6zM383.9 612.5h6.1l0 -3.3h-6.1zM383.3 572.4h6.1l0 -3.4h-6.1zM383.2 565.6h6.1l0 -3.3h-6.1zM390.6 656.1h6l0 -3.4h-6zM390.6 652.8h6l0 -3.4h-6zM390.4 639.4h6l0 -3.4h-6zM389.8 595.8h6.1l0 -3.4h-6.1zM426.2 592.5h6.1l0 -3.4h-6.1z"/><path fill="#a3a3ff" stroke="#a3a3ff" stroke-width="0.3" d="M384.8 672.9h6l0 -3.4h-6zM384.1 622.6h6l0 -3.4h-6zM383.4 579.1h6.1l0 -3.4h-6.1z"/><path fill="#ffcccc" stroke="#ffcccc" stroke-width="0.3" d="M456.6 605.9h6.1l0 -3.4h-6.1zM456.7 572.4h6.1l0 -3.4h-6.1zM462.5 686.2h6l0 -3.4h-6zM468.5 682.9h6l0 -3.4h-6zM468.5 666.1h6l0 -3.4h-6zM468.8 599.1h6.1l0 -3.3h-6.1zM468.8 589.1h6.1l0 -3.4h-6.1zM469 545.6h6.1l0 -3.4h-6.2zM474.6 652.8h6l0 -3.4h-6zM474.6 649.4h6l0 -3.4h-6zM474.9 602.5h6.1l0 -3.4h-6.1zM474.9 595.8h6.1l0 -3.4h-6.1zM475 582.4h6.1l0 -3.3h-6.1zM475 575.7h6.1l0 -3.4h-6.1zM475 569h6.1l0 -3.4h-6.1zM475.2 538.9h6.2l0 -3.4h-6.2zM480.4 679.5h6l0 -3.3h-6z"/><path fill="#ffc2c2" stroke="#ffc2c2" stroke-width="0.3" d="M468.4 689.6h6l0 -3.4h-6zM468.9 575.7h6.1l0 -3.4h-6.1zM474.6 646h6l0 -3.3h-6zM474.7 632.6h6l0 -3.4h-6zM475.1 559h6.1l0 -3.4h-6.1zM480.9 605.9h6.1l0 -3.4h-6.1zM481 589.1h6.1l0 -3.4h-6.1zM481.2 569h6.1l0 -3.4h-6.1z"/><path fill="#ffb8b8" stroke="#ffb8b8" stroke-width="0.3" d="M468.6 662.8h6l0 -3.3h-6zM468.9 579.1h6.1l0 -3.4h-6.1z"/><path fill="none" stroke="#8a8a8a" stroke-width="0.7" d="M367.2 689.6L367.1 682.9L367.0 676.2L366.9 669.5L366.7 662.8L366.6 656.1L366.5 649.4L366.3 642.7L366.2 636.0L366.1 629.3L366.0 622.6L365.8 615.9L365.7 609.2L365.6 602.5L365.5 595.8L365.3 589.1L365.2 582.4L365.1 575.7L365.0 569.0L364.8 562.3L364.7 555.6L364.6 548.9L364.4 542.2L364.3 535.5M373.2 689.6L373.1 682.9L373.0 676.2L372.8 669.5L372.7 662.8L372.6 656.1L372.5 649.4L372.4 642.7L372.2 636.0L372.1 629.3L372.0 622.6L371.9 615.9L371.8 609.2L371.7 602.5L371.5 595.8L371.4 589.1L371.3 582.4L371.2 575.7L371.1 569.0L370.9 562.3L370.8 555.6L370.7 548.9L370.6 542.2L370.5 535.5M379.1 689.6L379.0 682.9L378.9 676.2L378.8 669.5L378.7 662.8L378.6 656.1L378.5 649.4L378.4 642.7L378.3 636.0L378.2 629.3L378.1 622.6L377.9 615.9L377.8 609.2L377.7 602.5L377.6 595.8L377.5 589.1L377.4 582.4L377.3 575.7L377.2 569.0L377.1 562.3L377.0 555.6L376.9 548.9L376.7 542.2L376.6 535.5M385.1 689.6L385.0 682.9L384.9 676.2L384.8 669.5L384.7 662.8L384.6 656.1L384.5 649.4L384.4 642.7L384.3 636.0L384.2 629.3L384.1 622.6L384.0 615.9L383.9 609.2L383.8 602.5L383.7 595.8L383.6 589.1L383.5 582.4L383.4 575.7L383.3 569.0L383.2 562.3L383.1 555.6L383.0 548.9L382.9 542.2L382.8 535.5M391.1 689.6L391.0 682.9L390.9 676.2L390.8 669.5L390.7 662.8L390.6 656.1L390.5 649.4L390.4 642.7L390.3 636.0L390.2 629.3L390.1 622.6L390.1 615.9L390.0 609.2L389.9 602.5L389.8 595.8L389.7 589.1L389.6 582.4L389.5 575.7L389.4 569.0L389.3 562.3L389.2 555.6L389.1 548.9L389.1 542.2L389.0 535.5M397.0 689.6L396.9 682.9L396.8 676.2L396.8 669.5L396.7 662.8L396.6 656.1L396.5 649.4L396.4 642.7L396.4 636.0L396.3 629.3L396.2 622.6L396.1 615.9L396.0 609.2L395.9 602.5L395.9 595.8L395.8 589.1L395.7 582.4L395.6 575.7L395.5 569.0L395.5 562.3L395.4 555.6L395.3 548.9L395.2 542.2L395.1 535.5M403.0 689.6L402.9 682.9L402.8 676.2L402.7 669.5L402.7 662.8L402.6 656.1L402.5 649.4L402.4 642.7L402.4 636.0L402.3 629.3L402.2 622.6L402.2 615.9L402.1 609.2L402.0 602.5L401.9 595.8L401.9 589.1L401.8 582.4L401.7 575.7L401.6 569.0L401.6 562.3L401.5 555.6L401.4 548.9L401.4 542.2L401.3 535.5M408.9 689.6L408.8 682.9L408.8 676.2L408.7 669.5L408.7 662.8L408.6 656.1L408.5 649.4L408.5 642.7L408.4 636.0L408.3 629.3L408.3 622.6L408.2 615.9L408.1 609.2L408.1 602.5L408.0 595.8L408.0 589.1L407.9 582.4L407.8 575.7L407.8 569.0L407.7 562.3L407.6 555.6L407.6 548.9L407.5 542.2L407.4 535.5M414.9 689.6L414.8 682.9L414.8 676.2L414.7 669.5L414.6 662.8L414.6 656.1L414.5 649.4L414.5 642.7L414.4 636.0L414.4 629.3L414.3 622.6L414.3 615.9L414.2 609.2L414.2 602.5L414.1 595.8L414.0 589.1L414.0 582.4L413.9 575.7L413.9 569.0L413.8 562.3L413.8 555.6L413.7 548.9L413.7 542.2L413.6 535.5M420.8 689.6L420.8 682.9L420.7 676.2L420.7 669.5L420.6 662.8L420.6 656.1L420.5 649.4L420.5 642.7L420.5 636.0L420.4 629.3L420.4 622.6L420.3 615.9L420.3 609.2L420.2 602.5L420.2 595.8L420.1 589.1L420.1 582.4L420.0 575.7L420.0 569.0L420.0 562.3L419.9 555.6L419.9 548.9L419.8 542.2L419.8 535.5M426.8 689.6L426.7 682.9L426.7 676.2L426.7 669.5L426.6 662.8L426.6 656.1L426.6 649.4L426.5 642.7L426.5 636.0L426.4 629.3L426.4 622.6L426.4 615.9L426.3 609.2L426.3 602.5L426.3 595.8L426.2 589.1L426.2 582.4L426.1 575.7L426.1 569.0L426.1 562.3L426.0 555.6L426.0 548.9L426.0 542.2L425.9 535.5M432.7 689.6L432.7 682.9L432.7 676.2L432.6 669.5L432.6 662.8L432.6 656.1L432.6 649.4L432.5 642.7L432.5 636.0L432.5 629.3L432.4 622.6L432.4 615.9L432.4 609.2L432.4 602.5L432.3 595.8L432.3 589.1L432.3 582.4L432.3 575.7L432.2 569.0L432.2 562.3L432.2 555.6L432.1 548.9L432.1 542.2L432.1 535.5M438.7 689.6L438.7 682.9L438.6 676.2L438.6 669.5L438.6 662.8L438.6 656.1L438.6 649.4L438.5 642.7L438.5 636.0L438.5 629.3L438.5 622.6L438.5 615.9L438.5 609.2L438.4 602.5L438.4 595.8L438.4 589.1L438.4 582.4L438.4 575.7L438.3 569.0L438.3 562.3L438.3 555.6L438.3 548.9L438.3 542.2L438.3 535.5M444.6 689.6L444.6 682.9L444.6 676.2L444.6 669.5L444.6 662.8L444.6 656.1L444.6 649.4L444.6 642.7L444.6 636.0L444.5 629.3L444.5 622.6L444.5 615.9L444.5 609.2L444.5 602.5L444.5 595.8L444.5 589.1L444.5 582.4L444.5 575.7L444.5 569.0L444.5 562.3L444.4 555.6L444.4 548.9L444.4 542.2L444.4 535.5M450.6 689.6L450.6 682.9L450.6 676.2L450.6 669.5L450.6 662.8L450.6 656.1L450.6 649.4L450.6 642.7L450.6 636.0L450.6 629.3L450.6 622.6L450.6 615.9L450.6 609.2L450.6 602.5L450.6 595.8L450.6 589.1L450.6 582.4L450.6 575.7L450.6 569.0L450.6 562.3L450.6 555.6L450.6 548.9L450.6 542.2L450.6 535.5M456.5 689.6L456.5 682.9L456.6 676.2L456.6 669.5L456.6 662.8L456.6 656.1L456.6 649.4L456.6 642.7L456.6 636.0L456.6 629.3L456.6 622.6L456.6 615.9L456.6 609.2L456.7 602.5L456.7 595.8L456.7 589.1L456.7 582.4L456.7 575.7L456.7 569.0L456.7 562.3L456.7 555.6L456.7 548.9L456.7 542.2L456.7 535.5M462.5 689.6L462.5 682.9L462.5 676.2L462.5 669.5L462.6 662.8L462.6 656.1L462.6 649.4L462.6 642.7L462.6 636.0L462.7 629.3L462.7 622.6L462.7 615.9L462.7 609.2L462.7 602.5L462.7 595.8L462.8 589.1L462.8 582.4L462.8 575.7L462.8 569.0L462.8 562.3L462.8 555.6L462.9 548.9L462.9 542.2L462.9 535.5M468.4 689.6L468.5 682.9L468.5 676.2L468.5 669.5L468.6 662.8L468.6 656.1L468.6 649.4L468.6 642.7L468.7 636.0L468.7 629.3L468.7 622.6L468.7 615.9L468.8 609.2L468.8 602.5L468.8 595.8L468.8 589.1L468.9 582.4L468.9 575.7L468.9 569.0L469.0 562.3L469.0 555.6L469.0 548.9L469.0 542.2L469.1 535.5M474.4 689.6L474.4 682.9L474.5 676.2L474.5 669.5L474.5 662.8L474.6 656.1L474.6 649.4L474.6 642.7L474.7 636.0L474.7 629.3L474.8 622.6L474.8 615.9L474.8 609.2L474.9 602.5L474.9 595.8L474.9 589.1L475.0 582.4L475.0 575.7L475.0 569.0L475.1 562.3L475.1 555.6L475.2 548.9L475.2 542.2L475.2 535.5M480.3 689.6L480.4 682.9L480.4 676.2L480.5 669.5L480.5 662.8L480.6 656.1L480.6 649.4L480.7 642.7L480.7 636.0L480.8 629.3L480.8 622.6L480.8 615.9L480.9 609.2L480.9 602.5L481.0 595.8L481.0 589.1L481.1 582.4L481.1 575.7L481.2 569.0L481.2 562.3L481.2 555.6L481.3 548.9L481.3 542.2L481.4 535.5M486.3 689.6L486.4 682.9L486.4 676.2L486.5 669.5L486.5 662.8L486.6 656.1L486.6 649.4L486.7 642.7L486.7 636.0L486.8 629.3L486.8 622.6L486.9 615.9L487.0 609.2L487.0 602.5L487.1 595.8L487.1 589.1L487.2 582.4L487.2 575.7L487.3 569.0L487.3 562.3L487.4 555.6L487.4 548.9L487.5 542.2L487.5 535.5"/><path fill="#ccccff" stroke="#ccccff" stroke-width="0.3" d="M342.3 1004h5.6l.2 -4h-5.7zM355.6 979.9h6.4l.5 -4h-6.6zM356.3 971.8h6.7l.5 -4h-6.8zM359.8 931.6h8.1l.5 -4h-8.2zM364.9 955.8h5.1l.5 -4h-5.1zM365.9 947.7h5.1l.5 -4h-5zM368.9 923.6h4.9l.5 -4h-4.8zM370.9 907.5h4.7l.5 -4h-4.7zM371.9 899.5h4.6l.5 -4h-4.6zM373.4 887.4h4.5l.5 -4h-4.5zM373.9 883.4h4.5l.5 -4h-4.5zM381.8 819.1h3.9l.5 -4h-3.9zM378.2 967.8h4.4l.2 -4h-4.3zM464.9 1000h5.5l-.1 -4h-5.5zM455.9 883.4h6.4l-.4 -4h-6.5zM455.3 879.4h6.5l-.4 -4h-6.6zM445.1 819.1h9.7l-.5 -4h-10zM468.4 955.8h5.4l-.2 -4h-5.5zM461.4 875.4h7.4l-.3 -4h-7.5zM461 871.3h7.5l-.3 -4h-7.7zM454.8 819.1h10l-.3 -4h-10.2zM474.3 963.8h6.4l-.1 -4h-6.5zM469.9 891.4h9l-.1 -4h-9.2zM469.1 879.4h9.5l-.1 -4h-9.7zM481.5 996h5.7l0 -4h-5.7zM481.3 987.9h5.8l0 -4h-5.9zM481.1 979.9h5.9l0 -4h-6zM486.5 919.6h6.5l0 -4h-6.6zM486.2 887.4h6.9l0 -4h-6.9zM486.1 875.4h7l0 -4h-7.1zM485.8 839.2h7.4l0 -4h-7.5zM492.8 987.9h5.5l0 -4h-5.4zM492.9 983.9h5.4l0 -4h-5.4zM492.9 979.9h5.4l0 -4h-5.4zM492.9 955.8h5.2l0 -4h-5.2zM498.3 996h5.5l0 -4h-5.5zM498.3 979.9h5.4l0 -4h-5.4zM498.2 971.8h5.3l0 -4h-5.3z"/><path fill="#e0e0ff" stroke="#e0e0ff" stroke-width="0.3" d="M342.3 1000h5.7l.2 -4h-5.9zM348.5 991.9h6l.4 -4h-6.1zM369.4 919.6h4.8l.5 -4h-4.8zM369.9 915.6h4.8l.5 -4h-4.7zM376.4 863.3h4.3l.5 -4h-4.3zM377.8 851.2h4.2l.5 -4h-4.2zM379.8 835.2h4.1l.5 -4h-4zM383.3 807h3.8l.5 -4h-3.8zM384.9 863.3h3.5l.4 -4h-3.5zM387.9 835.2h3.6l.5 -4h-3.6zM381.3 1004h5.6l0 -4h-5.5zM464.9 1004h5.6l-.1 -4h-5.5zM463.5 959.8h5.2l-.3 -4h-5.2zM463 951.7h5.2l-.3 -4h-5.2zM462.7 947.7h5.2l-.3 -4h-5.2zM462.4 943.7h5.2l-.3 -4h-5.2zM461.4 931.6h5.3l-.3 -4h-5.3zM459.4 911.5h5.6l-.4 -4h-5.7zM452.3 859.3h7.3l-.5 -4h-7.5zM447.4 831.1h8.9l-.5 -4h-9.2zM470.5 1000h5.5l-.1 -4h-5.5zM470.2 991.9h5.4l-.2 -4h-5.4zM462.3 883.4h7.1l-.3 -4h-7.2zM459.2 855.3h8.2l-.3 -4h-8.4zM458.3 847.2h8.6l-.3 -4h-8.8zM476 1000h5.6l-.1 -4h-5.7zM473.6 951.7h6.8l-.1 -4h-6.9zM472.9 939.7h7.2l-.1 -4h-7.3zM471.7 919.6h7.9l-.1 -4h-8.1zM471.4 915.6h8.1l-.1 -4h-8.2zM470.7 903.5h8.6l-.1 -4h-8.7zM487.1 983.9h5.8l0 -4h-5.8zM486.9 967.8h6l0 -4h-6zM498.3 991.9h5.5l0 -4h-5.5zM498.3 987.9h5.5l0 -4h-5.4zM504 1004h5.6l-.1 -4h-5.5z"/><path fill="#f5f5ff" stroke="#f5f5ff" stroke-width="0.3" d="M342.6 987.9h6.1l.2 -4h-6.3zM347.8 1004h5.6l.4 -4h-5.7zM366.4 943.7h5l.5 -4h-5zM375.9 867.3h4.4l.5 -4h-4.3zM366.4 987.9h5.3l.4 -4h-5.3zM368.2 971.8h5.2l.4 -4h-5.1zM376.1 903.5h4.5l.4 -4h-4.5zM376.5 899.5h4.5l.4 -4h-4.5zM377.4 891.4h4.4l.4 -4h-4.4zM378.4 883.4h4.4l.4 -4h-4.3zM374.3 963.8h4.3l.3 -4h-4.2zM375.1 955.8h4.1l.4 -4h-4.1zM377.6 931.6h3.8l.4 -4h-3.8zM378 927.6h3.8l.4 -4h-3.7zM386.2 851.2h3.5l.4 -4h-3.5zM388.8 827.1h3.6l.5 -4h-3.6zM390.9 807h3.7l.5 -4h-3.8zM378.9 959.8h4.2l.3 -4h-4.1zM383.4 911.5h3.4l.4 -4h-3.4zM385.8 887.4h3.3l.4 -4h-3.2zM386.7 879.4h3.2l.4 -4h-3.2zM390.1 847.2h3.3l.5 -4h-3.3zM390.6 843.2h3.3l.5 -4h-3.4zM381.9 983.9h5.2l.1 -4h-5.2zM383.6 951.7h4.6l.2 -4h-4.5zM386.8 911.5h3.9l.3 -4h-3.8zM395.3 831.1h3.5l.5 -4h-3.5zM387.1 983.9h5.4l0 -4h-5.4zM464.8 991.9h5.4l-.1 -4h-5.4zM464.6 983.9h5.3l-.2 -4h-5.3zM464.1 971.8h5.2l-.2 -4h-5.2zM460.2 919.6h5.4l-.3 -4h-5.5zM458.9 907.5h5.7l-.4 -4h-5.8zM458.5 903.5h5.8l-.4 -4h-5.9zM457.5 895.5h6l-.4 -4h-6.1zM451.7 855.3h7.5l-.5 -4h-7.7zM446.7 827.1h9.2l-.5 -4h-9.4zM470.1 987.9h5.4l-.2 -4h-5.4zM469.6 975.9h5.3l-.2 -4h-5.3zM469.4 971.8h5.3l-.2 -4h-5.3zM467 935.7h5.7l-.2 -4h-5.8zM465 911.5h6.2l-.3 -4h-6.3zM462.7 887.4h7l-.3 -4h-7.1zM474.5 967.8h6.3l-.1 -4h-6.4zM473.4 947.7h6.9l-.1 -4h-7.1zM471.9 923.6h7.8l-.1 -4h-7.9zM498.4 1000h5.5l0 -4h-5.5z"/><path fill="#d6d6ff" stroke="#d6d6ff" stroke-width="0.3" d="M342.6 983.9h6.3l.2 -4h-6.4zM342.7 979.9h6.4l.2 -4h-6.6zM343 963.8h7l.2 -4h-7.1zM348.9 983.9h6.3l.4 -4h-6.4zM349.4 975.9h6.6l.4 -4h-6.7zM351.9 927.6h8.2l.4 -4h-8.4zM354.8 987.9h6.1l.5 -4h-6.3zM368.4 927.6h4.9l.5 -4h-4.9zM370.4 911.5h4.7l.5 -4h-4.7zM372.9 891.4h4.6l.5 -4h-4.5zM375.4 871.3h4.4l.5 -4h-4.4zM378.8 843.2h4.1l.5 -4h-4.1zM380.3 831.1h4l.5 -4h-4zM370.1 955.8h5l.4 -4h-5zM381.1 859.3h4.2l.4 -4h-4.2zM387.9 899.5h3.7l.3 -4h-3.7zM462.1 939.7h5.2l-.3 -4h-5.2zM461.7 935.7h5.2l-.3 -4h-5.3zM454.8 875.4h6.6l-.4 -4h-6.8zM454.2 871.3h6.8l-.4 -4h-7zM451 851.2h7.7l-.5 -4h-8zM450.3 847.2h8l-.5 -4h-8.2zM449.6 843.2h8.2l-.5 -4h-8.4zM448.9 839.2h8.4l-.5 -4h-8.7zM445.9 823.1h9.4l-.5 -4h-9.7zM467.9 947.7h5.5l-.2 -4h-5.6zM465.7 919.6h6l-.3 -4h-6.1zM460.6 867.3h7.7l-.3 -4h-7.9zM455.9 827.1h9.6l-.3 -4h-9.8zM476.1 1004h5.6l-.1 -4h-5.6zM475.8 996h5.7l-.1 -4h-5.7zM475.5 987.9h5.8l-.1 -4h-5.9zM473.1 943.7h7.1l-.1 -4h-7.2zM471.2 911.5h8.2l-.1 -4h-8.4zM468.3 867.3h10.1l-.1 -4h-10.2zM481.7 1004h5.6l0 -4h-5.6zM481 975.9h6l0 -4h-6zM487.2 1000h5.6l0 -4h-5.7zM487.1 991.9h5.7l0 -4h-5.8zM486.8 955.8h6.1l0 -4h-6.2zM492.9 971.8h5.3l0 -4h-5.3zM503.8 987.9h5.5l-.1 -4h-5.4zM503.7 983.9h5.4l-.1 -4h-5.4zM503.6 975.9h5.4l-.1 -4h-5.3zM503.6 971.8h5.3l-.1 -4h-5.3z"/><path fill="#c2c2ff" stroke="#c2c2ff" stroke-width="0.3" d="M342.8 975.9h6.6l.2 -4h-6.7zM349.6 971.8h6.7l.4 -4h-6.8zM350.9 947.7h7.5l.4 -4h-7.7zM354.5 991.9h6l.5 -4h-6.1zM355.2 983.9h6.3l.5 -4h-6.4zM357.3 959.8h7.1l.5 -4h-7.3zM357.7 955.8h7.3l.5 -4h-7.4zM371.4 903.5h4.7l.5 -4h-4.6zM374.4 879.4h4.5l.5 -4h-4.4zM380.8 827.1h4l.5 -4h-4zM381.3 823.1h4l.5 -4h-3.9zM382.3 815.1h3.9l.5 -4h-3.8zM382.2 975.9h5.1l.1 -4h-5zM444.3 815.1h10l-.5 -4h-10.3zM456.4 831.1h9.4l-.3 -4h-9.6zM472.4 931.6h7.5l-.1 -4h-7.6zM470.9 907.5h8.4l-.1 -4h-8.6zM470.4 899.5h8.7l-.1 -4h-8.9zM481.6 1000h5.6l0 -4h-5.7zM481.2 983.9h5.9l0 -4h-5.9zM492.9 967.8h5.3l0 -4h-5.3zM492.9 959.8h5.3l0 -4h-5.2zM498.3 975.9h5.4l0 -4h-5.3zM497.5 807h4.2l0 -4h-4.2zM503.9 996h5.5l-.1 -4h-5.5zM503.1 931.6h5.1l-.1 -4h-5z"/><path fill="#adadff" stroke="#adadff" stroke-width="0.3" d="M342.9 971.8h6.7l.2 -4h-6.8zM343.2 955.8h7.3l.2 -4h-7.4zM344.8 871.3h10.2l.2 -4h-10.3zM344.9 863.3h10.5l.2 -4h-10.6zM350 963.8h7l.4 -4h-7.1zM350.2 959.8h7.1l.4 -4h-7.3zM351.1 943.7h7.7l.4 -4h-7.8zM357 963.8h7l.5 -4h-7.1zM457.3 839.2h9l-.3 -4h-9.2zM469.3 883.4h9.4l-.1 -4h-9.5zM467.4 855.3h10.6l-.1 -4h-10.8zM492.9 963.8h5.3l0 -4h-5.3zM492.9 943.7h5.2l0 -4h-5.1zM493 935.7h5.1l0 -4h-5.1zM493 923.6h5l0 -4h-5zM493.2 835.2h4.4l0 -4h-4.4zM498.3 983.9h5.4l0 -4h-5.4zM498.1 947.7h5.2l0 -4h-5.2zM498.1 939.7h5.1l0 -4h-5.1zM497.9 903.5h4.9l0 -4h-4.8zM497.7 851.2h4.5l0 -4h-4.5zM503.9 1000h5.5l-.1 -4h-5.5zM503.5 967.8h5.3l-.1 -4h-5.3zM503.4 959.8h5.3l-.1 -4h-5.2zM503.2 939.7h5.1l-.1 -4h-5.1z"/><path fill="#b8b8ff" stroke="#b8b8ff" stroke-width="0.3" d="M342.9 967.8h6.8l.2 -4h-7zM343.1 959.8h7.1l.2 -4h-7.3zM349.1 979.9h6.4l.4 -4h-6.6zM349.8 967.8h6.8l.4 -4h-7zM355.9 975.9h6.6l.5 -4h-6.7zM360.9 919.6h8.5l.5 -4h-8.7zM374.9 875.4h4.4l.5 -4h-4.4zM376.8 859.3h4.3l.5 -4h-4.2zM379.3 839.2h4.1l.5 -4h-4.1zM464.5 979.9h5.3l-.2 -4h-5.3zM443.5 811h10.3l-.5 -4h-10.6zM458.7 851.2h8.4l-.3 -4h-8.6zM456.8 835.2h9.2l-.3 -4h-9.4zM453.8 811h10.4l-.3 -4h-10.7zM453.3 807h10.7l-.3 -4h-10.9zM475.7 991.9h5.7l-.1 -4h-5.8zM470.1 895.5h8.9l-.1 -4h-9zM469.6 887.4h9.2l-.1 -4h-9.4zM468.8 875.4h9.7l-.1 -4h-9.9zM480.9 971.8h6l0 -4h-6.1zM480.8 967.8h6.1l0 -4h-6.2zM480.6 959.8h6.2l0 -4h-6.3zM480.5 955.8h6.3l0 -4h-6.4zM492.8 996h5.5l0 -4h-5.5zM493 939.7h5.1l0 -4h-5.1zM498.2 959.8h5.3l0 -4h-5.2zM503.8 991.9h5.5l-.1 -4h-5.5z"/><path fill="#8f8fff" stroke="#8f8fff" stroke-width="0.3" d="M343.2 951.7h7.4l.2 -4h-7.5zM343.4 943.7h7.7l.2 -4h-7.8zM344.1 907.5h8.9l.2 -4h-9.1zM344.2 903.5h9.1l.2 -4h-9.2zM344.6 879.4h9.9l.2 -4h-10.1zM344.8 867.3h10.3l.2 -4h-10.5zM345.2 847.2h11l.2 -4h-11.2zM351.3 939.7h7.8l.4 -4h-8zM351.5 935.7h8l.4 -4h-8.1zM352.2 923.6h8.4l.4 -4h-8.5zM358 815.1h12.2l.4 -4h-12.3zM358.8 943.7h7.7l.5 -4h-7.8zM365.9 863.3h10.5l.5 -4h-10.6zM367.3 847.2h11l.5 -4h-11.2zM368.4 835.2h11.5l.5 -4h-11.6zM369.8 819.1h12l.5 -4h-12.2zM468 863.3h10.2l-.1 -4h-10.4zM467.7 859.3h10.4l-.1 -4h-10.6zM465.7 831.1h11.7l-.1 -4h-11.9zM464.8 819.1h12.3l-.1 -4h-12.5zM478 855.3h7.9l0 -4h-7.9zM476.8 807h8.6l0 -4h-8.7zM493 911.5h4.9l0 -4h-4.9zM493.1 879.4h4.7l0 -4h-4.7zM493.1 875.4h4.7l0 -4h-4.6zM493.2 855.3h4.5l0 -4h-4.5zM493.2 827.1h4.3l0 -4h-4.3zM493.2 819.1h4.3l0 -4h-4.2zM498.1 935.7h5.1l0 -4h-5.1zM498 927.6h5l0 -4h-5zM497.9 891.4h4.8l0 -4h-4.8zM497.8 887.4h4.8l0 -4h-4.7zM497.7 867.3h4.6l0 -4h-4.6zM497.7 859.3h4.6l0 -4h-4.5zM497.6 843.2h4.4l0 -4h-4.4zM497.5 823.1h4.3l0 -4h-4.3zM503.2 935.7h5.1l-.1 -4h-5.1zM502.7 899.5h4.8l-.1 -4h-4.8zM502.4 867.3h4.6l-.1 -4h-4.6zM502 839.2h4.4l-.1 -4h-4.4zM502 835.2h4.4l-.1 -4h-4.4zM501.8 823.1h4.3l-.1 -4h-4.3z"/><path fill="#a3a3ff" stroke="#a3a3ff" stroke-width="0.3" d="M343.3 947.7h7.5l.2 -4h-7.7zM343.5 935.7h8l.2 -4h-8.1zM348.7 987.9h6.1l.4 -4h-6.3zM353.2 903.5h9.1l.4 -4h-9.2zM355 871.3h10.2l.4 -4h-10.3zM355.8 855.3h10.8l.4 -4h-10.9zM358.2 811h12.3l.4 -4h-12.4zM359.1 939.7h7.8l.5 -4h-8zM360.2 927.6h8.2l.5 -4h-8.4zM360.5 923.6h8.4l.5 -4h-8.5zM361.2 915.6h8.7l.5 -4h-8.8zM454.3 815.1h10.2l-.3 -4h-10.4zM467.1 851.2h10.8l-.1 -4h-11zM466.9 847.2h11l-.1 -4h-11.2zM466 835.2h11.5l-.1 -4h-11.7zM465.1 823.1h12.1l-.1 -4h-12.3zM463.9 807h12.9l-.1 -4h-13.1zM481.4 991.9h5.7l0 -4h-5.8zM480.7 963.8h6.2l0 -4h-6.2zM480.4 951.7h6.4l0 -4h-6.4zM492.9 951.7h5.2l0 -4h-5.2zM493 907.5h4.9l0 -4h-4.9zM493.1 883.4h4.7l0 -4h-4.7zM493.2 839.2h4.4l0 -4h-4.4zM498.2 967.8h5.3l0 -4h-5.3zM498.1 951.7h5.2l0 -4h-5.2zM497.8 875.4h4.7l0 -4h-4.6zM497.5 815.1h4.2l0 -4h-4.2zM503.5 963.8h5.3l-.1 -4h-5.3zM503.3 947.7h5.2l-.1 -4h-5.2zM502.8 903.5h4.9l-.1 -4h-4.8zM501.9 827.1h4.3l-.1 -4h-4.3z"/><path fill="#9999ff" stroke="#9999ff" stroke-width="0.3" d="M343.5 939.7h7.8l.2 -4h-8zM344 911.5h8.8l.2 -4h-8.9zM345.3 843.2h11.2l.2 -4h-11.3zM353.4 899.5h9.2l.4 -4h-9.4zM357.8 819.1h12l.4 -4h-12.2zM358.4 807h12.4l.4 -4h-12.6zM358 951.7h7.4l.5 -4h-7.5zM358.4 947.7h7.5l.5 -4h-7.7zM363 895.5h9.4l.5 -4h-9.5zM365.5 867.3h10.3l.5 -4h-10.5zM455.4 823.1h9.8l-.3 -4h-10zM477.5 835.2h8.2l0 -4h-8.3zM477.3 827.1h8.3l0 -4h-8.4zM492.9 947.7h5.2l0 -4h-5.2zM493 903.5h4.9l0 -4h-4.8zM493.1 863.3h4.6l0 -4h-4.6zM493.1 859.3h4.6l0 -4h-4.5zM493.2 823.1h4.3l0 -4h-4.3zM498.1 943.7h5.2l0 -4h-5.1zM497.8 879.4h4.7l0 -4h-4.7zM497.7 863.3h4.6l0 -4h-4.6zM497.6 835.2h4.4l0 -4h-4.4zM503.4 955.8h5.2l-.1 -4h-5.2zM502.9 911.5h4.9l-.1 -4h-4.9zM502.5 879.4h4.7l-.1 -4h-4.7zM502.4 875.4h4.7l-.1 -4h-4.6zM502.2 851.2h4.5l-.1 -4h-4.5zM501.7 811h4.2l-.1 -4h-4.2zM501.6 807h4.2l-.1 -4h-4.2z"/><path fill="#5c5cff" stroke="#5c5cff" stroke-width="0.3" d="M343.6 931.6h8.1l.2 -4h-8.2zM344.3 895.5h9.4l.2 -4h-9.5zM363.7 887.4h9.6l.5 -4h-9.8zM366.9 851.2h10.9l.5 -4h-11zM369.4 823.1h11.9l.5 -4h-12zM465.4 827.1h11.9l-.1 -4h-12.1zM478.2 863.3h7.7l0 -4h-7.8zM477 815.1h8.5l0 -4h-8.6zM493.1 887.4h4.8l0 -4h-4.7zM493.2 851.2h4.5l0 -4h-4.5z"/><path fill="#8585ff" stroke="#8585ff" stroke-width="0.3" d="M343.7 927.6h8.2l.2 -4h-8.4zM344.5 887.4h9.6l.2 -4h-9.8zM345 859.3h10.6l.2 -4h-10.8zM345.4 839.2h11.3l.2 -4h-11.5zM345.4 835.2h11.5l.2 -4h-11.6zM345.9 811h12.3l.2 -4h-12.4zM346 807h12.4l.2 -4h-12.6zM350.4 955.8h7.3l.4 -4h-7.4zM350.6 951.7h7.4l.4 -4h-7.5zM351.7 931.6h8.1l.4 -4h-8.2zM352.4 919.6h8.5l.4 -4h-8.7zM353 907.5h8.9l.4 -4h-9.1zM353.7 895.5h9.4l.4 -4h-9.5zM354.3 883.4h9.8l.4 -4h-9.9zM356.5 843.2h11.2l.4 -4h-11.3zM357.1 831.1h11.6l.4 -4h-11.7zM357.5 823.1h11.9l.4 -4h-12zM359.5 935.7h8l.5 -4h-8.1zM362 907.5h8.9l.5 -4h-9.1zM362.3 903.5h9.1l.5 -4h-9.2zM362.7 899.5h9.2l.5 -4h-9.4zM364.4 879.4h9.9l.5 -4h-10.1zM367.6 843.2h11.2l.5 -4h-11.3zM370.5 811h12.3l.5 -4h-12.4zM370.9 807h12.4l.5 -4h-12.6zM466.6 843.2h11.2l-.1 -4h-11.3zM477.4 831.1h8.3l0 -4h-8.3zM493 931.6h5.1l0 -4h-5zM493 899.5h4.8l0 -4h-4.8zM493.1 867.3h4.6l0 -4h-4.6zM493.2 815.1h4.2l0 -4h-4.2zM493.3 807h4.2l0 -4h-4.2zM498.2 963.8h5.3l0 -4h-5.3zM498 923.6h5l0 -4h-5zM498 919.6h5l0 -4h-5zM497.9 911.5h4.9l0 -4h-4.9zM497.9 895.5h4.8l0 -4h-4.8zM497.7 855.3h4.5l0 -4h-4.5zM503.3 951.7h5.2l-.1 -4h-5.2zM503.3 943.7h5.2l-.1 -4h-5.1zM503.1 927.6h5l-.1 -4h-5zM503 923.6h5l-.1 -4h-5zM502.6 887.4h4.8l-.1 -4h-4.7zM502.5 883.4h4.7l-.1 -4h-4.7zM502.3 859.3h4.6l-.1 -4h-4.5zM502.1 843.2h4.4l-.1 -4h-4.4zM501.8 819.1h4.3l-.1 -4h-4.2z"/><path fill="#6666ff" stroke="#6666ff" stroke-width="0.3" d="M343.8 923.6h8.4l.2 -4h-8.5zM343.9 915.6h8.7l.2 -4h-8.8zM345.8 815.1h12.2l.2 -4h-12.3zM354.1 887.4h9.6l.4 -4h-9.8zM354.7 875.4h10.1l.4 -4h-10.2zM355.2 867.3h10.3l.4 -4h-10.5zM368 839.2h11.3l.5 -4h-11.5zM477.9 851.2h7.9l0 -4h-8zM477.2 823.1h8.4l0 -4h-8.5zM477.1 819.1h8.5l0 -4h-8.5zM493 919.6h5l0 -4h-5zM493.1 871.3h4.6l0 -4h-4.6zM498 915.6h5l0 -4h-4.9zM503 919.6h5l-.1 -4h-5zM502.2 855.3h4.5l-.1 -4h-4.5zM501.9 831.1h4.4l-.1 -4h-4.3z"/><path fill="#7070ff" stroke="#7070ff" stroke-width="0.3" d="M343.9 919.6h8.5l.2 -4h-8.7zM344.2 899.5h9.2l.2 -4h-9.4zM345.1 851.2h10.9l.2 -4h-11zM352.6 915.6h8.7l.4 -4h-8.8zM353.9 891.4h9.5l.4 -4h-9.6zM355.4 863.3h10.5l.4 -4h-10.6zM356.7 839.2h11.3l.4 -4h-11.5zM356.9 835.2h11.5l.4 -4h-11.6zM357.3 827.1h11.7l.4 -4h-11.9zM364.8 875.4h10.1l.5 -4h-10.2zM370.1 815.1h12.2l.5 -4h-12.3zM468.5 871.3h9.9l-.1 -4h-10.1zM466.3 839.2h11.3l-.1 -4h-11.5zM464.2 811h12.7l-.1 -4h-12.9zM478.3 867.3h7.7l0 -4h-7.7zM478.1 859.3h7.8l0 -4h-7.9zM476.9 811h8.6l0 -4h-8.6zM493 927.6h5l0 -4h-5zM493.2 847.2h4.5l0 -4h-4.4zM493.2 843.2h4.4l0 -4h-4.4zM493.3 811h4.2l0 -4h-4.2zM497.9 899.5h4.8l0 -4h-4.8zM497.6 831.1h4.4l0 -4h-4.3zM497.5 819.1h4.3l0 -4h-4.2zM502.8 907.5h4.9l-.1 -4h-4.9zM502.6 891.4h4.8l-.1 -4h-4.8zM502.4 871.3h4.6l-.1 -4h-4.6zM501.7 815.1h4.2l-.1 -4h-4.2z"/><path fill="#7a7aff" stroke="#7a7aff" stroke-width="0.3" d="M344.4 891.4h9.5l.2 -4h-9.6zM344.5 883.4h9.8l.2 -4h-9.9zM344.7 875.4h10.1l.2 -4h-10.2zM345.1 855.3h10.8l.2 -4h-10.9zM345.5 831.1h11.6l.2 -4h-11.7zM345.6 827.1h11.7l.2 -4h-11.9zM345.7 823.1h11.9l.2 -4h-12zM354.5 879.4h9.9l.4 -4h-10.1zM356 851.2h10.9l.4 -4h-11zM356.3 847.2h11l.4 -4h-11.2zM361.6 911.5h8.8l.5 -4h-8.9zM364.1 883.4h9.8l.5 -4h-9.9zM365.2 871.3h10.2l.5 -4h-10.3zM366.2 859.3h10.6l.5 -4h-10.8zM366.6 855.3h10.8l.5 -4h-10.9zM368.7 831.1h11.6l.5 -4h-11.7zM369.1 827.1h11.7l.5 -4h-11.9zM464.5 815.1h12.5l-.1 -4h-12.7zM477.8 847.2h8l0 -4h-8.1zM477.7 843.2h8.1l0 -4h-8.1zM477.6 839.2h8.1l0 -4h-8.2zM493 915.6h5l0 -4h-4.9zM493.1 895.5h4.8l0 -4h-4.8zM493.1 891.4h4.8l0 -4h-4.8zM493.2 831.1h4.4l0 -4h-4.3zM498.2 955.8h5.2l0 -4h-5.2zM498 931.6h5.1l0 -4h-5zM497.9 907.5h4.9l0 -4h-4.9zM497.8 883.4h4.7l0 -4h-4.7zM497.8 871.3h4.6l0 -4h-4.6zM497.6 847.2h4.5l0 -4h-4.4zM497.6 839.2h4.4l0 -4h-4.4zM497.5 827.1h4.3l0 -4h-4.3zM497.5 811h4.2l0 -4h-4.2zM502.9 915.6h5l-.1 -4h-4.9zM502.7 895.5h4.8l-.1 -4h-4.8zM502.3 863.3h4.6l-.1 -4h-4.6zM502.1 847.2h4.5l-.1 -4h-4.4z"/><path fill="#5252ff" stroke="#5252ff" stroke-width="0.3" d="M345.7 819.1h12l.2 -4h-12.2zM363.4 891.4h9.5l.5 -4h-9.6zM479.1 899.5h7.2l0 -4h-7.2z"/><path fill="#ebebff" stroke="#ebebff" stroke-width="0.3" d="M348.1 1000h5.7l.4 -4h-5.9zM348.3 996h5.9l.4 -4h-6zM353.8 1000h5.7l.5 -4h-5.9zM354.1 996h5.9l.5 -4h-6zM363 971.8h5.3l.5 -4h-5.3zM382.8 811h3.8l.5 -4h-3.8zM370.5 951.7h5l.4 -4h-4.9zM371.3 991.9h5l.3 -4h-4.9zM372.2 983.9h4.8l.3 -4h-4.7zM383.6 875.4h3.5l.4 -4h-3.5zM387.9 867.3h3.2l.4 -4h-3.2zM383.9 947.7h4.5l.2 -4h-4.4zM385.4 927.6h4.1l.3 -4h-4.1zM388.7 891.4h3.6l.4 -4h-3.6zM453.8 996h5.6l0 -4h-5.6zM463.9 967.8h5.2l-.2 -4h-5.2zM458 899.5h5.9l-.4 -4h-6zM453.6 867.3h7l-.4 -4h-7.2zM452.9 863.3h7.2l-.4 -4h-7.3zM448.2 835.2h8.7l-.5 -4h-8.9zM442.7 807h10.6l-.5 -4h-10.9zM469.8 979.9h5.3l-.2 -4h-5.3zM468.9 963.8h5.4l-.2 -4h-5.4zM467.6 943.7h5.6l-.2 -4h-5.6zM466.3 927.6h5.8l-.2 -4h-5.9zM464.6 907.5h6.3l-.3 -4h-6.4zM459.7 859.3h8l-.3 -4h-8.2zM457.8 843.2h8.8l-.3 -4h-9zM475.1 979.9h6l-.1 -4h-6.1zM474.9 975.9h6.1l-.1 -4h-6.2zM474.7 971.8h6.2l-.1 -4h-6.3zM474.1 959.8h6.5l-.1 -4h-6.7zM473.8 955.8h6.7l-.1 -4h-6.8zM472.2 927.6h7.6l-.1 -4h-7.8zM486.3 899.5h6.8l0 -4h-6.8zM492.8 1004h5.6l0 -4h-5.5zM492.9 975.9h5.4l0 -4h-5.3zM498.4 1004h5.6l0 -4h-5.5zM503.7 979.9h5.4l-.1 -4h-5.4z"/><path fill="#4747ff" stroke="#4747ff" stroke-width="0.3" d="M352.8 911.5h8.8l.4 -4h-8.9zM355.6 859.3h10.6l.4 -4h-10.8z"/><path fill="#fff5f5" stroke="#fff5f5" stroke-width="0.3" d="M353.4 1004h5.6l.5 -4h-5.7zM359.5 1000h5.5l.5 -4h-5.5zM360 996h5.5l.5 -4h-5.5zM360.5 991.9h5.5l.5 -4h-5.4zM362.5 975.9h5.3l.5 -4h-5.3zM365.4 951.7h5.1l.5 -4h-5.1zM371.5 943.7h4.9l.4 -4h-4.8zM379.3 875.4h4.3l.4 -4h-4.3zM380.7 863.3h4.2l.4 -4h-4.2zM382.5 847.2h4.1l.4 -4h-4.1zM383 843.2h4.1l.4 -4h-4zM383.4 839.2h4l.4 -4h-4zM383.9 835.2h4l.4 -4h-4zM370.5 1000h5.4l.2 -4h-5.2zM373 975.9h4.6l.3 -4h-4.5zM373.4 971.8h4.5l.3 -4h-4.4zM376.8 939.7h3.9l.4 -4h-3.8zM381.9 891.4h3.5l.4 -4h-3.5zM385.3 859.3h3.5l.4 -4h-3.5zM386.6 847.2h3.5l.4 -4h-3.5zM390 815.1h3.7l.5 -4h-3.7zM390.5 811h3.7l.5 -4h-3.7zM375.9 1000h5.4l.1 -4h-5.3zM384.2 903.5h3.4l.4 -4h-3.3zM387.1 875.4h3.2l.4 -4h-3.2zM388.8 859.3h3.2l.5 -4h-3.3zM389.7 851.2h3.3l.5 -4h-3.3zM391.9 831.1h3.4l.5 -4h-3.5zM393.3 819.1h3.6l.5 -4h-3.6zM383.1 959.8h4.7l.2 -4h-4.7zM384.8 935.7h4.3l.2 -4h-4.2zM387.5 903.5h3.8l.3 -4h-3.7zM389.9 879.4h3.5l.4 -4h-3.5zM391.6 863.3h3.5l.4 -4h-3.5zM396.3 823.1h3.6l.5 -4h-3.6zM398.4 807h3.7l.6 -4h-3.8zM386.9 1000h5.6l0 -4h-5.5zM392.4 1004h5.6l0 -4h-5.6zM392.7 971.8h5.5l0 -4h-5.4zM425.9 987.9h5.6l0 -4h-5.6zM448.2 1004h5.6l0 -4h-5.6zM464.3 975.9h5.3l-.2 -4h-5.2zM463.7 963.8h5.2l-.2 -4h-5.2zM463.3 955.8h5.2l-.3 -4h-5.2zM461 927.6h5.3l-.3 -4h-5.4zM459.8 915.6h5.5l-.4 -4h-5.6zM463.8 899.5h6.6l-.3 -4h-6.7zM463.5 895.5h6.7l-.3 -4h-6.8zM475.3 983.9h5.9l-.1 -4h-6zM487.2 996h5.7l0 -4h-5.7zM485.6 823.1h7.6l0 -4h-7.7z"/><path fill="#ffebeb" stroke="#ffebeb" stroke-width="0.3" d="M361 987.9h5.4l.5 -4h-5.4zM363.5 967.8h5.3l.5 -4h-5.2zM364.4 959.8h5.2l.5 -4h-5.1zM365.9 991.9h5.4l.4 -4h-5.3zM366.9 983.9h5.3l.4 -4h-5.3zM367.8 975.9h5.2l.4 -4h-5.2zM369.6 959.8h5l.4 -4h-5zM372.8 931.6h4.8l.4 -4h-4.7zM373.8 923.6h4.7l.4 -4h-4.7zM374.7 915.6h4.6l.4 -4h-4.6zM375.1 911.5h4.6l.4 -4h-4.6zM377.9 887.4h4.4l.4 -4h-4.4zM382 851.2h4.1l.4 -4h-4.1zM386.2 815.1h3.9l.4 -4h-3.8zM372.6 979.9h4.7l.3 -4h-4.6zM376.4 943.7h3.9l.4 -4h-3.9zM378.9 919.6h3.7l.4 -4h-3.6zM379.7 911.5h3.6l.4 -4h-3.6zM384 871.3h3.5l.4 -4h-3.5zM384.4 867.3h3.5l.4 -4h-3.5zM387.5 839.2h3.6l.4 -4h-3.6zM388.3 831.1h3.6l.5 -4h-3.6zM376.4 991.9h5.2l.1 -4h-5zM376.7 987.9h5l.2 -4h-4.9zM376.9 983.9h4.9l.2 -4h-4.8zM377.2 979.9h4.8l.2 -4h-4.7zM377.6 975.9h4.7l.2 -4h-4.5zM385 895.5h3.3l.4 -4h-3.3zM387.5 871.3h3.2l.4 -4h-3.2zM388.4 863.3h3.2l.4 -4h-3.2zM391.5 835.2h3.4l.5 -4h-3.4zM394.2 811h3.7l.5 -4h-3.7zM394.7 807h3.7l.5 -4h-3.8zM381.4 996h5.5l0 -4h-5.4zM383.4 955.8h4.7l.2 -4h-4.6zM384.2 943.7h4.4l.2 -4h-4.3zM386.1 919.6h4l.3 -4h-3.9zM392.1 859.3h3.5l.4 -4h-3.5zM394.4 839.2h3.5l.5 -4h-3.5zM394.8 835.2h3.5l.5 -4h-3.5zM395.8 827.1h3.5l.5 -4h-3.6zM396.8 819.1h3.6l.5 -4h-3.6zM397.3 815.1h3.6l.6 -4h-3.7zM386.9 1004h5.6l0 -4h-5.6zM387 991.9h5.5l0 -4h-5.5zM393.3 947.7h5.3l.1 -4h-5.2zM403.6 987.9h5.6l0 -4h-5.6zM447.9 967.8h5.5l-.1 -4h-5.5zM453.7 987.9h5.5l-.1 -4h-5.5zM453.7 983.9h5.5l-.1 -4h-5.5zM453.6 979.9h5.5l-.1 -4h-5.5zM458.9 971.8h5.2l-.2 -4h-5.1zM457.1 931.6h4.3l-.4 -4h-4.2zM464.7 987.9h5.4l-.2 -4h-5.3zM456.4 887.4h6.2l-.4 -4h-6.4zM470.5 1004h5.6l-.1 -4h-5.5zM469.1 967.8h5.3l-.2 -4h-5.4zM468.1 951.7h5.5l-.2 -4h-5.5zM467.3 939.7h5.6l-.2 -4h-5.7zM465.3 915.6h6.1l-.3 -4h-6.2zM464.2 903.5h6.4l-.3 -4h-6.6zM487.1 987.9h5.8l0 -4h-5.8zM486.9 971.8h5.9l0 -4h-6zM486.8 959.8h6.1l0 -4h-6.1z"/><path fill="#ffe0e0" stroke="#ffe0e0" stroke-width="0.3" d="M362 979.9h5.4l.5 -4h-5.3zM365.5 996h5.5l.4 -4h-5.4zM371.9 939.7h4.8l.4 -4h-4.8zM372.4 935.7h4.8l.4 -4h-4.8zM374.2 919.6h4.7l.4 -4h-4.6zM379.7 871.3h4.3l.4 -4h-4.2zM381.6 855.3h4.2l.4 -4h-4.1zM385.7 819.1h3.9l.4 -4h-3.9zM373.8 967.8h4.4l.3 -4h-4.3zM380.2 907.5h3.6l.4 -4h-3.6zM381 899.5h3.5l.4 -4h-3.5zM379.2 955.8h4.1l.3 -4h-4.1zM381 935.7h3.7l.3 -4h-3.7zM381.8 927.6h3.6l.3 -4h-3.6zM382.2 923.6h3.6l.3 -4h-3.5zM383 915.6h3.5l.4 -4h-3.4zM385.4 891.4h3.3l.4 -4h-3.3zM389.2 855.3h3.3l.5 -4h-3.3zM392.4 827.1h3.5l.5 -4h-3.5zM381.6 991.9h5.4l.1 -4h-5.3zM385.8 923.6h4.1l.3 -4h-4zM387.2 907.5h3.8l.3 -4h-3.8zM389.5 883.4h3.6l.4 -4h-3.5zM390.7 871.3h3.5l.4 -4h-3.5zM393 851.2h3.5l.5 -4h-3.5zM393.4 847.2h3.5l.5 -4h-3.5zM393.9 843.2h3.5l.5 -4h-3.5zM392.4 1000h5.6l0 -4h-5.6zM392.5 987.9h5.5l0 -4h-5.5zM398 996h5.6l0 -4h-5.6zM398.1 987.9h5.6l0 -4h-5.6zM398.3 963.8h5.5l0 -4h-5.5zM403.6 996h5.6l0 -4h-5.6zM403.7 979.9h5.6l0 -4h-5.5zM403.9 955.8h5.5l0 -4h-5.5zM409.2 996h5.6l0 -4h-5.6zM409.2 987.9h5.6l0 -4h-5.6zM414.8 983.9h5.6l0 -4h-5.6zM431.5 1004h5.6l0 -4h-5.6zM431.5 991.9h5.6l0 -4h-5.6zM431.4 979.9h5.6l0 -4h-5.5zM453.8 1000h5.6l0 -4h-5.6zM453.4 967.8h5.4l-.1 -4h-5.4zM453 951.7h5.2l-.2 -4h-5.2zM459.3 1000h5.6l0 -4h-5.5zM459.1 979.9h5.3l-.2 -4h-5.3zM464.9 996h5.5l-.1 -4h-5.4zM466.7 931.6h5.8l-.2 -4h-5.8zM487 979.9h5.8l0 -4h-5.9zM486.8 951.7h6.2l0 -4h-6.2zM486.2 891.4h6.8l0 -4h-6.9zM492.8 1000h5.5l0 -4h-5.5z"/><path fill="#ffc2c2" stroke="#ffc2c2" stroke-width="0.3" d="M366.9 939.7h5l.5 -4h-5zM384.3 831.1h4l.4 -4h-3.9zM376.1 996h5.3l.1 -4h-5.2zM382 979.9h5.2l.1 -4h-5.1zM385.1 931.6h4.2l.3 -4h-4.1zM387.2 979.9h5.4l.1 -4h-5.3zM387.3 975.9h5.3l.1 -4h-5.3zM389.1 935.7h4.7l.2 -4h-4.6zM389.3 931.6h4.6l.2 -4h-4.6zM390.1 919.6h4.4l.2 -4h-4.4zM391.6 899.5h4.1l.3 -4h-4zM392.5 991.9h5.6l0 -4h-5.5zM392.6 975.9h5.5l0 -4h-5.5zM393.5 943.7h5.2l.1 -4h-5.2zM393.9 931.6h5.1l.1 -4h-5zM396 895.5h4.6l.2 -4h-4.5zM398.3 959.8h5.5l.1 -4h-5.5zM399.8 911.5h5.1l.1 -4h-5.1zM400 907.5h5.1l.1 -4h-5zM403.8 963.8h5.5l0 -4h-5.5zM404 947.7h5.4l0 -4h-5.4zM404.5 923.6h5.3l.1 -4h-5.2zM405 907.5h5.1l.1 -4h-5zM409.2 991.9h5.6l0 -4h-5.6zM409.2 979.9h5.6l0 -4h-5.5zM409.2 971.8h5.5l0 -4h-5.5zM409.5 939.7h5.4l0 -4h-5.4zM409.8 923.6h5.3l0 -4h-5.2zM414.7 1000h5.6l0 -4h-5.6zM414.8 955.8h5.5l0 -4h-5.5zM414.9 939.7h5.4l0 -4h-5.4zM415.1 919.6h5.2l0 -4h-5.2zM420.3 1000h5.6l0 -4h-5.6zM420.3 996h5.6l0 -4h-5.6zM420.3 983.9h5.6l0 -4h-5.6zM420.3 943.7h5.4l0 -4h-5.4zM425.8 963.8h5.5l0 -4h-5.5zM425.7 935.7h5.3l-.1 -4h-5.3zM431.1 939.7h5.4l-.1 -4h-5.3zM437.1 1004h5.6l0 -4h-5.6zM437 996h5.6l0 -4h-5.6zM437 991.9h5.6l0 -4h-5.6zM437 983.9h5.6l0 -4h-5.6zM437 975.9h5.5l0 -4h-5.5zM436.8 963.8h5.5l-.1 -4h-5.5zM436.8 959.8h5.5l-.1 -4h-5.5zM436.1 927.6h5.3l-.2 -4h-5.2zM442.6 987.9h5.6l0 -4h-5.6zM442.6 983.9h5.6l0 -4h-5.6zM442.5 975.9h5.5l-.1 -4h-5.5zM442.5 971.8h5.5l-.1 -4h-5.5zM442.4 967.8h5.5l-.1 -4h-5.5zM442.3 963.8h5.5l-.1 -4h-5.5zM442.3 959.8h5.5l-.1 -4h-5.5zM441.9 943.7h5.4l-.1 -4h-5.4zM441.2 923.6h5.2l-.2 -4h-5.2zM448 975.9h5.5l-.1 -4h-5.5zM447.7 955.8h5.5l-.1 -4h-5.4zM447.2 939.7h5.4l-.2 -4h-5.3zM453.8 991.9h5.6l0 -4h-5.5zM453.5 971.8h5.4l-.1 -4h-5.4zM453.2 959.8h5.3l-.2 -4h-5.3zM452.8 947.7h5.2l-.2 -4h-5.1zM452.5 939.7h5.1l-.2 -4h-5zM451.4 919.6h4.8l-.3 -4h-4.7zM459 975.9h5.3l-.2 -4h-5.2zM458.4 955.8h4.9l-.3 -4h-4.8zM454.7 903.5h3.7l-.5 -4h-3.7zM452.1 879.4h3.3l-.6 -4h-3.2zM486.9 963.8h6l0 -4h-6.1zM486.4 911.5h6.6l0 -4h-6.7zM486.2 883.4h6.9l0 -4h-7z"/><path fill="#ffcccc" stroke="#ffcccc" stroke-width="0.3" d="M367.3 979.9h5.3l.4 -4h-5.2zM368.7 967.8h5.1l.4 -4h-5.1zM371 947.7h4.9l.4 -4h-4.9zM373.3 927.6h4.7l.4 -4h-4.7zM387.1 807h3.8l.4 -4h-3.8zM370.1 1004h5.6l.2 -4h-5.4zM370.9 996h5.2l.3 -4h-5zM371.8 987.9h4.9l.3 -4h-4.8zM375.5 951.7h4.1l.4 -4h-4zM381.5 895.5h3.5l.4 -4h-3.5zM389.2 823.1h3.6l.5 -4h-3.7zM377.9 971.8h4.5l.2 -4h-4.4zM383.8 907.5h3.4l.4 -4h-3.4zM392.8 823.1h3.5l.5 -4h-3.6zM382.4 971.8h5l.1 -4h-4.9zM390.3 875.4h3.5l.4 -4h-3.5zM387 987.9h5.5l0 -4h-5.4zM387.7 963.8h5.2l.1 -4h-5.1zM388.4 947.7h4.9l.1 -4h-4.9zM388.6 943.7h4.9l.1 -4h-4.8zM392.8 967.8h5.4l.1 -4h-5.4zM393.2 951.7h5.3l.1 -4h-5.3zM394.7 915.6h4.9l.2 -4h-4.8zM398 1004h5.6l0 -4h-5.6zM398 1000h5.6l0 -4h-5.6zM398.1 979.9h5.6l0 -4h-5.5zM403.6 1000h5.6l0 -4h-5.6zM403.6 991.9h5.6l0 -4h-5.6zM403.6 983.9h5.6l0 -4h-5.6zM403.8 959.8h5.5l0 -4h-5.5zM404.2 935.7h5.4l.1 -4h-5.3zM409.2 1000h5.6l0 -4h-5.6zM409.3 967.8h5.5l0 -4h-5.5zM414.7 1004h5.6l0 -4h-5.6zM414.8 991.9h5.6l0 -4h-5.6zM414.8 987.9h5.6l0 -4h-5.6zM414.8 975.9h5.5l0 -4h-5.5zM414.8 971.8h5.5l0 -4h-5.5zM414.9 947.7h5.4l0 -4h-5.4zM420.3 1004h5.6l0 -4h-5.6zM420.3 991.9h5.6l0 -4h-5.6zM420.3 971.8h5.5l0 -4h-5.5zM425.9 1004h5.6l0 -4h-5.6zM431.5 996h5.6l0 -4h-5.6zM431.4 983.9h5.6l0 -4h-5.6zM436.3 935.7h5.3l-.1 -4h-5.3zM442.6 996h5.6l0 -4h-5.6zM442.1 951.7h5.4l-.1 -4h-5.4zM448.2 1000h5.6l0 -4h-5.6zM448.2 991.9h5.6l0 -4h-5.6zM448.1 983.9h5.6l0 -4h-5.6zM446.8 931.6h5.3l-.2 -4h-5.2zM487 975.9h5.9l0 -4h-5.9zM486.7 939.7h6.3l0 -4h-6.3z"/><path fill="#ffb8b8" stroke="#ffb8b8" stroke-width="0.3" d="M369.2 963.8h5.1l.4 -4h-5zM375.6 907.5h4.6l.4 -4h-4.5zM387.4 971.8h5.3l.1 -4h-5.2zM388 955.8h5.1l.1 -4h-5zM390.7 911.5h4.3l.2 -4h-4.2zM393.1 883.4h3.8l.3 -4h-3.8zM392.5 996h5.6l0 -4h-5.6zM394.3 923.6h5l.2 -4h-4.9zM398.7 943.7h5.4l.1 -4h-5.4zM399.3 923.6h5.2l.1 -4h-5.2zM399.5 919.6h5.2l.1 -4h-5.2zM399.6 915.6h5.2l.1 -4h-5.1zM401.5 879.4h4.7l.2 -4h-4.6zM404.7 919.6h5.2l.1 -4h-5.2zM409.3 959.8h5.5l0 -4h-5.5zM409.4 947.7h5.4l0 -4h-5.4zM409.7 927.6h5.3l0 -4h-5.3zM414.8 996h5.6l0 -4h-5.6zM414.8 963.8h5.5l0 -4h-5.5zM414.8 959.8h5.5l0 -4h-5.5zM415.2 903.5h5l0 -4h-5zM420.3 967.8h5.5l0 -4h-5.5zM420.3 959.8h5.5l0 -4h-5.5zM420.3 939.7h5.4l0 -4h-5.4zM420.3 915.6h5.2l0 -4h-5.1zM425.9 996h5.6l0 -4h-5.6zM425.9 991.9h5.6l0 -4h-5.6zM425.9 975.9h5.5l0 -4h-5.5zM431.4 967.8h5.5l0 -4h-5.5zM431.3 955.8h5.5l-.1 -4h-5.4zM431.2 947.7h5.4l-.1 -4h-5.4zM431.1 943.7h5.4l-.1 -4h-5.4zM430.9 927.6h5.3l-.1 -4h-5.2zM436.9 971.8h5.5l-.1 -4h-5.5zM436.7 951.7h5.4l-.1 -4h-5.4zM442.5 979.9h5.6l0 -4h-5.5zM442 947.7h5.4l-.1 -4h-5.4zM448.2 996h5.6l0 -4h-5.6zM448.2 987.9h5.6l0 -4h-5.6zM447 935.7h5.3l-.2 -4h-5.3zM446.4 923.6h5.2l-.3 -4h-5.2zM445.8 911.5h5.1l-.3 -4h-5zM440.1 847.2h3.9l-.6 -4h-3.8zM453.8 1004h5.6l0 -4h-5.6zM452.7 943.7h5.1l-.2 -4h-5.1zM452.1 931.6h4.9l-.3 -4h-4.9zM451.9 927.6h4.9l-.3 -4h-4.8zM450.9 911.5h4.6l-.4 -4h-4.6zM447.5 875.4h4l-.5 -4h-3.9zM445.1 855.3h3.6l-.6 -4h-3.5zM440.2 823.1h3l-.8 -4h-3zM459.3 991.9h5.5l-.1 -4h-5.4zM459.2 983.9h5.4l-.1 -4h-5.3zM458 947.7h4.7l-.3 -4h-4.6zM456.2 919.6h4.1l-.4 -4h-4zM455.5 911.5h3.9l-.5 -4h-3.8zM455.1 907.5h3.8l-.5 -4h-3.7zM453.9 895.5h3.6l-.5 -4h-3.5zM450.5 867.3h3.1l-.6 -4h-3zM445.4 835.2h2.8l-.7 -4h-2.7zM444 827.1h2.7l-.8 -4h-2.7zM486.7 947.7h6.2l0 -4h-6.3zM486.6 931.6h6.4l0 -4h-6.4zM486.5 927.6h6.4l0 -4h-6.5zM486.5 923.6h6.5l0 -4h-6.5zM486.4 915.6h6.6l0 -4h-6.6z"/><path fill="#ffd6d6" stroke="#ffd6d6" stroke-width="0.3" d="M377 895.5h4.5l.4 -4h-4.4zM378.8 879.4h4.3l.4 -4h-4.3zM377.2 935.7h3.8l.4 -4h-3.8zM380.6 903.5h3.6l.4 -4h-3.5zM387 843.2h3.5l.4 -4h-3.6zM379.9 947.7h4l.3 -4h-3.9zM380.3 943.7h3.9l.3 -4h-3.8zM382.6 919.6h3.5l.3 -4h-3.5zM384.6 899.5h3.3l.4 -4h-3.3zM386.2 883.4h3.2l.4 -4h-3.2zM384.5 939.7h4.3l.2 -4h-4.3zM386.4 915.6h3.9l.3 -4h-3.9zM387.5 967.8h5.2l.1 -4h-5.2zM392.9 963.8h5.4l.1 -4h-5.4zM398 991.9h5.6l0 -4h-5.6zM398.1 983.9h5.6l0 -4h-5.6zM398.8 939.7h5.4l.1 -4h-5.3zM399 931.6h5.3l.1 -4h-5.3zM414.8 979.9h5.6l0 -4h-5.5zM420.3 987.9h5.6l0 -4h-5.6zM420.3 979.9h5.6l0 -4h-5.5zM420.3 935.7h5.4l0 -4h-5.3zM425.9 971.8h5.5l0 -4h-5.5zM425.8 967.8h5.5l0 -4h-5.5zM437.1 1000h5.6l0 -4h-5.6zM436.9 967.8h5.5l-.1 -4h-5.5zM442.6 1004h5.6l0 -4h-5.6zM442.6 1000h5.6l0 -4h-5.6zM442.6 991.9h5.6l0 -4h-5.6zM442.2 955.8h5.5l-.1 -4h-5.4zM453.6 975.9h5.5l-.1 -4h-5.4zM453.3 963.8h5.4l-.1 -4h-5.3zM453.1 955.8h5.3l-.2 -4h-5.2zM452.3 935.7h5l-.3 -4h-4.9zM459.4 1004h5.6l0 -4h-5.6zM458.7 963.8h5l-.2 -4h-5zM458.5 959.8h5l-.2 -4h-4.9zM458.2 951.7h4.8l-.3 -4h-4.7zM457.8 943.7h4.6l-.3 -4h-4.5zM457.3 935.7h4.4l-.4 -4h-4.3zM455.8 915.6h4l-.4 -4h-3.9zM487.2 1004h5.6l0 -4h-5.6zM486.1 879.4h7l0 -4h-7z"/><path fill="#ffadad" stroke="#ffadad" stroke-width="0.3" d="M387.9 959.8h5.1l.1 -4h-5.1zM392.3 891.4h4l.3 -4h-3.9zM393.8 875.4h3.7l.3 -4h-3.6zM392.6 979.9h5.5l0 -4h-5.5zM393.1 955.8h5.3l.1 -4h-5.3zM395 911.5h4.8l.2 -4h-4.8zM399 859.3h4l.3 -4h-3.9zM399.4 855.3h3.9l.3 -4h-3.8zM401.5 835.2h3.5l.4 -4h-3.5zM398.2 971.8h5.5l0 -4h-5.5zM398.6 947.7h5.4l.1 -4h-5.4zM398.9 935.7h5.3l.1 -4h-5.3zM400.4 899.5h5l.2 -4h-4.9zM400.6 895.5h4.9l.2 -4h-4.9zM403.9 951.7h5.5l0 -4h-5.4zM409.2 983.9h5.6l0 -4h-5.6zM409.2 975.9h5.5l0 -4h-5.5zM409.4 955.8h5.5l0 -4h-5.5zM409.4 951.7h5.5l0 -4h-5.4zM409.5 943.7h5.4l0 -4h-5.4zM414.8 967.8h5.5l0 -4h-5.5zM414.9 951.7h5.5l0 -4h-5.4zM415 935.7h5.4l0 -4h-5.3zM415.2 911.5h5.1l0 -4h-5.1zM420.3 963.8h5.5l0 -4h-5.5zM425.9 979.9h5.6l0 -4h-5.5zM425.8 959.8h5.5l0 -4h-5.5zM425.5 915.6h5.1l-.1 -4h-5.1zM425.3 903.5h5l-.1 -4h-4.9zM431.5 1000h5.6l0 -4h-5.6zM431.4 971.8h5.5l0 -4h-5.5zM430.8 923.6h5.2l-.1 -4h-5.2zM441.8 939.7h5.4l-.2 -4h-5.3zM441.7 935.7h5.3l-.2 -4h-5.3zM440.5 907.5h5l-.3 -4h-5zM437.5 863.3h4.3l-.4 -4h-4.2zM446.6 927.6h5.2l-.2 -4h-5.2zM446.2 919.6h5.2l-.3 -4h-5.1zM444.1 887.4h4.7l-.4 -4h-4.7zM441.9 863.3h4.3l-.5 -4h-4.2zM450.6 907.5h4.6l-.4 -4h-4.5zM448 879.4h4.1l-.5 -4h-4zM459.3 987.9h5.4l-.1 -4h-5.4zM458.8 967.8h5.1l-.2 -4h-5zM457.6 939.7h4.5l-.3 -4h-4.4zM453 887.4h3.4l-.5 -4h-3.4zM449.9 863.3h3l-.6 -4h-3zM449.3 859.3h3l-.7 -4h-2.9zM446.8 843.2h2.8l-.7 -4h-2.8zM486.6 935.7h6.3l0 -4h-6.4zM486.4 907.5h6.7l0 -4h-6.7zM486.3 903.5h6.7l0 -4h-6.8z"/><path fill="#ff9999" stroke="#ff9999" stroke-width="0.3" d="M388.2 951.7h5l.1 -4h-4.9zM389.5 927.6h4.6l.2 -4h-4.5zM391 907.5h4.2l.2 -4h-4.2zM402.1 807h2.9l.6 -4h-2.9zM394.1 927.6h5l.1 -4h-5zM395.7 899.5h4.6l.2 -4h-4.6zM396.3 891.4h4.5l.2 -4h-4.5zM397.2 879.4h4.3l.3 -4h-4.3zM397.9 871.3h4.2l.3 -4h-4.1zM398.6 863.3h4l.3 -4h-4zM399.8 851.2h3.8l.3 -4h-3.8zM400.2 847.2h3.8l.4 -4h-3.7zM398.5 951.7h5.4l.1 -4h-5.4zM400.2 903.5h5l.1 -4h-5zM402.6 863.3h4.4l.2 -4h-4.3zM403.9 847.2h4.1l.3 -4h-4zM403.7 971.8h5.5l0 -4h-5.5zM405.3 899.5h5l.1 -4h-4.9zM406.2 879.4h4.7l.1 -4h-4.6zM409.7 931.6h5.3l0 -4h-5.3zM410.8 883.4h4.8l.1 -4h-4.7zM411.4 863.3h4.4l.1 -4h-4.3zM415 927.6h5.3l0 -4h-5.3zM415.1 915.6h5.2l0 -4h-5.1zM416.6 827.1h3.6l0 -4h-3.5zM420.3 975.9h5.5l0 -4h-5.5zM425.9 1000h5.6l0 -4h-5.6zM425.5 919.6h5.2l-.1 -4h-5.1zM431.2 951.7h5.4l-.1 -4h-5.4zM431 935.7h5.3l-.1 -4h-5.3zM430.5 911.5h5.1l-.1 -4h-5zM430.3 903.5h5l-.2 -4h-4.9zM428.2 847.2h3.9l-.3 -4h-3.9zM437 987.9h5.6l0 -4h-5.6zM436.7 955.8h5.5l-.1 -4h-5.4zM436.4 939.7h5.4l-.1 -4h-5.3zM436 923.6h5.2l-.2 -4h-5.2zM441.5 931.6h5.3l-.2 -4h-5.3zM441.4 927.6h5.3l-.2 -4h-5.2zM440.7 911.5h5.1l-.2 -4h-5zM440.3 903.5h5l-.3 -4h-4.9zM438.8 879.4h4.6l-.4 -4h-4.5zM438.2 871.3h4.5l-.4 -4h-4.4zM448 971.8h5.5l-.1 -4h-5.5zM445.3 903.5h5l-.3 -4h-4.9zM443.4 879.4h4.6l-.4 -4h-4.5zM449.2 891.4h4.3l-.5 -4h-4.2zM448.4 883.4h4.1l-.5 -4h-4.1zM445.6 859.3h3.7l-.6 -4h-3.6zM444 847.2h3.5l-.7 -4h-3.4zM443.4 843.2h3.4l-.7 -4h-3.3zM459.3 996h5.5l-.1 -4h-5.5zM456.5 923.6h4.2l-.4 -4h-4.1zM454.3 899.5h3.7l-.5 -4h-3.6zM451 871.3h3.2l-.6 -4h-3.1zM448.1 851.2h2.9l-.7 -4h-2.9zM440.9 811h2.7l-.8 -4h-2.7zM486.7 943.7h6.3l0 -4h-6.3zM485.8 847.2h7.3l0 -4h-7.4zM485.7 835.2h7.5l0 -4h-7.5z"/><path fill="#ffa3a3" stroke="#ffa3a3" stroke-width="0.3" d="M388.8 939.7h4.8l.2 -4h-4.7zM389.8 923.6h4.5l.2 -4h-4.4zM390.4 915.6h4.4l.2 -4h-4.3zM391.3 903.5h4.2l.3 -4h-4.1zM392.7 887.4h3.9l.3 -4h-3.8zM393.4 879.4h3.8l.3 -4h-3.7zM396 855.3h3.4l.4 -4h-3.4zM396.4 851.2h3.4l.4 -4h-3.3zM396.9 847.2h3.3l.4 -4h-3.3zM397.8 839.2h3.2l.5 -4h-3.2zM393 959.8h5.4l.1 -4h-5.3zM393.8 935.7h5.1l.1 -4h-5.1zM396.9 883.4h4.4l.3 -4h-4.3zM398.4 955.8h5.5l.1 -4h-5.4zM399.2 927.6h5.3l.1 -4h-5.2zM402.3 867.3h4.5l.2 -4h-4.4zM403.6 1004h5.6l0 -4h-5.6zM403.7 975.9h5.5l0 -4h-5.5zM404.3 931.6h5.3l.1 -4h-5.3zM409.2 1004h5.6l0 -4h-5.6zM409.6 935.7h5.4l0 -4h-5.3zM409.9 919.6h5.2l0 -4h-5.2zM410.2 903.5h5l0 -4h-5zM415 931.6h5.3l0 -4h-5.3zM420.3 951.7h5.5l0 -4h-5.4zM420.3 927.6h5.3l0 -4h-5.3zM420.3 887.4h4.8l-.1 -4h-4.8zM425.9 983.9h5.6l0 -4h-5.6zM425.8 955.8h5.5l0 -4h-5.4zM425.8 951.7h5.4l0 -4h-5.4zM425.7 947.7h5.4l-.1 -4h-5.4zM425.7 943.7h5.4l-.1 -4h-5.4zM425.7 939.7h5.4l-.1 -4h-5.3zM425.4 907.5h5l-.1 -4h-5zM431.5 987.9h5.6l0 -4h-5.6zM431.3 963.8h5.5l-.1 -4h-5.5zM431.3 959.8h5.5l-.1 -4h-5.5zM437 979.9h5.6l0 -4h-5.5zM436.6 947.7h5.4l-.1 -4h-5.4zM436.5 943.7h5.4l-.1 -4h-5.4zM435.7 915.6h5.1l-.2 -4h-5.1zM435.1 899.5h4.9l-.2 -4h-4.9zM435 895.5h4.9l-.2 -4h-4.8zM447.6 951.7h5.4l-.1 -4h-5.4zM447.4 947.7h5.4l-.2 -4h-5.4zM446 915.6h5.1l-.3 -4h-5.1zM443.7 883.4h4.7l-.4 -4h-4.6zM451.1 915.6h4.7l-.3 -4h-4.6zM449.6 895.5h4.4l-.4 -4h-4.3zM447.1 871.3h3.9l-.5 -4h-3.8zM451.5 875.4h3.2l-.6 -4h-3.2zM441.7 815.1h2.7l-.8 -4h-2.7zM486.3 895.5h6.8l0 -4h-6.8z"/><path fill="#ff8585" stroke="#ff8585" stroke-width="0.3" d="M392 895.5h4l.3 -4h-4zM395.1 863.3h3.5l.4 -4h-3.5zM395.5 859.3h3.5l.4 -4h-3.4zM399.9 823.1h3l.5 -4h-3zM401 815.1h3l.5 -4h-3zM394.5 919.6h4.9l.2 -4h-4.9zM395.2 907.5h4.8l.2 -4h-4.7zM395.5 903.5h4.7l.2 -4h-4.6zM397.5 875.4h4.3l.3 -4h-4.2zM398.2 867.3h4.1l.3 -4h-4zM401.1 839.2h3.6l.4 -4h-3.5zM402.9 823.1h3.3l.4 -4h-3.2zM398.1 975.9h5.5l0 -4h-5.5zM400.8 891.4h4.9l.2 -4h-4.8zM401 887.4h4.8l.2 -4h-4.7zM402.1 871.3h4.5l.2 -4h-4.5zM404.7 839.2h3.9l.3 -4h-3.8zM403.7 967.8h5.5l0 -4h-5.5zM404.8 915.6h5.2l.1 -4h-5.1zM405.2 903.5h5l.1 -4h-5zM405.6 891.4h4.9l.1 -4h-4.8zM410 911.5h5.1l0 -4h-5.1zM410.3 899.5h5l0 -4h-4.9zM411.6 859.3h4.3l.1 -4h-4.2zM411.7 855.3h4.2l.1 -4h-4.2zM414.9 943.7h5.4l0 -4h-5.4zM415.4 891.4h4.9l0 -4h-4.8zM415.5 883.4h4.8l0 -4h-4.7zM420.3 931.6h5.3l0 -4h-5.3zM420.3 911.5h5.1l-.1 -4h-5.1zM420.3 903.5h5l-.1 -4h-5zM420.3 899.5h5l-.1 -4h-4.9zM420.3 891.4h4.9l-.1 -4h-4.8zM420.2 879.4h4.7l-.1 -4h-4.6zM420.2 867.3h4.5l-.1 -4h-4.4zM420.2 835.2h3.8l-.1 -4h-3.7zM425.6 927.6h5.3l-.1 -4h-5.2zM425.5 923.6h5.2l-.1 -4h-5.2zM430.7 919.6h5.2l-.1 -4h-5.1zM430.4 907.5h5l-.2 -4h-5zM429.5 879.4h4.6l-.2 -4h-4.5zM428.9 863.3h4.3l-.3 -4h-4.2zM436.2 931.6h5.3l-.1 -4h-5.3zM435.9 919.6h5.2l-.2 -4h-5.1zM434.6 887.4h4.8l-.3 -4h-4.7zM433.9 875.4h4.5l-.3 -4h-4.5zM433 859.3h4.2l-.4 -4h-4.1zM432.7 855.3h4.1l-.4 -4h-4zM431.3 835.2h3.6l-.4 -4h-3.5zM440.1 899.5h4.9l-.3 -4h-4.9zM439.8 895.5h4.9l-.3 -4h-4.8zM439.1 883.4h4.7l-.3 -4h-4.6zM438.5 875.4h4.5l-.4 -4h-4.5zM437.9 867.3h4.4l-.4 -4h-4.3zM433.6 823.1h3.3l-.6 -4h-3.2zM447.8 959.8h5.5l-.1 -4h-5.5zM444.7 895.5h4.8l-.4 -4h-4.8zM443 875.4h4.5l-.5 -4h-4.4zM442.3 867.3h4.4l-.5 -4h-4.3zM441 855.3h4.1l-.5 -4h-4zM435.1 811h2.9l-.8 -4h-2.8zM444.5 851.2h3.5l-.6 -4h-3.5zM438 811h2.8l-.8 -4h-2.8zM456.8 927.6h4.2l-.4 -4h-4.2zM448.7 855.3h2.9l-.7 -4h-2.9zM444.7 831.1h2.7l-.8 -4h-2.7zM440 807h2.7l-.8 -4h-2.7zM485.9 859.3h7.2l0 -4h-7.3zM485.5 815.1h7.7l0 -4h-7.8zM485.5 811h7.8l0 -4h-7.8z"/><path fill="#ff8f8f" stroke="#ff8f8f" stroke-width="0.3" d="M394.2 871.3h3.6l.4 -4h-3.6zM394.7 867.3h3.6l.4 -4h-3.5zM398.8 831.1h3.1l.5 -4h-3.1zM399.4 827.1h3.1l.5 -4h-3zM401.5 811h3l.5 -4h-2.9zM396.6 887.4h4.5l.2 -4h-4.4zM398.2 967.8h5.5l0 -4h-5.5zM401.3 883.4h4.7l.2 -4h-4.7zM403.6 851.2h4.1l.3 -4h-4.1zM404.1 943.7h5.4l.1 -4h-5.4zM404.9 911.5h5.1l.1 -4h-5.1zM405.5 895.5h4.9l.1 -4h-4.9zM407 863.3h4.4l.2 -4h-4.3zM407.3 859.3h4.3l.2 -4h-4.2zM409.7 823.1h3.5l.2 -4h-3.4zM409.3 963.8h5.5l0 -4h-5.5zM409.9 915.6h5.2l0 -4h-5.1zM410.1 907.5h5.1l0 -4h-5zM410.4 895.5h4.9l.1 -4h-4.9zM415 923.6h5.3l0 -4h-5.2zM415.3 899.5h5l0 -4h-4.9zM416 855.3h4.2l0 -4h-4.2zM420.3 955.8h5.5l0 -4h-5.5zM420.3 947.7h5.4l0 -4h-5.4zM420.3 923.6h5.3l0 -4h-5.2zM420.3 907.5h5.1l-.1 -4h-5zM420.3 883.4h4.8l-.1 -4h-4.7zM420.2 871.3h4.5l-.1 -4h-4.5zM425.1 891.4h4.8l-.1 -4h-4.8zM431.4 975.9h5.5l0 -4h-5.5zM430.2 899.5h4.9l-.2 -4h-4.9zM430 891.4h4.8l-.2 -4h-4.8zM429.4 875.4h4.5l-.2 -4h-4.5zM429.1 867.3h4.4l-.2 -4h-4.3zM427.2 827.1h3.4l-.3 -4h-3.3zM435.3 903.5h5l-.2 -4h-4.9zM433.2 863.3h4.3l-.3 -4h-4.2zM441.1 919.6h5.2l-.2 -4h-5.1zM440.9 915.6h5.1l-.2 -4h-5.1zM439.6 891.4h4.8l-.3 -4h-4.8zM439.3 887.4h4.8l-.3 -4h-4.7zM436.1 847.2h3.9l-.5 -4h-3.9zM447.3 943.7h5.4l-.2 -4h-5.4zM444.4 891.4h4.8l-.4 -4h-4.7zM441.4 859.3h4.2l-.5 -4h-4.1zM439.6 843.2h3.8l-.6 -4h-3.7zM435.7 815.1h3.1l-.7 -4h-2.9zM451.7 923.6h4.8l-.3 -4h-4.8zM450.2 903.5h4.5l-.4 -4h-4.4zM448.8 887.4h4.2l-.5 -4h-4.1zM446.6 867.3h3.8l-.6 -4h-3.8zM446.1 863.3h3.8l-.6 -4h-3.7zM438.8 815.1h2.9l-.8 -4h-2.8zM453.5 891.4h3.5l-.5 -4h-3.4zM447.5 847.2h2.9l-.7 -4h-2.8zM446.1 839.2h2.8l-.7 -4h-2.8zM442.5 819.1h2.7l-.8 -4h-2.7zM485.8 843.2h7.4l0 -4h-7.4z"/><path fill="#ff7a7a" stroke="#ff7a7a" stroke-width="0.3" d="M397.4 843.2h3.3l.4 -4h-3.2zM393.6 939.7h5.2l.1 -4h-5.1zM404 815.1h3.1l.4 -4h-3.1zM401.8 875.4h4.6l.2 -4h-4.5zM405.8 827.1h3.6l.3 -4h-3.5zM406.2 823.1h3.5l.3 -4h-3.4zM408 807h3l.4 -4h-2.9zM404.2 939.7h5.4l.1 -4h-5.4zM404.4 927.6h5.3l.1 -4h-5.3zM407.5 855.3h4.2l.2 -4h-4.2zM410.5 891.4h4.9l.1 -4h-4.8zM410.6 887.4h4.8l.1 -4h-4.8zM410.9 879.4h4.7l.1 -4h-4.6zM411 875.4h4.6l.1 -4h-4.5zM411.9 851.2h4.2l.1 -4h-4.1zM415.3 895.5h4.9l0 -4h-4.9zM415.4 887.4h4.8l0 -4h-4.8zM415.7 871.3h4.5l0 -4h-4.5zM416.5 831.1h3.7l0 -4h-3.6zM420.3 919.6h5.2l0 -4h-5.2zM420.3 895.5h4.9l-.1 -4h-4.9zM420.2 875.4h4.6l-.1 -4h-4.5zM420.2 851.2h4.2l-.1 -4h-4.1zM420.2 843.2h4l-.1 -4h-3.9zM425.3 899.5h4.9l-.1 -4h-4.9zM425.1 887.4h4.8l-.1 -4h-4.7zM424.9 879.4h4.6l-.1 -4h-4.5zM424.9 875.4h4.5l-.2 -4h-4.5zM424.6 863.3h4.3l-.2 -4h-4.2zM429.3 871.3h4.5l-.2 -4h-4.4zM426.2 811h3l-.4 -4h-2.8zM435.5 907.5h5l-.2 -4h-5zM434.8 891.4h4.8l-.3 -4h-4.8zM434.4 883.4h4.7l-.3 -4h-4.6zM433.7 871.3h4.5l-.3 -4h-4.4zM432.2 847.2h3.9l-.4 -4h-3.9zM431.6 839.2h3.8l-.4 -4h-3.6zM430.3 823.1h3.3l-.5 -4h-3.2zM436.9 855.3h4.1l-.5 -4h-4zM434.5 831.1h3.5l-.6 -4h-3.4zM434 827.1h3.4l-.6 -4h-3.3zM445 899.5h4.9l-.3 -4h-4.8zM440.5 851.2h4l-.6 -4h-3.9zM437.5 827.1h3.4l-.7 -4h-3.3zM436.9 823.1h3.3l-.7 -4h-3.2zM436.3 819.1h3.2l-.7 -4h-3.1zM441.5 831.1h3.2l-.7 -4h-3.1zM452.5 883.4h3.4l-.6 -4h-3.3zM443.2 823.1h2.7l-.8 -4h-2.7zM486 867.3h7.1l0 -4h-7.2zM485.9 855.3h7.3l0 -4h-7.3zM485.6 819.1h7.7l0 -4h-7.7z"/><path fill="#ff7070" stroke="#ff7070" stroke-width="0.3" d="M398.3 835.2h3.2l.5 -4h-3.1zM400.6 843.2h3.7l.4 -4h-3.6zM403.4 819.1h3.2l.4 -4h-3.1zM405 807h3l.5 -4h-2.9zM403 859.3h4.3l.2 -4h-4.2zM405.4 831.1h3.7l.3 -4h-3.6zM407.1 815.1h3.3l.3 -4h-3.1zM406 883.4h4.8l.1 -4h-4.7zM406.6 871.3h4.5l.1 -4h-4.5zM406.8 867.3h4.5l.1 -4h-4.4zM408.3 843.2h4l.2 -4h-3.9zM409.1 831.1h3.7l.2 -4h-3.6zM412.1 847.2h4.1l.1 -4h-4zM414.1 807h3l.1 -4h-2.9zM415.2 907.5h5.1l0 -4h-5zM415.6 879.4h4.7l0 -4h-4.6zM415.8 863.3h4.4l0 -4h-4.3zM416.4 835.2h3.8l0 -4h-3.7zM420.2 863.3h4.4l-.1 -4h-4.3zM420.2 855.3h4.2l-.1 -4h-4.2zM420.2 827.1h3.6l-.1 -4h-3.5zM425.6 931.6h5.3l-.1 -4h-5.3zM425.4 911.5h5.1l-.1 -4h-5zM425 883.4h4.7l-.1 -4h-4.6zM424.5 859.3h4.2l-.2 -4h-4.1zM424.2 843.2h3.9l-.2 -4h-3.8zM424 835.2h3.6l-.2 -4h-3.5zM430.1 895.5h4.9l-.2 -4h-4.8zM428.8 859.3h4.2l-.3 -4h-4.1zM428.4 851.2h4l-.3 -4h-3.9zM428 843.2h3.9l-.3 -4h-3.8zM426.9 823.1h3.3l-.4 -4h-3.2zM426.5 815.1h3.1l-.4 -4h-3zM426 807h2.8l-.4 -4h-2.7zM434.2 879.4h4.6l-.3 -4h-4.5zM433.5 867.3h4.4l-.3 -4h-4.3zM430.6 827.1h3.4l-.5 -4h-3.3zM429.2 811h3l-.5 -4h-2.8zM434.9 835.2h3.6l-.5 -4h-3.5zM447.8 963.8h5.5l-.1 -4h-5.5zM442.8 839.2h3.3l-.7 -4h-3.3zM486 871.3h7.1l0 -4h-7.1zM486 863.3h7.2l0 -4h-7.2zM485.9 851.2h7.3l0 -4h-7.3zM485.7 831.1h7.5l0 -4h-7.6zM485.5 807h7.8l0 -4h-7.8z"/><path fill="#ff5c5c" stroke="#ff5c5c" stroke-width="0.3" d="M400.4 819.1h3l.5 -4h-3zM402 831.1h3.5l.4 -4h-3.4zM404.3 843.2h4l.3 -4h-3.9zM410.7 811h3.1l.2 -4h-3zM412.4 839.2h3.9l.1 -4h-3.8zM412.8 831.1h3.7l.1 -4h-3.6zM413 827.1h3.6l.1 -4h-3.5zM413.4 819.1h3.4l.1 -4h-3.3zM415.8 867.3h4.5l0 -4h-4.4zM415.9 859.3h4.3l0 -4h-4.2zM416.1 847.2h4.1l0 -4h-4zM416.2 843.2h4l0 -4h-3.9zM420.2 839.2h3.9l-.1 -4h-3.8zM420.1 819.1h3.4l-.1 -4h-3.3zM420.1 815.1h3.3l-.1 -4h-3.1zM424.7 867.3h4.4l-.2 -4h-4.3zM424.3 847.2h3.9l-.2 -4h-3.9zM424.1 839.2h3.8l-.2 -4h-3.6zM423.8 831.1h3.5l-.2 -4h-3.4zM427.8 839.2h3.8l-.3 -4h-3.6zM431.9 843.2h3.9l-.4 -4h-3.8zM429.9 819.1h3.2l-.5 -4h-3.1zM428.8 807h2.8l-.5 -4h-2.7zM437.2 859.3h4.2l-.4 -4h-4.1zM436.5 851.2h4l-.5 -4h-3.9zM435.7 843.2h3.9l-.5 -4h-3.8zM435.3 839.2h3.8l-.5 -4h-3.6zM433.1 819.1h3.2l-.6 -4h-3.1zM432.1 811h3l-.6 -4h-2.8zM442.7 871.3h4.4l-.5 -4h-4.4zM439.1 839.2h3.7l-.6 -4h-3.6zM434.4 807h2.8l-.8 -4h-2.7zM439.5 819.1h3l-.8 -4h-2.9zM437.3 807h2.8l-.8 -4h-2.7z"/><path fill="#ff4747" stroke="#ff4747" stroke-width="0.3" d="M402.4 827.1h3.4l.4 -4h-3.3zM412.2 843.2h4l.1 -4h-3.9zM416 851.2h4.2l0 -4h-4.1zM416.8 819.1h3.4l0 -4h-3.3zM417.1 807h3l0 -4h-2.9zM420.2 831.1h3.7l-.1 -4h-3.6zM423.4 815.1h3.1l-.2 -4h-3zM427.6 835.2h3.6l-.3 -4h-3.5zM438 831.1h3.5l-.7 -4h-3.4z"/><path fill="#ff6666" stroke="#ff6666" stroke-width="0.3" d="M404.5 811h3.1l.5 -4h-3zM403.3 855.3h4.2l.2 -4h-4.1zM405 835.2h3.8l.3 -4h-3.7zM407.5 811h3.1l.3 -4h-3zM405.8 887.4h4.8l.1 -4h-4.8zM406.4 875.4h4.6l.1 -4h-4.5zM408 847.2h4.1l.2 -4h-4zM408.5 839.2h3.9l.2 -4h-3.8zM408.8 835.2h3.8l.2 -4h-3.7zM409.4 827.1h3.6l.2 -4h-3.5zM410 819.1h3.4l.2 -4h-3.3zM411.1 871.3h4.5l.1 -4h-4.5zM412.6 835.2h3.8l.1 -4h-3.7zM413.2 823.1h3.5l.1 -4h-3.4zM415.6 875.4h4.6l0 -4h-4.5zM420.2 847.2h4.1l-.1 -4h-4zM425.2 895.5h4.9l-.1 -4h-4.8zM424.8 871.3h4.5l-.2 -4h-4.4zM424.4 855.3h4.1l-.2 -4h-4zM423.1 807h2.8l-.3 -4h-2.7zM430.9 931.6h5.3l-.1 -4h-5.3zM430.6 915.6h5.1l-.1 -4h-5.1zM429.8 887.4h4.8l-.2 -4h-4.7zM429.7 883.4h4.7l-.2 -4h-4.6zM428.6 855.3h4.1l-.3 -4h-4zM426.7 819.1h3.2l-.4 -4h-3.1zM435.6 911.5h5.1l-.2 -4h-5zM432.4 851.2h4l-.4 -4h-3.9zM430.9 831.1h3.5l-.4 -4h-3.4zM429.5 815.1h3.1l-.5 -4h-3zM431.6 807h2.8l-.7 -4h-2.7zM445.5 907.5h5l-.3 -4h-5zM449.9 899.5h4.4l-.4 -4h-4.4zM440.9 827.1h3.1l-.8 -4h-3zM485.6 827.1h7.6l0 -4h-7.6z"/><path fill="#ff5252" stroke="#ff5252" stroke-width="0.3" d="M406.7 819.1h3.4l.3 -4h-3.3zM407.7 851.2h4.2l.2 -4h-4.1zM410.3 815.1h3.3l.2 -4h-3.1zM411.3 867.3h4.5l.1 -4h-4.4zM413.6 815.1h3.3l.1 -4h-3.1zM417 811h3.1l0 -4h-3zM420.2 859.3h4.3l-.1 -4h-4.2zM420.1 811h3.1l-.1 -4h-3zM420.1 807h3l-.1 -4h-2.9zM424.4 851.2h4l-.2 -4h-3.9zM423.6 823.1h3.3l-.2 -4h-3.2zM423.5 819.1h3.2l-.2 -4h-3.1zM423.3 811h3l-.3 -4h-2.8zM427.4 831.1h3.5l-.3 -4h-3.4zM438.5 835.2h3.6l-.6 -4h-3.5zM442.2 835.2h3.3l-.7 -4h-3.2z"/><path fill="#ff3d3d" stroke="#ff3d3d" stroke-width="0.3" d="M411 807h3l.2 -4h-2.9zM413.8 811h3.1l.1 -4h-3zM416.3 839.2h3.9l0 -4h-3.8zM416.7 823.1h3.5l0 -4h-3.4zM420.1 823.1h3.5l-.1 -4h-3.4zM423.7 827.1h3.4l-.2 -4h-3.3zM432.6 815.1h3.1l-.6 -4h-3z"/><path fill="#ff2929" stroke="#ff2929" stroke-width="0.3" d="M416.9 815.1h3.3l0 -4h-3.1z"/><path fill="#1f1fff" stroke="#1f1fff" stroke-width="0.3" d="M480.3 947.7h6.4l0 -4h-6.5zM480.2 943.7h6.5l0 -4h-6.5zM479.9 931.6h6.7l0 -4h-6.7zM479.3 907.5h7l0 -4h-7.1zM478.4 871.3h7.6l0 -4h-7.7z"/><path fill="#0000ff" stroke="#0000ff" stroke-width="0.3" d="M480.1 939.7h6.5l0 -4h-6.6zM479.6 919.6h6.9l0 -4h-6.9zM479.5 915.6h6.9l0 -4h-7zM479.2 903.5h7.1l0 -4h-7.2zM478.9 891.4h7.3l0 -4h-7.4zM478.5 875.4h7.6l0 -4h-7.6z"/><path fill="#1414ff" stroke="#1414ff" stroke-width="0.3" d="M480 935.7h6.6l0 -4h-6.7zM479.7 923.6h6.8l0 -4h-6.9zM479.4 911.5h7l0 -4h-7zM478.7 883.4h7.4l0 -4h-7.5zM478.6 879.4h7.5l0 -4h-7.6z"/><path fill="#0a0aff" stroke="#0a0aff" stroke-width="0.3" d="M479.8 927.6h6.7l0 -4h-6.8z"/><path fill="#3d3dff" stroke="#3d3dff" stroke-width="0.3" d="M479 895.5h7.2l0 -4h-7.3z"/><path fill="#2929ff" stroke="#2929ff" stroke-width="0.3" d="M478.8 887.4h7.4l0 -4h-7.4z"/><path fill="none" stroke="#777" stroke-width="0.7" d="M342.3 1004.0L342.4 996.0L342.6 987.9L342.7 979.9L342.9 971.8L343.0 963.8L343.2 955.8L343.3 947.7L343.5 939.7L343.6 931.6L343.8 923.6L343.9 915.6L344.1 907.5L344.2 899.5L344.4 891.4L344.5 883.4L344.7 875.4L344.8 867.3L345.0 859.3L345.1 851.2L345.3 843.2L345.4 835.2L345.6 827.1L345.7 819.1L345.9 811.0L346.0 803.0M347.8 1004.0L348.3 996.0L348.7 987.9L349.1 979.9L349.6 971.8L350.0 963.8L350.4 955.8L350.9 947.7L351.3 939.7L351.7 931.6L352.2 923.6L352.6 915.6L353.0 907.5L353.4 899.5L353.9 891.4L354.3 883.4L354.7 875.4L355.2 867.3L355.6 859.3L356.0 851.2L356.5 843.2L356.9 835.2L357.3 827.1L357.8 819.1L358.2 811.0L358.6 803.0M353.4 1004.0L354.1 996.0L354.8 987.9L355.6 979.9L356.3 971.8L357.0 963.8L357.7 955.8L358.4 947.7L359.1 939.7L359.8 931.6L360.5 923.6L361.2 915.6L362.0 907.5L362.7 899.5L363.4 891.4L364.1 883.4L364.8 875.4L365.5 867.3L366.2 859.3L366.9 851.2L367.6 843.2L368.4 835.2L369.1 827.1L369.8 819.1L370.5 811.0L371.2 803.0M359.0 1004.0L360.0 996.0L361.0 987.9L362.0 979.9L363.0 971.8L364.0 963.8L364.9 955.8L365.9 947.7L366.9 939.7L367.9 931.6L368.9 923.6L369.9 915.6L370.9 907.5L371.9 899.5L372.9 891.4L373.9 883.4L374.9 875.4L375.9 867.3L376.8 859.3L377.8 851.2L378.8 843.2L379.8 835.2L380.8 827.1L381.8 819.1L382.8 811.0L383.8 803.0M364.6 1004.0L365.5 996.0L366.4 987.9L367.3 979.9L368.2 971.8L369.2 963.8L370.1 955.8L371.0 947.7L371.9 939.7L372.8 931.6L373.8 923.6L374.7 915.6L375.6 907.5L376.5 899.5L377.4 891.4L378.4 883.4L379.3 875.4L380.2 867.3L381.1 859.3L382.0 851.2L383.0 843.2L383.9 835.2L384.8 827.1L385.7 819.1L386.6 811.0L387.6 803.0M370.1 1004.0L370.9 996.0L371.8 987.9L372.6 979.9L373.4 971.8L374.3 963.8L375.1 955.8L375.9 947.7L376.8 939.7L377.6 931.6L378.5 923.6L379.3 915.6L380.2 907.5L381.0 899.5L381.9 891.4L382.7 883.4L383.6 875.4L384.4 867.3L385.3 859.3L386.2 851.2L387.0 843.2L387.9 835.2L388.8 827.1L389.6 819.1L390.5 811.0L391.3 803.0M375.7 1004.0L376.1 996.0L376.7 987.9L377.2 979.9L377.9 971.8L378.5 963.8L379.2 955.8L379.9 947.7L380.7 939.7L381.4 931.6L382.2 923.6L383.0 915.6L383.8 907.5L384.6 899.5L385.4 891.4L386.2 883.4L387.1 875.4L387.9 867.3L388.8 859.3L389.7 851.2L390.6 843.2L391.5 835.2L392.4 827.1L393.3 819.1L394.2 811.0L395.1 803.0M381.3 1004.0L381.4 996.0L381.7 987.9L382.0 979.9L382.4 971.8L382.9 963.8L383.4 955.8L383.9 947.7L384.5 939.7L385.1 931.6L385.8 923.6L386.4 915.6L387.2 907.5L387.9 899.5L388.7 891.4L389.5 883.4L390.3 875.4L391.2 867.3L392.1 859.3L393.0 851.2L393.9 843.2L394.8 835.2L395.8 827.1L396.8 819.1L397.8 811.0L398.9 803.0M386.9 1004.0L386.9 996.0L387.0 987.9L387.2 979.9L387.4 971.8L387.7 963.8L388.0 955.8L388.4 947.7L388.8 939.7L389.3 931.6L389.8 923.6L390.4 915.6L391.0 907.5L391.6 899.5L392.3 891.4L393.1 883.4L393.8 875.4L394.7 867.3L395.5 859.3L396.4 851.2L397.4 843.2L398.3 835.2L399.4 827.1L400.4 819.1L401.5 811.0L402.7 803.0M392.4 1004.0L392.5 996.0L392.5 987.9L392.6 979.9L392.7 971.8L392.9 963.8L393.1 955.8L393.3 947.7L393.6 939.7L393.9 931.6L394.3 923.6L394.7 915.6L395.2 907.5L395.7 899.5L396.3 891.4L396.9 883.4L397.5 875.4L398.2 867.3L399.0 859.3L399.8 851.2L400.6 843.2L401.5 835.2L402.4 827.1L403.4 819.1L404.5 811.0L405.6 803.0M398.0 1004.0L398.0 996.0L398.1 987.9L398.1 979.9L398.2 971.8L398.3 963.8L398.4 955.8L398.6 947.7L398.8 939.7L399.0 931.6L399.3 923.6L399.6 915.6L400.0 907.5L400.4 899.5L400.8 891.4L401.3 883.4L401.8 875.4L402.3 867.3L403.0 859.3L403.6 851.2L404.3 843.2L405.0 835.2L405.8 827.1L406.7 819.1L407.5 811.0L408.5 803.0M403.6 1004.0L403.6 996.0L403.6 987.9L403.7 979.9L403.7 971.8L403.8 963.8L403.9 955.8L404.0 947.7L404.2 939.7L404.3 931.6L404.5 923.6L404.8 915.6L405.0 907.5L405.3 899.5L405.6 891.4L406.0 883.4L406.4 875.4L406.8 867.3L407.3 859.3L407.7 851.2L408.3 843.2L408.8 835.2L409.4 827.1L410.0 819.1L410.7 811.0L411.4 803.0M409.2 1004.0L409.2 996.0L409.2 987.9L409.2 979.9L409.2 971.8L409.3 963.8L409.4 955.8L409.4 947.7L409.5 939.7L409.7 931.6L409.8 923.6L409.9 915.6L410.1 907.5L410.3 899.5L410.5 891.4L410.8 883.4L411.0 875.4L411.3 867.3L411.6 859.3L411.9 851.2L412.2 843.2L412.6 835.2L413.0 827.1L413.4 819.1L413.8 811.0L414.3 803.0M414.7 1004.0L414.8 996.0L414.8 987.9L414.8 979.9L414.8 971.8L414.8 963.8L414.8 955.8L414.9 947.7L414.9 939.7L415.0 931.6L415.0 923.6L415.1 915.6L415.2 907.5L415.3 899.5L415.4 891.4L415.5 883.4L415.6 875.4L415.8 867.3L415.9 859.3L416.0 851.2L416.2 843.2L416.4 835.2L416.6 827.1L416.8 819.1L417.0 811.0L417.2 803.0M420.3 1004.0L420.3 996.0L420.3 987.9L420.3 979.9L420.3 971.8L420.3 963.8L420.3 955.8L420.3 947.7L420.3 939.7L420.3 931.6L420.3 923.6L420.3 915.6L420.3 907.5L420.3 899.5L420.3 891.4L420.3 883.4L420.2 875.4L420.2 867.3L420.2 859.3L420.2 851.2L420.2 843.2L420.2 835.2L420.2 827.1L420.1 819.1L420.1 811.0L420.1 803.0M425.9 1004.0L425.9 996.0L425.9 987.9L425.9 979.9L425.9 971.8L425.8 963.8L425.8 955.8L425.7 947.7L425.7 939.7L425.6 931.6L425.5 923.6L425.5 915.6L425.4 907.5L425.3 899.5L425.1 891.4L425.0 883.4L424.9 875.4L424.7 867.3L424.5 859.3L424.4 851.2L424.2 843.2L424.0 835.2L423.7 827.1L423.5 819.1L423.3 811.0L423.0 803.0M431.5 1004.0L431.5 996.0L431.5 987.9L431.4 979.9L431.4 971.8L431.3 963.8L431.3 955.8L431.2 947.7L431.1 939.7L430.9 931.6L430.8 923.6L430.6 915.6L430.4 907.5L430.2 899.5L430.0 891.4L429.7 883.4L429.4 875.4L429.1 867.3L428.8 859.3L428.4 851.2L428.0 843.2L427.6 835.2L427.2 827.1L426.7 819.1L426.2 811.0L425.7 803.0M437.1 1004.0L437.0 996.0L437.0 987.9L437.0 979.9L436.9 971.8L436.8 963.8L436.7 955.8L436.6 947.7L436.4 939.7L436.2 931.6L436.0 923.6L435.7 915.6L435.5 907.5L435.1 899.5L434.8 891.4L434.4 883.4L433.9 875.4L433.5 867.3L433.0 859.3L432.4 851.2L431.9 843.2L431.3 835.2L430.6 827.1L429.9 819.1L429.2 811.0L428.4 803.0M442.6 1004.0L442.6 996.0L442.6 987.9L442.5 979.9L442.5 971.8L442.3 963.8L442.2 955.8L442.0 947.7L441.8 939.7L441.5 931.6L441.2 923.6L440.9 915.6L440.5 907.5L440.1 899.5L439.6 891.4L439.1 883.4L438.5 875.4L437.9 867.3L437.2 859.3L436.5 851.2L435.7 843.2L434.9 835.2L434.0 827.1L433.1 819.1L432.1 811.0L431.1 803.0M448.2 1004.0L448.2 996.0L448.2 987.9L448.1 979.9L448.0 971.8L447.8 963.8L447.7 955.8L447.4 947.7L447.2 939.7L446.8 931.6L446.4 923.6L446.0 915.6L445.5 907.5L445.0 899.5L444.4 891.4L443.7 883.4L443.0 875.4L442.3 867.3L441.4 859.3L440.5 851.2L439.6 843.2L438.5 835.2L437.5 827.1L436.3 819.1L435.1 811.0L433.8 803.0M453.8 1004.0L453.8 996.0L453.7 987.9L453.6 979.9L453.5 971.8L453.3 963.8L453.1 955.8L452.8 947.7L452.5 939.7L452.1 931.6L451.7 923.6L451.1 915.6L450.6 907.5L449.9 899.5L449.2 891.4L448.4 883.4L447.5 875.4L446.6 867.3L445.6 859.3L444.5 851.2L443.4 843.2L442.2 835.2L440.9 827.1L439.5 819.1L438.0 811.0L436.5 803.0M459.4 1004.0L459.3 996.0L459.3 987.9L459.1 979.9L458.9 971.8L458.7 963.8L458.4 955.8L458.0 947.7L457.6 939.7L457.1 931.6L456.5 923.6L455.8 915.6L455.1 907.5L454.3 899.5L453.5 891.4L452.5 883.4L451.5 875.4L450.5 867.3L449.3 859.3L448.1 851.2L446.8 843.2L445.4 835.2L444.0 827.1L442.5 819.1L440.9 811.0L439.2 803.0M464.9 1004.0L464.9 996.0L464.7 987.9L464.5 979.9L464.1 971.8L463.7 963.8L463.3 955.8L462.7 947.7L462.1 939.7L461.4 931.6L460.6 923.6L459.8 915.6L458.9 907.5L458.0 899.5L457.0 891.4L455.9 883.4L454.8 875.4L453.6 867.3L452.3 859.3L451.0 851.2L449.6 843.2L448.2 835.2L446.7 827.1L445.1 819.1L443.5 811.0L441.9 803.0M470.5 1004.0L470.4 996.0L470.1 987.9L469.8 979.9L469.4 971.8L468.9 963.8L468.4 955.8L467.9 947.7L467.3 939.7L466.7 931.6L466.0 923.6L465.3 915.6L464.6 907.5L463.8 899.5L463.1 891.4L462.3 883.4L461.4 875.4L460.6 867.3L459.7 859.3L458.7 851.2L457.8 843.2L456.8 835.2L455.9 827.1L454.8 819.1L453.8 811.0L452.8 803.0M476.1 1004.0L475.8 996.0L475.5 987.9L475.1 979.9L474.7 971.8L474.3 963.8L473.8 955.8L473.4 947.7L472.9 939.7L472.4 931.6L471.9 923.6L471.4 915.6L470.9 907.5L470.4 899.5L469.9 891.4L469.3 883.4L468.8 875.4L468.3 867.3L467.7 859.3L467.1 851.2L466.6 843.2L466.0 835.2L465.4 827.1L464.8 819.1L464.2 811.0L463.7 803.0M481.7 1004.0L481.5 996.0L481.3 987.9L481.1 979.9L480.9 971.8L480.7 963.8L480.5 955.8L480.3 947.7L480.1 939.7L479.9 931.6L479.7 923.6L479.5 915.6L479.3 907.5L479.1 899.5L478.9 891.4L478.7 883.4L478.5 875.4L478.3 867.3L478.1 859.3L477.9 851.2L477.7 843.2L477.5 835.2L477.3 827.1L477.1 819.1L476.9 811.0L476.7 803.0M487.2 1004.0L487.2 996.0L487.1 987.9L487.0 979.9L486.9 971.8L486.9 963.8L486.8 955.8L486.7 947.7L486.7 939.7L486.6 931.6L486.5 923.6L486.4 915.6L486.4 907.5L486.3 899.5L486.2 891.4L486.2 883.4L486.1 875.4L486.0 867.3L485.9 859.3L485.9 851.2L485.8 843.2L485.7 835.2L485.6 827.1L485.6 819.1L485.5 811.0L485.4 803.0M492.8 1004.0L492.8 996.0L492.8 987.9L492.9 979.9L492.9 971.8L492.9 963.8L492.9 955.8L492.9 947.7L493.0 939.7L493.0 931.6L493.0 923.6L493.0 915.6L493.0 907.5L493.0 899.5L493.1 891.4L493.1 883.4L493.1 875.4L493.1 867.3L493.1 859.3L493.2 851.2L493.2 843.2L493.2 835.2L493.2 827.1L493.2 819.1L493.3 811.0L493.3 803.0M498.4 1004.0L498.3 996.0L498.3 987.9L498.3 979.9L498.2 971.8L498.2 963.8L498.2 955.8L498.1 947.7L498.1 939.7L498.0 931.6L498.0 923.6L498.0 915.6L497.9 907.5L497.9 899.5L497.9 891.4L497.8 883.4L497.8 875.4L497.7 867.3L497.7 859.3L497.7 851.2L497.6 843.2L497.6 835.2L497.5 827.1L497.5 819.1L497.5 811.0L497.4 803.0M504.0 1004.0L503.9 996.0L503.8 987.9L503.7 979.9L503.6 971.8L503.5 963.8L503.4 955.8L503.3 947.7L503.2 939.7L503.1 931.6L503.0 923.6L502.9 915.6L502.8 907.5L502.7 899.5L502.6 891.4L502.5 883.4L502.4 875.4L502.4 867.3L502.3 859.3L502.2 851.2L502.1 843.2L502.0 835.2L501.9 827.1L501.8 819.1L501.7 811.0L501.6 803.0M509.5 1004.0L509.4 996.0L509.2 987.9L509.1 979.9L508.9 971.8L508.8 963.8L508.6 955.8L508.5 947.7L508.3 939.7L508.2 931.6L508.0 923.6L507.9 915.6L507.7 907.5L507.6 899.5L507.4 891.4L507.3 883.4L507.1 875.4L507.0 867.3L506.8 859.3L506.7 851.2L506.5 843.2L506.4 835.2L506.2 827.1L506.1 819.1L505.9 811.0L505.8 803.0"/></svg><div style="position:absolute;left:324px;top:8px;width:201px;height:201px;border:2px solid #000"></div><div style="position:absolute;left:337.78px;top:206px;width:2.0px;height:6px;background:#000;"></div><div style="position:absolute;left:338.8px;top:220.3px;transform:translateX(-50%);font:20px 'Liberation Sans', sans-serif;line-height:1;white-space:nowrap">–3</div><div style="position:absolute;left:366.82px;top:206px;width:2.0px;height:6px;background:#000;"></div><div style="position:absolute;left:367.8px;top:220.3px;transform:translateX(-50%);font:20px 'Liberation Sans', sans-serif;line-height:1;white-space:nowrap">–2</div><div style="position:absolute;left:395.85999999999996px;top:206px;width:2.0px;height:6px;background:#000;"></div><div style="position:absolute;left:396.9px;top:220.3px;transform:translateX(-50%);font:20px 'Liberation Sans', sans-serif;line-height:1;white-space:nowrap">–1</div><div style="position:absolute;left:424.9px;top:206px;width:2.0px;height:6px;background:#000;"></div><div style="position:absolute;left:425.9px;top:220.3px;transform:translateX(-50%);font:20px 'Liberation Sans', sans-serif;line-height:1;white-space:nowrap">0</div><div style="position:absolute;left:453.94px;top:206px;width:2.0px;height:6px;background:#000;"></div><div style="position:absolute;left:454.9px;top:220.3px;transform:translateX(-50%);font:20px 'Liberation Sans', sans-serif;line-height:1;white-space:nowrap">1</div><div style="position:absolute;left:482.97999999999996px;top:206px;width:2.0px;height:6px;background:#000;"></div><div style="position:absolute;left:484.0px;top:220.3px;transform:translateX(-50%);font:20px 'Liberation Sans', sans-serif;line-height:1;white-space:nowrap">2</div><div style="position:absolute;left:512.02px;top:206px;width:2.0px;height:6px;background:#000;"></div><div style="position:absolute;left:513.0px;top:220.3px;transform:translateX(-50%);font:20px 'Liberation Sans', sans-serif;line-height:1;white-space:nowrap">3</div><div style="position:absolute;right:741.5px;top:202.4px;font:20px 'Liberation Sans', sans-serif;line-height:1;white-space:nowrap">0</div><div style="position:absolute;left:325px;top:143.33333333333331px;width:6px;height:2.0px;background:#000;"></div><div style="position:absolute;right:741.5px;top:134.7px;font:20px 'Liberation Sans', sans-serif;line-height:1;white-space:nowrap">2</div><div style="position:absolute;left:325px;top:75.66666666666666px;width:6px;height:2.0px;background:#000;"></div><div style="position:absolute;right:741.5px;top:67.1px;font:20px 'Liberation Sans', sans-serif;line-height:1;white-space:nowrap">4</div><div style="position:absolute;right:741.5px;top:-0.6px;font:20px 'Liberation Sans', sans-serif;line-height:1;white-space:nowrap">6</div><div style="position:absolute;left:426.9px;top:243.8px;transform:translateX(-50%);font:20.6px 'Liberation Sans', sans-serif;letter-spacing:0.2px;line-height:1;white-space:nowrap">Position (mm)</div><div style="position:absolute;left:287px;top:114.0px;transform-origin:0 0;transform:rotate(-90deg) translate(-50%,0);font:20px 'Liberation Sans', sans-serif;line-height:1;white-space:nowrap"><span style="position:relative;top:-16.9px">Time (h)</span></div><div style="position:absolute;left:324px;top:271px;width:201px;height:201px;border:2px solid #000"></div><div style="position:absolute;left:337.78px;top:469px;width:2.0px;height:6px;background:#000;"></div><div style="position:absolute;left:338.8px;top:483.3px;transform:translateX(-50%);font:20px 'Liberation Sans', sans-serif;line-height:1;white-space:nowrap">–3</div><div style="position:absolute;left:366.82px;top:469px;width:2.0px;height:6px;background:#000;"></div><div style="position:absolute;left:367.8px;top:483.3px;transform:translateX(-50%);font:20px 'Liberation Sans', sans-serif;line-height:1;white-space:nowrap">–2</div><div style="position:absolute;left:395.85999999999996px;top:469px;width:2.0px;height:6px;background:#000;"></div><div style="position:absolute;left:396.9px;top:483.3px;transform:translateX(-50%);font:20px 'Liberation Sans', sans-serif;line-height:1;white-space:nowrap">–1</div><div style="position:absolute;left:424.9px;top:469px;width:2.0px;height:6px;background:#000;"></div><div style="position:absolute;left:425.9px;top:483.3px;transform:translateX(-50%);font:20px 'Liberation Sans', sans-serif;line-height:1;white-space:nowrap">0</div><div style="position:absolute;left:453.94px;top:469px;width:2.0px;height:6px;background:#000;"></div><div style="position:absolute;left:454.9px;top:483.3px;transform:translateX(-50%);font:20px 'Liberation Sans', sans-serif;line-height:1;white-space:nowrap">1</div><div style="position:absolute;left:482.97999999999996px;top:469px;width:2.0px;height:6px;background:#000;"></div><div style="position:absolute;left:484.0px;top:483.3px;transform:translateX(-50%);font:20px 'Liberation Sans', sans-serif;line-height:1;white-space:nowrap">2</div><div style="position:absolute;left:512.02px;top:469px;width:2.0px;height:6px;background:#000;"></div><div style="position:absolute;left:513.0px;top:483.3px;transform:translateX(-50%);font:20px 'Liberation Sans', sans-serif;line-height:1;white-space:nowrap">3</div><div style="position:absolute;right:741.5px;top:465.4px;font:20px 'Liberation Sans', sans-serif;line-height:1;white-space:nowrap">0</div><div style="position:absolute;left:325px;top:406.3333333333333px;width:6px;height:2.0px;background:#000;"></div><div style="position:absolute;right:741.5px;top:397.7px;font:20px 'Liberation Sans', sans-serif;line-height:1;white-space:nowrap">2</div><div style="position:absolute;left:325px;top:338.66666666666663px;width:6px;height:2.0px;background:#000;"></div><div style="position:absolute;right:741.5px;top:330.1px;font:20px 'Liberation Sans', sans-serif;line-height:1;white-space:nowrap">4</div><div style="position:absolute;right:741.5px;top:262.4px;font:20px 'Liberation Sans', sans-serif;line-height:1;white-space:nowrap">6</div><div style="position:absolute;left:426.9px;top:506.8px;transform:translateX(-50%);font:20.6px 'Liberation Sans', sans-serif;letter-spacing:0.2px;line-height:1;white-space:nowrap">Position (mm)</div><div style="position:absolute;left:287px;top:377.0px;transform-origin:0 0;transform:rotate(-90deg) translate(-50%,0);font:20px 'Liberation Sans', sans-serif;line-height:1;white-space:nowrap"><span style="position:relative;top:-16.9px">Time (h)</span></div><div style="position:absolute;left:324px;top:533.5px;width:201px;height:201.0px;border:2px solid #000"></div><div style="position:absolute;left:337.78px;top:731.5px;width:2.0px;height:6.0px;background:#000;"></div><div style="position:absolute;left:338.8px;top:745.8px;transform:translateX(-50%);font:20px 'Liberation Sans', sans-serif;line-height:1;white-space:nowrap">–3</div><div style="position:absolute;left:366.82px;top:731.5px;width:2.0px;height:6.0px;background:#000;"></div><div style="position:absolute;left:367.8px;top:745.8px;transform:translateX(-50%);font:20px 'Liberation Sans', sans-serif;line-height:1;white-space:nowrap">–2</div><div style="position:absolute;left:395.85999999999996px;top:731.5px;width:2.0px;height:6.0px;background:#000;"></div><div style="position:absolute;left:396.9px;top:745.8px;transform:translateX(-50%);font:20px 'Liberation Sans', sans-serif;line-height:1;white-space:nowrap">–1</div><div style="position:absolute;left:424.9px;top:731.5px;width:2.0px;height:6.0px;background:#000;"></div><div style="position:absolute;left:425.9px;top:745.8px;transform:translateX(-50%);font:20px 'Liberation Sans', sans-serif;line-height:1;white-space:nowrap">0</div><div style="position:absolute;left:453.94px;top:731.5px;width:2.0px;height:6.0px;background:#000;"></div><div style="position:absolute;left:454.9px;top:745.8px;transform:translateX(-50%);font:20px 'Liberation Sans', sans-serif;line-height:1;white-space:nowrap">1</div><div style="position:absolute;left:482.97999999999996px;top:731.5px;width:2.0px;height:6.0px;background:#000;"></div><div style="position:absolute;left:484.0px;top:745.8px;transform:translateX(-50%);font:20px 'Liberation Sans', sans-serif;line-height:1;white-space:nowrap">2</div><div style="position:absolute;left:512.02px;top:731.5px;width:2.0px;height:6.0px;background:#000;"></div><div style="position:absolute;left:513.0px;top:745.8px;transform:translateX(-50%);font:20px 'Liberation Sans', sans-serif;line-height:1;white-space:nowrap">3</div><div style="position:absolute;right:741.5px;top:727.9px;font:20px 'Liberation Sans', sans-serif;line-height:1;white-space:nowrap">0</div><div style="position:absolute;left:325px;top:668.8333333333334px;width:6px;height:2.0px;background:#000;"></div><div style="position:absolute;right:741.5px;top:660.2px;font:20px 'Liberation Sans', sans-serif;line-height:1;white-space:nowrap">2</div><div style="position:absolute;left:325px;top:601.1666666666666px;width:6px;height:2.0px;background:#000;"></div><div style="position:absolute;right:741.5px;top:592.6px;font:20px 'Liberation Sans', sans-serif;line-height:1;white-space:nowrap">4</div><div style="position:absolute;right:741.5px;top:524.9px;font:20px 'Liberation Sans', sans-serif;line-height:1;white-space:nowrap">6</div><div style="position:absolute;left:426.9px;top:769.3px;transform:translateX(-50%);font:20.6px 'Liberation Sans', sans-serif;letter-spacing:0.2px;line-height:1;white-space:nowrap">Position (mm)</div><div style="position:absolute;left:287px;top:632.0px;transform-origin:0 0;transform:rotate(-90deg) translate(-50%,0);font:20px 'Liberation Sans', sans-serif;line-height:1;white-space:nowrap"><span style="position:relative;top:-16.9px">Time (h)</span></div><div style="position:absolute;left:324px;top:801px;width:201px;height:201px;border:2px solid #000"></div><div style="position:absolute;left:337.78px;top:999px;width:2.0px;height:6px;background:#000;"></div><div style="position:absolute;left:338.8px;top:1013.3px;transform:translateX(-50%);font:20px 'Liberation Sans', sans-serif;line-height:1;white-space:nowrap">–3</div><div style="position:absolute;left:366.82px;top:999px;width:2.0px;height:6px;background:#000;"></div><div style="position:absolute;left:367.8px;top:1013.3px;transform:translateX(-50%);font:20px 'Liberation Sans', sans-serif;line-height:1;white-space:nowrap">–2</div><div style="position:absolute;left:395.85999999999996px;top:999px;width:2.0px;height:6px;background:#000;"></div><div style="position:absolute;left:396.9px;top:1013.3px;transform:translateX(-50%);font:20px 'Liberation Sans', sans-serif;line-height:1;white-space:nowrap">–1</div><div style="position:absolute;left:424.9px;top:999px;width:2.0px;height:6px;background:#000;"></div><div style="position:absolute;left:425.9px;top:1013.3px;transform:translateX(-50%);font:20px 'Liberation Sans', sans-serif;line-height:1;white-space:nowrap">0</div><div style="position:absolute;left:453.94px;top:999px;width:2.0px;height:6px;background:#000;"></div><div style="position:absolute;left:454.9px;top:1013.3px;transform:translateX(-50%);font:20px 'Liberation Sans', sans-serif;line-height:1;white-space:nowrap">1</div><div style="position:absolute;left:482.97999999999996px;top:999px;width:2.0px;height:6px;background:#000;"></div><div style="position:absolute;left:484.0px;top:1013.3px;transform:translateX(-50%);font:20px 'Liberation Sans', sans-serif;line-height:1;white-space:nowrap">2</div><div style="position:absolute;left:512.02px;top:999px;width:2.0px;height:6px;background:#000;"></div><div style="position:absolute;left:513.0px;top:1013.3px;transform:translateX(-50%);font:20px 'Liberation Sans', sans-serif;line-height:1;white-space:nowrap">3</div><div style="position:absolute;left:325px;top:1004.0px;width:6px;height:2.0px;background:#000;"></div><div style="position:absolute;right:741.5px;top:995.4px;font:20px 'Liberation Sans', sans-serif;line-height:1;white-space:nowrap">0</div><div style="position:absolute;left:325px;top:955.6090584028606px;width:6px;height:2.0px;background:#000;"></div><div style="position:absolute;right:741.5px;top:947.0px;font:20px 'Liberation Sans', sans-serif;line-height:1;white-space:nowrap">2</div><div style="position:absolute;left:325px;top:907.2181168057211px;width:6px;height:2.0px;background:#000;"></div><div style="position:absolute;right:741.5px;top:898.6px;font:20px 'Liberation Sans', sans-serif;line-height:1;white-space:nowrap">4</div><div style="position:absolute;left:325px;top:858.8271752085816px;width:6px;height:2.0px;background:#000;"></div><div style="position:absolute;right:741.5px;top:850.2px;font:20px 'Liberation Sans', sans-serif;line-height:1;white-space:nowrap">6</div><div style="position:absolute;left:325px;top:810.4362336114423px;width:6px;height:2.0px;background:#000;"></div><div style="position:absolute;right:741.5px;top:801.8px;font:20px 'Liberation Sans', sans-serif;line-height:1;white-space:nowrap">8</div><div style="position:absolute;left:426.9px;top:1039.3px;transform:translateX(-50%);font:20.6px 'Liberation Sans', sans-serif;letter-spacing:0.2px;line-height:1;white-space:nowrap">Position (mm)</div><div style="position:absolute;left:287px;top:908.5px;transform-origin:0 0;transform:rotate(-90deg) translate(-50%,0);font:20px 'Liberation Sans', sans-serif;line-height:1;white-space:nowrap"><span style="position:relative;top:-16.9px">Time (h)</span></div>
</body></html>
